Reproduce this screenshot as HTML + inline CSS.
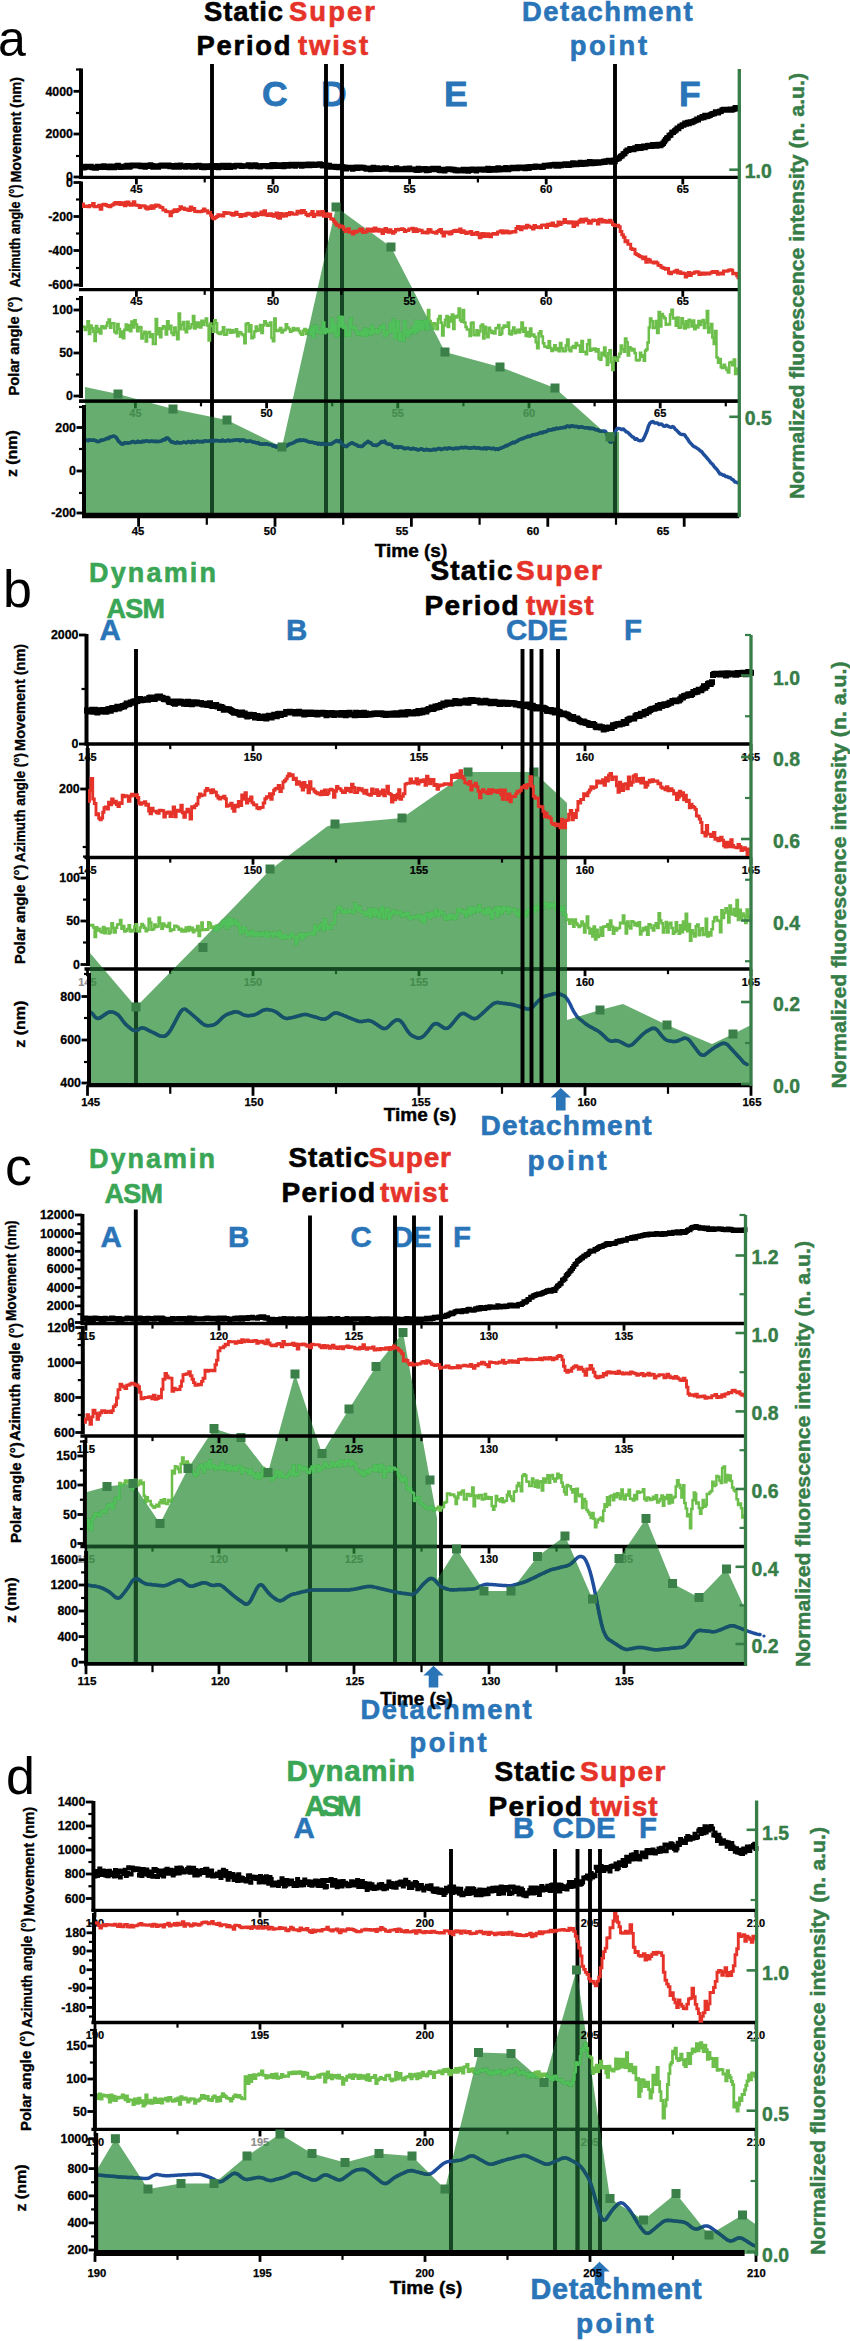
<!DOCTYPE html>
<html><head><meta charset="utf-8"><title>Figure</title>
<style>html,body{margin:0;padding:0;background:#fff}svg{display:block}text{font-family:"Liberation Sans", sans-serif}</style>
</head><body>
<svg width="850" height="2341" viewBox="0 0 850 2341" font-family='"Liberation Sans", sans-serif'>
<text x="262" y="106.3" font-size="35.5" fill="#2a74b8" font-weight="bold" stroke="#2a74b8" stroke-width="0.78">C</text>
<text x="321" y="106.3" font-size="35.5" fill="#2a74b8" font-weight="bold" stroke="#2a74b8" stroke-width="0.78">D</text>
<text x="444" y="106.3" font-size="35.5" fill="#2a74b8" font-weight="bold" stroke="#2a74b8" stroke-width="0.78">E</text>
<text x="679" y="106.3" font-size="35.5" fill="#2a74b8" font-weight="bold" stroke="#2a74b8" stroke-width="0.78">F</text>
<line x1="212" y1="64" x2="212" y2="515" stroke="#000" stroke-width="3.9" stroke-linecap="butt"/>
<line x1="326" y1="64" x2="326" y2="515" stroke="#000" stroke-width="3.9" stroke-linecap="butt"/>
<line x1="342" y1="64" x2="342" y2="515" stroke="#000" stroke-width="3.9" stroke-linecap="butt"/>
<line x1="615" y1="64" x2="615" y2="515" stroke="#000" stroke-width="3.9" stroke-linecap="butt"/>
<line x1="79" y1="401.2" x2="739.3" y2="401.2" stroke="#000" stroke-width="3.3" stroke-linecap="butt"/>
<line x1="135.4" y1="401.2" x2="135.4" y2="408.34999999999997" stroke="#000" stroke-width="2.8" stroke-linecap="butt"/>
<line x1="266.6" y1="401.2" x2="266.6" y2="408.34999999999997" stroke="#000" stroke-width="2.8" stroke-linecap="butt"/>
<line x1="397.8" y1="401.2" x2="397.8" y2="408.34999999999997" stroke="#000" stroke-width="2.8" stroke-linecap="butt"/>
<line x1="529" y1="401.2" x2="529" y2="408.34999999999997" stroke="#000" stroke-width="2.8" stroke-linecap="butt"/>
<line x1="660.2" y1="401.2" x2="660.2" y2="408.34999999999997" stroke="#000" stroke-width="2.8" stroke-linecap="butt"/>
<line x1="201.0" y1="401.2" x2="201.0" y2="406.34999999999997" stroke="#000" stroke-width="2.2" stroke-linecap="butt"/>
<line x1="332.20000000000005" y1="401.2" x2="332.20000000000005" y2="406.34999999999997" stroke="#000" stroke-width="2.2" stroke-linecap="butt"/>
<line x1="463.4" y1="401.2" x2="463.4" y2="406.34999999999997" stroke="#000" stroke-width="2.2" stroke-linecap="butt"/>
<line x1="594.6" y1="401.2" x2="594.6" y2="406.34999999999997" stroke="#000" stroke-width="2.2" stroke-linecap="butt"/>
<line x1="725.8" y1="401.2" x2="725.8" y2="406.34999999999997" stroke="#000" stroke-width="2.2" stroke-linecap="butt"/>
<text x="135.4" y="416.8" font-size="11" fill="#000" font-weight="bold" text-anchor="middle" textLength="12.2" lengthAdjust="spacingAndGlyphs" stroke="#000" stroke-width="0.24" opacity="0.45">45</text>
<text x="266.6" y="416.8" font-size="11" fill="#000" font-weight="bold" text-anchor="middle" textLength="12.2" lengthAdjust="spacingAndGlyphs" stroke="#000" stroke-width="0.24">50</text>
<text x="397.8" y="416.8" font-size="11" fill="#000" font-weight="bold" text-anchor="middle" textLength="12.2" lengthAdjust="spacingAndGlyphs" stroke="#000" stroke-width="0.24" opacity="0.45">55</text>
<text x="529" y="416.8" font-size="11" fill="#000" font-weight="bold" text-anchor="middle" textLength="12.2" lengthAdjust="spacingAndGlyphs" stroke="#000" stroke-width="0.24" opacity="0.45">60</text>
<text x="660.2" y="416.8" font-size="11" fill="#000" font-weight="bold" text-anchor="middle" textLength="12.2" lengthAdjust="spacingAndGlyphs" stroke="#000" stroke-width="0.24">65</text>
<polyline points="82.0,326.6 83.4,326.6 83.4,326.9 84.8,326.9 84.8,330.0 86.2,330.0 86.2,327.1 87.5,327.1 87.5,321.2 88.9,321.2 88.9,333.9 90.3,333.9 90.3,325.4 91.7,325.4 91.7,328.3 93.1,328.3 93.1,331.7 94.5,331.7 94.5,341.0 95.8,341.0 95.8,325.9 97.2,325.9 97.2,332.1 98.6,332.1 98.6,328.8 100.0,328.8 100.0,333.5 101.4,333.5 101.4,326.3 102.9,326.3 102.9,327.6 104.3,327.6 104.3,328.3 105.7,328.3 105.7,325.9 107.1,325.9 107.1,322.4 108.6,322.4 108.6,319.4 110.0,319.4 110.0,327.7 111.4,327.7 111.4,323.2 112.9,323.2 112.9,323.2 114.3,323.2 114.3,331.8 115.7,331.8 115.7,333.2 117.1,333.2 117.1,324.1 118.6,324.1 118.6,329.1 120.0,329.1 120.0,336.8 121.4,336.8 121.4,331.6 122.9,331.6 122.9,338.2 124.3,338.2 124.3,329.7 125.7,329.7 125.7,324.6 127.1,324.6 127.1,330.1 128.6,330.1 128.6,325.3 130.0,325.3 130.0,331.2 131.4,331.2 131.4,321.4 132.9,321.4 132.9,327.6 134.3,327.6 134.3,320.3 135.7,320.3 135.7,324.5 137.1,324.5 137.1,331.2 138.6,331.2 138.6,327.0 140.0,327.0 140.0,327.3 141.4,327.3 141.4,338.5 142.9,338.5 142.9,333.9 144.3,333.9 144.3,331.8 145.7,331.8 145.7,341.6 147.1,341.6 147.1,333.1 148.6,333.1 148.6,331.9 150.0,331.9 150.0,337.1 151.4,337.1 151.4,334.2 152.9,334.2 152.9,344.1 154.3,344.1 154.3,343.9 155.7,343.9 155.7,318.9 157.1,318.9 157.1,334.2 158.6,334.2 158.6,328.3 160.0,328.3 160.0,337.2 161.4,337.2 161.4,328.7 162.9,328.7 162.9,326.2 164.3,326.2 164.3,327.0 165.7,327.0 165.7,334.5 167.1,334.5 167.1,321.3 168.6,321.3 168.6,329.0 170.0,329.0 170.0,325.8 171.4,325.8 171.4,332.9 172.9,332.9 172.9,334.9 174.3,334.9 174.3,327.4 175.7,327.4 175.7,332.3 177.1,332.3 177.1,339.2 178.6,339.2 178.6,313.4 180.0,313.4 180.0,329.3 181.4,329.3 181.4,324.8 182.9,324.8 182.9,322.0 184.3,322.0 184.3,329.4 185.7,329.4 185.7,332.2 187.1,332.2 187.1,321.7 188.6,321.7 188.6,328.6 190.0,328.6 190.0,327.4 191.4,327.4 191.4,324.3 192.9,324.3 192.9,316.1 194.3,316.1 194.3,328.6 195.7,328.6 195.7,322.5 197.1,322.5 197.1,326.9 198.6,326.9 198.6,322.5 200.0,322.5 200.0,327.5 201.4,327.5 201.4,320.7 202.9,320.7 202.9,324.9 204.3,324.9 204.3,321.8 205.7,321.8 205.7,318.5 207.1,318.5 207.1,325.6 208.6,325.6 208.6,340.5 210.0,340.5 210.0,323.5 211.4,323.5 211.4,326.2 212.9,326.2 212.9,331.7 214.3,331.7 214.3,320.3 215.7,320.3 215.7,323.2 217.1,323.2 217.1,332.4 218.6,332.4 218.6,333.8 220.0,333.8 220.0,333.9 221.4,333.9 221.4,331.7 222.9,331.7 222.9,327.3 224.3,327.3 224.3,334.8 225.7,334.8 225.7,334.5 227.1,334.5 227.1,329.7 228.6,329.7 228.6,329.7 230.0,329.7 230.0,332.7 231.4,332.7 231.4,330.3 232.9,330.3 232.9,332.6 234.3,332.6 234.3,331.5 235.7,331.5 235.7,329.3 237.1,329.3 237.1,336.3 238.6,336.3 238.6,331.9 240.0,331.9 240.0,332.5 241.4,332.5 241.4,334.2 242.9,334.2 242.9,335.2 244.3,335.2 244.3,343.3 245.7,343.3 245.7,324.0 247.1,324.0 247.1,323.3 248.6,323.3 248.6,331.4 250.0,331.4 250.0,325.2 251.4,325.2 251.4,338.2 252.9,338.2 252.9,337.0 254.3,337.0 254.3,331.5 255.7,331.5 255.7,326.5 257.1,326.5 257.1,330.8 258.6,330.8 258.6,329.4 260.0,329.4 260.0,325.1 261.4,325.1 261.4,333.1 262.9,333.1 262.9,325.3 264.3,325.3 264.3,321.3 265.7,321.3 265.7,323.6 267.1,323.6 267.1,325.7 268.6,325.7 268.6,325.3 270.0,325.3 270.0,322.5 271.4,322.5 271.4,337.9 272.9,337.9 272.9,341.2 274.3,341.2 274.3,318.5 275.7,318.5 275.7,330.7 277.1,330.7 277.1,331.0 278.6,331.0 278.6,329.8 280.0,329.8 280.0,327.9 281.4,327.9 281.4,332.5 282.9,332.5 282.9,330.5 284.3,330.5 284.3,329.7 285.7,329.7 285.7,324.3 287.1,324.3 287.1,327.6 288.6,327.6 288.6,328.9 290.0,328.9 290.0,331.8 291.4,331.8 291.4,330.7 292.9,330.7 292.9,328.1 294.3,328.1 294.3,330.3 295.7,330.3 295.7,329.6 297.1,329.6 297.1,328.4 298.6,328.4 298.6,331.0 300.0,331.0 300.0,333.3 301.4,333.3 301.4,334.7 302.9,334.7 302.9,330.8 304.3,330.8 304.3,329.0 305.7,329.0 305.7,334.0 307.1,334.0 307.1,329.9 308.6,329.9 308.6,330.5 310.0,330.5 310.0,334.3 311.4,334.3 311.4,327.8 312.9,327.8 312.9,336.7 314.3,336.7 314.3,325.8 315.7,325.8 315.7,326.1 317.1,326.1 317.1,331.9 318.6,331.9 318.6,332.2 320.0,332.2 320.0,333.3 321.4,333.3 321.4,327.9 322.9,327.9 322.9,322.2 324.3,322.2 324.3,333.2 325.7,333.2 325.7,328.9 327.1,328.9 327.1,332.0 328.6,332.0 328.6,329.8 330.0,329.8 330.0,332.3 331.4,332.3 331.4,318.9 332.9,318.9 332.9,331.6 334.3,331.6 334.3,324.8 335.7,324.8 335.7,336.3 337.1,336.3 337.1,335.1 338.6,335.1 338.6,316.6 340.0,316.6 340.0,326.6 341.4,326.6 341.4,316.7 342.9,316.7 342.9,327.9 344.3,327.9 344.3,325.0 345.7,325.0 345.7,335.5 347.1,335.5 347.1,331.9 348.6,331.9 348.6,335.7 350.0,335.7 350.0,318.4 351.4,318.4 351.4,326.9 352.9,326.9 352.9,328.6 354.3,328.6 354.3,326.9 355.7,326.9 355.7,331.4 357.1,331.4 357.1,334.4 358.6,334.4 358.6,332.6 360.0,332.6 360.0,334.0 361.4,334.0 361.4,331.9 362.9,331.9 362.9,335.4 364.3,335.4 364.3,328.4 365.7,328.4 365.7,335.4 367.1,335.4 367.1,329.7 368.6,329.7 368.6,332.1 370.0,332.1 370.0,334.4 371.4,334.4 371.4,326.1 372.9,326.1 372.9,332.8 374.3,332.8 374.3,331.6 375.7,331.6 375.7,329.4 377.1,329.4 377.1,333.0 378.6,333.0 378.6,331.6 380.0,331.6 380.0,326.8 381.4,326.8 381.4,328.3 382.9,328.3 382.9,325.0 384.3,325.0 384.3,335.9 385.7,335.9 385.7,334.8 387.1,334.8 387.1,331.5 388.6,331.5 388.6,332.1 390.0,332.1 390.0,323.2 391.4,323.2 391.4,331.1 392.9,331.1 392.9,319.8 394.3,319.8 394.3,337.8 395.7,337.8 395.7,330.6 397.1,330.6 397.1,321.2 398.6,321.2 398.6,340.0 400.0,340.0 400.0,332.9 401.4,332.9 401.4,340.1 402.8,340.1 402.8,340.4 404.2,340.4 404.2,321.2 405.6,321.2 405.6,331.8 406.9,331.8 406.9,336.1 408.3,336.1 408.3,330.4 409.7,330.4 409.7,333.6 411.1,333.6 411.1,329.9 412.5,329.9 412.5,327.2 413.9,327.2 413.9,333.0 415.3,333.0 415.3,321.0 416.7,321.0 416.7,330.9 418.1,330.9 418.1,321.5 419.4,321.5 419.4,329.0 420.8,329.0 420.8,321.5 422.2,321.5 422.2,328.8 423.6,328.8 423.6,321.6 425.0,321.6 425.0,321.0 426.4,321.0 426.4,329.4 427.9,329.4 427.9,310.1 429.3,310.1 429.3,320.9 430.7,320.9 430.7,323.6 432.1,323.6 432.1,328.8 433.6,328.8 433.6,323.3 435.0,323.3 435.0,324.2 436.4,324.2 436.4,329.2 437.9,329.2 437.9,318.9 439.3,318.9 439.3,315.9 440.7,315.9 440.7,322.8 442.1,322.8 442.1,335.6 443.6,335.6 443.6,325.6 445.0,325.6 445.0,319.8 446.4,319.8 446.4,315.9 447.7,315.9 447.7,326.9 449.1,326.9 449.1,317.3 450.5,317.3 450.5,321.5 451.8,321.5 451.8,314.4 453.2,314.4 453.2,329.0 454.5,329.0 454.5,316.0 455.9,316.0 455.9,317.4 457.3,317.4 457.3,315.8 458.6,315.8 458.6,308.6 460.0,308.6 460.0,320.2 461.4,320.2 461.4,321.7 462.7,321.7 462.7,310.0 464.1,310.0 464.1,322.5 465.5,322.5 465.5,327.0 466.8,327.0 466.8,329.5 468.2,329.5 468.2,329.6 469.5,329.6 469.5,335.9 470.9,335.9 470.9,323.1 472.3,323.1 472.3,322.4 473.6,322.4 473.6,335.1 475.0,335.1 475.0,335.2 476.4,335.2 476.4,330.3 477.7,330.3 477.7,335.3 479.1,335.3 479.1,331.4 480.5,331.4 480.5,326.1 481.8,326.1 481.8,324.6 483.2,324.6 483.2,338.5 484.5,338.5 484.5,326.8 485.9,326.8 485.9,333.6 487.3,333.6 487.3,337.2 488.6,337.2 488.6,327.7 490.0,327.7 490.0,330.4 491.4,330.4 491.4,332.9 492.7,332.9 492.7,331.5 494.1,331.5 494.1,333.5 495.5,333.5 495.5,328.2 496.8,328.2 496.8,327.8 498.2,327.8 498.2,325.0 499.5,325.0 499.5,334.8 500.9,334.8 500.9,333.5 502.3,333.5 502.3,328.1 503.6,328.1 503.6,325.6 505.0,325.6 505.0,326.7 506.4,326.7 506.4,326.8 507.7,326.8 507.7,322.6 509.1,322.6 509.1,333.7 510.5,333.7 510.5,334.4 511.8,334.4 511.8,330.8 513.2,330.8 513.2,327.4 514.5,327.4 514.5,333.3 515.9,333.3 515.9,331.4 517.3,331.4 517.3,329.7 518.6,329.7 518.6,332.6 520.0,332.6 520.0,329.4 521.4,329.4 521.4,322.5 522.9,322.5 522.9,331.8 524.3,331.8 524.3,328.0 525.7,328.0 525.7,335.9 527.1,335.9 527.1,331.9 528.6,331.9 528.6,336.5 530.0,336.5 530.0,328.5 531.4,328.5 531.4,335.5 532.9,335.5 532.9,334.4 534.3,334.4 534.3,336.8 535.7,336.8 535.7,342.2 537.1,342.2 537.1,348.3 538.6,348.3 538.6,333.2 540.0,333.2 540.0,331.2 541.4,331.2 541.4,336.4 542.9,336.4 542.9,343.2 544.3,343.2 544.3,346.6 545.7,346.6 545.7,346.8 547.1,346.8 547.1,347.7 548.6,347.7 548.6,341.3 550.0,341.3 550.0,348.1 551.4,348.1 551.4,351.0 552.9,351.0 552.9,349.2 554.3,349.2 554.3,345.3 555.7,345.3 555.7,349.9 557.1,349.9 557.1,348.2 558.6,348.2 558.6,351.2 560.0,351.2 560.0,343.0 561.4,343.0 561.4,348.3 562.9,348.3 562.9,351.3 564.3,351.3 564.3,351.2 565.7,351.2 565.7,345.4 567.1,345.4 567.1,339.5 568.6,339.5 568.6,350.1 570.0,350.1 570.0,351.2 571.4,351.2 571.4,347.4 572.9,347.4 572.9,345.9 574.3,345.9 574.3,348.0 575.7,348.0 575.7,343.1 577.1,343.1 577.1,345.6 578.6,345.6 578.6,345.6 580.0,345.6 580.0,351.7 581.4,351.7 581.4,341.1 582.9,341.1 582.9,351.7 584.3,351.7 584.3,351.8 585.7,351.8 585.7,354.2 587.1,354.2 587.1,344.3 588.6,344.3 588.6,339.9 590.0,339.9 590.0,350.7 591.4,350.7 591.4,348.7 592.9,348.7 592.9,349.7 594.3,349.7 594.3,348.5 595.7,348.5 595.7,351.4 597.1,351.4 597.1,349.2 598.6,349.2 598.6,358.4 600.0,358.4 600.0,359.8 601.4,359.8 601.4,352.8 602.7,352.8 602.7,355.2 604.1,355.2 604.1,347.5 605.5,347.5 605.5,356.3 606.8,356.3 606.8,365.1 608.2,365.1 608.2,353.2 609.5,353.2 609.5,350.3 610.9,350.3 610.9,362.3 612.3,362.3 612.3,370.1 613.6,370.1 613.6,357.5 615.0,357.5 615.0,358.8 616.4,358.8 616.4,360.7 617.9,360.7 617.9,357.0 619.3,357.0 619.3,353.7 620.7,353.7 620.7,345.4 622.1,345.4 622.1,348.9 623.6,348.9 623.6,351.7 625.0,351.7 625.0,338.6 626.4,338.6 626.4,342.2 627.7,342.2 627.7,355.6 629.1,355.6 629.1,347.2 630.5,347.2 630.5,348.4 631.8,348.4 631.8,350.5 633.2,350.5 633.2,349.0 634.5,349.0 634.5,353.1 635.9,353.1 635.9,360.0 637.3,360.0 637.3,360.6 638.6,360.6 638.6,360.0 640.0,360.0 640.0,352.8 641.2,352.8 641.2,356.8 642.5,356.8 642.5,355.2 643.8,355.2 643.8,360.8 645.0,360.8 645.0,350.7 646.2,350.7 646.2,349.6 647.5,349.6 647.5,342.4 648.8,342.4 648.8,327.4 650.0,327.4 650.0,318.5 651.4,318.5 651.4,321.3 652.9,321.3 652.9,327.9 654.3,327.9 654.3,327.4 655.7,327.4 655.7,321.1 657.1,321.1 657.1,333.0 658.6,333.0 658.6,312.0 660.0,312.0 660.0,326.6 661.4,326.6 661.4,313.9 662.9,313.9 662.9,316.4 664.3,316.4 664.3,318.2 665.7,318.2 665.7,324.8 667.1,324.8 667.1,324.1 668.6,324.1 668.6,324.4 670.0,324.4 670.0,314.4 671.4,314.4 671.4,309.8 672.9,309.8 672.9,318.4 674.3,318.4 674.3,317.9 675.7,317.9 675.7,325.7 677.1,325.7 677.1,317.5 678.6,317.5 678.6,327.7 680.0,327.7 680.0,327.4 681.4,327.4 681.4,318.2 682.9,318.2 682.9,323.8 684.3,323.8 684.3,328.6 685.7,328.6 685.7,321.2 687.1,321.2 687.1,327.2 688.6,327.2 688.6,319.7 690.0,319.7 690.0,321.4 691.4,321.4 691.4,326.6 692.8,326.6 692.8,320.6 694.2,320.6 694.2,329.2 695.6,329.2 695.6,325.6 697.0,325.6 697.0,327.5 698.4,327.5 698.4,320.9 699.8,320.9 699.8,324.9 701.2,324.9 701.2,321.8 702.6,321.8 702.6,320.0 704.0,320.0 704.0,327.9 705.4,327.9 705.4,322.7 706.8,322.7 706.8,311.1 708.2,311.1 708.2,332.6 709.6,332.6 709.6,327.6 711.0,327.6 711.0,324.0 712.3,324.0 712.3,337.4 713.7,337.4 713.7,344.0 715.0,344.0 715.0,330.9 716.5,330.9 716.5,357.6 718.0,357.6 718.0,362.8 719.4,362.8 719.4,359.0 720.8,359.0 720.8,367.3 722.2,367.3 722.2,367.9 723.6,367.9 723.6,364.8 725.0,364.8 725.0,367.6 726.4,367.6 726.4,369.9 727.9,369.9 727.9,372.4 729.3,372.4 729.3,362.8 730.8,362.8 730.8,362.0 732.2,362.0 732.2,365.3 733.7,365.3 733.7,359.5 735.1,359.5 735.1,373.9 736.6,373.9 736.6,369.1 738.0,369.1 738.0,367.2" fill="none" stroke="#6dbf4b" stroke-width="2.5" stroke-linejoin="miter" stroke-linecap="miter"/>
<polyline points="85.0,439.9 86.5,440.0 88.0,440.7 89.5,439.8 91.0,440.3 92.5,440.3 94.0,440.0 95.5,440.6 97.0,441.4 98.5,441.6 100.0,441.0 101.4,439.9 102.9,440.2 104.3,439.6 105.7,439.0 107.1,438.2 108.6,438.5 110.0,437.0 111.7,436.6 113.3,436.1 115.0,436.4 116.7,438.0 118.3,440.9 120.0,442.5 121.5,443.9 123.0,444.1 124.5,442.8 126.0,442.9 127.5,443.1 129.0,442.9 130.5,442.6 132.0,441.8 133.5,441.6 135.0,442.6 136.5,442.2 137.9,441.3 139.4,442.1 140.9,442.2 142.4,441.2 143.8,441.7 145.3,441.1 146.8,440.9 148.2,441.3 149.7,441.5 151.2,441.1 152.6,441.2 154.1,441.4 155.6,441.3 157.1,441.6 158.5,441.4 160.0,441.2 161.6,440.9 163.2,439.6 164.8,439.8 166.4,438.0 168.0,438.2 169.7,440.1 171.3,441.9 173.0,442.1 174.5,442.8 176.0,443.0 177.5,442.1 179.0,443.1 180.5,442.7 182.0,442.8 183.5,442.0 185.0,442.4 186.5,442.7 188.0,441.6 189.5,441.7 191.0,442.6 192.5,441.3 194.0,442.4 195.5,441.7 197.0,441.3 198.5,441.5 200.0,441.8 201.5,441.3 203.0,442.0 204.5,440.7 206.0,441.1 207.5,441.3 209.0,440.9 210.5,441.2 212.0,440.3 213.5,441.6 214.9,440.4 216.4,440.5 217.9,440.8 219.4,440.8 220.8,441.3 222.3,440.0 223.8,441.0 225.3,440.9 226.7,440.7 228.2,440.1 229.7,440.9 231.2,440.6 232.6,440.6 234.1,440.2 235.6,439.9 237.1,440.0 238.5,439.8 240.0,440.8 241.5,440.1 243.0,440.1 244.5,440.2 246.0,441.5 247.5,441.2 249.0,441.2 250.5,441.1 252.0,441.7 253.5,442.3 255.0,442.3 256.5,442.9 258.0,442.6 259.5,443.9 261.0,443.9 262.5,444.3 264.0,444.0 265.5,443.9 267.0,443.8 268.5,444.4 270.0,444.6 271.5,444.9 273.0,446.1 274.5,445.5 276.0,446.9 277.5,446.0 279.0,447.4 280.5,446.7 282.0,447.2 283.5,447.1 285.0,445.8 286.5,446.0 288.0,444.9 289.5,444.1 291.0,443.6 292.5,443.3 294.0,442.5 295.5,441.5 297.0,440.6 298.5,440.7 300.0,439.7 301.5,440.6 303.0,440.0 304.5,440.4 306.0,440.6 307.5,441.4 309.0,441.9 310.5,442.3 312.0,442.2 313.5,442.4 315.0,443.3 316.5,442.9 318.0,444.1 319.5,443.3 321.0,444.4 322.5,443.3 324.0,444.4 325.5,444.2 327.0,444.2 328.5,444.2 330.0,444.1 331.6,444.0 333.2,442.6 334.8,441.8 336.4,440.5 338.0,441.4 339.4,440.7 340.8,442.4 342.2,444.2 343.6,445.4 345.0,446.1 346.4,446.6 347.8,445.3 349.2,444.2 350.6,443.5 352.0,442.8 353.6,443.7 355.2,444.4 356.8,445.0 358.4,446.3 360.0,446.3 361.6,446.4 363.2,445.6 364.8,443.7 366.4,442.8 368.0,441.4 369.4,442.5 370.8,442.8 372.2,444.5 373.6,445.3 375.0,445.3 376.6,445.5 378.2,444.5 379.8,443.4 381.4,441.6 383.0,442.3 384.5,441.1 386.0,443.2 387.5,443.8 389.0,444.3 390.5,444.3 392.0,444.9 393.5,446.8 395.0,447.3 396.5,446.5 398.0,447.7 399.5,446.8 401.0,447.2 402.5,447.2 404.0,448.6 405.5,448.6 407.0,448.2 408.5,448.2 410.0,448.8 411.5,449.0 413.0,448.3 414.5,448.9 416.0,448.9 417.5,449.9 419.0,449.7 420.5,449.1 422.0,449.1 423.5,449.9 425.0,450.0 426.5,449.2 428.0,450.0 429.4,449.8 430.9,450.3 432.4,449.8 433.9,449.2 435.4,450.0 436.9,449.1 438.3,448.7 439.8,448.4 441.3,449.6 442.8,449.0 444.3,448.4 445.7,448.2 447.2,449.0 448.7,447.9 450.2,448.2 451.7,448.4 453.1,448.9 454.6,448.5 456.1,448.1 457.6,448.7 459.1,448.1 460.6,447.6 462.0,447.5 463.5,447.8 465.0,447.3 466.5,447.6 468.0,447.8 469.6,448.3 471.1,448.1 472.6,447.8 474.1,447.4 475.7,448.0 477.2,448.1 478.7,447.7 480.2,448.6 481.7,448.4 483.3,448.8 484.8,447.7 486.3,448.9 487.8,448.0 489.3,448.2 490.9,448.4 492.4,448.7 493.9,448.2 495.4,449.5 497.0,448.8 498.5,449.4 500.0,448.3 501.5,448.1 502.9,447.3 504.4,446.7 505.9,445.6 507.4,445.7 508.8,444.5 510.3,443.9 511.8,443.2 513.2,442.3 514.7,442.7 516.2,441.5 517.6,441.0 519.1,439.6 520.6,439.3 522.1,438.6 523.5,438.4 525.0,437.4 526.5,437.2 527.9,436.2 529.4,436.5 530.9,436.0 532.4,434.7 533.8,434.7 535.3,434.4 536.8,434.3 538.2,433.7 539.7,433.0 541.2,432.5 542.6,432.8 544.1,431.8 545.6,431.8 547.1,431.2 548.5,429.8 550.0,430.1 551.5,430.1 553.1,429.0 554.6,429.5 556.2,428.2 557.7,428.6 559.2,428.4 560.8,427.8 562.3,427.8 563.8,427.3 565.4,427.4 566.9,426.1 568.5,426.3 570.0,426.8 571.5,425.8 572.9,426.0 574.4,426.6 575.9,426.6 577.4,426.6 578.8,427.5 580.3,426.9 581.8,426.8 583.2,427.4 584.7,427.7 586.2,427.8 587.6,427.7 589.1,428.4 590.6,428.2 592.1,428.5 593.5,428.6 595.0,429.5 596.5,429.7 598.0,430.0 599.5,430.9 601.0,431.3 602.5,431.1 604.0,431.0 605.5,431.5 607.0,434.0 608.5,438.8 610.0,441.9 611.3,442.2 612.7,438.6 614.0,435.1 615.5,431.3 617.0,428.5 618.6,428.6 620.2,428.7 621.8,429.6 623.4,429.0 625.0,430.6 626.4,431.9 627.8,432.4 629.2,433.9 630.6,435.1 632.0,436.6 633.6,437.3 635.2,439.3 636.8,438.7 638.4,440.4 640.0,440.7 641.3,440.6 642.7,440.2 644.0,437.9 645.5,434.5 647.0,431.0 648.5,426.0 650.0,423.1 651.5,422.0 653.0,421.6 654.5,423.0 656.0,423.1 657.5,423.0 659.0,424.6 660.5,424.1 662.0,424.3 663.5,426.0 665.0,426.2 666.5,425.3 668.0,426.2 669.5,426.9 671.0,427.3 672.5,426.6 674.0,427.4 675.5,429.5 677.0,430.7 678.5,432.4 680.0,433.8 681.5,434.5 683.0,434.6 684.5,434.7 686.0,437.0 687.7,439.1 689.3,441.8 691.0,443.6 692.5,445.2 694.0,446.6 695.5,447.2 697.0,448.3 698.6,449.2 700.2,450.7 701.8,451.7 703.4,454.1 705.0,455.7 706.5,457.5 708.0,459.2 709.5,461.0 711.0,463.0 712.5,464.2 714.0,466.3 715.5,468.0 717.0,469.6 718.5,471.7 720.0,474.0 721.4,474.0 722.9,475.3 724.3,475.1 725.7,476.6 727.1,476.6 728.6,477.4 730.0,477.5 731.6,479.1 733.2,479.8 734.8,481.9 736.4,482.3 738.0,482.9" fill="none" stroke="#1f4e9c" stroke-width="3.5" stroke-linejoin="round" stroke-linecap="round"/>
<polygon points="85.0,387.0 118.0,394.0 173.0,409.0 227.0,420.0 282.0,447.0 336.0,207.0 391.0,247.0 445.0,352.0 500.0,367.0 555.0,388.0 604.0,432.0 619.0,432.0 619.0,516.0 85.0,516.0" fill="#278a33" fill-opacity="0.7"/>
<clipPath id="cp1"><polygon points="85.0,387.0 118.0,394.0 173.0,409.0 227.0,420.0 282.0,447.0 336.0,207.0 391.0,247.0 445.0,352.0 500.0,367.0 555.0,388.0 604.0,432.0 619.0,432.0 619.0,516.0 85.0,516.0"/></clipPath>
<line clip-path="url(#cp1)" x1="212" y1="64" x2="212" y2="515" stroke="#164524" stroke-width="3.9"/>
<line clip-path="url(#cp1)" x1="326" y1="64" x2="326" y2="515" stroke="#164524" stroke-width="3.9"/>
<line clip-path="url(#cp1)" x1="342" y1="64" x2="342" y2="515" stroke="#164524" stroke-width="3.9"/>
<line clip-path="url(#cp1)" x1="615" y1="64" x2="615" y2="515" stroke="#164524" stroke-width="3.9"/>
<polyline clip-path="url(#cp1)" points="85.0,439.9 86.5,440.0 88.0,440.7 89.5,439.8 91.0,440.3 92.5,440.3 94.0,440.0 95.5,440.6 97.0,441.4 98.5,441.6 100.0,441.0 101.4,439.9 102.9,440.2 104.3,439.6 105.7,439.0 107.1,438.2 108.6,438.5 110.0,437.0 111.7,436.6 113.3,436.1 115.0,436.4 116.7,438.0 118.3,440.9 120.0,442.5 121.5,443.9 123.0,444.1 124.5,442.8 126.0,442.9 127.5,443.1 129.0,442.9 130.5,442.6 132.0,441.8 133.5,441.6 135.0,442.6 136.5,442.2 137.9,441.3 139.4,442.1 140.9,442.2 142.4,441.2 143.8,441.7 145.3,441.1 146.8,440.9 148.2,441.3 149.7,441.5 151.2,441.1 152.6,441.2 154.1,441.4 155.6,441.3 157.1,441.6 158.5,441.4 160.0,441.2 161.6,440.9 163.2,439.6 164.8,439.8 166.4,438.0 168.0,438.2 169.7,440.1 171.3,441.9 173.0,442.1 174.5,442.8 176.0,443.0 177.5,442.1 179.0,443.1 180.5,442.7 182.0,442.8 183.5,442.0 185.0,442.4 186.5,442.7 188.0,441.6 189.5,441.7 191.0,442.6 192.5,441.3 194.0,442.4 195.5,441.7 197.0,441.3 198.5,441.5 200.0,441.8 201.5,441.3 203.0,442.0 204.5,440.7 206.0,441.1 207.5,441.3 209.0,440.9 210.5,441.2 212.0,440.3 213.5,441.6 214.9,440.4 216.4,440.5 217.9,440.8 219.4,440.8 220.8,441.3 222.3,440.0 223.8,441.0 225.3,440.9 226.7,440.7 228.2,440.1 229.7,440.9 231.2,440.6 232.6,440.6 234.1,440.2 235.6,439.9 237.1,440.0 238.5,439.8 240.0,440.8 241.5,440.1 243.0,440.1 244.5,440.2 246.0,441.5 247.5,441.2 249.0,441.2 250.5,441.1 252.0,441.7 253.5,442.3 255.0,442.3 256.5,442.9 258.0,442.6 259.5,443.9 261.0,443.9 262.5,444.3 264.0,444.0 265.5,443.9 267.0,443.8 268.5,444.4 270.0,444.6 271.5,444.9 273.0,446.1 274.5,445.5 276.0,446.9 277.5,446.0 279.0,447.4 280.5,446.7 282.0,447.2 283.5,447.1 285.0,445.8 286.5,446.0 288.0,444.9 289.5,444.1 291.0,443.6 292.5,443.3 294.0,442.5 295.5,441.5 297.0,440.6 298.5,440.7 300.0,439.7 301.5,440.6 303.0,440.0 304.5,440.4 306.0,440.6 307.5,441.4 309.0,441.9 310.5,442.3 312.0,442.2 313.5,442.4 315.0,443.3 316.5,442.9 318.0,444.1 319.5,443.3 321.0,444.4 322.5,443.3 324.0,444.4 325.5,444.2 327.0,444.2 328.5,444.2 330.0,444.1 331.6,444.0 333.2,442.6 334.8,441.8 336.4,440.5 338.0,441.4 339.4,440.7 340.8,442.4 342.2,444.2 343.6,445.4 345.0,446.1 346.4,446.6 347.8,445.3 349.2,444.2 350.6,443.5 352.0,442.8 353.6,443.7 355.2,444.4 356.8,445.0 358.4,446.3 360.0,446.3 361.6,446.4 363.2,445.6 364.8,443.7 366.4,442.8 368.0,441.4 369.4,442.5 370.8,442.8 372.2,444.5 373.6,445.3 375.0,445.3 376.6,445.5 378.2,444.5 379.8,443.4 381.4,441.6 383.0,442.3 384.5,441.1 386.0,443.2 387.5,443.8 389.0,444.3 390.5,444.3 392.0,444.9 393.5,446.8 395.0,447.3 396.5,446.5 398.0,447.7 399.5,446.8 401.0,447.2 402.5,447.2 404.0,448.6 405.5,448.6 407.0,448.2 408.5,448.2 410.0,448.8 411.5,449.0 413.0,448.3 414.5,448.9 416.0,448.9 417.5,449.9 419.0,449.7 420.5,449.1 422.0,449.1 423.5,449.9 425.0,450.0 426.5,449.2 428.0,450.0 429.4,449.8 430.9,450.3 432.4,449.8 433.9,449.2 435.4,450.0 436.9,449.1 438.3,448.7 439.8,448.4 441.3,449.6 442.8,449.0 444.3,448.4 445.7,448.2 447.2,449.0 448.7,447.9 450.2,448.2 451.7,448.4 453.1,448.9 454.6,448.5 456.1,448.1 457.6,448.7 459.1,448.1 460.6,447.6 462.0,447.5 463.5,447.8 465.0,447.3 466.5,447.6 468.0,447.8 469.6,448.3 471.1,448.1 472.6,447.8 474.1,447.4 475.7,448.0 477.2,448.1 478.7,447.7 480.2,448.6 481.7,448.4 483.3,448.8 484.8,447.7 486.3,448.9 487.8,448.0 489.3,448.2 490.9,448.4 492.4,448.7 493.9,448.2 495.4,449.5 497.0,448.8 498.5,449.4 500.0,448.3 501.5,448.1 502.9,447.3 504.4,446.7 505.9,445.6 507.4,445.7 508.8,444.5 510.3,443.9 511.8,443.2 513.2,442.3 514.7,442.7 516.2,441.5 517.6,441.0 519.1,439.6 520.6,439.3 522.1,438.6 523.5,438.4 525.0,437.4 526.5,437.2 527.9,436.2 529.4,436.5 530.9,436.0 532.4,434.7 533.8,434.7 535.3,434.4 536.8,434.3 538.2,433.7 539.7,433.0 541.2,432.5 542.6,432.8 544.1,431.8 545.6,431.8 547.1,431.2 548.5,429.8 550.0,430.1 551.5,430.1 553.1,429.0 554.6,429.5 556.2,428.2 557.7,428.6 559.2,428.4 560.8,427.8 562.3,427.8 563.8,427.3 565.4,427.4 566.9,426.1 568.5,426.3 570.0,426.8 571.5,425.8 572.9,426.0 574.4,426.6 575.9,426.6 577.4,426.6 578.8,427.5 580.3,426.9 581.8,426.8 583.2,427.4 584.7,427.7 586.2,427.8 587.6,427.7 589.1,428.4 590.6,428.2 592.1,428.5 593.5,428.6 595.0,429.5 596.5,429.7 598.0,430.0 599.5,430.9 601.0,431.3 602.5,431.1 604.0,431.0 605.5,431.5 607.0,434.0 608.5,438.8 610.0,441.9 611.3,442.2 612.7,438.6 614.0,435.1 615.5,431.3 617.0,428.5 618.6,428.6 620.2,428.7 621.8,429.6 623.4,429.0 625.0,430.6 626.4,431.9 627.8,432.4 629.2,433.9 630.6,435.1 632.0,436.6 633.6,437.3 635.2,439.3 636.8,438.7 638.4,440.4 640.0,440.7 641.3,440.6 642.7,440.2 644.0,437.9 645.5,434.5 647.0,431.0 648.5,426.0 650.0,423.1 651.5,422.0 653.0,421.6 654.5,423.0 656.0,423.1 657.5,423.0 659.0,424.6 660.5,424.1 662.0,424.3 663.5,426.0 665.0,426.2 666.5,425.3 668.0,426.2 669.5,426.9 671.0,427.3 672.5,426.6 674.0,427.4 675.5,429.5 677.0,430.7 678.5,432.4 680.0,433.8 681.5,434.5 683.0,434.6 684.5,434.7 686.0,437.0 687.7,439.1 689.3,441.8 691.0,443.6 692.5,445.2 694.0,446.6 695.5,447.2 697.0,448.3 698.6,449.2 700.2,450.7 701.8,451.7 703.4,454.1 705.0,455.7 706.5,457.5 708.0,459.2 709.5,461.0 711.0,463.0 712.5,464.2 714.0,466.3 715.5,468.0 717.0,469.6 718.5,471.7 720.0,474.0 721.4,474.0 722.9,475.3 724.3,475.1 725.7,476.6 727.1,476.6 728.6,477.4 730.0,477.5 731.6,479.1 733.2,479.8 734.8,481.9 736.4,482.3 738.0,482.9" fill="none" stroke="#16506a" stroke-width="3.5" stroke-linejoin="round" stroke-linecap="round"/>
<polyline clip-path="url(#cp1)" points="82.0,326.6 83.4,326.6 83.4,326.9 84.8,326.9 84.8,330.0 86.2,330.0 86.2,327.1 87.5,327.1 87.5,321.2 88.9,321.2 88.9,333.9 90.3,333.9 90.3,325.4 91.7,325.4 91.7,328.3 93.1,328.3 93.1,331.7 94.5,331.7 94.5,341.0 95.8,341.0 95.8,325.9 97.2,325.9 97.2,332.1 98.6,332.1 98.6,328.8 100.0,328.8 100.0,333.5 101.4,333.5 101.4,326.3 102.9,326.3 102.9,327.6 104.3,327.6 104.3,328.3 105.7,328.3 105.7,325.9 107.1,325.9 107.1,322.4 108.6,322.4 108.6,319.4 110.0,319.4 110.0,327.7 111.4,327.7 111.4,323.2 112.9,323.2 112.9,323.2 114.3,323.2 114.3,331.8 115.7,331.8 115.7,333.2 117.1,333.2 117.1,324.1 118.6,324.1 118.6,329.1 120.0,329.1 120.0,336.8 121.4,336.8 121.4,331.6 122.9,331.6 122.9,338.2 124.3,338.2 124.3,329.7 125.7,329.7 125.7,324.6 127.1,324.6 127.1,330.1 128.6,330.1 128.6,325.3 130.0,325.3 130.0,331.2 131.4,331.2 131.4,321.4 132.9,321.4 132.9,327.6 134.3,327.6 134.3,320.3 135.7,320.3 135.7,324.5 137.1,324.5 137.1,331.2 138.6,331.2 138.6,327.0 140.0,327.0 140.0,327.3 141.4,327.3 141.4,338.5 142.9,338.5 142.9,333.9 144.3,333.9 144.3,331.8 145.7,331.8 145.7,341.6 147.1,341.6 147.1,333.1 148.6,333.1 148.6,331.9 150.0,331.9 150.0,337.1 151.4,337.1 151.4,334.2 152.9,334.2 152.9,344.1 154.3,344.1 154.3,343.9 155.7,343.9 155.7,318.9 157.1,318.9 157.1,334.2 158.6,334.2 158.6,328.3 160.0,328.3 160.0,337.2 161.4,337.2 161.4,328.7 162.9,328.7 162.9,326.2 164.3,326.2 164.3,327.0 165.7,327.0 165.7,334.5 167.1,334.5 167.1,321.3 168.6,321.3 168.6,329.0 170.0,329.0 170.0,325.8 171.4,325.8 171.4,332.9 172.9,332.9 172.9,334.9 174.3,334.9 174.3,327.4 175.7,327.4 175.7,332.3 177.1,332.3 177.1,339.2 178.6,339.2 178.6,313.4 180.0,313.4 180.0,329.3 181.4,329.3 181.4,324.8 182.9,324.8 182.9,322.0 184.3,322.0 184.3,329.4 185.7,329.4 185.7,332.2 187.1,332.2 187.1,321.7 188.6,321.7 188.6,328.6 190.0,328.6 190.0,327.4 191.4,327.4 191.4,324.3 192.9,324.3 192.9,316.1 194.3,316.1 194.3,328.6 195.7,328.6 195.7,322.5 197.1,322.5 197.1,326.9 198.6,326.9 198.6,322.5 200.0,322.5 200.0,327.5 201.4,327.5 201.4,320.7 202.9,320.7 202.9,324.9 204.3,324.9 204.3,321.8 205.7,321.8 205.7,318.5 207.1,318.5 207.1,325.6 208.6,325.6 208.6,340.5 210.0,340.5 210.0,323.5 211.4,323.5 211.4,326.2 212.9,326.2 212.9,331.7 214.3,331.7 214.3,320.3 215.7,320.3 215.7,323.2 217.1,323.2 217.1,332.4 218.6,332.4 218.6,333.8 220.0,333.8 220.0,333.9 221.4,333.9 221.4,331.7 222.9,331.7 222.9,327.3 224.3,327.3 224.3,334.8 225.7,334.8 225.7,334.5 227.1,334.5 227.1,329.7 228.6,329.7 228.6,329.7 230.0,329.7 230.0,332.7 231.4,332.7 231.4,330.3 232.9,330.3 232.9,332.6 234.3,332.6 234.3,331.5 235.7,331.5 235.7,329.3 237.1,329.3 237.1,336.3 238.6,336.3 238.6,331.9 240.0,331.9 240.0,332.5 241.4,332.5 241.4,334.2 242.9,334.2 242.9,335.2 244.3,335.2 244.3,343.3 245.7,343.3 245.7,324.0 247.1,324.0 247.1,323.3 248.6,323.3 248.6,331.4 250.0,331.4 250.0,325.2 251.4,325.2 251.4,338.2 252.9,338.2 252.9,337.0 254.3,337.0 254.3,331.5 255.7,331.5 255.7,326.5 257.1,326.5 257.1,330.8 258.6,330.8 258.6,329.4 260.0,329.4 260.0,325.1 261.4,325.1 261.4,333.1 262.9,333.1 262.9,325.3 264.3,325.3 264.3,321.3 265.7,321.3 265.7,323.6 267.1,323.6 267.1,325.7 268.6,325.7 268.6,325.3 270.0,325.3 270.0,322.5 271.4,322.5 271.4,337.9 272.9,337.9 272.9,341.2 274.3,341.2 274.3,318.5 275.7,318.5 275.7,330.7 277.1,330.7 277.1,331.0 278.6,331.0 278.6,329.8 280.0,329.8 280.0,327.9 281.4,327.9 281.4,332.5 282.9,332.5 282.9,330.5 284.3,330.5 284.3,329.7 285.7,329.7 285.7,324.3 287.1,324.3 287.1,327.6 288.6,327.6 288.6,328.9 290.0,328.9 290.0,331.8 291.4,331.8 291.4,330.7 292.9,330.7 292.9,328.1 294.3,328.1 294.3,330.3 295.7,330.3 295.7,329.6 297.1,329.6 297.1,328.4 298.6,328.4 298.6,331.0 300.0,331.0 300.0,333.3 301.4,333.3 301.4,334.7 302.9,334.7 302.9,330.8 304.3,330.8 304.3,329.0 305.7,329.0 305.7,334.0 307.1,334.0 307.1,329.9 308.6,329.9 308.6,330.5 310.0,330.5 310.0,334.3 311.4,334.3 311.4,327.8 312.9,327.8 312.9,336.7 314.3,336.7 314.3,325.8 315.7,325.8 315.7,326.1 317.1,326.1 317.1,331.9 318.6,331.9 318.6,332.2 320.0,332.2 320.0,333.3 321.4,333.3 321.4,327.9 322.9,327.9 322.9,322.2 324.3,322.2 324.3,333.2 325.7,333.2 325.7,328.9 327.1,328.9 327.1,332.0 328.6,332.0 328.6,329.8 330.0,329.8 330.0,332.3 331.4,332.3 331.4,318.9 332.9,318.9 332.9,331.6 334.3,331.6 334.3,324.8 335.7,324.8 335.7,336.3 337.1,336.3 337.1,335.1 338.6,335.1 338.6,316.6 340.0,316.6 340.0,326.6 341.4,326.6 341.4,316.7 342.9,316.7 342.9,327.9 344.3,327.9 344.3,325.0 345.7,325.0 345.7,335.5 347.1,335.5 347.1,331.9 348.6,331.9 348.6,335.7 350.0,335.7 350.0,318.4 351.4,318.4 351.4,326.9 352.9,326.9 352.9,328.6 354.3,328.6 354.3,326.9 355.7,326.9 355.7,331.4 357.1,331.4 357.1,334.4 358.6,334.4 358.6,332.6 360.0,332.6 360.0,334.0 361.4,334.0 361.4,331.9 362.9,331.9 362.9,335.4 364.3,335.4 364.3,328.4 365.7,328.4 365.7,335.4 367.1,335.4 367.1,329.7 368.6,329.7 368.6,332.1 370.0,332.1 370.0,334.4 371.4,334.4 371.4,326.1 372.9,326.1 372.9,332.8 374.3,332.8 374.3,331.6 375.7,331.6 375.7,329.4 377.1,329.4 377.1,333.0 378.6,333.0 378.6,331.6 380.0,331.6 380.0,326.8 381.4,326.8 381.4,328.3 382.9,328.3 382.9,325.0 384.3,325.0 384.3,335.9 385.7,335.9 385.7,334.8 387.1,334.8 387.1,331.5 388.6,331.5 388.6,332.1 390.0,332.1 390.0,323.2 391.4,323.2 391.4,331.1 392.9,331.1 392.9,319.8 394.3,319.8 394.3,337.8 395.7,337.8 395.7,330.6 397.1,330.6 397.1,321.2 398.6,321.2 398.6,340.0 400.0,340.0 400.0,332.9 401.4,332.9 401.4,340.1 402.8,340.1 402.8,340.4 404.2,340.4 404.2,321.2 405.6,321.2 405.6,331.8 406.9,331.8 406.9,336.1 408.3,336.1 408.3,330.4 409.7,330.4 409.7,333.6 411.1,333.6 411.1,329.9 412.5,329.9 412.5,327.2 413.9,327.2 413.9,333.0 415.3,333.0 415.3,321.0 416.7,321.0 416.7,330.9 418.1,330.9 418.1,321.5 419.4,321.5 419.4,329.0 420.8,329.0 420.8,321.5 422.2,321.5 422.2,328.8 423.6,328.8 423.6,321.6 425.0,321.6 425.0,321.0 426.4,321.0 426.4,329.4 427.9,329.4 427.9,310.1 429.3,310.1 429.3,320.9 430.7,320.9 430.7,323.6 432.1,323.6 432.1,328.8 433.6,328.8 433.6,323.3 435.0,323.3 435.0,324.2 436.4,324.2 436.4,329.2 437.9,329.2 437.9,318.9 439.3,318.9 439.3,315.9 440.7,315.9 440.7,322.8 442.1,322.8 442.1,335.6 443.6,335.6 443.6,325.6 445.0,325.6 445.0,319.8 446.4,319.8 446.4,315.9 447.7,315.9 447.7,326.9 449.1,326.9 449.1,317.3 450.5,317.3 450.5,321.5 451.8,321.5 451.8,314.4 453.2,314.4 453.2,329.0 454.5,329.0 454.5,316.0 455.9,316.0 455.9,317.4 457.3,317.4 457.3,315.8 458.6,315.8 458.6,308.6 460.0,308.6 460.0,320.2 461.4,320.2 461.4,321.7 462.7,321.7 462.7,310.0 464.1,310.0 464.1,322.5 465.5,322.5 465.5,327.0 466.8,327.0 466.8,329.5 468.2,329.5 468.2,329.6 469.5,329.6 469.5,335.9 470.9,335.9 470.9,323.1 472.3,323.1 472.3,322.4 473.6,322.4 473.6,335.1 475.0,335.1 475.0,335.2 476.4,335.2 476.4,330.3 477.7,330.3 477.7,335.3 479.1,335.3 479.1,331.4 480.5,331.4 480.5,326.1 481.8,326.1 481.8,324.6 483.2,324.6 483.2,338.5 484.5,338.5 484.5,326.8 485.9,326.8 485.9,333.6 487.3,333.6 487.3,337.2 488.6,337.2 488.6,327.7 490.0,327.7 490.0,330.4 491.4,330.4 491.4,332.9 492.7,332.9 492.7,331.5 494.1,331.5 494.1,333.5 495.5,333.5 495.5,328.2 496.8,328.2 496.8,327.8 498.2,327.8 498.2,325.0 499.5,325.0 499.5,334.8 500.9,334.8 500.9,333.5 502.3,333.5 502.3,328.1 503.6,328.1 503.6,325.6 505.0,325.6 505.0,326.7 506.4,326.7 506.4,326.8 507.7,326.8 507.7,322.6 509.1,322.6 509.1,333.7 510.5,333.7 510.5,334.4 511.8,334.4 511.8,330.8 513.2,330.8 513.2,327.4 514.5,327.4 514.5,333.3 515.9,333.3 515.9,331.4 517.3,331.4 517.3,329.7 518.6,329.7 518.6,332.6 520.0,332.6 520.0,329.4 521.4,329.4 521.4,322.5 522.9,322.5 522.9,331.8 524.3,331.8 524.3,328.0 525.7,328.0 525.7,335.9 527.1,335.9 527.1,331.9 528.6,331.9 528.6,336.5 530.0,336.5 530.0,328.5 531.4,328.5 531.4,335.5 532.9,335.5 532.9,334.4 534.3,334.4 534.3,336.8 535.7,336.8 535.7,342.2 537.1,342.2 537.1,348.3 538.6,348.3 538.6,333.2 540.0,333.2 540.0,331.2 541.4,331.2 541.4,336.4 542.9,336.4 542.9,343.2 544.3,343.2 544.3,346.6 545.7,346.6 545.7,346.8 547.1,346.8 547.1,347.7 548.6,347.7 548.6,341.3 550.0,341.3 550.0,348.1 551.4,348.1 551.4,351.0 552.9,351.0 552.9,349.2 554.3,349.2 554.3,345.3 555.7,345.3 555.7,349.9 557.1,349.9 557.1,348.2 558.6,348.2 558.6,351.2 560.0,351.2 560.0,343.0 561.4,343.0 561.4,348.3 562.9,348.3 562.9,351.3 564.3,351.3 564.3,351.2 565.7,351.2 565.7,345.4 567.1,345.4 567.1,339.5 568.6,339.5 568.6,350.1 570.0,350.1 570.0,351.2 571.4,351.2 571.4,347.4 572.9,347.4 572.9,345.9 574.3,345.9 574.3,348.0 575.7,348.0 575.7,343.1 577.1,343.1 577.1,345.6 578.6,345.6 578.6,345.6 580.0,345.6 580.0,351.7 581.4,351.7 581.4,341.1 582.9,341.1 582.9,351.7 584.3,351.7 584.3,351.8 585.7,351.8 585.7,354.2 587.1,354.2 587.1,344.3 588.6,344.3 588.6,339.9 590.0,339.9 590.0,350.7 591.4,350.7 591.4,348.7 592.9,348.7 592.9,349.7 594.3,349.7 594.3,348.5 595.7,348.5 595.7,351.4 597.1,351.4 597.1,349.2 598.6,349.2 598.6,358.4 600.0,358.4 600.0,359.8 601.4,359.8 601.4,352.8 602.7,352.8 602.7,355.2 604.1,355.2 604.1,347.5 605.5,347.5 605.5,356.3 606.8,356.3 606.8,365.1 608.2,365.1 608.2,353.2 609.5,353.2 609.5,350.3 610.9,350.3 610.9,362.3 612.3,362.3 612.3,370.1 613.6,370.1 613.6,357.5 615.0,357.5 615.0,358.8 616.4,358.8 616.4,360.7 617.9,360.7 617.9,357.0 619.3,357.0 619.3,353.7 620.7,353.7 620.7,345.4 622.1,345.4 622.1,348.9 623.6,348.9 623.6,351.7 625.0,351.7 625.0,338.6 626.4,338.6 626.4,342.2 627.7,342.2 627.7,355.6 629.1,355.6 629.1,347.2 630.5,347.2 630.5,348.4 631.8,348.4 631.8,350.5 633.2,350.5 633.2,349.0 634.5,349.0 634.5,353.1 635.9,353.1 635.9,360.0 637.3,360.0 637.3,360.6 638.6,360.6 638.6,360.0 640.0,360.0 640.0,352.8 641.2,352.8 641.2,356.8 642.5,356.8 642.5,355.2 643.8,355.2 643.8,360.8 645.0,360.8 645.0,350.7 646.2,350.7 646.2,349.6 647.5,349.6 647.5,342.4 648.8,342.4 648.8,327.4 650.0,327.4 650.0,318.5 651.4,318.5 651.4,321.3 652.9,321.3 652.9,327.9 654.3,327.9 654.3,327.4 655.7,327.4 655.7,321.1 657.1,321.1 657.1,333.0 658.6,333.0 658.6,312.0 660.0,312.0 660.0,326.6 661.4,326.6 661.4,313.9 662.9,313.9 662.9,316.4 664.3,316.4 664.3,318.2 665.7,318.2 665.7,324.8 667.1,324.8 667.1,324.1 668.6,324.1 668.6,324.4 670.0,324.4 670.0,314.4 671.4,314.4 671.4,309.8 672.9,309.8 672.9,318.4 674.3,318.4 674.3,317.9 675.7,317.9 675.7,325.7 677.1,325.7 677.1,317.5 678.6,317.5 678.6,327.7 680.0,327.7 680.0,327.4 681.4,327.4 681.4,318.2 682.9,318.2 682.9,323.8 684.3,323.8 684.3,328.6 685.7,328.6 685.7,321.2 687.1,321.2 687.1,327.2 688.6,327.2 688.6,319.7 690.0,319.7 690.0,321.4 691.4,321.4 691.4,326.6 692.8,326.6 692.8,320.6 694.2,320.6 694.2,329.2 695.6,329.2 695.6,325.6 697.0,325.6 697.0,327.5 698.4,327.5 698.4,320.9 699.8,320.9 699.8,324.9 701.2,324.9 701.2,321.8 702.6,321.8 702.6,320.0 704.0,320.0 704.0,327.9 705.4,327.9 705.4,322.7 706.8,322.7 706.8,311.1 708.2,311.1 708.2,332.6 709.6,332.6 709.6,327.6 711.0,327.6 711.0,324.0 712.3,324.0 712.3,337.4 713.7,337.4 713.7,344.0 715.0,344.0 715.0,330.9 716.5,330.9 716.5,357.6 718.0,357.6 718.0,362.8 719.4,362.8 719.4,359.0 720.8,359.0 720.8,367.3 722.2,367.3 722.2,367.9 723.6,367.9 723.6,364.8 725.0,364.8 725.0,367.6 726.4,367.6 726.4,369.9 727.9,369.9 727.9,372.4 729.3,372.4 729.3,362.8 730.8,362.8 730.8,362.0 732.2,362.0 732.2,365.3 733.7,365.3 733.7,359.5 735.1,359.5 735.1,373.9 736.6,373.9 736.6,369.1 738.0,369.1 738.0,367.2" fill="none" stroke="#4fc05a" stroke-width="2.5" stroke-linejoin="round" stroke-linecap="round"/>
<rect x="113.5" y="389.5" width="9" height="9" fill="#3b7f49"/>
<rect x="168.5" y="404.5" width="9" height="9" fill="#3b7f49"/>
<rect x="222.5" y="415.5" width="9" height="9" fill="#3b7f49"/>
<rect x="277.5" y="442.5" width="9" height="9" fill="#3b7f49"/>
<rect x="331.5" y="202.5" width="9" height="9" fill="#3b7f49"/>
<rect x="386.5" y="242.5" width="9" height="9" fill="#3b7f49"/>
<rect x="440.5" y="347.5" width="9" height="9" fill="#3b7f49"/>
<rect x="495.5" y="362.5" width="9" height="9" fill="#3b7f49"/>
<rect x="550.5" y="383.5" width="9" height="9" fill="#3b7f49"/>
<rect x="605.5" y="432.5" width="9" height="9" fill="#3b7f49"/>
<line x1="81" y1="68.5" x2="81" y2="178" stroke="#000" stroke-width="4" stroke-linecap="butt"/>
<line x1="73.5" y1="91.3" x2="81" y2="91.3" stroke="#000" stroke-width="2.8" stroke-linecap="butt"/>
<line x1="73.5" y1="134" x2="81" y2="134" stroke="#000" stroke-width="2.8" stroke-linecap="butt"/>
<line x1="73.5" y1="177" x2="81" y2="177" stroke="#000" stroke-width="2.8" stroke-linecap="butt"/>
<line x1="76" y1="69.5" x2="81" y2="69.5" stroke="#000" stroke-width="2.2" stroke-linecap="butt"/>
<line x1="76" y1="113" x2="81" y2="113" stroke="#000" stroke-width="2.2" stroke-linecap="butt"/>
<line x1="76" y1="156" x2="81" y2="156" stroke="#000" stroke-width="2.2" stroke-linecap="butt"/>
<text x="73" y="95.7" font-size="12.4" fill="#000" font-weight="bold" text-anchor="end" textLength="27.6" lengthAdjust="spacingAndGlyphs" stroke="#000" stroke-width="0.27">4000</text>
<text x="73" y="138.4" font-size="12.4" fill="#000" font-weight="bold" text-anchor="end" textLength="27.6" lengthAdjust="spacingAndGlyphs" stroke="#000" stroke-width="0.27">2000</text>
<text x="73" y="181.4" font-size="12.4" fill="#000" font-weight="bold" text-anchor="end" textLength="6.9" lengthAdjust="spacingAndGlyphs" stroke="#000" stroke-width="0.27">0</text>
<line x1="81" y1="181.5" x2="81" y2="287" stroke="#000" stroke-width="4" stroke-linecap="butt"/>
<line x1="73.5" y1="182.5" x2="81" y2="182.5" stroke="#000" stroke-width="2.8" stroke-linecap="butt"/>
<line x1="73.5" y1="216.5" x2="81" y2="216.5" stroke="#000" stroke-width="2.8" stroke-linecap="butt"/>
<line x1="73.5" y1="250.5" x2="81" y2="250.5" stroke="#000" stroke-width="2.8" stroke-linecap="butt"/>
<line x1="73.5" y1="285" x2="81" y2="285" stroke="#000" stroke-width="2.8" stroke-linecap="butt"/>
<line x1="76" y1="199.5" x2="81" y2="199.5" stroke="#000" stroke-width="2.2" stroke-linecap="butt"/>
<line x1="76" y1="233.5" x2="81" y2="233.5" stroke="#000" stroke-width="2.2" stroke-linecap="butt"/>
<line x1="76" y1="268" x2="81" y2="268" stroke="#000" stroke-width="2.2" stroke-linecap="butt"/>
<text x="73" y="186.9" font-size="12.4" fill="#000" font-weight="bold" text-anchor="end" textLength="6.9" lengthAdjust="spacingAndGlyphs" stroke="#000" stroke-width="0.27">0</text>
<text x="73" y="220.9" font-size="12.4" fill="#000" font-weight="bold" text-anchor="end" textLength="24.8" lengthAdjust="spacingAndGlyphs" stroke="#000" stroke-width="0.27">-200</text>
<text x="73" y="254.9" font-size="12.4" fill="#000" font-weight="bold" text-anchor="end" textLength="24.8" lengthAdjust="spacingAndGlyphs" stroke="#000" stroke-width="0.27">-400</text>
<text x="73" y="289.4" font-size="12.4" fill="#000" font-weight="bold" text-anchor="end" textLength="24.8" lengthAdjust="spacingAndGlyphs" stroke="#000" stroke-width="0.27">-600</text>
<line x1="81" y1="296" x2="81" y2="398" stroke="#000" stroke-width="4" stroke-linecap="butt"/>
<line x1="73.5" y1="310" x2="81" y2="310" stroke="#000" stroke-width="2.8" stroke-linecap="butt"/>
<line x1="73.5" y1="353" x2="81" y2="353" stroke="#000" stroke-width="2.8" stroke-linecap="butt"/>
<line x1="73.5" y1="396" x2="81" y2="396" stroke="#000" stroke-width="2.8" stroke-linecap="butt"/>
<line x1="76" y1="299" x2="81" y2="299" stroke="#000" stroke-width="2.2" stroke-linecap="butt"/>
<line x1="76" y1="331.5" x2="81" y2="331.5" stroke="#000" stroke-width="2.2" stroke-linecap="butt"/>
<line x1="76" y1="374.5" x2="81" y2="374.5" stroke="#000" stroke-width="2.2" stroke-linecap="butt"/>
<text x="73" y="314.4" font-size="12.4" fill="#000" font-weight="bold" text-anchor="end" textLength="20.7" lengthAdjust="spacingAndGlyphs" stroke="#000" stroke-width="0.27">100</text>
<text x="73" y="357.4" font-size="12.4" fill="#000" font-weight="bold" text-anchor="end" textLength="13.8" lengthAdjust="spacingAndGlyphs" stroke="#000" stroke-width="0.27">50</text>
<text x="73" y="400.4" font-size="12.4" fill="#000" font-weight="bold" text-anchor="end" textLength="6.9" lengthAdjust="spacingAndGlyphs" stroke="#000" stroke-width="0.27">0</text>
<line x1="84" y1="406" x2="84" y2="515" stroke="#000" stroke-width="4" stroke-linecap="butt"/>
<line x1="76.5" y1="427.5" x2="84" y2="427.5" stroke="#000" stroke-width="2.8" stroke-linecap="butt"/>
<line x1="76.5" y1="471" x2="84" y2="471" stroke="#000" stroke-width="2.8" stroke-linecap="butt"/>
<line x1="76.5" y1="513" x2="84" y2="513" stroke="#000" stroke-width="2.8" stroke-linecap="butt"/>
<line x1="79" y1="407" x2="84" y2="407" stroke="#000" stroke-width="2.2" stroke-linecap="butt"/>
<line x1="79" y1="449" x2="84" y2="449" stroke="#000" stroke-width="2.2" stroke-linecap="butt"/>
<line x1="79" y1="493" x2="84" y2="493" stroke="#000" stroke-width="2.2" stroke-linecap="butt"/>
<text x="76" y="431.9" font-size="12.4" fill="#000" font-weight="bold" text-anchor="end" textLength="20.7" lengthAdjust="spacingAndGlyphs" stroke="#000" stroke-width="0.27">200</text>
<text x="76" y="475.4" font-size="12.4" fill="#000" font-weight="bold" text-anchor="end" textLength="6.9" lengthAdjust="spacingAndGlyphs" stroke="#000" stroke-width="0.27">0</text>
<text x="76" y="517.4" font-size="12.4" fill="#000" font-weight="bold" text-anchor="end" textLength="24.8" lengthAdjust="spacingAndGlyphs" stroke="#000" stroke-width="0.27">-200</text>
<line x1="79" y1="177.3" x2="739.3" y2="177.3" stroke="#000" stroke-width="3.3" stroke-linecap="butt"/>
<line x1="136.4" y1="177.3" x2="136.4" y2="184.45000000000002" stroke="#000" stroke-width="2.8" stroke-linecap="butt"/>
<line x1="273" y1="177.3" x2="273" y2="184.45000000000002" stroke="#000" stroke-width="2.8" stroke-linecap="butt"/>
<line x1="409.6" y1="177.3" x2="409.6" y2="184.45000000000002" stroke="#000" stroke-width="2.8" stroke-linecap="butt"/>
<line x1="546.2" y1="177.3" x2="546.2" y2="184.45000000000002" stroke="#000" stroke-width="2.8" stroke-linecap="butt"/>
<line x1="682.8" y1="177.3" x2="682.8" y2="184.45000000000002" stroke="#000" stroke-width="2.8" stroke-linecap="butt"/>
<line x1="204.7" y1="177.3" x2="204.7" y2="182.45000000000002" stroke="#000" stroke-width="2.2" stroke-linecap="butt"/>
<line x1="341.3" y1="177.3" x2="341.3" y2="182.45000000000002" stroke="#000" stroke-width="2.2" stroke-linecap="butt"/>
<line x1="477.90000000000003" y1="177.3" x2="477.90000000000003" y2="182.45000000000002" stroke="#000" stroke-width="2.2" stroke-linecap="butt"/>
<line x1="614.5" y1="177.3" x2="614.5" y2="182.45000000000002" stroke="#000" stroke-width="2.2" stroke-linecap="butt"/>
<text x="136.4" y="193.3" font-size="11" fill="#000" font-weight="bold" text-anchor="middle" textLength="12.2" lengthAdjust="spacingAndGlyphs" stroke="#000" stroke-width="0.24">45</text>
<text x="273" y="193.3" font-size="11" fill="#000" font-weight="bold" text-anchor="middle" textLength="12.2" lengthAdjust="spacingAndGlyphs" stroke="#000" stroke-width="0.24">50</text>
<text x="409.6" y="193.3" font-size="11" fill="#000" font-weight="bold" text-anchor="middle" textLength="12.2" lengthAdjust="spacingAndGlyphs" stroke="#000" stroke-width="0.24">55</text>
<text x="546.2" y="193.3" font-size="11" fill="#000" font-weight="bold" text-anchor="middle" textLength="12.2" lengthAdjust="spacingAndGlyphs" stroke="#000" stroke-width="0.24">60</text>
<text x="682.8" y="193.3" font-size="11" fill="#000" font-weight="bold" text-anchor="middle" textLength="12.2" lengthAdjust="spacingAndGlyphs" stroke="#000" stroke-width="0.24">65</text>
<line x1="79" y1="289.7" x2="739.3" y2="289.7" stroke="#000" stroke-width="3.3" stroke-linecap="butt"/>
<line x1="136.4" y1="289.7" x2="136.4" y2="296.84999999999997" stroke="#000" stroke-width="2.8" stroke-linecap="butt"/>
<line x1="273" y1="289.7" x2="273" y2="296.84999999999997" stroke="#000" stroke-width="2.8" stroke-linecap="butt"/>
<line x1="409.6" y1="289.7" x2="409.6" y2="296.84999999999997" stroke="#000" stroke-width="2.8" stroke-linecap="butt"/>
<line x1="546.2" y1="289.7" x2="546.2" y2="296.84999999999997" stroke="#000" stroke-width="2.8" stroke-linecap="butt"/>
<line x1="682.8" y1="289.7" x2="682.8" y2="296.84999999999997" stroke="#000" stroke-width="2.8" stroke-linecap="butt"/>
<line x1="204.7" y1="289.7" x2="204.7" y2="294.84999999999997" stroke="#000" stroke-width="2.2" stroke-linecap="butt"/>
<line x1="341.3" y1="289.7" x2="341.3" y2="294.84999999999997" stroke="#000" stroke-width="2.2" stroke-linecap="butt"/>
<line x1="477.90000000000003" y1="289.7" x2="477.90000000000003" y2="294.84999999999997" stroke="#000" stroke-width="2.2" stroke-linecap="butt"/>
<line x1="614.5" y1="289.7" x2="614.5" y2="294.84999999999997" stroke="#000" stroke-width="2.2" stroke-linecap="butt"/>
<text x="136.4" y="305.2" font-size="11" fill="#000" font-weight="bold" text-anchor="middle" textLength="12.2" lengthAdjust="spacingAndGlyphs" stroke="#000" stroke-width="0.24">45</text>
<text x="273" y="305.2" font-size="11" fill="#000" font-weight="bold" text-anchor="middle" textLength="12.2" lengthAdjust="spacingAndGlyphs" stroke="#000" stroke-width="0.24">50</text>
<text x="409.6" y="305.2" font-size="11" fill="#000" font-weight="bold" text-anchor="middle" textLength="12.2" lengthAdjust="spacingAndGlyphs" stroke="#000" stroke-width="0.24">55</text>
<text x="546.2" y="305.2" font-size="11" fill="#000" font-weight="bold" text-anchor="middle" textLength="12.2" lengthAdjust="spacingAndGlyphs" stroke="#000" stroke-width="0.24">60</text>
<text x="682.8" y="305.2" font-size="11" fill="#000" font-weight="bold" text-anchor="middle" textLength="12.2" lengthAdjust="spacingAndGlyphs" stroke="#000" stroke-width="0.24">65</text>
<line x1="79.3" y1="401.2" x2="739.3" y2="401.2" stroke="#000" stroke-width="3.3" stroke-linecap="butt"/>
<line x1="84" y1="405" x2="84" y2="514" stroke="#000" stroke-width="4" stroke-linecap="butt"/>
<path d="M82.0,167.1h0M83.3,167.8h0M84.6,167.5h0M85.9,166.5h0M87.2,166.4h0M88.4,166.5h0M89.7,167.1h0M91.0,166.5h0M92.3,167.5h0M93.6,167.4h0M94.9,168.1h0M96.2,167.9h0M97.5,166.4h0M98.8,166.7h0M100.0,166.4h0M101.3,167.3h0M102.6,167.1h0M103.9,166.1h0M105.2,167.3h0M106.5,166.5h0M107.8,166.7h0M109.1,167.4h0M110.4,166.3h0M111.6,166.8h0M112.9,167.2h0M114.2,167.6h0M115.5,166.5h0M116.8,165.9h0M118.1,165.6h0M119.4,167.1h0M120.7,167.3h0M122.0,166.9h0M123.2,166.6h0M124.5,167.1h0M125.8,166.3h0M127.1,165.5h0M128.4,166.6h0M129.7,166.9h0M131.0,166.0h0M132.3,165.2h0M133.6,165.5h0M134.8,165.3h0M136.1,165.4h0M137.4,165.8h0M138.7,165.2h0M140.0,166.1h0M141.3,166.6h0M142.6,165.6h0M143.9,165.7h0M145.2,167.0h0M146.5,165.4h0M147.9,165.5h0M149.2,166.2h0M150.5,165.1h0M151.8,165.8h0M153.1,167.0h0M154.4,166.1h0M155.7,166.5h0M157.0,166.9h0M158.3,166.9h0M159.6,165.9h0M160.9,165.4h0M162.3,165.3h0M163.6,165.6h0M164.9,165.9h0M166.2,165.2h0M167.5,165.4h0M168.8,165.3h0M170.1,166.4h0M171.4,165.7h0M172.7,166.0h0M174.0,166.9h0M175.3,166.2h0M176.7,165.4h0M178.0,165.9h0M179.3,166.9h0M180.6,165.3h0M181.9,166.3h0M183.2,166.4h0M184.5,166.4h0M185.8,167.0h0M187.1,165.8h0M188.4,165.7h0M189.7,166.4h0M191.1,166.0h0M192.4,167.0h0M193.7,167.1h0M195.0,167.0h0M196.3,165.8h0M197.6,166.1h0M198.9,165.5h0M200.2,165.9h0M201.5,167.3h0M202.8,167.3h0M204.1,167.4h0M205.5,165.9h0M206.8,165.9h0M208.1,166.7h0M209.4,167.2h0M210.7,166.8h0M212.0,165.7h0M213.3,167.3h0M214.6,167.0h0M215.9,165.8h0M217.2,166.1h0M218.5,167.4h0M219.8,166.2h0M221.1,166.8h0M222.4,165.6h0M223.7,167.1h0M225.0,165.6h0M226.3,167.3h0M227.6,166.0h0M228.9,165.5h0M230.2,167.2h0M231.5,166.3h0M232.8,166.1h0M234.1,166.8h0M235.4,165.7h0M236.7,165.6h0M238.0,165.7h0M239.3,165.4h0M240.6,165.8h0M241.9,166.3h0M243.2,165.9h0M244.5,166.1h0M245.8,166.1h0M247.1,165.9h0M248.4,165.0h0M249.7,165.3h0M251.0,166.4h0M252.3,165.6h0M253.6,166.0h0M254.9,165.1h0M256.2,165.4h0M257.5,166.4h0M258.8,166.0h0M260.1,166.7h0M261.4,166.0h0M262.7,165.8h0M264.0,165.7h0M265.3,165.7h0M266.7,166.1h0M268.0,166.6h0M269.3,165.8h0M270.6,166.4h0M271.9,164.9h0M273.2,164.8h0M274.5,164.8h0M275.8,166.2h0M277.1,164.9h0M278.4,165.9h0M279.7,166.3h0M281.0,165.0h0M282.3,165.3h0M283.6,166.5h0M284.9,164.8h0M286.2,165.5h0M287.5,164.8h0M288.8,165.9h0M290.1,165.5h0M291.4,164.4h0M292.7,165.6h0M294.0,164.5h0M295.3,165.9h0M296.6,164.5h0M297.9,164.4h0M299.2,164.8h0M300.5,165.1h0M301.8,165.9h0M303.1,164.5h0M304.4,165.4h0M305.7,164.4h0M307.0,165.6h0M308.3,164.3h0M309.6,165.4h0M310.9,164.3h0M312.2,164.2h0M313.5,165.0h0M314.8,165.2h0M316.1,164.6h0M317.4,165.1h0M318.7,164.2h0M320.0,164.1h0M321.3,164.8h0M322.6,165.8h0M323.9,165.5h0M325.3,165.3h0M326.6,165.3h0M327.9,166.4h0M329.2,165.5h0M330.5,167.1h0M331.8,167.1h0M333.2,166.6h0M334.5,166.5h0M335.8,167.3h0M337.1,166.7h0M338.4,167.6h0M339.7,167.2h0M341.1,166.6h0M342.4,166.8h0M343.7,167.4h0M345.0,167.2h0M346.3,168.8h0M347.6,167.6h0M348.9,167.7h0M350.2,167.4h0M351.5,167.6h0M352.7,169.1h0M354.0,167.7h0M355.3,167.8h0M356.6,167.2h0M357.9,168.2h0M359.2,167.7h0M360.5,167.3h0M361.8,167.5h0M363.1,167.4h0M364.4,168.0h0M365.6,168.6h0M366.9,168.9h0M368.2,168.9h0M369.5,168.2h0M370.8,169.5h0M372.1,169.0h0M373.4,167.6h0M374.7,169.3h0M376.0,169.0h0M377.3,167.9h0M378.5,168.6h0M379.8,169.3h0M381.1,168.8h0M382.4,169.1h0M383.7,168.2h0M385.0,168.0h0M386.3,168.0h0M387.6,168.9h0M388.9,169.1h0M390.2,168.8h0M391.5,169.5h0M392.7,168.9h0M394.0,169.2h0M395.3,169.4h0M396.6,168.1h0M397.9,169.5h0M399.2,169.5h0M400.5,169.0h0M401.8,169.0h0M403.1,169.6h0M404.4,169.4h0M405.6,168.4h0M406.9,169.6h0M408.2,169.3h0M409.5,168.3h0M410.8,169.6h0M412.1,169.6h0M413.4,169.3h0M414.7,169.2h0M416.0,170.1h0M417.3,170.3h0M418.5,168.4h0M419.8,170.0h0M421.1,169.3h0M422.4,168.9h0M423.7,168.9h0M425.0,168.8h0M426.3,170.4h0M427.6,170.2h0M428.9,170.3h0M430.3,169.0h0M431.6,169.5h0M432.9,168.6h0M434.2,169.5h0M435.5,168.9h0M436.8,169.3h0M438.2,168.6h0M439.5,170.3h0M440.8,170.5h0M442.1,170.5h0M443.4,169.4h0M444.7,170.7h0M446.1,169.4h0M447.4,169.3h0M448.7,168.9h0M450.0,169.3h0M451.3,169.3h0M452.6,169.8h0M453.9,169.5h0M455.3,170.6h0M456.6,170.1h0M457.9,170.7h0M459.2,170.3h0M460.5,170.3h0M461.8,170.4h0M463.2,169.5h0M464.5,170.7h0M465.8,169.9h0M467.1,169.5h0M468.4,170.9h0M469.7,170.3h0M471.1,170.1h0M472.4,169.3h0M473.7,169.4h0M475.0,170.0h0M476.3,170.8h0M477.6,169.8h0M478.9,169.2h0M480.1,169.5h0M481.4,169.2h0M482.7,169.8h0M484.0,170.1h0M485.3,169.4h0M486.6,169.2h0M487.9,168.6h0M489.1,170.3h0M490.4,169.3h0M491.7,170.0h0M493.0,168.7h0M494.3,168.9h0M495.6,170.0h0M496.9,169.8h0M498.1,168.0h0M499.4,169.7h0M500.7,169.0h0M502.0,168.6h0M503.3,169.4h0M504.6,169.6h0M505.9,167.8h0M507.1,168.6h0M508.4,169.4h0M509.7,168.8h0M511.0,168.3h0M512.3,167.4h0M513.6,167.8h0M514.9,168.5h0M516.1,167.4h0M517.4,168.4h0M518.7,167.3h0M520.0,168.0h0M521.3,167.7h0M522.6,168.0h0M523.9,167.3h0M525.2,168.5h0M526.5,168.3h0M527.7,166.9h0M529.0,168.2h0M530.3,166.8h0M531.6,167.1h0M532.9,166.9h0M534.2,167.3h0M535.5,166.3h0M536.8,166.4h0M538.1,167.0h0M539.4,167.1h0M540.6,166.5h0M541.9,167.3h0M543.2,166.9h0M544.5,165.6h0M545.8,165.7h0M547.1,166.0h0M548.4,165.3h0M549.7,166.1h0M551.0,165.0h0M552.3,165.0h0M553.5,164.8h0M554.8,164.5h0M556.1,166.1h0M557.4,165.7h0M558.7,166.0h0M560.0,164.4h0M561.3,165.4h0M562.6,165.1h0M563.9,164.5h0M565.2,164.0h0M566.5,164.1h0M567.7,165.3h0M569.0,165.3h0M570.3,163.9h0M571.6,164.8h0M572.9,163.1h0M574.2,163.7h0M575.5,163.2h0M576.8,164.5h0M578.1,163.5h0M579.4,164.1h0M580.6,162.5h0M581.9,164.2h0M583.2,163.8h0M584.5,162.8h0M585.8,164.0h0M587.1,162.5h0M588.4,162.5h0M589.7,161.8h0M591.0,163.5h0M592.3,163.5h0M593.5,162.0h0M594.8,163.3h0M596.1,162.1h0M597.4,162.1h0M598.7,163.0h0M600.0,162.6h0M601.2,162.6h0M602.5,162.0h0M603.8,161.4h0M605.0,162.2h0M606.2,161.0h0M607.5,161.0h0M608.8,160.5h0M610.0,161.0h0M611.2,162.0h0M612.5,160.7h0M613.8,160.3h0M615.0,161.4h0M616.4,159.3h0M617.8,158.8h0M619.2,157.9h0M620.6,156.5h0M622.0,155.7h0M623.3,154.1h0M624.7,153.5h0M626.0,151.5h0M627.3,150.3h0M628.7,150.2h0M630.0,148.8h0M631.2,148.8h0M632.5,149.2h0M633.8,149.4h0M635.0,148.1h0M636.2,148.6h0M637.5,146.8h0M638.8,146.8h0M640.0,148.3h0M641.2,148.0h0M642.5,147.6h0M643.8,146.2h0M645.0,147.4h0M646.3,146.6h0M647.6,145.7h0M648.9,145.4h0M650.2,145.5h0M651.5,146.2h0M652.8,144.8h0M654.2,146.0h0M655.5,145.2h0M656.8,146.1h0M658.1,144.5h0M659.4,145.0h0M660.7,145.4h0M662.0,144.3h0M663.2,143.2h0M664.4,141.4h0M665.6,139.8h0M666.8,138.3h0M668.0,137.7h0M669.3,135.6h0M670.7,135.1h0M672.0,132.5h0M673.3,132.2h0M674.7,131.0h0M676.0,129.9h0M677.3,128.2h0M678.6,128.6h0M679.9,126.6h0M681.1,126.3h0M682.4,125.0h0M683.7,124.9h0M685.0,123.2h0M686.3,124.1h0M687.7,122.4h0M689.0,123.4h0M690.3,122.0h0M691.7,122.4h0M693.0,121.8h0M694.3,121.1h0M695.7,120.6h0M697.0,119.3h0M698.3,119.7h0M699.7,117.9h0M701.0,118.0h0M702.3,116.7h0M703.7,117.4h0M705.0,115.6h0M706.3,116.6h0M707.7,116.3h0M709.0,115.4h0M710.3,115.0h0M711.7,114.2h0M713.0,113.8h0M714.3,113.4h0M715.7,112.1h0M717.0,112.6h0M718.3,112.7h0M719.7,111.6h0M721.0,111.2h0M722.3,110.1h0M723.7,109.6h0M725.0,110.0h0M726.3,110.1h0M727.6,110.1h0M728.9,109.4h0M730.2,109.2h0M731.5,109.9h0M732.8,109.5h0M734.1,109.1h0M735.4,107.8h0M736.7,108.2h0M738.0,108.8h0" fill="none" stroke="#000" stroke-width="5.5" stroke-linecap="square"/>
<polyline points="82.0,204.0 83.5,204.0 83.5,206.4 85.0,206.4 85.0,206.2 86.6,206.2 86.6,206.0 88.1,206.0 88.1,206.8 89.6,206.8 89.6,205.6 91.1,205.6 91.1,205.8 92.6,205.8 92.6,203.4 94.2,203.4 94.2,206.7 95.7,206.7 95.7,206.7 97.2,206.7 97.2,206.5 98.7,206.5 98.7,205.2 100.2,205.2 100.2,209.3 101.8,209.3 101.8,205.1 103.3,205.1 103.3,204.2 104.8,204.2 104.8,204.6 106.3,204.6 106.3,205.6 107.8,205.6 107.8,206.2 109.4,206.2 109.4,206.8 110.9,206.8 110.9,205.3 112.4,205.3 112.4,204.8 113.9,204.8 113.9,203.2 115.4,203.2 115.4,202.6 117.0,202.6 117.0,204.1 118.5,204.1 118.5,202.6 120.0,202.6 120.0,204.5 121.5,204.5 121.5,202.8 123.0,202.8 123.0,204.2 124.4,204.2 124.4,205.7 125.9,205.7 125.9,202.2 127.4,202.2 127.4,202.1 128.9,202.1 128.9,204.8 130.4,204.8 130.4,205.3 131.9,205.3 131.9,203.7 133.3,203.7 133.3,201.8 134.8,201.8 134.8,205.0 136.3,205.0 136.3,205.3 137.8,205.3 137.8,205.6 139.3,205.6 139.3,207.6 140.7,207.6 140.7,205.9 142.2,205.9 142.2,205.8 143.7,205.8 143.7,206.1 145.2,206.1 145.2,208.1 146.7,208.1 146.7,209.0 148.1,209.0 148.1,206.9 149.6,206.9 149.6,208.4 151.1,208.4 151.1,205.8 152.6,205.8 152.6,208.2 154.1,208.2 154.1,206.4 155.6,206.4 155.6,205.1 157.0,205.1 157.0,205.2 158.5,205.2 158.5,205.9 160.0,205.9 160.0,207.2 161.4,207.2 161.4,207.6 162.9,207.6 162.9,210.0 164.3,210.0 164.3,210.0 165.7,210.0 165.7,211.4 167.1,211.4 167.1,211.8 168.6,211.8 168.6,211.7 170.0,211.7 170.0,215.7 171.4,215.7 171.4,212.2 172.9,212.2 172.9,211.1 174.3,211.1 174.3,209.7 175.7,209.7 175.7,211.4 177.1,211.4 177.1,210.2 178.6,210.2 178.6,209.4 180.0,209.4 180.0,206.8 181.5,206.8 181.5,208.4 182.9,208.4 182.9,208.0 184.4,208.0 184.4,209.6 185.9,209.6 185.9,209.0 187.4,209.0 187.4,210.1 188.8,210.1 188.8,210.4 190.3,210.4 190.3,207.1 191.8,207.1 191.8,209.8 193.2,209.8 193.2,208.5 194.7,208.5 194.7,211.6 196.2,211.6 196.2,211.3 197.6,211.3 197.6,211.8 199.1,211.8 199.1,211.7 200.6,211.7 200.6,211.4 202.1,211.4 202.1,210.7 203.5,210.7 203.5,208.9 205.0,208.9 205.0,210.9 206.4,210.9 206.4,210.7 207.8,210.7 207.8,213.1 209.2,213.1 209.2,212.6 210.6,212.6 210.6,215.3 212.0,215.3 212.0,217.9 213.5,217.9 213.5,218.7 214.9,218.7 214.9,217.6 216.4,217.6 216.4,216.6 217.9,216.6 217.9,214.8 219.4,214.8 219.4,215.7 220.8,215.7 220.8,215.1 222.3,215.1 222.3,216.0 223.8,216.0 223.8,212.4 225.3,212.4 225.3,213.4 226.7,213.4 226.7,212.8 228.2,212.8 228.2,212.9 229.7,212.9 229.7,213.2 231.2,213.2 231.2,214.5 232.6,214.5 232.6,215.3 234.1,215.3 234.1,213.6 235.6,213.6 235.6,212.2 237.1,212.2 237.1,214.5 238.5,214.5 238.5,214.6 240.0,214.6 240.0,216.6 241.5,216.6 241.5,215.1 243.0,215.1 243.0,214.4 244.5,214.4 244.5,215.8 246.0,215.8 246.0,213.7 247.5,213.7 247.5,213.3 249.0,213.3 249.0,214.2 250.5,214.2 250.5,213.7 252.0,213.7 252.0,215.4 253.5,215.4 253.5,216.6 255.0,216.6 255.0,213.0 256.5,213.0 256.5,215.6 258.0,215.6 258.0,213.7 259.5,213.7 259.5,214.4 261.0,214.4 261.0,212.1 262.5,212.1 262.5,214.8 264.0,214.8 264.0,210.7 265.5,210.7 265.5,213.9 267.0,213.9 267.0,215.6 268.5,215.6 268.5,215.5 270.0,215.5 270.0,213.8 271.5,213.8 271.5,215.2 273.0,215.2 273.0,216.2 274.5,216.2 274.5,214.4 276.0,214.4 276.0,212.9 277.5,212.9 277.5,217.6 279.0,217.6 279.0,218.3 280.5,218.3 280.5,213.6 282.0,213.6 282.0,216.2 283.5,216.2 283.5,213.9 285.0,213.9 285.0,216.0 286.5,216.0 286.5,213.4 288.0,213.4 288.0,214.8 289.5,214.8 289.5,212.6 291.0,212.6 291.0,213.1 292.5,213.1 292.5,214.1 294.0,214.1 294.0,214.2 295.5,214.2 295.5,214.3 297.0,214.3 297.0,211.3 298.5,211.3 298.5,211.5 300.0,211.5 300.0,212.9 301.5,212.9 301.5,210.5 302.9,210.5 302.9,210.6 304.4,210.6 304.4,212.5 305.9,212.5 305.9,214.6 307.4,214.6 307.4,215.7 308.8,215.7 308.8,214.6 310.3,214.6 310.3,213.7 311.8,213.7 311.8,211.5 313.2,211.5 313.2,216.4 314.7,216.4 314.7,214.8 316.2,214.8 316.2,214.3 317.6,214.3 317.6,211.8 319.1,211.8 319.1,215.0 320.6,215.0 320.6,213.6 322.1,213.6 322.1,211.4 323.5,211.4 323.5,216.2 325.0,216.2 325.0,214.6 326.4,214.6 326.4,213.7 327.9,213.7 327.9,216.4 329.3,216.4 329.3,214.3 330.7,214.3 330.7,218.7 332.1,218.7 332.1,219.2 333.6,219.2 333.6,221.2 335.0,221.2 335.0,223.3 336.4,223.3 336.4,225.2 337.9,225.2 337.9,225.0 339.3,225.0 339.3,227.0 340.7,227.0 340.7,225.9 342.1,225.9 342.1,227.0 343.6,227.0 343.6,229.6 345.0,229.6 345.0,231.5 346.5,231.5 346.5,229.9 347.9,229.9 347.9,228.7 349.4,228.7 349.4,232.2 350.9,232.2 350.9,232.0 352.4,232.0 352.4,233.9 353.8,233.9 353.8,231.2 355.3,231.2 355.3,232.2 356.8,232.2 356.8,231.1 358.2,231.1 358.2,230.9 359.7,230.9 359.7,229.0 361.2,229.0 361.2,228.9 362.6,228.9 362.6,232.6 364.1,232.6 364.1,231.4 365.6,231.4 365.6,231.9 367.1,231.9 367.1,229.0 368.5,229.0 368.5,229.2 370.0,229.2 370.0,230.6 371.5,230.6 371.5,231.2 373.0,231.2 373.0,228.7 374.5,228.7 374.5,228.1 376.0,228.1 376.0,231.0 377.5,231.0 377.5,229.3 379.0,229.3 379.0,231.3 380.5,231.3 380.5,229.7 382.0,229.7 382.0,233.4 383.5,233.4 383.5,231.6 385.0,231.6 385.0,228.4 386.5,228.4 386.5,230.4 388.0,230.4 388.0,232.2 389.5,232.2 389.5,229.7 391.0,229.7 391.0,231.4 392.5,231.4 392.5,233.3 394.0,233.3 394.0,231.7 395.5,231.7 395.5,229.5 397.0,229.5 397.0,230.0 398.5,230.0 398.5,229.2 400.0,229.2 400.0,229.6 401.5,229.6 401.5,228.8 402.9,228.8 402.9,229.5 404.4,229.5 404.4,231.5 405.9,231.5 405.9,230.6 407.4,230.6 407.4,230.5 408.8,230.5 408.8,228.9 410.3,228.9 410.3,229.1 411.8,229.1 411.8,228.3 413.2,228.3 413.2,231.5 414.7,231.5 414.7,228.8 416.2,228.8 416.2,231.5 417.6,231.5 417.6,229.8 419.1,229.8 419.1,230.5 420.6,230.5 420.6,230.3 422.1,230.3 422.1,232.8 423.5,232.8 423.5,232.1 425.0,232.1 425.0,232.4 426.5,232.4 426.5,233.0 428.0,233.0 428.0,229.4 429.5,229.4 429.5,229.7 431.0,229.7 431.0,231.9 432.5,231.9 432.5,232.3 434.0,232.3 434.0,232.5 435.5,232.5 435.5,233.2 437.0,233.2 437.0,231.6 438.5,231.6 438.5,230.6 440.0,230.6 440.0,229.6 441.5,229.6 441.5,232.8 443.0,232.8 443.0,235.9 444.5,235.9 444.5,231.9 446.0,231.9 446.0,232.7 447.5,232.7 447.5,231.9 449.0,231.9 449.0,234.0 450.5,234.0 450.5,233.5 452.0,233.5 452.0,231.4 453.5,231.4 453.5,230.8 455.0,230.8 455.0,230.2 456.5,230.2 456.5,231.6 458.0,231.6 458.0,231.1 459.6,231.1 459.6,229.0 461.1,229.0 461.1,232.4 462.6,232.4 462.6,230.8 464.1,230.8 464.1,232.0 465.7,232.0 465.7,233.6 467.2,233.6 467.2,233.1 468.7,233.1 468.7,232.3 470.2,232.3 470.2,231.6 471.7,231.6 471.7,234.6 473.3,234.6 473.3,233.2 474.8,233.2 474.8,234.3 476.3,234.3 476.3,232.5 477.8,232.5 477.8,234.7 479.3,234.7 479.3,237.7 480.9,237.7 480.9,233.7 482.4,233.7 482.4,233.5 483.9,233.5 483.9,236.5 485.4,236.5 485.4,234.8 487.0,234.8 487.0,233.8 488.5,233.8 488.5,236.4 490.0,236.4 490.0,236.7 491.5,236.7 491.5,234.2 493.0,234.2 493.0,233.5 494.6,233.5 494.6,233.4 496.1,233.4 496.1,234.3 497.6,234.3 497.6,232.0 499.1,232.0 499.1,231.7 500.7,231.7 500.7,230.8 502.2,230.8 502.2,233.0 503.7,233.0 503.7,232.7 505.2,232.7 505.2,230.9 506.7,230.9 506.7,231.3 508.3,231.3 508.3,233.1 509.8,233.1 509.8,232.6 511.3,232.6 511.3,232.0 512.8,232.0 512.8,231.6 514.3,231.6 514.3,232.1 515.9,232.1 515.9,228.5 517.4,228.5 517.4,226.4 518.9,226.4 518.9,227.4 520.4,227.4 520.4,229.7 522.0,229.7 522.0,226.8 523.5,226.8 523.5,227.6 525.0,227.6 525.0,228.0 526.5,228.0 526.5,225.2 528.0,225.2 528.0,226.3 529.5,226.3 529.5,227.1 531.0,227.1 531.0,227.6 532.5,227.6 532.5,228.9 534.0,228.9 534.0,225.4 535.5,225.4 535.5,227.1 537.0,227.1 537.0,227.4 538.5,227.4 538.5,226.8 540.0,226.8 540.0,227.8 541.5,227.8 541.5,225.2 543.0,225.2 543.0,225.1 544.5,225.1 544.5,225.0 546.0,225.0 546.0,227.4 547.5,227.4 547.5,224.3 549.0,224.3 549.0,225.6 550.5,225.6 550.5,224.0 552.0,224.0 552.0,223.0 553.5,223.0 553.5,225.6 555.0,225.6 555.0,226.0 556.5,226.0 556.5,225.3 558.0,225.3 558.0,222.1 559.5,222.1 559.5,224.4 561.0,224.4 561.0,222.9 562.5,222.9 562.5,222.3 564.0,222.3 564.0,219.4 565.5,219.4 565.5,222.4 567.0,222.4 567.0,221.7 568.5,221.7 568.5,223.1 570.0,223.1 570.0,221.8 571.5,221.8 571.5,222.3 573.0,222.3 573.0,226.5 574.6,226.5 574.6,222.0 576.1,222.0 576.1,225.1 577.6,225.1 577.6,222.5 579.1,222.5 579.1,220.7 580.7,220.7 580.7,219.2 582.2,219.2 582.2,221.9 583.7,221.9 583.7,220.1 585.2,220.1 585.2,219.0 586.7,219.0 586.7,220.4 588.3,220.4 588.3,223.2 589.8,223.2 589.8,223.2 591.3,223.2 591.3,221.0 592.8,221.0 592.8,220.1 594.3,220.1 594.3,220.6 595.9,220.6 595.9,220.5 597.4,220.5 597.4,223.9 598.9,223.9 598.9,219.5 600.4,219.5 600.4,219.2 602.0,219.2 602.0,221.9 603.5,221.9 603.5,220.6 605.0,220.6 605.0,221.8 606.5,221.8 606.5,222.3 608.0,222.3 608.0,220.9 609.5,220.9 609.5,220.2 611.0,220.2 611.0,222.3 612.5,222.3 612.5,224.4 614.0,224.4 614.0,225.4 615.5,225.4 615.5,225.8 617.0,225.8 617.0,225.2 618.6,225.2 618.6,226.7 620.2,226.7 620.2,231.5 621.8,231.5 621.8,234.8 623.4,234.8 623.4,237.2 625.0,237.2 625.0,241.8 626.4,241.8 626.4,240.7 627.9,240.7 627.9,244.2 629.3,244.2 629.3,244.2 630.7,244.2 630.7,248.4 632.1,248.4 632.1,249.6 633.6,249.6 633.6,249.3 635.0,249.3 635.0,253.7 636.5,253.7 636.5,254.5 638.1,254.5 638.1,255.4 639.6,255.4 639.6,256.6 641.2,256.6 641.2,257.1 642.7,257.1 642.7,258.7 644.2,258.7 644.2,257.1 645.8,257.1 645.8,262.3 647.3,262.3 647.3,259.2 648.8,259.2 648.8,260.1 650.4,260.1 650.4,262.1 651.9,262.1 651.9,262.2 653.5,262.2 653.5,262.9 655.0,262.9 655.0,261.9 656.5,261.9 656.5,262.9 658.0,262.9 658.0,265.2 659.5,265.2 659.5,265.4 661.0,265.4 661.0,267.2 662.5,267.2 662.5,267.8 664.0,267.8 664.0,268.5 665.5,268.5 665.5,269.3 667.0,269.3 667.0,268.5 668.5,268.5 668.5,272.9 670.0,272.9 670.0,273.8 671.5,273.8 671.5,272.2 673.0,272.2 673.0,272.0 674.6,272.0 674.6,271.2 676.1,271.2 676.1,270.3 677.6,270.3 677.6,272.9 679.1,272.9 679.1,271.8 680.7,271.8 680.7,273.5 682.2,273.5 682.2,273.1 683.7,273.1 683.7,273.5 685.2,273.5 685.2,276.9 686.7,276.9 686.7,275.6 688.3,275.6 688.3,272.4 689.8,272.4 689.8,275.5 691.3,275.5 691.3,273.4 692.8,273.4 692.8,273.3 694.3,273.3 694.3,272.2 695.9,272.2 695.9,271.7 697.4,271.7 697.4,271.9 698.9,271.9 698.9,274.6 700.4,274.6 700.4,273.9 702.0,273.9 702.0,273.0 703.5,273.0 703.5,274.2 705.0,274.2 705.0,273.1 706.5,273.1 706.5,273.9 708.1,273.9 708.1,273.9 709.6,273.9 709.6,273.1 711.2,273.1 711.2,272.3 712.7,272.3 712.7,271.6 714.2,271.6 714.2,272.6 715.8,272.6 715.8,271.6 717.3,271.6 717.3,274.3 718.8,274.3 718.8,272.9 720.4,272.9 720.4,273.0 721.9,273.0 721.9,273.9 723.5,273.9 723.5,271.1 725.0,271.1 725.0,271.3 726.7,271.3 726.7,270.9 728.3,270.9 728.3,270.2 730.0,270.2 730.0,269.7 731.3,269.7 731.3,270.3 732.7,270.3 732.7,273.7 734.0,273.7 734.0,273.2 735.3,273.2 735.3,273.5 736.7,273.5 736.7,275.8 738.0,275.8 738.0,279.3" fill="none" stroke="#e6332a" stroke-width="3.0" stroke-linejoin="miter" stroke-linecap="miter"/>
<line x1="82" y1="515.5" x2="739.3" y2="515.5" stroke="#000" stroke-width="5.5" stroke-linecap="butt"/>
<line x1="138.6" y1="515.5" x2="138.6" y2="526.75" stroke="#000" stroke-width="2.8" stroke-linecap="butt"/>
<line x1="275" y1="515.5" x2="275" y2="526.75" stroke="#000" stroke-width="2.8" stroke-linecap="butt"/>
<line x1="411.4" y1="515.5" x2="411.4" y2="526.75" stroke="#000" stroke-width="2.8" stroke-linecap="butt"/>
<line x1="547.8" y1="515.5" x2="547.8" y2="526.75" stroke="#000" stroke-width="2.8" stroke-linecap="butt"/>
<line x1="684.2" y1="515.5" x2="684.2" y2="526.75" stroke="#000" stroke-width="2.8" stroke-linecap="butt"/>
<line x1="206.8" y1="515.5" x2="206.8" y2="524.75" stroke="#000" stroke-width="2.2" stroke-linecap="butt"/>
<line x1="343.2" y1="515.5" x2="343.2" y2="524.75" stroke="#000" stroke-width="2.2" stroke-linecap="butt"/>
<line x1="479.59999999999997" y1="515.5" x2="479.59999999999997" y2="524.75" stroke="#000" stroke-width="2.2" stroke-linecap="butt"/>
<line x1="616.0" y1="515.5" x2="616.0" y2="524.75" stroke="#000" stroke-width="2.2" stroke-linecap="butt"/>
<text x="138" y="535.4" font-size="11.2" fill="#000" font-weight="bold" text-anchor="middle" textLength="12.5" lengthAdjust="spacingAndGlyphs" stroke="#000" stroke-width="0.25">45</text>
<text x="270" y="535.4" font-size="11.2" fill="#000" font-weight="bold" text-anchor="middle" textLength="12.5" lengthAdjust="spacingAndGlyphs" stroke="#000" stroke-width="0.25">50</text>
<text x="402" y="535.4" font-size="11.2" fill="#000" font-weight="bold" text-anchor="middle" textLength="12.5" lengthAdjust="spacingAndGlyphs" stroke="#000" stroke-width="0.25">55</text>
<text x="533" y="535.4" font-size="11.2" fill="#000" font-weight="bold" text-anchor="middle" textLength="12.5" lengthAdjust="spacingAndGlyphs" stroke="#000" stroke-width="0.25">60</text>
<text x="663" y="535.4" font-size="11.2" fill="#000" font-weight="bold" text-anchor="middle" textLength="12.5" lengthAdjust="spacingAndGlyphs" stroke="#000" stroke-width="0.25">65</text>
<line x1="739.3" y1="69" x2="739.3" y2="517" stroke="#367d48" stroke-width="3.3" stroke-linecap="butt"/>
<line x1="729.3" y1="169.7" x2="739.3" y2="169.7" stroke="#367d48" stroke-width="2.6" stroke-linecap="butt"/>
<line x1="729.3" y1="416.8" x2="739.3" y2="416.8" stroke="#367d48" stroke-width="2.6" stroke-linecap="butt"/>
<text x="744.8" y="178.18099999999998" font-size="19.5" fill="#367d48" font-weight="bold" textLength="27" lengthAdjust="spacingAndGlyphs" stroke="#367d48" stroke-width="0.43">1.0</text>
<text x="744.8" y="425.281" font-size="19.5" fill="#367d48" font-weight="bold" textLength="27" lengthAdjust="spacingAndGlyphs" stroke="#367d48" stroke-width="0.43">0.5</text>
<text x="21" y="182.6" font-size="15.3" fill="#000" font-weight="bold" textLength="105.7" lengthAdjust="spacingAndGlyphs" transform="rotate(-90 21 182.6)" stroke="#000" stroke-width="0.34">Movement (nm)</text>
<text x="20" y="287.2" font-size="15.3" fill="#000" font-weight="bold" textLength="102.6" lengthAdjust="spacingAndGlyphs" transform="rotate(-90 20 287.2)" stroke="#000" stroke-width="0.34">Azimuth angle (°)</text>
<text x="19.2" y="395.4" font-size="15.3" fill="#000" font-weight="bold" textLength="98.7" lengthAdjust="spacingAndGlyphs" transform="rotate(-90 19.2 395.4)" stroke="#000" stroke-width="0.34">Polar angle (°)</text>
<text x="16.7" y="477" font-size="15.3" fill="#000" font-weight="bold" textLength="46.7" lengthAdjust="spacingAndGlyphs" transform="rotate(-90 16.7 477)" stroke="#000" stroke-width="0.34">z (nm)</text>
<text x="411" y="556.5" font-size="19" fill="#000" font-weight="bold" text-anchor="middle" textLength="72.5" lengthAdjust="spacingAndGlyphs" stroke="#000" stroke-width="0.42">Time (s)</text>
<text x="803.5" y="499" font-size="21" fill="#367d48" font-weight="bold" textLength="426" lengthAdjust="spacingAndGlyphs" transform="rotate(-90 803.5 499)" stroke="#367d48" stroke-width="0.46">Normalized fluorescence intensity  (n. a.u.)</text>
<text x="-2" y="56" font-size="50" fill="#000" font-weight="normal">a</text>
<text x="204" y="21" font-size="27.4" fill="#000" font-weight="bold" textLength="79" lengthAdjust="spacing" stroke="#000" stroke-width="0.6">Static</text>
<text x="289" y="21" font-size="27.4" fill="#e6332a" font-weight="bold" textLength="86" lengthAdjust="spacing" stroke="#e6332a" stroke-width="0.6">Super</text>
<text x="196.5" y="55" font-size="27.4" fill="#000" font-weight="bold" textLength="94" lengthAdjust="spacing" stroke="#000" stroke-width="0.6">Period</text>
<text x="298" y="55" font-size="27.4" fill="#e6332a" font-weight="bold" textLength="70" lengthAdjust="spacing" stroke="#e6332a" stroke-width="0.6">twist</text>
<text x="522" y="20.7" font-size="27.4" fill="#2a74b8" font-weight="bold" textLength="170.5" lengthAdjust="spacing" stroke="#2a74b8" stroke-width="0.6">Detachment</text>
<text x="569.7" y="54.6" font-size="27.4" fill="#2a74b8" font-weight="bold" textLength="77.3" lengthAdjust="spacing" stroke="#2a74b8" stroke-width="0.6">point</text>
<text x="99.5" y="640" font-size="29.5" fill="#2a74b8" font-weight="bold" stroke="#2a74b8" stroke-width="0.5">A</text>
<text x="286" y="640" font-size="29.5" fill="#2a74b8" font-weight="bold" stroke="#2a74b8" stroke-width="0.5">B</text>
<text x="506" y="640" font-size="29.5" fill="#2a74b8" font-weight="bold" stroke="#2a74b8" stroke-width="0.5">C</text>
<text x="527" y="640" font-size="29.5" fill="#2a74b8" font-weight="bold" stroke="#2a74b8" stroke-width="0.5">D</text>
<text x="548" y="640" font-size="29.5" fill="#2a74b8" font-weight="bold" stroke="#2a74b8" stroke-width="0.5">E</text>
<text x="624" y="640" font-size="29.5" fill="#2a74b8" font-weight="bold" stroke="#2a74b8" stroke-width="0.5">F</text>
<line x1="136" y1="649" x2="136" y2="1085" stroke="#000" stroke-width="3.9" stroke-linecap="butt"/>
<line x1="84.5" y1="969" x2="751" y2="969" stroke="#000" stroke-width="3.3" stroke-linecap="butt"/>
<line x1="87.5" y1="969" x2="87.5" y2="976.15" stroke="#000" stroke-width="2.8" stroke-linecap="butt"/>
<line x1="253" y1="969" x2="253" y2="976.15" stroke="#000" stroke-width="2.8" stroke-linecap="butt"/>
<line x1="419" y1="969" x2="419" y2="976.15" stroke="#000" stroke-width="2.8" stroke-linecap="butt"/>
<line x1="585" y1="969" x2="585" y2="976.15" stroke="#000" stroke-width="2.8" stroke-linecap="butt"/>
<line x1="751" y1="969" x2="751" y2="976.15" stroke="#000" stroke-width="2.8" stroke-linecap="butt"/>
<line x1="170.25" y1="969" x2="170.25" y2="974.15" stroke="#000" stroke-width="2.2" stroke-linecap="butt"/>
<line x1="336.0" y1="969" x2="336.0" y2="974.15" stroke="#000" stroke-width="2.2" stroke-linecap="butt"/>
<line x1="502.0" y1="969" x2="502.0" y2="974.15" stroke="#000" stroke-width="2.2" stroke-linecap="butt"/>
<line x1="668.0" y1="969" x2="668.0" y2="974.15" stroke="#000" stroke-width="2.2" stroke-linecap="butt"/>
<text x="87.5" y="985.5" font-size="11" fill="#000" font-weight="bold" text-anchor="middle" textLength="18.3" lengthAdjust="spacingAndGlyphs" stroke="#000" stroke-width="0.24" opacity="0.45">145</text>
<text x="253" y="985.5" font-size="11" fill="#000" font-weight="bold" text-anchor="middle" textLength="18.3" lengthAdjust="spacingAndGlyphs" stroke="#000" stroke-width="0.24" opacity="0.45">150</text>
<text x="419" y="985.5" font-size="11" fill="#000" font-weight="bold" text-anchor="middle" textLength="18.3" lengthAdjust="spacingAndGlyphs" stroke="#000" stroke-width="0.24" opacity="0.45">155</text>
<text x="585" y="985.5" font-size="11" fill="#000" font-weight="bold" text-anchor="middle" textLength="18.3" lengthAdjust="spacingAndGlyphs" stroke="#000" stroke-width="0.24">160</text>
<text x="751" y="985.5" font-size="11" fill="#000" font-weight="bold" text-anchor="middle" textLength="18.3" lengthAdjust="spacingAndGlyphs" stroke="#000" stroke-width="0.24">165</text>
<polyline points="89.0,925.0 90.4,925.0 90.4,925.4 91.8,925.4 91.8,925.0 93.2,925.0 93.2,927.4 94.6,927.4 94.6,937.0 96.0,937.0 96.0,927.3 97.4,927.3 97.4,930.4 98.8,930.4 98.8,928.8 100.2,928.8 100.2,931.4 101.6,931.4 101.6,932.5 103.0,932.5 103.0,927.1 104.4,927.1 104.4,933.3 105.8,933.3 105.8,928.4 107.2,928.4 107.2,928.6 108.6,928.6 108.6,933.5 110.0,933.5 110.0,932.2 111.4,932.2 111.4,923.3 112.9,923.3 112.9,927.9 114.3,927.9 114.3,932.4 115.7,932.4 115.7,927.7 117.1,927.7 117.1,924.6 118.6,924.6 118.6,924.2 120.0,924.2 120.0,920.1 121.4,920.1 121.4,928.8 122.9,928.8 122.9,925.9 124.3,925.9 124.3,931.4 125.7,931.4 125.7,930.8 127.1,930.8 127.1,929.1 128.6,929.1 128.6,925.3 130.0,925.3 130.0,931.5 131.4,931.5 131.4,930.0 132.9,930.0 132.9,931.2 134.3,931.2 134.3,926.5 135.7,926.5 135.7,924.3 137.1,924.3 137.1,931.3 138.6,931.3 138.6,931.5 140.0,931.5 140.0,927.4 141.4,927.4 141.4,924.1 142.9,924.1 142.9,925.7 144.3,925.7 144.3,928.1 145.7,928.1 145.7,931.3 147.1,931.3 147.1,929.7 148.6,929.7 148.6,918.7 150.0,918.7 150.0,922.6 151.4,922.6 151.4,929.8 152.9,929.8 152.9,929.0 154.3,929.0 154.3,924.6 155.7,924.6 155.7,927.1 157.1,927.1 157.1,926.4 158.6,926.4 158.6,917.5 160.0,917.5 160.0,923.6 161.4,923.6 161.4,928.7 162.9,928.7 162.9,923.5 164.3,923.5 164.3,926.3 165.7,926.3 165.7,925.6 167.1,925.6 167.1,927.1 168.6,927.1 168.6,923.0 170.0,923.0 170.0,930.9 171.4,930.9 171.4,929.5 172.9,929.5 172.9,929.8 174.3,929.8 174.3,925.7 175.7,925.7 175.7,926.1 177.1,926.1 177.1,926.9 178.6,926.9 178.6,929.8 180.0,929.8 180.0,928.8 181.4,928.8 181.4,931.4 182.9,931.4 182.9,929.7 184.3,929.7 184.3,931.5 185.7,931.5 185.7,927.6 187.1,927.6 187.1,930.9 188.6,930.9 188.6,927.0 190.0,927.0 190.0,930.3 191.4,930.3 191.4,927.7 192.9,927.7 192.9,932.2 194.3,932.2 194.3,929.7 195.7,929.7 195.7,930.4 197.1,930.4 197.1,925.9 198.6,925.9 198.6,936.1 200.0,936.1 200.0,930.3 201.4,930.3 201.4,922.4 202.7,922.4 202.7,929.9 204.1,929.9 204.1,929.9 205.5,929.9 205.5,929.3 206.8,929.3 206.8,929.8 208.2,929.8 208.2,922.2 209.5,922.2 209.5,923.6 210.9,923.6 210.9,928.1 212.3,928.1 212.3,926.5 213.6,926.5 213.6,926.8 215.0,926.8 215.0,930.8 216.4,930.8 216.4,925.4 217.9,925.4 217.9,928.8 219.3,928.8 219.3,926.8 220.7,926.8 220.7,926.5 222.1,926.5 222.1,920.9 223.6,920.9 223.6,923.9 225.0,923.9 225.0,920.4 226.4,920.4 226.4,928.2 227.9,928.2 227.9,918.4 229.3,918.4 229.3,925.6 230.7,925.6 230.7,919.0 232.1,919.0 232.1,923.9 233.6,923.9 233.6,922.3 235.0,922.3 235.0,920.3 236.2,920.3 236.2,924.6 237.5,924.6 237.5,923.1 238.8,923.1 238.8,927.0 240.0,927.0 240.0,933.2 241.4,933.2 241.4,933.0 242.9,933.0 242.9,927.2 244.3,927.2 244.3,928.3 245.7,928.3 245.7,931.7 247.1,931.7 247.1,935.3 248.6,935.3 248.6,932.7 250.0,932.7 250.0,933.7 251.4,933.7 251.4,931.1 252.9,931.1 252.9,935.6 254.3,935.6 254.3,933.2 255.7,933.2 255.7,935.8 257.1,935.8 257.1,932.8 258.6,932.8 258.6,935.2 260.0,935.2 260.0,935.0 261.4,935.0 261.4,933.0 262.9,933.0 262.9,935.0 264.3,935.0 264.3,935.8 265.7,935.8 265.7,931.9 267.1,931.9 267.1,936.7 268.6,936.7 268.6,933.8 270.0,933.8 270.0,933.5 271.4,933.5 271.4,932.8 272.9,932.8 272.9,936.6 274.3,936.6 274.3,933.3 275.7,933.3 275.7,933.7 277.1,933.7 277.1,935.3 278.6,935.3 278.6,931.8 280.0,931.8 280.0,937.7 281.4,937.7 281.4,935.1 282.9,935.1 282.9,938.4 284.3,938.4 284.3,935.2 285.7,935.2 285.7,937.5 287.1,937.5 287.1,936.7 288.6,936.7 288.6,937.7 290.0,937.7 290.0,935.4 291.4,935.4 291.4,933.2 292.9,933.2 292.9,937.1 294.3,937.1 294.3,937.1 295.7,937.1 295.7,944.0 297.1,944.0 297.1,937.0 298.6,937.0 298.6,935.1 300.0,935.1 300.0,933.7 301.4,933.7 301.4,938.9 302.9,938.9 302.9,934.0 304.3,934.0 304.3,936.3 305.7,936.3 305.7,935.0 307.1,935.0 307.1,933.7 308.6,933.7 308.6,933.5 310.0,933.5 310.0,933.8 311.4,933.8 311.4,932.7 312.9,932.7 312.9,934.8 314.3,934.8 314.3,925.5 315.7,925.5 315.7,930.8 317.1,930.8 317.1,929.8 318.6,929.8 318.6,927.3 320.0,927.3 320.0,924.7 321.4,924.7 321.4,923.6 322.9,923.6 322.9,930.2 324.3,930.2 324.3,919.4 325.8,919.4 325.8,925.3 327.2,925.3 327.2,928.7 328.7,928.7 328.7,927.2 330.1,927.2 330.1,928.3 331.6,928.3 331.6,923.2 333.0,923.2 333.0,923.3 335.0,923.3 335.0,912.4 336.4,912.4 336.4,912.3 337.8,912.3 337.8,906.9 339.2,906.9 339.2,907.0 340.6,907.0 340.6,909.3 341.9,909.3 341.9,911.8 343.3,911.8 343.3,912.7 344.7,912.7 344.7,910.0 346.1,910.0 346.1,912.4 347.5,912.4 347.5,912.2 348.9,912.2 348.9,910.2 350.3,910.2 350.3,911.5 351.7,911.5 351.7,911.5 353.1,911.5 353.1,912.9 354.4,912.9 354.4,903.6 355.8,903.6 355.8,907.2 357.2,907.2 357.2,909.8 358.6,909.8 358.6,906.7 360.0,906.7 360.0,911.8 361.4,911.8 361.4,912.0 362.9,912.0 362.9,912.6 364.3,912.6 364.3,915.5 365.7,915.5 365.7,912.2 367.1,912.2 367.1,914.3 368.6,914.3 368.6,909.0 370.0,909.0 370.0,916.9 371.4,916.9 371.4,911.9 372.9,911.9 372.9,909.1 374.3,909.1 374.3,915.2 375.7,915.2 375.7,909.4 377.1,909.4 377.1,913.8 378.6,913.8 378.6,917.5 380.0,917.5 380.0,911.2 381.4,911.2 381.4,907.2 382.9,907.2 382.9,917.9 384.3,917.9 384.3,917.1 385.7,917.1 385.7,910.0 387.1,910.0 387.1,908.9 388.6,908.9 388.6,918.7 390.0,918.7 390.0,915.4 391.4,915.4 391.4,912.7 392.9,912.7 392.9,910.6 394.3,910.6 394.3,911.5 395.7,911.5 395.7,914.1 397.1,914.1 397.1,914.0 398.6,914.0 398.6,912.1 400.0,912.1 400.0,911.9 401.4,911.9 401.4,916.6 402.9,916.6 402.9,915.9 404.3,915.9 404.3,913.8 405.7,913.8 405.7,915.1 407.1,915.1 407.1,913.1 408.6,913.1 408.6,918.0 410.0,918.0 410.0,918.9 411.4,918.9 411.4,916.9 412.7,916.9 412.7,916.5 414.1,916.5 414.1,917.4 415.5,917.4 415.5,918.1 416.8,918.1 416.8,915.4 418.2,915.4 418.2,916.4 419.5,916.4 419.5,915.5 420.9,915.5 420.9,920.4 422.3,920.4 422.3,916.6 423.6,916.6 423.6,922.7 425.0,922.7 425.0,916.3 426.4,916.3 426.4,913.6 427.9,913.6 427.9,914.6 429.3,914.6 429.3,917.9 430.7,917.9 430.7,913.0 432.1,913.0 432.1,916.1 433.6,916.1 433.6,915.9 435.0,915.9 435.0,910.0 436.4,910.0 436.4,914.7 437.9,914.7 437.9,915.8 439.3,915.8 439.3,911.2 440.7,911.2 440.7,912.7 442.1,912.7 442.1,912.7 443.6,912.7 443.6,916.0 445.0,916.0 445.0,919.4 446.4,919.4 446.4,919.3 447.9,919.3 447.9,915.2 449.3,915.2 449.3,918.4 450.7,918.4 450.7,914.8 452.1,914.8 452.1,916.2 453.6,916.2 453.6,919.0 455.0,919.0 455.0,918.2 456.2,918.2 456.2,915.1 457.5,915.1 457.5,909.2 458.8,909.2 458.8,910.9 460.0,910.9 460.0,909.4 461.4,909.4 461.4,911.7 462.9,911.7 462.9,912.7 464.3,912.7 464.3,910.9 465.7,910.9 465.7,916.5 467.1,916.5 467.1,911.6 468.6,911.6 468.6,907.8 470.0,907.8 470.0,914.0 471.4,914.0 471.4,907.7 472.9,907.7 472.9,912.3 474.3,912.3 474.3,908.2 475.7,908.2 475.7,908.7 477.1,908.7 477.1,911.7 478.6,911.7 478.6,905.4 480.0,905.4 480.0,910.5 481.4,910.5 481.4,910.1 482.9,910.1 482.9,913.1 484.3,913.1 484.3,913.9 485.7,913.9 485.7,908.7 487.1,908.7 487.1,913.6 488.6,913.6 488.6,908.4 490.0,908.4 490.0,912.3 491.4,912.3 491.4,918.6 492.8,918.6 492.8,911.0 494.2,911.0 494.2,909.5 495.6,909.5 495.6,907.5 497.0,907.5 497.0,916.1 498.4,916.1 498.4,907.6 499.8,907.6 499.8,909.9 501.2,909.9 501.2,913.3 502.6,913.3 502.6,907.2 504.0,907.2 504.0,910.4 505.4,910.4 505.4,908.0 506.8,908.0 506.8,907.4 508.2,907.4 508.2,913.3 509.6,913.3 509.6,909.1 511.0,909.1 511.0,909.5 512.4,909.5 512.4,909.9 513.8,909.9 513.8,909.0 515.2,909.0 515.2,913.8 516.6,913.8 516.6,913.1 518.0,913.1 518.0,916.6 519.4,916.6 519.4,910.0 520.8,910.0 520.8,911.6 522.2,911.6 522.2,913.5 523.6,913.5 523.6,912.3 525.0,912.3 525.0,915.8 526.4,915.8 526.4,912.4 527.9,912.4 527.9,909.9 529.3,909.9 529.3,909.2 530.7,909.2 530.7,912.1 532.1,912.1 532.1,908.5 533.6,908.5 533.6,911.7 535.0,911.7 535.0,906.5 536.4,906.5 536.4,909.5 537.9,909.5 537.9,907.5 539.3,907.5 539.3,904.3 540.7,904.3 540.7,903.7 542.1,903.7 542.1,908.1 543.6,908.1 543.6,902.3 545.0,902.3 545.0,904.1 546.4,904.1 546.4,904.0 547.9,904.0 547.9,907.9 549.3,907.9 549.3,903.9 550.7,903.9 550.7,906.3 552.1,906.3 552.1,904.6 553.6,904.6 553.6,906.2 555.0,906.2 555.0,903.3 556.4,903.3 556.4,911.2 557.9,911.2 557.9,907.2 559.3,907.2 559.3,907.6 560.7,907.6 560.7,910.5 562.1,910.5 562.1,907.0 563.6,907.0 563.6,914.5 565.0,914.5 565.0,914.8 566.4,914.8 566.4,919.3 567.7,919.3 567.7,920.0 569.1,920.0 569.1,923.8 570.5,923.8 570.5,919.4 571.8,919.4 571.8,921.3 573.2,921.3 573.2,926.7 574.5,926.7 574.5,919.4 575.9,919.4 575.9,923.3 577.3,923.3 577.3,924.9 578.6,924.9 578.6,926.9 580.0,926.9 580.0,925.8 581.4,925.8 581.4,921.5 582.7,921.5 582.7,923.7 584.1,923.7 584.1,932.4 585.5,932.4 585.5,925.3 586.8,925.3 586.8,916.6 588.2,916.6 588.2,928.1 589.5,928.1 589.5,933.5 590.9,933.5 590.9,929.0 592.3,929.0 592.3,936.4 593.6,936.4 593.6,926.6 595.0,926.6 595.0,939.4 596.4,939.4 596.4,929.8 597.7,929.8 597.7,936.9 599.1,936.9 599.1,934.9 600.5,934.9 600.5,927.4 601.8,927.4 601.8,935.8 603.2,935.8 603.2,926.5 604.5,926.5 604.5,926.8 605.9,926.8 605.9,926.2 607.3,926.2 607.3,924.2 608.6,924.2 608.6,929.8 610.0,929.8 610.0,920.5 611.4,920.5 611.4,926.5 612.9,926.5 612.9,933.8 614.3,933.8 614.3,927.8 615.7,927.8 615.7,930.4 617.1,930.4 617.1,928.6 618.6,928.6 618.6,928.0 620.0,928.0 620.0,922.8 621.4,922.8 621.4,923.2 622.9,923.2 622.9,915.5 624.3,915.5 624.3,923.5 625.7,923.5 625.7,933.6 627.1,933.6 627.1,921.6 628.6,921.6 628.6,926.2 630.0,926.2 630.0,928.5 631.4,928.5 631.4,921.2 632.9,921.2 632.9,922.1 634.3,922.1 634.3,925.2 635.7,925.2 635.7,923.2 637.1,923.2 637.1,926.0 638.6,926.0 638.6,922.2 640.0,922.2 640.0,934.5 641.4,934.5 641.4,931.0 642.9,931.0 642.9,928.0 644.3,928.0 644.3,930.1 645.7,930.1 645.7,927.0 647.1,927.0 647.1,934.7 648.6,934.7 648.6,924.2 650.0,924.2 650.0,925.0 651.4,925.0 651.4,928.0 652.9,928.0 652.9,930.5 654.3,930.5 654.3,925.4 655.7,925.4 655.7,923.3 657.1,923.3 657.1,928.1 658.6,928.1 658.6,913.2 660.0,913.2 660.0,920.4 661.4,920.4 661.4,923.2 662.9,923.2 662.9,932.5 664.3,932.5 664.3,927.8 665.7,927.8 665.7,922.0 667.1,922.0 667.1,932.5 668.6,932.5 668.6,923.9 670.0,923.9 670.0,922.8 671.4,922.8 671.4,927.9 672.9,927.9 672.9,933.8 674.3,933.8 674.3,932.1 675.7,932.1 675.7,922.3 677.1,922.3 677.1,930.5 678.6,930.5 678.6,933.7 680.0,933.7 680.0,925.2 681.4,925.2 681.4,932.2 682.9,932.2 682.9,921.4 684.3,921.4 684.3,929.6 685.7,929.6 685.7,913.7 687.1,913.7 687.1,931.3 688.6,931.3 688.6,924.1 690.0,924.1 690.0,940.8 691.4,940.8 691.4,930.2 692.9,930.2 692.9,933.6 694.3,933.6 694.3,936.5 695.7,936.5 695.7,926.2 697.1,926.2 697.1,924.5 698.6,924.5 698.6,935.2 700.0,935.2 700.0,929.9 701.4,929.9 701.4,928.2 702.9,928.2 702.9,934.9 704.3,934.9 704.3,934.0 705.7,934.0 705.7,918.8 707.1,918.8 707.1,936.4 708.6,936.4 708.6,932.2 710.0,932.2 710.0,935.4 711.4,935.4 711.4,929.3 712.9,929.3 712.9,921.4 714.3,921.4 714.3,917.5 715.7,917.5 715.7,917.1 717.1,917.1 717.1,920.6 718.6,920.6 718.6,921.0 720.0,921.0 720.0,932.3 721.4,932.3 721.4,910.3 722.7,910.3 722.7,918.0 724.1,918.0 724.1,912.9 725.5,912.9 725.5,908.3 726.8,908.3 726.8,911.2 728.2,911.2 728.2,922.6 729.5,922.6 729.5,905.4 730.9,905.4 730.9,913.5 732.3,913.5 732.3,914.5 733.6,914.5 733.6,909.1 735.0,909.1 735.0,915.8 736.5,915.8 736.5,900.0 737.9,900.0 737.9,920.0 739.4,920.0 739.4,909.7 740.8,909.7 740.8,918.2 742.3,918.2 742.3,913.6 743.7,913.6 743.7,915.7 745.2,915.7 745.2,923.1 746.6,923.1 746.6,909.4 748.1,909.4 748.1,916.9 749.5,916.9 749.5,920.0 751.0,920.0 751.0,913.1" fill="none" stroke="#6dbf4b" stroke-width="2.5" stroke-linejoin="miter" stroke-linecap="miter"/>
<polyline points="90.0,1012.0 91.4,1013.0 92.8,1014.0 94.2,1016.0 95.6,1017.4 97.0,1018.2 98.4,1018.4 99.9,1018.0 101.3,1017.0 102.8,1016.0 104.2,1015.0 105.7,1014.0 107.1,1013.0 108.6,1012.3 110.0,1012.0 111.6,1011.9 113.2,1012.2 114.8,1012.8 116.4,1013.7 118.0,1014.8 119.4,1016.3 120.8,1018.0 122.2,1020.0 123.6,1021.8 125.0,1023.5 126.4,1025.0 127.9,1026.3 129.3,1027.4 130.7,1028.6 132.1,1029.7 133.6,1030.4 135.0,1030.7 136.4,1030.6 137.8,1030.0 139.2,1029.0 140.6,1028.3 142.0,1028.0 143.4,1028.1 144.9,1028.4 146.3,1029.1 147.7,1029.9 149.1,1030.6 150.6,1031.3 152.0,1032.0 153.4,1032.7 154.9,1033.4 156.3,1034.1 157.7,1034.9 159.1,1035.6 160.6,1036.0 162.0,1036.3 163.5,1036.3 165.0,1036.0 166.5,1035.0 168.0,1033.6 169.5,1031.7 171.0,1029.4 172.5,1026.6 174.0,1023.8 175.5,1021.0 177.0,1018.2 178.5,1015.4 180.0,1012.6 181.5,1010.6 183.0,1009.4 184.5,1009.1 186.0,1009.5 187.5,1010.8 189.0,1012.0 190.5,1013.2 192.0,1014.5 193.5,1015.8 195.0,1017.0 196.4,1018.3 197.9,1019.6 199.3,1020.9 200.7,1022.1 202.1,1023.4 203.6,1024.4 205.0,1025.1 206.4,1025.6 207.9,1025.7 209.3,1025.6 210.7,1025.4 212.1,1025.3 213.6,1024.9 215.0,1024.2 216.4,1023.3 217.9,1022.1 219.3,1020.7 220.7,1019.3 222.1,1017.9 223.6,1016.6 225.0,1015.6 226.5,1014.7 228.0,1014.0 229.5,1013.5 231.0,1013.0 232.5,1012.5 234.0,1012.0 235.5,1011.8 237.0,1011.9 238.6,1012.3 240.2,1013.0 241.8,1014.0 243.4,1014.8 245.0,1015.3 246.4,1015.6 247.9,1015.7 249.3,1015.6 250.7,1015.4 252.1,1015.3 253.6,1015.0 255.0,1014.6 256.4,1014.0 257.9,1013.3 259.3,1012.4 260.7,1011.6 262.1,1010.7 263.6,1010.1 265.0,1009.7 266.4,1009.5 267.9,1009.6 269.3,1009.9 270.7,1010.1 272.1,1010.4 273.6,1010.9 275.0,1011.5 276.4,1012.3 277.9,1013.3 279.3,1014.4 280.7,1015.6 282.1,1016.7 283.6,1017.6 285.0,1018.1 286.4,1018.4 287.9,1018.4 289.3,1018.1 290.7,1017.9 292.1,1017.6 293.6,1017.3 295.0,1016.9 296.4,1016.5 297.9,1016.1 299.3,1015.7 300.7,1015.3 302.1,1014.9 303.6,1014.6 305.0,1014.5 306.5,1014.6 308.1,1014.9 309.6,1015.4 311.2,1015.8 312.7,1016.3 314.2,1016.8 315.8,1017.2 317.3,1017.7 318.8,1018.2 320.4,1018.6 321.9,1019.1 323.5,1019.2 325.0,1019.0 326.4,1018.5 327.9,1017.7 329.3,1016.6 330.7,1015.4 332.1,1014.3 333.6,1013.5 335.0,1013.0 336.5,1012.9 337.9,1013.2 339.4,1013.8 340.9,1014.4 342.4,1014.9 343.8,1015.5 345.3,1016.1 346.8,1016.7 348.2,1017.3 349.7,1017.9 351.2,1018.5 352.6,1019.1 354.1,1019.6 355.6,1020.2 357.1,1020.8 358.5,1021.2 360.0,1021.5 361.4,1021.5 362.9,1021.4 364.3,1021.1 365.7,1020.9 367.1,1020.6 368.6,1020.5 370.0,1020.8 371.5,1021.3 373.0,1022.0 374.5,1023.0 376.0,1024.0 377.5,1025.0 379.0,1026.0 380.5,1027.0 382.0,1028.0 383.5,1028.5 385.0,1028.5 386.4,1028.1 387.9,1027.1 389.3,1025.7 390.7,1024.3 392.1,1022.9 393.6,1021.6 395.0,1020.7 396.7,1019.9 398.3,1019.9 400.0,1020.6 401.4,1021.8 402.9,1023.6 404.3,1025.9 405.7,1028.1 407.1,1030.4 408.6,1032.4 410.0,1034.0 411.4,1035.2 412.9,1036.1 414.3,1036.7 415.7,1037.3 417.1,1037.9 418.6,1038.0 420.0,1037.9 421.7,1037.3 423.3,1036.2 425.0,1034.7 426.4,1033.0 427.9,1031.3 429.3,1029.4 430.7,1027.6 432.1,1025.7 433.6,1024.4 435.0,1023.7 436.5,1023.6 438.0,1024.0 439.5,1025.0 441.0,1026.0 442.5,1027.0 444.0,1028.0 445.5,1028.4 447.0,1028.3 448.5,1027.6 450.0,1026.4 451.5,1024.6 453.0,1022.8 454.5,1021.0 456.0,1019.2 457.5,1017.4 459.0,1015.6 460.5,1014.3 462.0,1013.6 463.4,1013.4 464.9,1013.8 466.3,1014.7 467.8,1015.6 469.2,1016.4 470.7,1017.3 472.1,1018.2 473.6,1018.7 475.0,1018.6 476.5,1018.2 478.1,1017.2 479.6,1015.8 481.2,1014.5 482.7,1013.1 484.2,1011.7 485.8,1010.3 487.3,1008.9 488.8,1007.5 490.4,1006.2 491.9,1004.8 493.5,1003.7 495.0,1003.0 496.5,1002.6 498.1,1002.5 499.6,1002.7 501.2,1002.9 502.7,1003.2 504.2,1003.4 505.8,1003.6 507.3,1003.8 508.8,1004.1 510.4,1004.3 511.9,1004.5 513.5,1004.8 515.0,1005.2 516.5,1005.6 518.0,1006.0 519.5,1006.5 521.0,1007.0 522.5,1007.5 524.0,1008.0 525.5,1008.5 527.0,1009.0 528.5,1009.1 530.0,1008.7 531.5,1008.0 533.0,1006.8 534.5,1005.1 536.0,1003.5 537.5,1001.9 539.0,1000.2 540.5,998.9 542.0,997.7 543.5,996.8 545.0,996.2 546.5,995.8 548.0,995.4 549.5,995.0 551.0,994.6 552.5,994.2 554.0,993.8 555.5,993.6 557.0,993.6 558.4,993.8 559.9,994.1 561.3,994.7 562.7,995.3 564.1,995.9 565.6,997.0 567.0,998.8 568.6,1001.2 570.2,1004.2 571.8,1007.8 573.4,1010.9 575.0,1013.6 576.5,1015.8 578.0,1017.5 579.5,1018.8 581.0,1020.0 582.5,1021.2 584.0,1022.5 585.5,1023.7 587.0,1024.7 588.4,1025.7 589.9,1026.6 591.3,1027.3 592.8,1028.1 594.2,1028.9 595.7,1029.7 597.1,1030.4 598.6,1031.4 600.0,1032.4 601.4,1033.6 602.9,1034.9 604.3,1036.3 605.7,1037.7 607.1,1039.1 608.6,1040.2 610.0,1040.9 611.4,1041.2 612.8,1041.2 614.2,1040.8 615.6,1040.6 617.0,1040.7 618.4,1041.0 619.9,1041.6 621.3,1042.3 622.8,1043.1 624.2,1043.9 625.7,1044.7 627.1,1045.4 628.6,1045.8 630.0,1045.6 631.5,1045.0 633.0,1044.0 634.5,1042.5 636.0,1041.0 637.5,1039.5 639.0,1038.0 640.5,1036.5 642.0,1035.0 643.5,1033.7 645.0,1032.5 646.4,1031.4 647.9,1030.6 649.3,1029.9 650.7,1029.1 652.1,1028.4 653.6,1028.2 655.0,1028.5 656.4,1029.4 657.9,1030.7 659.3,1032.6 660.7,1034.4 662.1,1036.3 663.6,1037.8 665.0,1039.1 666.4,1040.0 667.9,1040.6 669.3,1040.9 670.7,1041.1 672.1,1041.4 673.6,1041.5 675.0,1041.5 676.5,1041.2 678.0,1040.8 679.5,1040.1 681.0,1039.5 682.5,1038.9 684.0,1038.2 685.5,1038.2 687.0,1038.6 688.5,1039.5 690.0,1041.0 691.5,1043.0 693.0,1045.0 694.5,1047.0 696.0,1049.0 697.5,1051.0 699.0,1053.0 700.5,1054.4 702.0,1055.1 703.4,1055.3 704.9,1054.8 706.3,1053.7 707.8,1052.6 709.2,1051.4 710.7,1050.3 712.1,1049.2 713.6,1048.2 715.0,1047.2 716.4,1046.4 717.9,1045.6 719.3,1044.9 720.7,1044.1 722.1,1043.4 723.6,1043.2 725.0,1043.4 726.5,1044.1 728.0,1045.2 729.5,1046.9 731.0,1048.5 732.5,1050.1 734.0,1051.8 735.5,1053.4 737.0,1055.0 738.4,1056.6 739.9,1058.1 741.3,1059.7 742.7,1061.3 744.1,1062.9 745.6,1063.6 747.0,1064.4" fill="none" stroke="#1f4e9c" stroke-width="3.5" stroke-linejoin="round" stroke-linecap="round"/>
<polygon points="90.0,953.0 136.0,1007.0 203.0,939.0 270.0,870.0 327.0,826.5 335.0,824.0 402.0,818.0 468.0,772.0 534.0,772.0 567.0,803.0 567.0,1020.0 600.0,1010.0 623.0,1004.0 667.0,1025.0 712.0,1044.0 733.0,1034.0 751.0,1025.0 751.0,1085.0 90.0,1085.0" fill="#278a33" fill-opacity="0.7"/>
<clipPath id="cp2"><polygon points="90.0,953.0 136.0,1007.0 203.0,939.0 270.0,870.0 327.0,826.5 335.0,824.0 402.0,818.0 468.0,772.0 534.0,772.0 567.0,803.0 567.0,1020.0 600.0,1010.0 623.0,1004.0 667.0,1025.0 712.0,1044.0 733.0,1034.0 751.0,1025.0 751.0,1085.0 90.0,1085.0"/></clipPath>
<line clip-path="url(#cp2)" x1="136" y1="649" x2="136" y2="1085" stroke="#164524" stroke-width="3.9"/>
<line clip-path="url(#cp2)" x1="86" y1="969" x2="751" y2="969" stroke="#164524" stroke-width="3.3"/>
<polyline clip-path="url(#cp2)" points="90.0,1012.0 91.4,1013.0 92.8,1014.0 94.2,1016.0 95.6,1017.4 97.0,1018.2 98.4,1018.4 99.9,1018.0 101.3,1017.0 102.8,1016.0 104.2,1015.0 105.7,1014.0 107.1,1013.0 108.6,1012.3 110.0,1012.0 111.6,1011.9 113.2,1012.2 114.8,1012.8 116.4,1013.7 118.0,1014.8 119.4,1016.3 120.8,1018.0 122.2,1020.0 123.6,1021.8 125.0,1023.5 126.4,1025.0 127.9,1026.3 129.3,1027.4 130.7,1028.6 132.1,1029.7 133.6,1030.4 135.0,1030.7 136.4,1030.6 137.8,1030.0 139.2,1029.0 140.6,1028.3 142.0,1028.0 143.4,1028.1 144.9,1028.4 146.3,1029.1 147.7,1029.9 149.1,1030.6 150.6,1031.3 152.0,1032.0 153.4,1032.7 154.9,1033.4 156.3,1034.1 157.7,1034.9 159.1,1035.6 160.6,1036.0 162.0,1036.3 163.5,1036.3 165.0,1036.0 166.5,1035.0 168.0,1033.6 169.5,1031.7 171.0,1029.4 172.5,1026.6 174.0,1023.8 175.5,1021.0 177.0,1018.2 178.5,1015.4 180.0,1012.6 181.5,1010.6 183.0,1009.4 184.5,1009.1 186.0,1009.5 187.5,1010.8 189.0,1012.0 190.5,1013.2 192.0,1014.5 193.5,1015.8 195.0,1017.0 196.4,1018.3 197.9,1019.6 199.3,1020.9 200.7,1022.1 202.1,1023.4 203.6,1024.4 205.0,1025.1 206.4,1025.6 207.9,1025.7 209.3,1025.6 210.7,1025.4 212.1,1025.3 213.6,1024.9 215.0,1024.2 216.4,1023.3 217.9,1022.1 219.3,1020.7 220.7,1019.3 222.1,1017.9 223.6,1016.6 225.0,1015.6 226.5,1014.7 228.0,1014.0 229.5,1013.5 231.0,1013.0 232.5,1012.5 234.0,1012.0 235.5,1011.8 237.0,1011.9 238.6,1012.3 240.2,1013.0 241.8,1014.0 243.4,1014.8 245.0,1015.3 246.4,1015.6 247.9,1015.7 249.3,1015.6 250.7,1015.4 252.1,1015.3 253.6,1015.0 255.0,1014.6 256.4,1014.0 257.9,1013.3 259.3,1012.4 260.7,1011.6 262.1,1010.7 263.6,1010.1 265.0,1009.7 266.4,1009.5 267.9,1009.6 269.3,1009.9 270.7,1010.1 272.1,1010.4 273.6,1010.9 275.0,1011.5 276.4,1012.3 277.9,1013.3 279.3,1014.4 280.7,1015.6 282.1,1016.7 283.6,1017.6 285.0,1018.1 286.4,1018.4 287.9,1018.4 289.3,1018.1 290.7,1017.9 292.1,1017.6 293.6,1017.3 295.0,1016.9 296.4,1016.5 297.9,1016.1 299.3,1015.7 300.7,1015.3 302.1,1014.9 303.6,1014.6 305.0,1014.5 306.5,1014.6 308.1,1014.9 309.6,1015.4 311.2,1015.8 312.7,1016.3 314.2,1016.8 315.8,1017.2 317.3,1017.7 318.8,1018.2 320.4,1018.6 321.9,1019.1 323.5,1019.2 325.0,1019.0 326.4,1018.5 327.9,1017.7 329.3,1016.6 330.7,1015.4 332.1,1014.3 333.6,1013.5 335.0,1013.0 336.5,1012.9 337.9,1013.2 339.4,1013.8 340.9,1014.4 342.4,1014.9 343.8,1015.5 345.3,1016.1 346.8,1016.7 348.2,1017.3 349.7,1017.9 351.2,1018.5 352.6,1019.1 354.1,1019.6 355.6,1020.2 357.1,1020.8 358.5,1021.2 360.0,1021.5 361.4,1021.5 362.9,1021.4 364.3,1021.1 365.7,1020.9 367.1,1020.6 368.6,1020.5 370.0,1020.8 371.5,1021.3 373.0,1022.0 374.5,1023.0 376.0,1024.0 377.5,1025.0 379.0,1026.0 380.5,1027.0 382.0,1028.0 383.5,1028.5 385.0,1028.5 386.4,1028.1 387.9,1027.1 389.3,1025.7 390.7,1024.3 392.1,1022.9 393.6,1021.6 395.0,1020.7 396.7,1019.9 398.3,1019.9 400.0,1020.6 401.4,1021.8 402.9,1023.6 404.3,1025.9 405.7,1028.1 407.1,1030.4 408.6,1032.4 410.0,1034.0 411.4,1035.2 412.9,1036.1 414.3,1036.7 415.7,1037.3 417.1,1037.9 418.6,1038.0 420.0,1037.9 421.7,1037.3 423.3,1036.2 425.0,1034.7 426.4,1033.0 427.9,1031.3 429.3,1029.4 430.7,1027.6 432.1,1025.7 433.6,1024.4 435.0,1023.7 436.5,1023.6 438.0,1024.0 439.5,1025.0 441.0,1026.0 442.5,1027.0 444.0,1028.0 445.5,1028.4 447.0,1028.3 448.5,1027.6 450.0,1026.4 451.5,1024.6 453.0,1022.8 454.5,1021.0 456.0,1019.2 457.5,1017.4 459.0,1015.6 460.5,1014.3 462.0,1013.6 463.4,1013.4 464.9,1013.8 466.3,1014.7 467.8,1015.6 469.2,1016.4 470.7,1017.3 472.1,1018.2 473.6,1018.7 475.0,1018.6 476.5,1018.2 478.1,1017.2 479.6,1015.8 481.2,1014.5 482.7,1013.1 484.2,1011.7 485.8,1010.3 487.3,1008.9 488.8,1007.5 490.4,1006.2 491.9,1004.8 493.5,1003.7 495.0,1003.0 496.5,1002.6 498.1,1002.5 499.6,1002.7 501.2,1002.9 502.7,1003.2 504.2,1003.4 505.8,1003.6 507.3,1003.8 508.8,1004.1 510.4,1004.3 511.9,1004.5 513.5,1004.8 515.0,1005.2 516.5,1005.6 518.0,1006.0 519.5,1006.5 521.0,1007.0 522.5,1007.5 524.0,1008.0 525.5,1008.5 527.0,1009.0 528.5,1009.1 530.0,1008.7 531.5,1008.0 533.0,1006.8 534.5,1005.1 536.0,1003.5 537.5,1001.9 539.0,1000.2 540.5,998.9 542.0,997.7 543.5,996.8 545.0,996.2 546.5,995.8 548.0,995.4 549.5,995.0 551.0,994.6 552.5,994.2 554.0,993.8 555.5,993.6 557.0,993.6 558.4,993.8 559.9,994.1 561.3,994.7 562.7,995.3 564.1,995.9 565.6,997.0 567.0,998.8 568.6,1001.2 570.2,1004.2 571.8,1007.8 573.4,1010.9 575.0,1013.6 576.5,1015.8 578.0,1017.5 579.5,1018.8 581.0,1020.0 582.5,1021.2 584.0,1022.5 585.5,1023.7 587.0,1024.7 588.4,1025.7 589.9,1026.6 591.3,1027.3 592.8,1028.1 594.2,1028.9 595.7,1029.7 597.1,1030.4 598.6,1031.4 600.0,1032.4 601.4,1033.6 602.9,1034.9 604.3,1036.3 605.7,1037.7 607.1,1039.1 608.6,1040.2 610.0,1040.9 611.4,1041.2 612.8,1041.2 614.2,1040.8 615.6,1040.6 617.0,1040.7 618.4,1041.0 619.9,1041.6 621.3,1042.3 622.8,1043.1 624.2,1043.9 625.7,1044.7 627.1,1045.4 628.6,1045.8 630.0,1045.6 631.5,1045.0 633.0,1044.0 634.5,1042.5 636.0,1041.0 637.5,1039.5 639.0,1038.0 640.5,1036.5 642.0,1035.0 643.5,1033.7 645.0,1032.5 646.4,1031.4 647.9,1030.6 649.3,1029.9 650.7,1029.1 652.1,1028.4 653.6,1028.2 655.0,1028.5 656.4,1029.4 657.9,1030.7 659.3,1032.6 660.7,1034.4 662.1,1036.3 663.6,1037.8 665.0,1039.1 666.4,1040.0 667.9,1040.6 669.3,1040.9 670.7,1041.1 672.1,1041.4 673.6,1041.5 675.0,1041.5 676.5,1041.2 678.0,1040.8 679.5,1040.1 681.0,1039.5 682.5,1038.9 684.0,1038.2 685.5,1038.2 687.0,1038.6 688.5,1039.5 690.0,1041.0 691.5,1043.0 693.0,1045.0 694.5,1047.0 696.0,1049.0 697.5,1051.0 699.0,1053.0 700.5,1054.4 702.0,1055.1 703.4,1055.3 704.9,1054.8 706.3,1053.7 707.8,1052.6 709.2,1051.4 710.7,1050.3 712.1,1049.2 713.6,1048.2 715.0,1047.2 716.4,1046.4 717.9,1045.6 719.3,1044.9 720.7,1044.1 722.1,1043.4 723.6,1043.2 725.0,1043.4 726.5,1044.1 728.0,1045.2 729.5,1046.9 731.0,1048.5 732.5,1050.1 734.0,1051.8 735.5,1053.4 737.0,1055.0 738.4,1056.6 739.9,1058.1 741.3,1059.7 742.7,1061.3 744.1,1062.9 745.6,1063.6 747.0,1064.4" fill="none" stroke="#16506a" stroke-width="3.5" stroke-linejoin="round" stroke-linecap="round"/>
<polyline clip-path="url(#cp2)" points="89.0,925.0 90.4,925.0 90.4,925.4 91.8,925.4 91.8,925.0 93.2,925.0 93.2,927.4 94.6,927.4 94.6,937.0 96.0,937.0 96.0,927.3 97.4,927.3 97.4,930.4 98.8,930.4 98.8,928.8 100.2,928.8 100.2,931.4 101.6,931.4 101.6,932.5 103.0,932.5 103.0,927.1 104.4,927.1 104.4,933.3 105.8,933.3 105.8,928.4 107.2,928.4 107.2,928.6 108.6,928.6 108.6,933.5 110.0,933.5 110.0,932.2 111.4,932.2 111.4,923.3 112.9,923.3 112.9,927.9 114.3,927.9 114.3,932.4 115.7,932.4 115.7,927.7 117.1,927.7 117.1,924.6 118.6,924.6 118.6,924.2 120.0,924.2 120.0,920.1 121.4,920.1 121.4,928.8 122.9,928.8 122.9,925.9 124.3,925.9 124.3,931.4 125.7,931.4 125.7,930.8 127.1,930.8 127.1,929.1 128.6,929.1 128.6,925.3 130.0,925.3 130.0,931.5 131.4,931.5 131.4,930.0 132.9,930.0 132.9,931.2 134.3,931.2 134.3,926.5 135.7,926.5 135.7,924.3 137.1,924.3 137.1,931.3 138.6,931.3 138.6,931.5 140.0,931.5 140.0,927.4 141.4,927.4 141.4,924.1 142.9,924.1 142.9,925.7 144.3,925.7 144.3,928.1 145.7,928.1 145.7,931.3 147.1,931.3 147.1,929.7 148.6,929.7 148.6,918.7 150.0,918.7 150.0,922.6 151.4,922.6 151.4,929.8 152.9,929.8 152.9,929.0 154.3,929.0 154.3,924.6 155.7,924.6 155.7,927.1 157.1,927.1 157.1,926.4 158.6,926.4 158.6,917.5 160.0,917.5 160.0,923.6 161.4,923.6 161.4,928.7 162.9,928.7 162.9,923.5 164.3,923.5 164.3,926.3 165.7,926.3 165.7,925.6 167.1,925.6 167.1,927.1 168.6,927.1 168.6,923.0 170.0,923.0 170.0,930.9 171.4,930.9 171.4,929.5 172.9,929.5 172.9,929.8 174.3,929.8 174.3,925.7 175.7,925.7 175.7,926.1 177.1,926.1 177.1,926.9 178.6,926.9 178.6,929.8 180.0,929.8 180.0,928.8 181.4,928.8 181.4,931.4 182.9,931.4 182.9,929.7 184.3,929.7 184.3,931.5 185.7,931.5 185.7,927.6 187.1,927.6 187.1,930.9 188.6,930.9 188.6,927.0 190.0,927.0 190.0,930.3 191.4,930.3 191.4,927.7 192.9,927.7 192.9,932.2 194.3,932.2 194.3,929.7 195.7,929.7 195.7,930.4 197.1,930.4 197.1,925.9 198.6,925.9 198.6,936.1 200.0,936.1 200.0,930.3 201.4,930.3 201.4,922.4 202.7,922.4 202.7,929.9 204.1,929.9 204.1,929.9 205.5,929.9 205.5,929.3 206.8,929.3 206.8,929.8 208.2,929.8 208.2,922.2 209.5,922.2 209.5,923.6 210.9,923.6 210.9,928.1 212.3,928.1 212.3,926.5 213.6,926.5 213.6,926.8 215.0,926.8 215.0,930.8 216.4,930.8 216.4,925.4 217.9,925.4 217.9,928.8 219.3,928.8 219.3,926.8 220.7,926.8 220.7,926.5 222.1,926.5 222.1,920.9 223.6,920.9 223.6,923.9 225.0,923.9 225.0,920.4 226.4,920.4 226.4,928.2 227.9,928.2 227.9,918.4 229.3,918.4 229.3,925.6 230.7,925.6 230.7,919.0 232.1,919.0 232.1,923.9 233.6,923.9 233.6,922.3 235.0,922.3 235.0,920.3 236.2,920.3 236.2,924.6 237.5,924.6 237.5,923.1 238.8,923.1 238.8,927.0 240.0,927.0 240.0,933.2 241.4,933.2 241.4,933.0 242.9,933.0 242.9,927.2 244.3,927.2 244.3,928.3 245.7,928.3 245.7,931.7 247.1,931.7 247.1,935.3 248.6,935.3 248.6,932.7 250.0,932.7 250.0,933.7 251.4,933.7 251.4,931.1 252.9,931.1 252.9,935.6 254.3,935.6 254.3,933.2 255.7,933.2 255.7,935.8 257.1,935.8 257.1,932.8 258.6,932.8 258.6,935.2 260.0,935.2 260.0,935.0 261.4,935.0 261.4,933.0 262.9,933.0 262.9,935.0 264.3,935.0 264.3,935.8 265.7,935.8 265.7,931.9 267.1,931.9 267.1,936.7 268.6,936.7 268.6,933.8 270.0,933.8 270.0,933.5 271.4,933.5 271.4,932.8 272.9,932.8 272.9,936.6 274.3,936.6 274.3,933.3 275.7,933.3 275.7,933.7 277.1,933.7 277.1,935.3 278.6,935.3 278.6,931.8 280.0,931.8 280.0,937.7 281.4,937.7 281.4,935.1 282.9,935.1 282.9,938.4 284.3,938.4 284.3,935.2 285.7,935.2 285.7,937.5 287.1,937.5 287.1,936.7 288.6,936.7 288.6,937.7 290.0,937.7 290.0,935.4 291.4,935.4 291.4,933.2 292.9,933.2 292.9,937.1 294.3,937.1 294.3,937.1 295.7,937.1 295.7,944.0 297.1,944.0 297.1,937.0 298.6,937.0 298.6,935.1 300.0,935.1 300.0,933.7 301.4,933.7 301.4,938.9 302.9,938.9 302.9,934.0 304.3,934.0 304.3,936.3 305.7,936.3 305.7,935.0 307.1,935.0 307.1,933.7 308.6,933.7 308.6,933.5 310.0,933.5 310.0,933.8 311.4,933.8 311.4,932.7 312.9,932.7 312.9,934.8 314.3,934.8 314.3,925.5 315.7,925.5 315.7,930.8 317.1,930.8 317.1,929.8 318.6,929.8 318.6,927.3 320.0,927.3 320.0,924.7 321.4,924.7 321.4,923.6 322.9,923.6 322.9,930.2 324.3,930.2 324.3,919.4 325.8,919.4 325.8,925.3 327.2,925.3 327.2,928.7 328.7,928.7 328.7,927.2 330.1,927.2 330.1,928.3 331.6,928.3 331.6,923.2 333.0,923.2 333.0,923.3 335.0,923.3 335.0,912.4 336.4,912.4 336.4,912.3 337.8,912.3 337.8,906.9 339.2,906.9 339.2,907.0 340.6,907.0 340.6,909.3 341.9,909.3 341.9,911.8 343.3,911.8 343.3,912.7 344.7,912.7 344.7,910.0 346.1,910.0 346.1,912.4 347.5,912.4 347.5,912.2 348.9,912.2 348.9,910.2 350.3,910.2 350.3,911.5 351.7,911.5 351.7,911.5 353.1,911.5 353.1,912.9 354.4,912.9 354.4,903.6 355.8,903.6 355.8,907.2 357.2,907.2 357.2,909.8 358.6,909.8 358.6,906.7 360.0,906.7 360.0,911.8 361.4,911.8 361.4,912.0 362.9,912.0 362.9,912.6 364.3,912.6 364.3,915.5 365.7,915.5 365.7,912.2 367.1,912.2 367.1,914.3 368.6,914.3 368.6,909.0 370.0,909.0 370.0,916.9 371.4,916.9 371.4,911.9 372.9,911.9 372.9,909.1 374.3,909.1 374.3,915.2 375.7,915.2 375.7,909.4 377.1,909.4 377.1,913.8 378.6,913.8 378.6,917.5 380.0,917.5 380.0,911.2 381.4,911.2 381.4,907.2 382.9,907.2 382.9,917.9 384.3,917.9 384.3,917.1 385.7,917.1 385.7,910.0 387.1,910.0 387.1,908.9 388.6,908.9 388.6,918.7 390.0,918.7 390.0,915.4 391.4,915.4 391.4,912.7 392.9,912.7 392.9,910.6 394.3,910.6 394.3,911.5 395.7,911.5 395.7,914.1 397.1,914.1 397.1,914.0 398.6,914.0 398.6,912.1 400.0,912.1 400.0,911.9 401.4,911.9 401.4,916.6 402.9,916.6 402.9,915.9 404.3,915.9 404.3,913.8 405.7,913.8 405.7,915.1 407.1,915.1 407.1,913.1 408.6,913.1 408.6,918.0 410.0,918.0 410.0,918.9 411.4,918.9 411.4,916.9 412.7,916.9 412.7,916.5 414.1,916.5 414.1,917.4 415.5,917.4 415.5,918.1 416.8,918.1 416.8,915.4 418.2,915.4 418.2,916.4 419.5,916.4 419.5,915.5 420.9,915.5 420.9,920.4 422.3,920.4 422.3,916.6 423.6,916.6 423.6,922.7 425.0,922.7 425.0,916.3 426.4,916.3 426.4,913.6 427.9,913.6 427.9,914.6 429.3,914.6 429.3,917.9 430.7,917.9 430.7,913.0 432.1,913.0 432.1,916.1 433.6,916.1 433.6,915.9 435.0,915.9 435.0,910.0 436.4,910.0 436.4,914.7 437.9,914.7 437.9,915.8 439.3,915.8 439.3,911.2 440.7,911.2 440.7,912.7 442.1,912.7 442.1,912.7 443.6,912.7 443.6,916.0 445.0,916.0 445.0,919.4 446.4,919.4 446.4,919.3 447.9,919.3 447.9,915.2 449.3,915.2 449.3,918.4 450.7,918.4 450.7,914.8 452.1,914.8 452.1,916.2 453.6,916.2 453.6,919.0 455.0,919.0 455.0,918.2 456.2,918.2 456.2,915.1 457.5,915.1 457.5,909.2 458.8,909.2 458.8,910.9 460.0,910.9 460.0,909.4 461.4,909.4 461.4,911.7 462.9,911.7 462.9,912.7 464.3,912.7 464.3,910.9 465.7,910.9 465.7,916.5 467.1,916.5 467.1,911.6 468.6,911.6 468.6,907.8 470.0,907.8 470.0,914.0 471.4,914.0 471.4,907.7 472.9,907.7 472.9,912.3 474.3,912.3 474.3,908.2 475.7,908.2 475.7,908.7 477.1,908.7 477.1,911.7 478.6,911.7 478.6,905.4 480.0,905.4 480.0,910.5 481.4,910.5 481.4,910.1 482.9,910.1 482.9,913.1 484.3,913.1 484.3,913.9 485.7,913.9 485.7,908.7 487.1,908.7 487.1,913.6 488.6,913.6 488.6,908.4 490.0,908.4 490.0,912.3 491.4,912.3 491.4,918.6 492.8,918.6 492.8,911.0 494.2,911.0 494.2,909.5 495.6,909.5 495.6,907.5 497.0,907.5 497.0,916.1 498.4,916.1 498.4,907.6 499.8,907.6 499.8,909.9 501.2,909.9 501.2,913.3 502.6,913.3 502.6,907.2 504.0,907.2 504.0,910.4 505.4,910.4 505.4,908.0 506.8,908.0 506.8,907.4 508.2,907.4 508.2,913.3 509.6,913.3 509.6,909.1 511.0,909.1 511.0,909.5 512.4,909.5 512.4,909.9 513.8,909.9 513.8,909.0 515.2,909.0 515.2,913.8 516.6,913.8 516.6,913.1 518.0,913.1 518.0,916.6 519.4,916.6 519.4,910.0 520.8,910.0 520.8,911.6 522.2,911.6 522.2,913.5 523.6,913.5 523.6,912.3 525.0,912.3 525.0,915.8 526.4,915.8 526.4,912.4 527.9,912.4 527.9,909.9 529.3,909.9 529.3,909.2 530.7,909.2 530.7,912.1 532.1,912.1 532.1,908.5 533.6,908.5 533.6,911.7 535.0,911.7 535.0,906.5 536.4,906.5 536.4,909.5 537.9,909.5 537.9,907.5 539.3,907.5 539.3,904.3 540.7,904.3 540.7,903.7 542.1,903.7 542.1,908.1 543.6,908.1 543.6,902.3 545.0,902.3 545.0,904.1 546.4,904.1 546.4,904.0 547.9,904.0 547.9,907.9 549.3,907.9 549.3,903.9 550.7,903.9 550.7,906.3 552.1,906.3 552.1,904.6 553.6,904.6 553.6,906.2 555.0,906.2 555.0,903.3 556.4,903.3 556.4,911.2 557.9,911.2 557.9,907.2 559.3,907.2 559.3,907.6 560.7,907.6 560.7,910.5 562.1,910.5 562.1,907.0 563.6,907.0 563.6,914.5 565.0,914.5 565.0,914.8 566.4,914.8 566.4,919.3 567.7,919.3 567.7,920.0 569.1,920.0 569.1,923.8 570.5,923.8 570.5,919.4 571.8,919.4 571.8,921.3 573.2,921.3 573.2,926.7 574.5,926.7 574.5,919.4 575.9,919.4 575.9,923.3 577.3,923.3 577.3,924.9 578.6,924.9 578.6,926.9 580.0,926.9 580.0,925.8 581.4,925.8 581.4,921.5 582.7,921.5 582.7,923.7 584.1,923.7 584.1,932.4 585.5,932.4 585.5,925.3 586.8,925.3 586.8,916.6 588.2,916.6 588.2,928.1 589.5,928.1 589.5,933.5 590.9,933.5 590.9,929.0 592.3,929.0 592.3,936.4 593.6,936.4 593.6,926.6 595.0,926.6 595.0,939.4 596.4,939.4 596.4,929.8 597.7,929.8 597.7,936.9 599.1,936.9 599.1,934.9 600.5,934.9 600.5,927.4 601.8,927.4 601.8,935.8 603.2,935.8 603.2,926.5 604.5,926.5 604.5,926.8 605.9,926.8 605.9,926.2 607.3,926.2 607.3,924.2 608.6,924.2 608.6,929.8 610.0,929.8 610.0,920.5 611.4,920.5 611.4,926.5 612.9,926.5 612.9,933.8 614.3,933.8 614.3,927.8 615.7,927.8 615.7,930.4 617.1,930.4 617.1,928.6 618.6,928.6 618.6,928.0 620.0,928.0 620.0,922.8 621.4,922.8 621.4,923.2 622.9,923.2 622.9,915.5 624.3,915.5 624.3,923.5 625.7,923.5 625.7,933.6 627.1,933.6 627.1,921.6 628.6,921.6 628.6,926.2 630.0,926.2 630.0,928.5 631.4,928.5 631.4,921.2 632.9,921.2 632.9,922.1 634.3,922.1 634.3,925.2 635.7,925.2 635.7,923.2 637.1,923.2 637.1,926.0 638.6,926.0 638.6,922.2 640.0,922.2 640.0,934.5 641.4,934.5 641.4,931.0 642.9,931.0 642.9,928.0 644.3,928.0 644.3,930.1 645.7,930.1 645.7,927.0 647.1,927.0 647.1,934.7 648.6,934.7 648.6,924.2 650.0,924.2 650.0,925.0 651.4,925.0 651.4,928.0 652.9,928.0 652.9,930.5 654.3,930.5 654.3,925.4 655.7,925.4 655.7,923.3 657.1,923.3 657.1,928.1 658.6,928.1 658.6,913.2 660.0,913.2 660.0,920.4 661.4,920.4 661.4,923.2 662.9,923.2 662.9,932.5 664.3,932.5 664.3,927.8 665.7,927.8 665.7,922.0 667.1,922.0 667.1,932.5 668.6,932.5 668.6,923.9 670.0,923.9 670.0,922.8 671.4,922.8 671.4,927.9 672.9,927.9 672.9,933.8 674.3,933.8 674.3,932.1 675.7,932.1 675.7,922.3 677.1,922.3 677.1,930.5 678.6,930.5 678.6,933.7 680.0,933.7 680.0,925.2 681.4,925.2 681.4,932.2 682.9,932.2 682.9,921.4 684.3,921.4 684.3,929.6 685.7,929.6 685.7,913.7 687.1,913.7 687.1,931.3 688.6,931.3 688.6,924.1 690.0,924.1 690.0,940.8 691.4,940.8 691.4,930.2 692.9,930.2 692.9,933.6 694.3,933.6 694.3,936.5 695.7,936.5 695.7,926.2 697.1,926.2 697.1,924.5 698.6,924.5 698.6,935.2 700.0,935.2 700.0,929.9 701.4,929.9 701.4,928.2 702.9,928.2 702.9,934.9 704.3,934.9 704.3,934.0 705.7,934.0 705.7,918.8 707.1,918.8 707.1,936.4 708.6,936.4 708.6,932.2 710.0,932.2 710.0,935.4 711.4,935.4 711.4,929.3 712.9,929.3 712.9,921.4 714.3,921.4 714.3,917.5 715.7,917.5 715.7,917.1 717.1,917.1 717.1,920.6 718.6,920.6 718.6,921.0 720.0,921.0 720.0,932.3 721.4,932.3 721.4,910.3 722.7,910.3 722.7,918.0 724.1,918.0 724.1,912.9 725.5,912.9 725.5,908.3 726.8,908.3 726.8,911.2 728.2,911.2 728.2,922.6 729.5,922.6 729.5,905.4 730.9,905.4 730.9,913.5 732.3,913.5 732.3,914.5 733.6,914.5 733.6,909.1 735.0,909.1 735.0,915.8 736.5,915.8 736.5,900.0 737.9,900.0 737.9,920.0 739.4,920.0 739.4,909.7 740.8,909.7 740.8,918.2 742.3,918.2 742.3,913.6 743.7,913.6 743.7,915.7 745.2,915.7 745.2,923.1 746.6,923.1 746.6,909.4 748.1,909.4 748.1,916.9 749.5,916.9 749.5,920.0 751.0,920.0 751.0,913.1" fill="none" stroke="#4fc05a" stroke-width="2.5" stroke-linejoin="round" stroke-linecap="round"/>
<rect x="131.5" y="1002.5" width="9" height="9" fill="#3b7f49"/>
<rect x="198.5" y="943.0" width="9" height="9" fill="#3b7f49"/>
<rect x="265.5" y="864.5" width="9" height="9" fill="#3b7f49"/>
<rect x="330.5" y="819.5" width="9" height="9" fill="#3b7f49"/>
<rect x="397.5" y="813.5" width="9" height="9" fill="#3b7f49"/>
<rect x="463.5" y="767.5" width="9" height="9" fill="#3b7f49"/>
<rect x="529.5" y="767.5" width="9" height="9" fill="#3b7f49"/>
<rect x="595.5" y="1005.5" width="9" height="9" fill="#3b7f49"/>
<rect x="662.5" y="1020.5" width="9" height="9" fill="#3b7f49"/>
<rect x="728.5" y="1029.5" width="9" height="9" fill="#3b7f49"/>
<line x1="522.5" y1="649" x2="522.5" y2="1085" stroke="#000" stroke-width="3.9" stroke-linecap="butt"/>
<line x1="531.5" y1="649" x2="531.5" y2="1085" stroke="#000" stroke-width="3.9" stroke-linecap="butt"/>
<line x1="541.5" y1="649" x2="541.5" y2="1085" stroke="#000" stroke-width="3.9" stroke-linecap="butt"/>
<line x1="558" y1="649" x2="558" y2="1085" stroke="#000" stroke-width="3.9" stroke-linecap="butt"/>
<line x1="86.5" y1="634" x2="86.5" y2="745" stroke="#000" stroke-width="4" stroke-linecap="butt"/>
<line x1="79.0" y1="635" x2="86.5" y2="635" stroke="#000" stroke-width="2.8" stroke-linecap="butt"/>
<line x1="79.0" y1="744" x2="86.5" y2="744" stroke="#000" stroke-width="2.8" stroke-linecap="butt"/>
<line x1="81.5" y1="689" x2="86.5" y2="689" stroke="#000" stroke-width="2.2" stroke-linecap="butt"/>
<text x="78.5" y="639.4" font-size="12.4" fill="#000" font-weight="bold" text-anchor="end" textLength="27.6" lengthAdjust="spacingAndGlyphs" stroke="#000" stroke-width="0.27">2000</text>
<text x="78.5" y="748.4" font-size="12.4" fill="#000" font-weight="bold" text-anchor="end" textLength="6.9" lengthAdjust="spacingAndGlyphs" stroke="#000" stroke-width="0.27">0</text>
<line x1="87.7" y1="748" x2="87.7" y2="858" stroke="#000" stroke-width="4" stroke-linecap="butt"/>
<line x1="80.2" y1="789" x2="87.7" y2="789" stroke="#000" stroke-width="2.8" stroke-linecap="butt"/>
<line x1="82.7" y1="847" x2="87.7" y2="847" stroke="#000" stroke-width="2.2" stroke-linecap="butt"/>
<text x="79.7" y="793.4" font-size="12.4" fill="#000" font-weight="bold" text-anchor="end" textLength="20.7" lengthAdjust="spacingAndGlyphs" stroke="#000" stroke-width="0.27">200</text>
<line x1="88" y1="856" x2="88" y2="966" stroke="#000" stroke-width="4" stroke-linecap="butt"/>
<line x1="80.5" y1="878" x2="88" y2="878" stroke="#000" stroke-width="2.8" stroke-linecap="butt"/>
<line x1="80.5" y1="921" x2="88" y2="921" stroke="#000" stroke-width="2.8" stroke-linecap="butt"/>
<line x1="80.5" y1="964.5" x2="88" y2="964.5" stroke="#000" stroke-width="2.8" stroke-linecap="butt"/>
<line x1="83" y1="856.6" x2="88" y2="856.6" stroke="#000" stroke-width="2.2" stroke-linecap="butt"/>
<line x1="83" y1="899.6" x2="88" y2="899.6" stroke="#000" stroke-width="2.2" stroke-linecap="butt"/>
<line x1="83" y1="942.5" x2="88" y2="942.5" stroke="#000" stroke-width="2.2" stroke-linecap="butt"/>
<text x="80" y="882.4" font-size="12.4" fill="#000" font-weight="bold" text-anchor="end" textLength="20.7" lengthAdjust="spacingAndGlyphs" stroke="#000" stroke-width="0.27">100</text>
<text x="80" y="925.4" font-size="12.4" fill="#000" font-weight="bold" text-anchor="end" textLength="13.8" lengthAdjust="spacingAndGlyphs" stroke="#000" stroke-width="0.27">50</text>
<text x="80" y="968.9" font-size="12.4" fill="#000" font-weight="bold" text-anchor="end" textLength="6.9" lengthAdjust="spacingAndGlyphs" stroke="#000" stroke-width="0.27">0</text>
<line x1="89" y1="973" x2="89" y2="1085" stroke="#000" stroke-width="4" stroke-linecap="butt"/>
<line x1="81.5" y1="996.5" x2="89" y2="996.5" stroke="#000" stroke-width="2.8" stroke-linecap="butt"/>
<line x1="81.5" y1="1040" x2="89" y2="1040" stroke="#000" stroke-width="2.8" stroke-linecap="butt"/>
<line x1="81.5" y1="1083" x2="89" y2="1083" stroke="#000" stroke-width="2.8" stroke-linecap="butt"/>
<line x1="84" y1="974" x2="89" y2="974" stroke="#000" stroke-width="2.2" stroke-linecap="butt"/>
<line x1="84" y1="1018" x2="89" y2="1018" stroke="#000" stroke-width="2.2" stroke-linecap="butt"/>
<line x1="84" y1="1062" x2="89" y2="1062" stroke="#000" stroke-width="2.2" stroke-linecap="butt"/>
<text x="81" y="1000.9" font-size="12.4" fill="#000" font-weight="bold" text-anchor="end" textLength="20.7" lengthAdjust="spacingAndGlyphs" stroke="#000" stroke-width="0.27">800</text>
<text x="81" y="1044.4" font-size="12.4" fill="#000" font-weight="bold" text-anchor="end" textLength="20.7" lengthAdjust="spacingAndGlyphs" stroke="#000" stroke-width="0.27">600</text>
<text x="81" y="1087.4" font-size="12.4" fill="#000" font-weight="bold" text-anchor="end" textLength="20.7" lengthAdjust="spacingAndGlyphs" stroke="#000" stroke-width="0.27">400</text>
<line x1="84.5" y1="744" x2="751" y2="744" stroke="#000" stroke-width="3.3" stroke-linecap="butt"/>
<line x1="87.5" y1="744" x2="87.5" y2="751.15" stroke="#000" stroke-width="2.8" stroke-linecap="butt"/>
<line x1="253" y1="744" x2="253" y2="751.15" stroke="#000" stroke-width="2.8" stroke-linecap="butt"/>
<line x1="419" y1="744" x2="419" y2="751.15" stroke="#000" stroke-width="2.8" stroke-linecap="butt"/>
<line x1="585" y1="744" x2="585" y2="751.15" stroke="#000" stroke-width="2.8" stroke-linecap="butt"/>
<line x1="751" y1="744" x2="751" y2="751.15" stroke="#000" stroke-width="2.8" stroke-linecap="butt"/>
<line x1="170.25" y1="744" x2="170.25" y2="749.15" stroke="#000" stroke-width="2.2" stroke-linecap="butt"/>
<line x1="336.0" y1="744" x2="336.0" y2="749.15" stroke="#000" stroke-width="2.2" stroke-linecap="butt"/>
<line x1="502.0" y1="744" x2="502.0" y2="749.15" stroke="#000" stroke-width="2.2" stroke-linecap="butt"/>
<line x1="668.0" y1="744" x2="668.0" y2="749.15" stroke="#000" stroke-width="2.2" stroke-linecap="butt"/>
<text x="87.5" y="760.5" font-size="11" fill="#000" font-weight="bold" text-anchor="middle" textLength="18.3" lengthAdjust="spacingAndGlyphs" stroke="#000" stroke-width="0.24">145</text>
<text x="253" y="760.5" font-size="11" fill="#000" font-weight="bold" text-anchor="middle" textLength="18.3" lengthAdjust="spacingAndGlyphs" stroke="#000" stroke-width="0.24">150</text>
<text x="419" y="760.5" font-size="11" fill="#000" font-weight="bold" text-anchor="middle" textLength="18.3" lengthAdjust="spacingAndGlyphs" stroke="#000" stroke-width="0.24">155</text>
<text x="585" y="760.5" font-size="11" fill="#000" font-weight="bold" text-anchor="middle" textLength="18.3" lengthAdjust="spacingAndGlyphs" stroke="#000" stroke-width="0.24">160</text>
<text x="751" y="760.5" font-size="11" fill="#000" font-weight="bold" text-anchor="middle" textLength="18.3" lengthAdjust="spacingAndGlyphs" stroke="#000" stroke-width="0.24">165</text>
<line x1="84.5" y1="857.5" x2="751" y2="857.5" stroke="#000" stroke-width="3.3" stroke-linecap="butt"/>
<line x1="87.5" y1="857.5" x2="87.5" y2="864.65" stroke="#000" stroke-width="2.8" stroke-linecap="butt"/>
<line x1="253" y1="857.5" x2="253" y2="864.65" stroke="#000" stroke-width="2.8" stroke-linecap="butt"/>
<line x1="419" y1="857.5" x2="419" y2="864.65" stroke="#000" stroke-width="2.8" stroke-linecap="butt"/>
<line x1="585" y1="857.5" x2="585" y2="864.65" stroke="#000" stroke-width="2.8" stroke-linecap="butt"/>
<line x1="751" y1="857.5" x2="751" y2="864.65" stroke="#000" stroke-width="2.8" stroke-linecap="butt"/>
<line x1="170.25" y1="857.5" x2="170.25" y2="862.65" stroke="#000" stroke-width="2.2" stroke-linecap="butt"/>
<line x1="336.0" y1="857.5" x2="336.0" y2="862.65" stroke="#000" stroke-width="2.2" stroke-linecap="butt"/>
<line x1="502.0" y1="857.5" x2="502.0" y2="862.65" stroke="#000" stroke-width="2.2" stroke-linecap="butt"/>
<line x1="668.0" y1="857.5" x2="668.0" y2="862.65" stroke="#000" stroke-width="2.2" stroke-linecap="butt"/>
<text x="87.5" y="874.0" font-size="11" fill="#000" font-weight="bold" text-anchor="middle" textLength="18.3" lengthAdjust="spacingAndGlyphs" stroke="#000" stroke-width="0.24">145</text>
<text x="253" y="874.0" font-size="11" fill="#000" font-weight="bold" text-anchor="middle" textLength="18.3" lengthAdjust="spacingAndGlyphs" stroke="#000" stroke-width="0.24">150</text>
<text x="419" y="874.0" font-size="11" fill="#000" font-weight="bold" text-anchor="middle" textLength="18.3" lengthAdjust="spacingAndGlyphs" stroke="#000" stroke-width="0.24">155</text>
<text x="585" y="874.0" font-size="11" fill="#000" font-weight="bold" text-anchor="middle" textLength="18.3" lengthAdjust="spacingAndGlyphs" stroke="#000" stroke-width="0.24">160</text>
<text x="751" y="874.0" font-size="11" fill="#000" font-weight="bold" text-anchor="middle" textLength="18.3" lengthAdjust="spacingAndGlyphs" stroke="#000" stroke-width="0.24">165</text>
<line x1="89" y1="973" x2="89" y2="1084" stroke="#000" stroke-width="4" stroke-linecap="butt"/>
<path d="M87.0,710.6h0M88.3,711.3h0M89.6,711.4h0M90.9,711.6h0M92.2,709.8h0M93.5,711.7h0M94.8,709.8h0M96.1,711.7h0M97.4,712.4h0M98.7,710.2h0M100.0,710.3h0M101.3,711.6h0M102.7,710.1h0M104.0,711.0h0M105.3,711.7h0M106.7,711.4h0M108.0,709.6h0M109.3,708.9h0M110.7,710.7h0M112.0,708.3h0M113.3,707.9h0M114.7,709.2h0M116.0,708.4h0M117.3,706.8h0M118.7,708.5h0M120.0,707.4h0M121.3,707.1h0M122.7,706.0h0M124.0,706.6h0M125.3,705.2h0M126.7,703.5h0M128.0,704.2h0M129.3,703.9h0M130.7,702.5h0M132.0,702.7h0M133.3,701.7h0M134.7,701.2h0M136.0,701.2h0M137.3,701.0h0M138.7,699.2h0M140.0,699.0h0M141.3,700.2h0M142.7,700.1h0M144.0,699.7h0M145.3,699.7h0M146.7,699.2h0M148.0,699.7h0M149.3,698.0h0M150.7,697.4h0M152.0,699.0h0M153.3,698.9h0M154.7,699.1h0M156.0,697.7h0M157.3,696.7h0M158.7,696.6h0M160.0,696.5h0M161.2,697.8h0M162.5,697.7h0M163.8,699.1h0M165.0,699.2h0M166.2,698.8h0M167.5,699.4h0M168.8,701.5h0M170.0,702.1h0M171.2,701.4h0M172.5,702.3h0M173.8,703.0h0M175.0,703.7h0M176.3,701.6h0M177.6,701.7h0M178.9,701.5h0M180.2,702.8h0M181.5,701.8h0M182.8,702.5h0M184.1,703.7h0M185.4,702.9h0M186.7,703.9h0M188.0,701.8h0M189.3,703.0h0M190.6,703.8h0M191.9,704.3h0M193.1,702.3h0M194.4,702.3h0M195.7,703.4h0M197.0,702.6h0M198.3,703.4h0M199.6,702.9h0M200.9,702.9h0M202.2,704.0h0M203.5,704.4h0M204.8,703.9h0M206.1,703.7h0M207.4,705.0h0M208.7,704.4h0M210.0,703.3h0M211.2,705.3h0M212.5,705.9h0M213.8,705.7h0M215.0,705.4h0M216.2,705.1h0M217.5,706.5h0M218.8,706.6h0M220.0,708.0h0M221.2,706.9h0M222.5,707.8h0M223.8,709.8h0M225.0,709.2h0M226.3,709.1h0M227.6,709.3h0M228.9,709.3h0M230.3,709.9h0M231.6,711.0h0M232.9,711.7h0M234.2,712.7h0M235.5,712.1h0M236.8,712.8h0M238.2,713.0h0M239.5,714.3h0M240.8,714.7h0M242.1,712.5h0M243.4,713.4h0M244.7,713.5h0M246.1,715.3h0M247.4,716.4h0M248.7,716.1h0M250.0,714.7h0M251.2,715.9h0M252.5,715.8h0M253.8,715.1h0M255.0,717.5h0M256.2,717.5h0M257.5,716.0h0M258.8,717.7h0M260.0,718.1h0M261.2,718.1h0M262.5,716.8h0M263.8,717.1h0M265.0,716.4h0M266.3,718.5h0M267.6,717.6h0M268.9,715.8h0M270.3,716.9h0M271.6,717.5h0M272.9,716.2h0M274.2,714.8h0M275.5,715.5h0M276.8,716.2h0M278.2,713.9h0M279.5,713.7h0M280.8,715.1h0M282.1,714.1h0M283.4,714.0h0M284.7,713.7h0M286.1,712.1h0M287.4,712.3h0M288.7,712.1h0M290.0,711.8h0M291.3,712.5h0M292.6,712.2h0M293.9,712.0h0M295.2,713.6h0M296.5,712.8h0M297.8,713.2h0M299.1,711.8h0M300.4,712.6h0M301.7,713.5h0M303.0,712.7h0M304.3,714.4h0M305.7,712.4h0M307.0,712.9h0M308.3,713.9h0M309.6,712.6h0M310.9,712.6h0M312.2,714.0h0M313.5,714.0h0M314.8,713.8h0M316.1,712.8h0M317.4,714.4h0M318.7,713.1h0M320.0,713.8h0M321.3,712.9h0M322.6,712.7h0M323.9,713.7h0M325.2,712.9h0M326.5,715.3h0M327.7,713.4h0M329.0,713.3h0M330.3,714.5h0M331.6,713.1h0M332.9,714.1h0M334.2,715.1h0M335.5,714.0h0M336.8,713.2h0M338.1,714.0h0M339.4,713.5h0M340.6,714.8h0M341.9,713.1h0M343.2,713.0h0M344.5,714.5h0M345.8,715.2h0M347.1,714.6h0M348.4,713.0h0M349.7,712.8h0M351.0,714.6h0M352.3,714.5h0M353.5,714.6h0M354.8,715.2h0M356.1,712.7h0M357.4,714.6h0M358.7,714.4h0M360.0,715.0h0M361.3,713.0h0M362.6,714.4h0M363.9,712.8h0M365.2,715.0h0M366.5,713.5h0M367.7,714.7h0M369.0,714.2h0M370.3,714.4h0M371.6,714.2h0M372.9,714.0h0M374.2,713.6h0M375.5,714.0h0M376.8,713.3h0M378.1,714.0h0M379.4,713.8h0M380.6,713.2h0M381.9,713.4h0M383.2,714.5h0M384.5,714.0h0M385.8,715.1h0M387.1,713.7h0M388.4,713.7h0M389.7,714.8h0M391.0,714.6h0M392.3,713.9h0M393.5,713.5h0M394.8,714.7h0M396.1,713.2h0M397.4,714.7h0M398.7,714.5h0M400.0,714.5h0M401.3,712.7h0M402.6,712.5h0M403.9,713.6h0M405.3,714.6h0M406.6,712.5h0M407.9,712.0h0M409.2,713.5h0M410.5,712.4h0M411.8,712.5h0M413.2,713.4h0M414.5,713.2h0M415.8,711.9h0M417.1,713.2h0M418.4,710.9h0M419.7,712.7h0M421.1,711.0h0M422.4,712.3h0M423.7,710.4h0M425.0,710.7h0M426.3,711.6h0M427.6,709.8h0M428.9,709.0h0M430.3,708.9h0M431.6,707.5h0M432.9,709.0h0M434.2,708.3h0M435.5,706.6h0M436.8,707.4h0M438.2,706.0h0M439.5,707.0h0M440.8,704.9h0M442.1,705.4h0M443.4,703.5h0M444.7,704.7h0M446.1,703.9h0M447.4,702.6h0M448.7,702.7h0M450.0,703.5h0M451.3,703.7h0M452.6,703.3h0M453.9,702.5h0M455.3,701.0h0M456.6,702.9h0M457.9,702.7h0M459.2,703.2h0M460.5,701.6h0M461.8,702.1h0M463.2,702.6h0M464.5,701.3h0M465.8,700.5h0M467.1,702.1h0M468.4,702.7h0M469.7,701.2h0M471.1,699.9h0M472.4,700.1h0M473.7,700.9h0M475.0,700.5h0M476.3,701.1h0M477.6,700.4h0M478.9,701.3h0M480.3,702.4h0M481.6,702.5h0M482.9,701.2h0M484.2,701.9h0M485.5,700.8h0M486.8,701.6h0M488.2,702.5h0M489.5,701.7h0M490.8,703.2h0M492.1,702.2h0M493.4,702.1h0M494.7,701.7h0M496.1,703.1h0M497.4,702.5h0M498.7,703.6h0M500.0,703.9h0M501.3,703.7h0M502.6,702.5h0M503.9,703.8h0M505.3,703.4h0M506.6,702.7h0M507.9,704.0h0M509.2,703.1h0M510.5,702.9h0M511.8,703.1h0M513.2,703.6h0M514.5,703.2h0M515.8,704.6h0M517.1,703.9h0M518.4,704.6h0M519.7,705.3h0M521.1,704.0h0M522.4,705.6h0M523.7,705.6h0M525.0,704.9h0M526.3,706.1h0M527.6,704.5h0M528.9,704.6h0M530.2,707.3h0M531.5,705.8h0M532.8,705.8h0M534.1,707.0h0M535.4,708.2h0M536.7,708.4h0M538.0,707.9h0M539.3,707.3h0M540.6,707.9h0M541.9,708.2h0M543.1,707.8h0M544.4,708.2h0M545.7,708.9h0M547.0,710.8h0M548.3,711.0h0M549.6,710.1h0M550.9,710.0h0M552.2,711.6h0M553.5,710.4h0M554.8,712.5h0M556.1,712.0h0M557.4,711.0h0M558.7,712.1h0M560.0,712.4h0M561.3,714.2h0M562.6,714.2h0M563.9,713.4h0M565.3,714.3h0M566.6,714.4h0M567.9,715.3h0M569.2,716.2h0M570.5,717.4h0M571.8,718.2h0M573.2,717.0h0M574.5,718.9h0M575.8,718.6h0M577.1,718.4h0M578.4,719.8h0M579.7,721.1h0M581.1,721.5h0M582.4,722.3h0M583.7,721.4h0M585.0,722.5h0M586.3,723.1h0M587.7,723.2h0M589.0,724.6h0M590.3,725.1h0M591.7,724.9h0M593.0,724.1h0M594.3,725.0h0M595.7,726.7h0M597.0,727.2h0M598.3,727.3h0M599.7,726.5h0M601.0,727.5h0M602.3,727.2h0M603.7,729.5h0M605.0,728.1h0M606.3,728.8h0M607.7,728.1h0M609.0,727.5h0M610.3,728.1h0M611.7,728.0h0M613.0,725.2h0M614.3,726.1h0M615.7,724.8h0M617.0,724.6h0M618.3,724.0h0M619.7,724.6h0M621.0,723.7h0M622.3,723.7h0M623.7,722.0h0M625.0,723.1h0M626.3,722.7h0M627.6,720.0h0M628.9,719.4h0M630.3,718.8h0M631.6,718.6h0M632.9,718.5h0M634.2,718.6h0M635.5,716.2h0M636.8,715.3h0M638.2,714.9h0M639.5,716.0h0M640.8,713.8h0M642.1,714.6h0M643.4,714.4h0M644.7,712.1h0M646.1,713.1h0M647.4,711.2h0M648.7,711.4h0M650.0,709.9h0M651.3,709.3h0M652.6,708.8h0M653.9,708.7h0M655.3,708.3h0M656.6,707.8h0M657.9,706.1h0M659.2,707.7h0M660.5,704.9h0M661.8,706.1h0M663.2,705.2h0M664.5,704.3h0M665.8,704.9h0M667.1,704.2h0M668.4,703.8h0M669.7,702.7h0M671.1,702.7h0M672.4,701.0h0M673.7,700.9h0M675.0,700.5h0M676.3,701.2h0M677.6,700.4h0M678.9,700.4h0M680.3,699.3h0M681.6,697.3h0M682.9,697.5h0M684.2,696.0h0M685.5,695.8h0M686.8,695.5h0M688.2,694.5h0M689.5,694.2h0M690.8,694.9h0M692.1,694.1h0M693.4,691.9h0M694.7,692.2h0M696.1,691.0h0M697.4,691.8h0M698.7,689.7h0M700.0,689.8h0M701.3,690.2h0M702.7,688.5h0M704.0,686.3h0M705.3,687.7h0M706.7,686.1h0M708.0,683.9h0M709.3,683.2h0M710.7,683.9h0M712.0,682.2h0M713.0,674.9h0M714.3,674.0h0M715.6,673.8h0M716.9,674.0h0M718.2,673.8h0M719.5,674.5h0M720.8,674.0h0M722.1,673.4h0M723.4,673.5h0M724.6,674.2h0M725.9,675.4h0M727.2,673.2h0M728.5,674.5h0M729.8,673.7h0M731.1,673.4h0M732.4,673.5h0M733.7,673.5h0M735.0,674.4h0M736.3,674.7h0M737.7,673.0h0M739.0,673.6h0M740.3,674.1h0M741.7,673.1h0M743.0,672.7h0M744.3,674.1h0M745.7,674.2h0M747.0,673.7h0M748.3,672.0h0M749.7,673.0h0M751.0,672.7h0" fill="none" stroke="#000" stroke-width="6" stroke-linecap="square"/>
<polyline points="88.0,801.3 89.5,801.3 89.5,790.4 91.0,790.4 91.0,778.5 92.7,778.5 92.7,799.0 94.3,799.0 94.3,803.5 96.0,803.5 96.0,814.8 97.3,814.8 97.3,813.8 98.7,813.8 98.7,818.4 100.0,818.4 100.0,819.8 101.3,819.8 101.3,818.0 102.7,818.0 102.7,812.3 104.0,812.3 104.0,807.7 105.5,807.7 105.5,806.9 107.0,806.9 107.0,809.1 108.5,809.1 108.5,802.2 110.0,802.2 110.0,804.8 111.6,804.8 111.6,798.9 113.2,798.9 113.2,803.1 114.8,803.1 114.8,801.3 116.4,801.3 116.4,804.6 118.0,804.6 118.0,806.6 119.4,806.6 119.4,802.8 120.8,802.8 120.8,803.5 122.2,803.5 122.2,795.1 123.6,795.1 123.6,796.8 125.0,796.8 125.0,795.7 126.7,795.7 126.7,796.1 128.3,796.1 128.3,801.4 130.0,801.4 130.0,796.0 131.5,796.0 131.5,794.2 133.0,794.2 133.0,794.7 134.5,794.7 134.5,795.9 136.0,795.9 136.0,794.6 137.4,794.6 137.4,797.5 138.8,797.5 138.8,803.2 140.2,803.2 140.2,804.3 141.6,804.3 141.6,802.6 143.0,802.6 143.0,803.3 144.4,803.3 144.4,801.6 145.8,801.6 145.8,805.3 147.2,805.3 147.2,804.3 148.6,804.3 148.6,811.0 150.0,811.0 150.0,813.7 151.5,813.7 151.5,808.2 153.1,808.2 153.1,811.1 154.6,811.1 154.6,811.1 156.2,811.1 156.2,812.5 157.7,812.5 157.7,813.4 159.2,813.4 159.2,810.2 160.8,810.2 160.8,810.5 162.3,810.5 162.3,810.7 163.8,810.7 163.8,817.1 165.4,817.1 165.4,813.4 166.9,813.4 166.9,812.2 168.5,812.2 168.5,811.9 170.0,811.9 170.0,816.6 171.5,816.6 171.5,813.1 173.1,813.1 173.1,807.0 174.6,807.0 174.6,816.9 176.2,816.9 176.2,810.1 177.7,810.1 177.7,810.3 179.2,810.3 179.2,811.4 180.8,811.4 180.8,805.1 182.3,805.1 182.3,812.7 183.8,812.7 183.8,817.2 185.4,817.2 185.4,812.1 186.9,812.1 186.9,809.2 188.5,809.2 188.5,811.6 190.0,811.6 190.0,819.0 191.6,819.0 191.6,806.8 193.2,806.8 193.2,807.8 194.8,807.8 194.8,805.6 196.4,805.6 196.4,804.0 198.0,804.0 198.0,797.4 199.4,797.4 199.4,793.9 200.8,793.9 200.8,795.8 202.2,795.8 202.2,794.9 203.6,794.9 203.6,795.0 205.0,795.0 205.0,790.8 206.4,790.8 206.4,788.4 207.9,788.4 207.9,790.4 209.3,790.4 209.3,790.1 210.7,790.1 210.7,792.9 212.1,792.9 212.1,789.7 213.6,789.7 213.6,791.8 215.0,791.8 215.0,792.3 216.4,792.3 216.4,795.8 217.9,795.8 217.9,798.0 219.3,798.0 219.3,799.0 220.7,799.0 220.7,797.3 222.1,797.3 222.1,797.8 223.6,797.8 223.6,796.1 225.0,796.1 225.0,798.7 226.4,798.7 226.4,806.4 227.9,806.4 227.9,805.0 229.3,805.0 229.3,805.5 230.7,805.5 230.7,803.2 232.1,803.2 232.1,808.2 233.6,808.2 233.6,811.4 235.0,811.4 235.0,805.3 236.7,805.3 236.7,806.8 238.3,806.8 238.3,801.4 240.0,801.4 240.0,805.6 241.7,805.6 241.7,795.0 243.3,795.0 243.3,799.3 245.0,799.3 245.0,792.6 246.4,792.6 246.4,803.1 247.8,803.1 247.8,799.2 249.2,799.2 249.2,800.7 250.6,800.7 250.6,797.0 252.0,797.0 252.0,802.7 253.6,802.7 253.6,804.7 255.2,804.7 255.2,805.0 256.8,805.0 256.8,808.0 258.4,808.0 258.4,808.8 260.0,808.8 260.0,807.5 261.6,807.5 261.6,807.4 263.2,807.4 263.2,803.0 264.8,803.0 264.8,798.8 266.4,798.8 266.4,796.7 268.0,796.7 268.0,797.2 269.4,797.2 269.4,793.8 270.8,793.8 270.8,799.2 272.2,799.2 272.2,794.1 273.6,794.1 273.6,790.3 275.0,790.3 275.0,788.8 276.6,788.8 276.6,788.3 278.2,788.3 278.2,785.4 279.8,785.4 279.8,791.6 281.4,791.6 281.4,788.1 283.0,788.1 283.0,781.9 284.4,781.9 284.4,780.7 285.8,780.7 285.8,778.9 287.2,778.9 287.2,776.3 288.6,776.3 288.6,773.6 290.0,773.6 290.0,775.8 291.6,775.8 291.6,774.8 293.2,774.8 293.2,779.6 294.8,779.6 294.8,778.1 296.4,778.1 296.4,784.2 298.0,784.2 298.0,781.6 299.4,781.6 299.4,783.0 300.8,783.0 300.8,786.2 302.2,786.2 302.2,790.1 303.6,790.1 303.6,782.4 305.0,782.4 305.0,785.4 306.5,785.4 306.5,787.1 308.0,787.1 308.0,792.8 309.5,792.8 309.5,781.7 311.0,781.7 311.0,789.0 312.5,789.0 312.5,789.0 314.0,789.0 314.0,791.2 315.5,791.2 315.5,792.5 317.0,792.5 317.0,793.9 318.5,793.9 318.5,793.0 320.0,793.0 320.0,794.7 321.5,794.7 321.5,791.3 323.0,791.3 323.0,794.6 324.5,794.6 324.5,790.0 326.0,790.0 326.0,794.6 327.5,794.6 327.5,793.2 329.0,793.2 329.0,790.0 330.5,790.0 330.5,789.1 332.0,789.1 332.0,790.1 333.5,790.1 333.5,797.3 335.0,797.3 335.0,791.2 336.5,791.2 336.5,786.4 338.0,786.4 338.0,788.4 339.5,788.4 339.5,788.9 341.0,788.9 341.0,790.6 342.5,790.6 342.5,792.5 344.0,792.5 344.0,792.5 345.5,792.5 345.5,788.2 347.0,788.2 347.0,790.5 348.5,790.5 348.5,788.4 350.0,788.4 350.0,791.8 351.5,791.8 351.5,784.2 353.1,784.2 353.1,787.5 354.6,787.5 354.6,792.6 356.2,792.6 356.2,792.6 357.7,792.6 357.7,788.2 359.2,788.2 359.2,790.1 360.8,790.1 360.8,788.8 362.3,788.8 362.3,791.1 363.8,791.1 363.8,793.3 365.4,793.3 365.4,790.3 366.9,790.3 366.9,794.1 368.5,794.1 368.5,794.6 370.0,794.6 370.0,795.4 371.5,795.4 371.5,788.9 373.1,788.9 373.1,793.4 374.6,793.4 374.6,793.5 376.2,793.5 376.2,789.8 377.7,789.8 377.7,795.6 379.2,795.6 379.2,791.7 380.8,791.7 380.8,794.1 382.3,794.1 382.3,790.0 383.8,790.0 383.8,795.7 385.4,795.7 385.4,791.8 386.9,791.8 386.9,786.1 388.5,786.1 388.5,793.5 390.0,793.5 390.0,794.3 391.4,794.3 391.4,802.1 392.9,802.1 392.9,795.4 394.3,795.4 394.3,799.8 395.7,799.8 395.7,798.0 397.1,798.0 397.1,794.1 398.6,794.1 398.6,789.7 400.0,789.7 400.0,799.2 401.7,799.2 401.7,796.4 403.3,796.4 403.3,793.8 405.0,793.8 405.0,784.1 406.7,784.1 406.7,783.4 408.3,783.4 408.3,783.3 410.0,783.3 410.0,778.9 411.5,778.9 411.5,782.7 413.0,782.7 413.0,781.7 414.5,781.7 414.5,783.1 416.0,783.1 416.0,778.8 417.5,778.8 417.5,784.1 419.0,784.1 419.0,782.1 420.5,782.1 420.5,780.3 422.0,780.3 422.0,781.6 423.5,781.6 423.5,779.8 425.0,779.8 425.0,785.3 426.5,785.3 426.5,776.3 428.0,776.3 428.0,779.2 429.5,779.2 429.5,783.8 431.0,783.8 431.0,781.0 432.5,781.0 432.5,779.5 434.0,779.5 434.0,785.5 435.5,785.5 435.5,784.5 437.0,784.5 437.0,789.3 438.5,789.3 438.5,786.0 440.0,786.0 440.0,784.9 441.4,784.9 441.4,785.3 442.9,785.3 442.9,784.6 444.3,784.6 444.3,783.8 445.7,783.8 445.7,783.9 447.1,783.9 447.1,784.4 448.6,784.4 448.6,783.8 450.0,783.8 450.0,784.9 451.4,784.9 451.4,775.2 452.9,775.2 452.9,775.6 454.3,775.6 454.3,777.6 455.7,777.6 455.7,774.7 457.1,774.7 457.1,774.0 458.6,774.0 458.6,777.6 460.0,777.6 460.0,770.6 461.6,770.6 461.6,776.5 463.2,776.5 463.2,778.9 464.8,778.9 464.8,782.7 466.4,782.7 466.4,783.1 468.0,783.1 468.0,784.2 469.4,784.2 469.4,781.5 470.8,781.5 470.8,790.0 472.2,790.0 472.2,785.2 473.6,785.2 473.6,785.7 475.0,785.7 475.0,783.3 476.5,783.3 476.5,786.6 478.0,786.6 478.0,791.3 479.5,791.3 479.5,797.8 481.0,797.8 481.0,792.1 482.5,792.1 482.5,789.8 484.0,789.8 484.0,791.6 485.5,791.6 485.5,792.0 487.0,792.0 487.0,793.5 488.5,793.5 488.5,789.6 490.0,789.6 490.0,793.2 491.5,793.2 491.5,789.8 493.1,789.8 493.1,791.7 494.6,791.7 494.6,790.4 496.2,790.4 496.2,792.1 497.7,792.1 497.7,792.5 499.2,792.5 499.2,789.9 500.8,789.9 500.8,794.8 502.3,794.8 502.3,799.3 503.8,799.3 503.8,790.0 505.4,790.0 505.4,794.4 506.9,794.4 506.9,799.7 508.5,799.7 508.5,793.9 510.0,793.9 510.0,801.8 511.4,801.8 511.4,796.7 512.9,796.7 512.9,796.2 514.3,796.2 514.3,796.5 515.7,796.5 515.7,793.7 517.1,793.7 517.1,791.3 518.6,791.3 518.6,792.1 520.0,792.1 520.0,790.2 521.4,790.2 521.4,787.5 522.9,787.5 522.9,786.6 524.3,786.6 524.3,785.5 525.7,785.5 525.7,788.1 527.1,788.1 527.1,784.5 528.6,784.5 528.6,785.2 530.0,785.2 530.0,776.8 531.7,776.8 531.7,786.2 533.3,786.2 533.3,796.3 535.0,796.3 535.0,798.4 536.7,798.4 536.7,798.0 538.3,798.0 538.3,806.3 540.0,806.3 540.0,806.8 541.4,806.8 541.4,806.8 542.9,806.8 542.9,811.4 544.3,811.4 544.3,816.9 545.7,816.9 545.7,813.2 547.1,813.2 547.1,817.4 548.6,817.4 548.6,816.7 550.0,816.7 550.0,818.4 551.4,818.4 551.4,823.1 552.9,823.1 552.9,824.5 554.3,824.5 554.3,823.8 555.7,823.8 555.7,825.9 557.1,825.9 557.1,824.2 558.6,824.2 558.6,825.1 560.0,825.1 560.0,827.8 561.4,827.8 561.4,819.2 562.8,819.2 562.8,823.1 564.2,823.1 564.2,827.7 565.6,827.7 565.6,820.6 567.0,820.6 567.0,820.0 568.6,820.0 568.6,814.1 570.2,814.1 570.2,810.5 571.8,810.5 571.8,819.9 573.4,819.9 573.4,813.5 575.0,813.5 575.0,817.6 576.4,817.6 576.4,810.3 577.9,810.3 577.9,801.5 579.3,801.5 579.3,803.1 580.7,803.1 580.7,799.5 582.1,799.5 582.1,799.6 583.6,799.6 583.6,793.8 585.0,793.8 585.0,795.7 586.4,795.7 586.4,795.9 587.9,795.9 587.9,792.3 589.3,792.3 589.3,790.0 590.8,790.0 590.8,786.8 592.2,786.8 592.2,788.2 593.7,788.2 593.7,787.6 595.1,787.6 595.1,786.9 596.6,786.9 596.6,781.0 598.0,781.0 598.0,781.1 599.5,781.1 599.5,783.0 601.0,783.0 601.0,782.9 602.5,782.9 602.5,779.7 604.0,779.7 604.0,785.2 605.5,785.2 605.5,777.8 607.0,777.8 607.0,781.0 608.5,781.0 608.5,775.2 610.0,775.2 610.0,773.4 611.6,773.4 611.6,779.5 613.2,779.5 613.2,776.9 614.8,776.9 614.8,777.0 616.4,777.0 616.4,785.7 618.0,785.7 618.0,792.4 619.4,792.4 619.4,782.3 620.8,782.3 620.8,788.3 622.2,788.3 622.2,790.5 623.6,790.5 623.6,784.4 625.0,784.4 625.0,783.7 626.7,783.7 626.7,788.9 628.3,788.9 628.3,777.0 630.0,777.0 630.0,785.3 631.7,785.3 631.7,782.2 633.3,782.2 633.3,775.9 635.0,775.9 635.0,774.7 636.4,774.7 636.4,781.2 637.9,781.2 637.9,778.4 639.3,778.4 639.3,781.3 640.7,781.3 640.7,783.0 642.1,783.0 642.1,778.3 643.6,778.3 643.6,782.3 645.0,782.3 645.0,787.2 646.4,787.2 646.4,785.4 647.9,785.4 647.9,782.2 649.3,782.2 649.3,780.2 650.7,780.2 650.7,781.8 652.1,781.8 652.1,779.7 653.6,779.7 653.6,781.3 655.0,781.3 655.0,781.4 656.4,781.4 656.4,780.9 657.9,780.9 657.9,783.7 659.3,783.7 659.3,783.3 660.7,783.3 660.7,787.0 662.1,787.0 662.1,788.4 663.6,788.4 663.6,787.9 665.0,787.9 665.0,789.9 666.4,789.9 666.4,786.8 667.9,786.8 667.9,790.7 669.3,790.7 669.3,789.4 670.7,789.4 670.7,788.8 672.1,788.8 672.1,790.6 673.6,790.6 673.6,794.0 675.0,794.0 675.0,793.3 676.4,793.3 676.4,799.5 677.9,799.5 677.9,797.3 679.3,797.3 679.3,791.2 680.7,791.2 680.7,795.9 682.1,795.9 682.1,792.7 683.6,792.7 683.6,799.8 685.0,799.8 685.0,795.2 686.4,795.2 686.4,801.5 687.9,801.5 687.9,800.3 689.3,800.3 689.3,807.7 690.7,807.7 690.7,804.1 692.1,804.1 692.1,806.4 693.6,806.4 693.6,807.4 695.0,807.4 695.0,809.4 696.4,809.4 696.4,815.7 697.8,815.7 697.8,816.2 699.2,816.2 699.2,819.0 700.6,819.0 700.6,822.5 702.0,822.5 702.0,832.5 703.4,832.5 703.4,832.9 704.9,832.9 704.9,836.0 706.3,836.0 706.3,825.4 707.7,825.4 707.7,834.1 709.1,834.1 709.1,834.1 710.6,834.1 710.6,836.5 712.0,836.5 712.0,835.0 713.4,835.0 713.4,832.5 714.9,832.5 714.9,839.2 716.3,839.2 716.3,838.3 717.8,838.3 717.8,840.7 719.2,840.7 719.2,839.8 720.7,839.8 720.7,837.3 722.1,837.3 722.1,840.3 723.6,840.3 723.6,845.9 725.0,845.9 725.0,847.0 726.4,847.0 726.4,842.1 727.9,842.1 727.9,846.5 729.3,846.5 729.3,846.7 730.8,846.7 730.8,839.8 732.2,839.8 732.2,845.5 733.7,845.5 733.7,847.1 735.1,847.1 735.1,847.4 736.6,847.4 736.6,847.8 738.0,847.8 738.0,844.5 739.5,844.5 739.5,846.5 741.0,846.5 741.0,850.5 742.5,850.5 742.5,849.2 744.0,849.2 744.0,847.6 745.5,847.6 745.5,849.9 747.0,849.9 747.0,854.5 748.5,854.5 748.5,848.9 750.0,848.9 750.0,849.9" fill="none" stroke="#e6332a" stroke-width="2.9" stroke-linejoin="miter" stroke-linecap="miter"/>
<line x1="87" y1="1085.2" x2="751" y2="1085.2" stroke="#000" stroke-width="4.2" stroke-linecap="butt"/>
<line x1="87.5" y1="1085.2" x2="87.5" y2="1095.8" stroke="#000" stroke-width="2.8" stroke-linecap="butt"/>
<line x1="253" y1="1085.2" x2="253" y2="1095.8" stroke="#000" stroke-width="2.8" stroke-linecap="butt"/>
<line x1="419" y1="1085.2" x2="419" y2="1095.8" stroke="#000" stroke-width="2.8" stroke-linecap="butt"/>
<line x1="585" y1="1085.2" x2="585" y2="1095.8" stroke="#000" stroke-width="2.8" stroke-linecap="butt"/>
<line x1="751" y1="1085.2" x2="751" y2="1095.8" stroke="#000" stroke-width="2.8" stroke-linecap="butt"/>
<line x1="170.25" y1="1085.2" x2="170.25" y2="1093.8" stroke="#000" stroke-width="2.2" stroke-linecap="butt"/>
<line x1="336.0" y1="1085.2" x2="336.0" y2="1093.8" stroke="#000" stroke-width="2.2" stroke-linecap="butt"/>
<line x1="502.0" y1="1085.2" x2="502.0" y2="1093.8" stroke="#000" stroke-width="2.2" stroke-linecap="butt"/>
<line x1="668.0" y1="1085.2" x2="668.0" y2="1093.8" stroke="#000" stroke-width="2.2" stroke-linecap="butt"/>
<text x="90.7" y="1106.4" font-size="11.4" fill="#000" font-weight="bold" text-anchor="middle" textLength="19.0" lengthAdjust="spacingAndGlyphs" stroke="#000" stroke-width="0.25">145</text>
<text x="254" y="1106.4" font-size="11.4" fill="#000" font-weight="bold" text-anchor="middle" textLength="19.0" lengthAdjust="spacingAndGlyphs" stroke="#000" stroke-width="0.25">150</text>
<text x="421" y="1106.4" font-size="11.4" fill="#000" font-weight="bold" text-anchor="middle" textLength="19.0" lengthAdjust="spacingAndGlyphs" stroke="#000" stroke-width="0.25">155</text>
<text x="587" y="1106.4" font-size="11.4" fill="#000" font-weight="bold" text-anchor="middle" textLength="19.0" lengthAdjust="spacingAndGlyphs" stroke="#000" stroke-width="0.25">160</text>
<text x="752" y="1106.4" font-size="11.4" fill="#000" font-weight="bold" text-anchor="middle" textLength="19.0" lengthAdjust="spacingAndGlyphs" stroke="#000" stroke-width="0.25">165</text>
<line x1="751" y1="635" x2="751" y2="1086" stroke="#367d48" stroke-width="3.3" stroke-linecap="butt"/>
<line x1="741" y1="675.5" x2="751" y2="675.5" stroke="#367d48" stroke-width="2.6" stroke-linecap="butt"/>
<line x1="741" y1="757" x2="751" y2="757" stroke="#367d48" stroke-width="2.6" stroke-linecap="butt"/>
<line x1="741" y1="839" x2="751" y2="839" stroke="#367d48" stroke-width="2.6" stroke-linecap="butt"/>
<line x1="741" y1="920.5" x2="751" y2="920.5" stroke="#367d48" stroke-width="2.6" stroke-linecap="butt"/>
<line x1="741" y1="1002" x2="751" y2="1002" stroke="#367d48" stroke-width="2.6" stroke-linecap="butt"/>
<line x1="741" y1="1084" x2="751" y2="1084" stroke="#367d48" stroke-width="2.6" stroke-linecap="butt"/>
<line x1="745" y1="635" x2="751" y2="635" stroke="#367d48" stroke-width="2.2" stroke-linecap="butt"/>
<line x1="745" y1="716.25" x2="751" y2="716.25" stroke="#367d48" stroke-width="2.2" stroke-linecap="butt"/>
<line x1="745" y1="798.0" x2="751" y2="798.0" stroke="#367d48" stroke-width="2.2" stroke-linecap="butt"/>
<line x1="745" y1="879.75" x2="751" y2="879.75" stroke="#367d48" stroke-width="2.2" stroke-linecap="butt"/>
<line x1="745" y1="961.25" x2="751" y2="961.25" stroke="#367d48" stroke-width="2.2" stroke-linecap="butt"/>
<line x1="745" y1="1043.0" x2="751" y2="1043.0" stroke="#367d48" stroke-width="2.2" stroke-linecap="butt"/>
<text x="773" y="684.981" font-size="19.5" fill="#367d48" font-weight="bold" textLength="27" lengthAdjust="spacingAndGlyphs" stroke="#367d48" stroke-width="0.43">1.0</text>
<text x="773" y="766.481" font-size="19.5" fill="#367d48" font-weight="bold" textLength="27" lengthAdjust="spacingAndGlyphs" stroke="#367d48" stroke-width="0.43">0.8</text>
<text x="773" y="848.481" font-size="19.5" fill="#367d48" font-weight="bold" textLength="27" lengthAdjust="spacingAndGlyphs" stroke="#367d48" stroke-width="0.43">0.6</text>
<text x="773" y="929.981" font-size="19.5" fill="#367d48" font-weight="bold" textLength="27" lengthAdjust="spacingAndGlyphs" stroke="#367d48" stroke-width="0.43">0.4</text>
<text x="773" y="1011.481" font-size="19.5" fill="#367d48" font-weight="bold" textLength="27" lengthAdjust="spacingAndGlyphs" stroke="#367d48" stroke-width="0.43">0.2</text>
<text x="773" y="1093.481" font-size="19.5" fill="#367d48" font-weight="bold" textLength="27" lengthAdjust="spacingAndGlyphs" stroke="#367d48" stroke-width="0.43">0.0</text>
<text x="25.5" y="750.9" font-size="15.3" fill="#000" font-weight="bold" textLength="107" lengthAdjust="spacingAndGlyphs" transform="rotate(-90 25.5 750.9)" stroke="#000" stroke-width="0.34">Movement (nm)</text>
<text x="25" y="862" font-size="15.3" fill="#000" font-weight="bold" textLength="109" lengthAdjust="spacingAndGlyphs" transform="rotate(-90 25 862)" stroke="#000" stroke-width="0.34">Azimuth angle (°)</text>
<text x="25" y="964" font-size="15.3" fill="#000" font-weight="bold" textLength="99.3" lengthAdjust="spacingAndGlyphs" transform="rotate(-90 25 964)" stroke="#000" stroke-width="0.34">Polar angle (°)</text>
<text x="25" y="1047.7" font-size="15.3" fill="#000" font-weight="bold" textLength="47" lengthAdjust="spacingAndGlyphs" transform="rotate(-90 25 1047.7)" stroke="#000" stroke-width="0.34">z (nm)</text>
<text x="420" y="1121" font-size="19" fill="#000" font-weight="bold" text-anchor="middle" textLength="72.5" lengthAdjust="spacingAndGlyphs" stroke="#000" stroke-width="0.42">Time (s)</text>
<text x="846" y="1088.5" font-size="21" fill="#367d48" font-weight="bold" textLength="427" lengthAdjust="spacingAndGlyphs" transform="rotate(-90 846 1088.5)" stroke="#367d48" stroke-width="0.46">Normalized fluorescence intensity  (n. a.u.)</text>
<text x="3" y="607" font-size="52" fill="#000" font-weight="normal">b</text>
<text x="89" y="582" font-size="27" fill="#3aa655" font-weight="bold" textLength="127" lengthAdjust="spacing" stroke="#3aa655" stroke-width="0.59">Dynamin</text>
<text x="106.5" y="617.5" font-size="27" fill="#3aa655" font-weight="bold" textLength="58.5" lengthAdjust="spacing" stroke="#3aa655" stroke-width="0.59">ASM</text>
<text x="430.5" y="580" font-size="28" fill="#000" font-weight="bold" textLength="82" lengthAdjust="spacing" stroke="#000" stroke-width="0.62">Static</text>
<text x="516" y="580" font-size="28" fill="#e6332a" font-weight="bold" textLength="86" lengthAdjust="spacing" stroke="#e6332a" stroke-width="0.62">Super</text>
<text x="424.5" y="615" font-size="28" fill="#000" font-weight="bold" textLength="94" lengthAdjust="spacing" stroke="#000" stroke-width="0.62">Period</text>
<text x="526" y="615" font-size="28" fill="#e6332a" font-weight="bold" textLength="67.5" lengthAdjust="spacing" stroke="#e6332a" stroke-width="0.62">twist</text>
<polygon points="560.8,1088 571.0,1097.6 565.5999999999999,1097.6 565.5999999999999,1110.6 556.0,1110.6 556.0,1097.6 550.5999999999999,1097.6" fill="#2a74b8"/>
<text x="480.5" y="1135" font-size="28" fill="#2a74b8" font-weight="bold" textLength="171" lengthAdjust="spacing" stroke="#2a74b8" stroke-width="0.62">Detachment</text>
<text x="527.5" y="1170" font-size="28" fill="#2a74b8" font-weight="bold" textLength="79" lengthAdjust="spacing" stroke="#2a74b8" stroke-width="0.62">point</text>
<circle cx="764" cy="1636" r="1.6" fill="#1f4e9c"/>
<text x="100.5" y="1247" font-size="29.5" fill="#2a74b8" font-weight="bold" stroke="#2a74b8" stroke-width="0.5">A</text>
<text x="228" y="1247" font-size="29.5" fill="#2a74b8" font-weight="bold" stroke="#2a74b8" stroke-width="0.5">B</text>
<text x="350.5" y="1247" font-size="29.5" fill="#2a74b8" font-weight="bold" stroke="#2a74b8" stroke-width="0.5">C</text>
<text x="392" y="1247" font-size="29.5" fill="#2a74b8" font-weight="bold" stroke="#2a74b8" stroke-width="0.5">D</text>
<text x="412" y="1247" font-size="29.5" fill="#2a74b8" font-weight="bold" stroke="#2a74b8" stroke-width="0.5">E</text>
<text x="453" y="1247" font-size="29.5" fill="#2a74b8" font-weight="bold" stroke="#2a74b8" stroke-width="0.5">F</text>
<line x1="135.8" y1="1209.5" x2="135.8" y2="1664" stroke="#000" stroke-width="3.9" stroke-linecap="butt"/>
<line x1="310" y1="1215.5" x2="310" y2="1664" stroke="#000" stroke-width="3.9" stroke-linecap="butt"/>
<line x1="395" y1="1215.5" x2="395" y2="1664" stroke="#000" stroke-width="3.9" stroke-linecap="butt"/>
<line x1="414" y1="1215.5" x2="414" y2="1664" stroke="#000" stroke-width="3.9" stroke-linecap="butt"/>
<line x1="441" y1="1215.5" x2="441" y2="1664" stroke="#000" stroke-width="3.9" stroke-linecap="butt"/>
<line x1="80.4" y1="1546.5" x2="745.5" y2="1546.5" stroke="#000" stroke-width="3.3" stroke-linecap="butt"/>
<line x1="86" y1="1546.5" x2="86" y2="1553.65" stroke="#000" stroke-width="2.8" stroke-linecap="butt"/>
<line x1="219" y1="1546.5" x2="219" y2="1553.65" stroke="#000" stroke-width="2.8" stroke-linecap="butt"/>
<line x1="354" y1="1546.5" x2="354" y2="1553.65" stroke="#000" stroke-width="2.8" stroke-linecap="butt"/>
<line x1="489" y1="1546.5" x2="489" y2="1553.65" stroke="#000" stroke-width="2.8" stroke-linecap="butt"/>
<line x1="624" y1="1546.5" x2="624" y2="1553.65" stroke="#000" stroke-width="2.8" stroke-linecap="butt"/>
<line x1="152.5" y1="1546.5" x2="152.5" y2="1551.65" stroke="#000" stroke-width="2.2" stroke-linecap="butt"/>
<line x1="286.5" y1="1546.5" x2="286.5" y2="1551.65" stroke="#000" stroke-width="2.2" stroke-linecap="butt"/>
<line x1="421.5" y1="1546.5" x2="421.5" y2="1551.65" stroke="#000" stroke-width="2.2" stroke-linecap="butt"/>
<line x1="556.5" y1="1546.5" x2="556.5" y2="1551.65" stroke="#000" stroke-width="2.2" stroke-linecap="butt"/>
<text x="86" y="1563.0" font-size="11" fill="#000" font-weight="bold" text-anchor="middle" textLength="18.3" lengthAdjust="spacingAndGlyphs" stroke="#000" stroke-width="0.24" opacity="0.45">115</text>
<text x="219" y="1563.0" font-size="11" fill="#000" font-weight="bold" text-anchor="middle" textLength="18.3" lengthAdjust="spacingAndGlyphs" stroke="#000" stroke-width="0.24" opacity="0.45">120</text>
<text x="354" y="1563.0" font-size="11" fill="#000" font-weight="bold" text-anchor="middle" textLength="18.3" lengthAdjust="spacingAndGlyphs" stroke="#000" stroke-width="0.24" opacity="0.45">125</text>
<text x="489" y="1563.0" font-size="11" fill="#000" font-weight="bold" text-anchor="middle" textLength="18.3" lengthAdjust="spacingAndGlyphs" stroke="#000" stroke-width="0.24">130</text>
<text x="624" y="1563.0" font-size="11" fill="#000" font-weight="bold" text-anchor="middle" textLength="18.3" lengthAdjust="spacingAndGlyphs" stroke="#000" stroke-width="0.24" opacity="0.45">135</text>
<polyline points="86.0,1528.2 87.5,1528.2 87.5,1519.8 89.0,1519.8 89.0,1526.3 90.5,1526.3 90.5,1530.0 92.0,1530.0 92.0,1519.1 93.5,1519.1 93.5,1516.6 95.0,1516.6 95.0,1513.5 96.4,1513.5 96.4,1513.7 97.9,1513.7 97.9,1515.6 99.3,1515.6 99.3,1515.3 100.7,1515.3 100.7,1511.9 102.1,1511.9 102.1,1511.5 103.6,1511.5 103.6,1510.9 105.0,1510.9 105.0,1512.6 106.4,1512.6 106.4,1506.9 107.9,1506.9 107.9,1504.5 109.3,1504.5 109.3,1505.8 110.7,1505.8 110.7,1504.2 112.1,1504.2 112.1,1508.7 113.6,1508.7 113.6,1503.1 115.0,1503.1 115.0,1498.6 116.4,1498.6 116.4,1497.8 117.9,1497.8 117.9,1498.7 119.3,1498.7 119.3,1483.0 120.7,1483.0 120.7,1485.3 122.1,1485.3 122.1,1485.7 123.6,1485.7 123.6,1483.6 125.0,1483.6 125.0,1480.5 126.4,1480.5 126.4,1482.4 127.7,1482.4 127.7,1481.0 129.1,1481.0 129.1,1481.7 130.5,1481.7 130.5,1480.8 131.8,1480.8 131.8,1489.3 133.2,1489.3 133.2,1485.2 134.5,1485.2 134.5,1479.7 135.9,1479.7 135.9,1481.4 137.3,1481.4 137.3,1485.2 138.6,1485.2 138.6,1483.9 140.0,1483.9 140.0,1480.6 141.2,1480.6 141.2,1484.0 142.5,1484.0 142.5,1482.5 143.8,1482.5 143.8,1495.7 145.0,1495.7 145.0,1502.0 146.4,1502.0 146.4,1497.2 147.9,1497.2 147.9,1501.1 149.3,1501.1 149.3,1501.1 150.7,1501.1 150.7,1504.8 152.1,1504.8 152.1,1506.2 153.6,1506.2 153.6,1507.8 155.0,1507.8 155.0,1506.6 156.4,1506.6 156.4,1504.7 157.9,1504.7 157.9,1506.5 159.3,1506.5 159.3,1502.4 160.7,1502.4 160.7,1500.3 162.1,1500.3 162.1,1503.2 163.6,1503.2 163.6,1499.3 165.0,1499.3 165.0,1503.3 166.5,1503.3 166.5,1503.9 168.0,1503.9 168.0,1500.1 169.5,1500.1 169.5,1501.6 171.0,1501.6 171.0,1500.2 172.0,1500.2 172.0,1470.7 173.4,1470.7 173.4,1473.5 174.9,1473.5 174.9,1466.3 176.3,1466.3 176.3,1467.1 177.8,1467.1 177.8,1468.9 179.2,1468.9 179.2,1472.2 180.7,1472.2 180.7,1463.7 182.1,1463.7 182.1,1457.4 183.6,1457.4 183.6,1464.0 185.0,1464.0 185.0,1464.3 186.4,1464.3 186.4,1461.6 187.9,1461.6 187.9,1463.9 189.3,1463.9 189.3,1469.8 190.7,1469.8 190.7,1469.8 192.1,1469.8 192.1,1471.2 193.6,1471.2 193.6,1473.9 195.0,1473.9 195.0,1476.0 196.4,1476.0 196.4,1474.5 197.9,1474.5 197.9,1467.8 199.3,1467.8 199.3,1466.5 200.7,1466.5 200.7,1465.0 202.1,1465.0 202.1,1468.7 203.6,1468.7 203.6,1472.3 205.0,1472.3 205.0,1463.4 206.4,1463.4 206.4,1463.4 207.8,1463.4 207.8,1468.3 209.2,1468.3 209.2,1460.8 210.6,1460.8 210.6,1467.8 211.9,1467.8 211.9,1465.9 213.3,1465.9 213.3,1465.2 214.7,1465.2 214.7,1469.4 216.1,1469.4 216.1,1467.1 217.5,1467.1 217.5,1468.3 218.9,1468.3 218.9,1466.5 220.3,1466.5 220.3,1469.0 221.7,1469.0 221.7,1462.3 223.1,1462.3 223.1,1467.1 224.4,1467.1 224.4,1469.3 225.8,1469.3 225.8,1467.0 227.2,1467.0 227.2,1465.6 228.6,1465.6 228.6,1470.4 230.0,1470.4 230.0,1466.3 231.4,1466.3 231.4,1468.5 232.9,1468.5 232.9,1469.4 234.3,1469.4 234.3,1467.1 235.7,1467.1 235.7,1470.6 237.1,1470.6 237.1,1466.2 238.6,1466.2 238.6,1466.0 240.0,1466.0 240.0,1467.8 241.4,1467.8 241.4,1473.3 242.9,1473.3 242.9,1468.7 244.3,1468.7 244.3,1469.7 245.7,1469.7 245.7,1469.9 247.1,1469.9 247.1,1471.2 248.6,1471.2 248.6,1474.1 250.0,1474.1 250.0,1469.4 251.4,1469.4 251.4,1474.0 252.9,1474.0 252.9,1473.3 254.3,1473.3 254.3,1476.4 255.7,1476.4 255.7,1477.7 257.1,1477.7 257.1,1473.2 258.6,1473.2 258.6,1478.4 260.0,1478.4 260.0,1476.8 261.4,1476.8 261.4,1474.1 262.9,1474.1 262.9,1468.0 264.3,1468.0 264.3,1475.9 265.7,1475.9 265.7,1476.6 267.1,1476.6 267.1,1475.3 268.6,1475.3 268.6,1475.7 270.0,1475.7 270.0,1476.1 271.4,1476.1 271.4,1480.0 272.9,1480.0 272.9,1478.3 274.3,1478.3 274.3,1476.3 275.7,1476.3 275.7,1471.3 277.1,1471.3 277.1,1472.1 278.6,1472.1 278.6,1477.0 280.0,1477.0 280.0,1472.3 281.4,1472.3 281.4,1474.6 282.9,1474.6 282.9,1477.0 284.3,1477.0 284.3,1477.4 285.7,1477.4 285.7,1477.5 287.1,1477.5 287.1,1475.7 288.6,1475.7 288.6,1473.6 290.0,1473.6 290.0,1471.2 291.4,1471.2 291.4,1474.8 292.9,1474.8 292.9,1465.4 294.3,1465.4 294.3,1475.5 295.7,1475.5 295.7,1474.5 297.1,1474.5 297.1,1473.8 298.6,1473.8 298.6,1465.6 300.0,1465.6 300.0,1468.0 301.4,1468.0 301.4,1467.5 302.9,1467.5 302.9,1470.0 304.3,1470.0 304.3,1467.6 305.7,1467.6 305.7,1468.6 307.1,1468.6 307.1,1472.3 308.6,1472.3 308.6,1473.0 310.0,1473.0 310.0,1468.7 311.4,1468.7 311.4,1466.4 312.9,1466.4 312.9,1471.7 314.3,1471.7 314.3,1466.2 315.7,1466.2 315.7,1466.2 317.1,1466.2 317.1,1465.5 318.6,1465.5 318.6,1470.9 320.0,1470.9 320.0,1468.0 321.4,1468.0 321.4,1468.5 322.9,1468.5 322.9,1466.4 324.3,1466.4 324.3,1462.8 325.7,1462.8 325.7,1465.1 327.1,1465.1 327.1,1467.2 328.6,1467.2 328.6,1467.0 330.0,1467.0 330.0,1466.6 331.4,1466.6 331.4,1462.2 332.9,1462.2 332.9,1464.2 334.3,1464.2 334.3,1466.0 335.7,1466.0 335.7,1464.1 337.1,1464.1 337.1,1462.3 338.6,1462.3 338.6,1466.4 340.0,1466.4 340.0,1460.8 341.4,1460.8 341.4,1461.7 342.9,1461.7 342.9,1462.2 344.3,1462.2 344.3,1465.5 345.7,1465.5 345.7,1460.3 347.1,1460.3 347.1,1460.9 348.6,1460.9 348.6,1460.7 350.0,1460.7 350.0,1465.2 351.4,1465.2 351.4,1461.5 352.9,1461.5 352.9,1463.0 354.3,1463.0 354.3,1464.3 355.7,1464.3 355.7,1469.6 357.1,1469.6 357.1,1469.7 358.6,1469.7 358.6,1471.1 360.0,1471.1 360.0,1473.0 361.4,1473.0 361.4,1472.0 362.8,1472.0 362.8,1475.6 364.2,1475.6 364.2,1475.2 365.6,1475.2 365.6,1470.2 367.0,1470.2 367.0,1470.7 368.4,1470.7 368.4,1473.6 369.8,1473.6 369.8,1468.9 371.2,1468.9 371.2,1469.7 372.6,1469.7 372.6,1470.3 374.0,1470.3 374.0,1465.4 375.4,1465.4 375.4,1470.9 376.8,1470.9 376.8,1466.2 378.2,1466.2 378.2,1465.5 379.6,1465.5 379.6,1471.5 381.0,1471.5 381.0,1465.1 382.4,1465.1 382.4,1466.9 383.8,1466.9 383.8,1476.9 385.2,1476.9 385.2,1470.7 386.6,1470.7 386.6,1471.6 388.0,1471.6 388.0,1467.1 389.4,1467.1 389.4,1469.3 390.8,1469.3 390.8,1471.1 392.2,1471.1 392.2,1467.6 393.6,1467.6 393.6,1467.7 395.0,1467.7 395.0,1469.6 396.4,1469.6 396.4,1469.4 397.9,1469.4 397.9,1474.4 399.3,1474.4 399.3,1477.2 400.7,1477.2 400.7,1479.6 402.1,1479.6 402.1,1481.6 403.6,1481.6 403.6,1476.9 405.0,1476.9 405.0,1479.6 406.5,1479.6 406.5,1488.1 408.0,1488.1 408.0,1490.0 409.5,1490.0 409.5,1488.2 411.0,1488.2 411.0,1491.9 412.5,1491.9 412.5,1492.9 414.0,1492.9 414.0,1500.9 415.4,1500.9 415.4,1498.0 416.8,1498.0 416.8,1497.7 418.1,1497.7 418.1,1497.2 419.5,1497.2 419.5,1503.3 420.9,1503.3 420.9,1503.3 422.2,1503.3 422.2,1504.8 423.6,1504.8 423.6,1505.9 425.0,1505.9 425.0,1507.6 426.4,1507.6 426.4,1508.5 427.8,1508.5 427.8,1508.5 429.2,1508.5 429.2,1508.9 430.6,1508.9 430.6,1506.4 432.0,1506.4 432.0,1508.0 433.5,1508.0 433.5,1510.6 435.0,1510.6 435.0,1509.5 436.5,1509.5 436.5,1508.3 438.0,1508.3 438.0,1506.7 439.5,1506.7 439.5,1510.6 441.0,1510.6 441.0,1508.1 442.5,1508.1 442.5,1506.9 444.0,1506.9 444.0,1502.7 445.5,1502.7 445.5,1502.1 447.0,1502.1 447.0,1493.4 448.5,1493.4 448.5,1493.6 450.0,1493.6 450.0,1494.9 451.4,1494.9 451.4,1494.5 452.8,1494.5 452.8,1494.4 454.2,1494.4 454.2,1496.5 455.6,1496.5 455.6,1504.1 456.9,1504.1 456.9,1498.3 458.3,1498.3 458.3,1492.7 459.7,1492.7 459.7,1494.6 461.1,1494.6 461.1,1491.9 462.5,1491.9 462.5,1490.5 463.9,1490.5 463.9,1499.6 465.3,1499.6 465.3,1499.4 466.7,1499.4 466.7,1493.9 468.1,1493.9 468.1,1494.0 469.4,1494.0 469.4,1496.0 470.8,1496.0 470.8,1495.5 472.2,1495.5 472.2,1487.4 473.6,1487.4 473.6,1506.3 475.0,1506.3 475.0,1495.5 476.4,1495.5 476.4,1495.9 477.8,1495.9 477.8,1498.3 479.2,1498.3 479.2,1494.9 480.6,1494.9 480.6,1495.0 481.9,1495.0 481.9,1499.4 483.3,1499.4 483.3,1499.0 484.7,1499.0 484.7,1494.1 486.1,1494.1 486.1,1498.7 487.5,1498.7 487.5,1497.0 488.9,1497.0 488.9,1498.7 490.3,1498.7 490.3,1497.2 491.7,1497.2 491.7,1506.1 493.1,1506.1 493.1,1509.7 494.4,1509.7 494.4,1506.2 495.8,1506.2 495.8,1496.1 497.2,1496.1 497.2,1500.3 498.6,1500.3 498.6,1499.2 500.0,1499.2 500.0,1501.5 501.4,1501.5 501.4,1498.2 502.8,1498.2 502.8,1502.3 504.2,1502.3 504.2,1501.1 505.6,1501.1 505.6,1500.8 506.9,1500.8 506.9,1494.8 508.3,1494.8 508.3,1491.4 509.7,1491.4 509.7,1496.2 511.1,1496.2 511.1,1498.9 512.5,1498.9 512.5,1501.0 513.9,1501.0 513.9,1491.8 515.3,1491.8 515.3,1491.2 516.7,1491.2 516.7,1485.8 518.1,1485.8 518.1,1483.0 519.4,1483.0 519.4,1486.2 520.8,1486.2 520.8,1491.3 522.2,1491.3 522.2,1476.0 523.6,1476.0 523.6,1474.2 525.0,1474.2 525.0,1475.4 526.4,1475.4 526.4,1481.5 527.8,1481.5 527.8,1481.8 529.2,1481.8 529.2,1486.1 530.6,1486.1 530.6,1485.9 532.0,1485.9 532.0,1478.6 533.4,1478.6 533.4,1482.4 534.8,1482.4 534.8,1486.8 536.2,1486.8 536.2,1480.4 537.6,1480.4 537.6,1487.5 539.0,1487.5 539.0,1481.9 540.4,1481.9 540.4,1481.3 541.8,1481.3 541.8,1490.5 543.2,1490.5 543.2,1478.4 544.6,1478.4 544.6,1482.4 546.0,1482.4 546.0,1478.7 547.4,1478.7 547.4,1475.3 548.8,1475.3 548.8,1482.8 550.2,1482.8 550.2,1476.3 551.6,1476.3 551.6,1475.0 553.0,1475.0 553.0,1478.7 554.4,1478.7 554.4,1481.5 555.8,1481.5 555.8,1478.5 557.2,1478.5 557.2,1473.8 558.6,1473.8 558.6,1478.0 560.0,1478.0 560.0,1475.3 561.4,1475.3 561.4,1482.8 562.7,1482.8 562.7,1486.8 564.1,1486.8 564.1,1492.0 565.5,1492.0 565.5,1494.6 566.8,1494.6 566.8,1485.1 568.2,1485.1 568.2,1486.2 569.5,1486.2 569.5,1486.3 570.9,1486.3 570.9,1489.3 572.3,1489.3 572.3,1492.5 573.6,1492.5 573.6,1489.3 575.0,1489.3 575.0,1501.4 576.4,1501.4 576.4,1488.7 577.9,1488.7 577.9,1495.3 579.3,1495.3 579.3,1496.2 580.7,1496.2 580.7,1494.4 582.1,1494.4 582.1,1508.1 583.6,1508.1 583.6,1499.1 585.0,1499.1 585.0,1501.4 586.4,1501.4 586.4,1509.9 587.9,1509.9 587.9,1511.9 589.3,1511.9 589.3,1514.6 590.7,1514.6 590.7,1518.0 592.1,1518.0 592.1,1513.1 593.6,1513.1 593.6,1518.7 595.0,1518.7 595.0,1527.3 596.4,1527.3 596.4,1522.6 597.8,1522.6 597.8,1519.7 599.2,1519.7 599.2,1519.1 600.6,1519.1 600.6,1517.4 602.0,1517.4 602.0,1521.0 603.2,1521.0 603.2,1510.8 604.5,1510.8 604.5,1504.3 605.8,1504.3 605.8,1506.8 607.0,1506.8 607.0,1497.3 608.4,1497.3 608.4,1504.9 609.9,1504.9 609.9,1496.3 611.3,1496.3 611.3,1495.4 612.8,1495.4 612.8,1500.3 614.2,1500.3 614.2,1494.1 615.6,1494.1 615.6,1497.3 617.1,1497.3 617.1,1493.2 618.5,1493.2 618.5,1495.1 619.9,1495.1 619.9,1498.9 621.4,1498.9 621.4,1489.4 622.8,1489.4 622.8,1496.2 624.2,1496.2 624.2,1499.6 625.7,1499.6 625.7,1494.4 627.1,1494.4 627.1,1495.6 628.6,1495.6 628.6,1489.8 630.0,1489.8 630.0,1498.7 631.4,1498.7 631.4,1498.9 632.9,1498.9 632.9,1500.4 634.3,1500.4 634.3,1495.0 635.7,1495.0 635.7,1499.2 637.1,1499.2 637.1,1491.6 638.6,1491.6 638.6,1492.8 640.0,1492.8 640.0,1491.9 641.4,1491.9 641.4,1492.0 642.9,1492.0 642.9,1489.2 644.3,1489.2 644.3,1499.0 645.7,1499.0 645.7,1500.5 647.1,1500.5 647.1,1497.5 648.6,1497.5 648.6,1498.3 650.0,1498.3 650.0,1500.1 651.4,1500.1 651.4,1499.6 652.9,1499.6 652.9,1496.8 654.3,1496.8 654.3,1499.1 655.7,1499.1 655.7,1495.2 657.1,1495.2 657.1,1502.4 658.6,1502.4 658.6,1500.9 660.0,1500.9 660.0,1498.9 661.4,1498.9 661.4,1495.5 662.9,1495.5 662.9,1505.7 664.3,1505.7 664.3,1497.1 665.7,1497.1 665.7,1498.9 667.1,1498.9 667.1,1494.9 668.6,1494.9 668.6,1503.5 670.0,1503.5 670.0,1495.1 671.4,1495.1 671.4,1502.6 672.9,1502.6 672.9,1497.7 674.3,1497.7 674.3,1496.7 675.7,1496.7 675.7,1486.4 677.1,1486.4 677.1,1480.2 678.6,1480.2 678.6,1484.8 680.0,1484.8 680.0,1488.0 681.4,1488.0 681.4,1497.4 682.9,1497.4 682.9,1485.3 684.3,1485.3 684.3,1503.1 685.7,1503.1 685.7,1508.6 687.1,1508.6 687.1,1516.2 688.6,1516.2 688.6,1514.3 690.0,1514.3 690.0,1528.2 691.2,1528.2 691.2,1508.9 692.5,1508.9 692.5,1500.3 693.8,1500.3 693.8,1492.5 695.0,1492.5 695.0,1493.8 696.2,1493.8 696.2,1503.5 697.5,1503.5 697.5,1502.4 698.8,1502.4 698.8,1507.9 700.0,1507.9 700.0,1513.7 701.4,1513.7 701.4,1507.9 702.7,1507.9 702.7,1500.1 704.1,1500.1 704.1,1506.7 705.5,1506.7 705.5,1504.9 706.8,1504.9 706.8,1494.0 708.2,1494.0 708.2,1494.0 709.5,1494.0 709.5,1492.3 710.9,1492.3 710.9,1491.1 712.3,1491.1 712.3,1481.7 713.6,1481.7 713.6,1486.0 715.0,1486.0 715.0,1485.0 716.4,1485.0 716.4,1475.9 717.9,1475.9 717.9,1476.7 719.3,1476.7 719.3,1480.5 720.7,1480.5 720.7,1483.1 722.1,1483.1 722.1,1468.0 723.6,1468.0 723.6,1466.4 725.0,1466.4 725.0,1482.2 726.4,1482.2 726.4,1474.9 727.9,1474.9 727.9,1480.3 729.3,1480.3 729.3,1475.4 730.7,1475.4 730.7,1481.0 732.1,1481.0 732.1,1487.5 733.6,1487.5 733.6,1490.2 735.0,1490.2 735.0,1491.6 736.5,1491.6 736.5,1499.3 738.0,1499.3 738.0,1505.0 739.5,1505.0 739.5,1503.6 741.0,1503.6 741.0,1508.2 742.3,1508.2 742.3,1517.4 743.7,1517.4 743.7,1515.5 745.0,1515.5 745.0,1529.1" fill="none" stroke="#6dbf4b" stroke-width="2.5" stroke-linejoin="miter" stroke-linecap="miter"/>
<polyline points="87.0,1585.2 88.4,1585.3 89.9,1585.4 91.3,1585.7 92.8,1585.9 94.2,1586.1 95.7,1586.3 97.1,1586.6 98.6,1586.9 100.0,1587.3 101.4,1587.8 102.9,1588.4 104.3,1589.1 105.7,1589.9 107.1,1590.6 108.6,1591.5 110.0,1592.5 111.6,1593.8 113.2,1595.2 114.8,1596.8 116.4,1597.8 118.0,1598.1 119.4,1597.8 120.8,1596.8 122.2,1595.2 123.6,1593.5 125.0,1591.7 126.4,1589.7 127.9,1587.7 129.3,1585.6 130.7,1583.4 132.1,1581.3 133.6,1579.8 135.0,1578.9 136.4,1578.6 137.9,1579.0 139.3,1580.0 140.7,1581.0 142.1,1582.0 143.6,1582.8 145.0,1583.5 146.5,1584.0 148.1,1584.3 149.6,1584.5 151.2,1584.6 152.7,1584.8 154.2,1584.9 155.8,1585.1 157.3,1585.2 158.8,1585.4 160.4,1585.5 161.9,1585.7 163.5,1585.7 165.0,1585.5 166.5,1585.1 168.0,1584.6 169.5,1583.9 171.0,1583.2 172.5,1582.5 174.0,1581.8 175.5,1581.1 177.0,1580.4 178.5,1580.1 180.0,1580.1 181.4,1580.5 182.9,1581.3 184.3,1582.4 185.7,1583.6 187.1,1584.7 188.6,1585.5 190.0,1586.0 191.5,1586.2 193.0,1586.0 194.5,1585.5 196.0,1585.0 197.5,1584.5 199.0,1584.0 200.5,1583.5 202.0,1583.0 203.5,1582.8 205.0,1582.8 206.4,1583.1 207.8,1583.6 209.2,1584.4 210.6,1585.0 212.0,1585.3 213.6,1585.4 215.2,1585.2 216.8,1584.8 218.4,1584.7 220.0,1585.0 221.5,1585.6 223.0,1586.6 224.5,1587.9 226.0,1589.2 227.5,1590.5 229.0,1591.8 230.5,1593.1 232.0,1594.4 233.5,1595.6 235.0,1596.8 236.4,1597.9 237.9,1599.0 239.3,1600.0 240.8,1601.0 242.2,1602.0 243.7,1603.0 245.1,1604.0 246.6,1604.2 248.0,1603.6 249.5,1602.2 251.0,1600.0 252.5,1597.0 254.0,1594.0 255.5,1591.0 257.0,1588.0 258.5,1586.0 260.0,1584.9 261.4,1584.8 262.9,1585.7 264.3,1587.6 265.7,1589.4 267.1,1591.3 268.6,1593.0 270.0,1594.5 271.4,1595.8 272.9,1597.0 274.3,1598.0 275.7,1599.0 277.1,1600.0 278.6,1600.6 280.0,1600.8 281.4,1600.6 282.9,1600.0 284.3,1599.0 285.7,1598.0 287.1,1597.0 288.6,1596.1 290.0,1595.4 291.5,1594.7 293.1,1594.2 294.6,1593.8 296.2,1593.5 297.7,1593.1 299.2,1592.7 300.8,1592.3 302.3,1591.9 303.8,1591.5 305.4,1591.2 306.9,1590.8 308.5,1590.5 310.0,1590.2 311.5,1590.1 313.0,1590.0 314.4,1590.0 315.9,1590.0 317.4,1590.0 318.9,1590.0 320.4,1590.0 321.9,1590.0 323.3,1590.0 324.8,1590.0 326.3,1590.0 327.8,1590.0 329.3,1590.0 330.7,1590.0 332.2,1590.0 333.7,1590.0 335.2,1590.0 336.7,1590.0 338.1,1590.0 339.6,1590.0 341.1,1590.0 342.6,1590.0 344.1,1590.0 345.6,1590.0 347.0,1590.0 348.5,1589.9 350.0,1589.8 351.5,1589.6 353.1,1589.4 354.6,1589.1 356.2,1588.8 357.7,1588.5 359.2,1588.2 360.8,1587.8 362.3,1587.5 363.8,1587.2 365.4,1586.9 366.9,1586.6 368.5,1586.4 370.0,1586.4 371.5,1586.5 372.9,1586.7 374.4,1587.1 375.9,1587.4 377.4,1587.8 378.8,1588.1 380.3,1588.5 381.8,1588.8 383.2,1589.2 384.7,1589.5 386.2,1589.9 387.6,1590.2 389.1,1590.6 390.6,1590.9 392.1,1591.3 393.5,1591.6 395.0,1591.9 396.5,1592.2 397.9,1592.5 399.4,1592.7 400.8,1592.9 402.3,1593.2 403.8,1593.4 405.2,1593.6 406.7,1593.8 408.2,1594.1 409.6,1594.3 411.1,1594.5 412.5,1594.4 414.0,1593.7 415.6,1592.7 417.1,1591.3 418.7,1589.4 420.3,1587.6 421.9,1585.7 423.4,1584.0 425.0,1582.5 426.4,1581.2 427.8,1580.0 429.2,1579.0 430.6,1578.5 432.0,1578.6 433.5,1579.2 435.0,1580.3 436.5,1582.0 438.0,1583.7 439.5,1585.1 441.0,1586.3 442.5,1587.3 444.0,1588.0 445.5,1588.5 447.0,1589.0 448.5,1589.4 450.0,1589.7 451.5,1589.8 452.9,1589.9 454.4,1589.8 455.9,1589.8 457.4,1589.7 458.8,1589.6 460.3,1589.6 461.8,1589.5 463.2,1589.5 464.7,1589.4 466.2,1589.4 467.6,1589.3 469.1,1589.2 470.6,1589.2 472.1,1589.1 473.5,1588.9 475.0,1588.6 476.4,1588.2 477.9,1587.6 479.3,1586.9 480.7,1586.1 482.1,1585.4 483.6,1584.9 485.0,1584.5 486.5,1584.3 487.9,1584.2 489.4,1584.4 490.9,1584.5 492.4,1584.6 493.8,1584.7 495.3,1584.8 496.8,1584.9 498.2,1585.1 499.7,1585.2 501.2,1585.3 502.6,1585.4 504.1,1585.5 505.6,1585.6 507.1,1585.8 508.5,1585.8 510.0,1585.7 511.5,1585.5 513.0,1585.2 514.5,1584.8 516.0,1584.4 517.5,1584.0 519.0,1583.6 520.5,1583.2 522.0,1582.8 523.5,1582.3 525.0,1581.8 526.5,1581.2 527.9,1580.6 529.4,1579.9 530.9,1579.2 532.4,1578.5 533.8,1577.8 535.3,1577.1 536.8,1576.4 538.2,1575.6 539.7,1574.9 541.2,1574.2 542.6,1573.5 544.1,1572.8 545.6,1572.1 547.1,1571.4 548.5,1570.8 550.0,1570.2 551.5,1569.7 553.1,1569.2 554.6,1568.8 556.2,1568.5 557.7,1568.1 559.2,1567.7 560.8,1567.3 562.3,1566.9 563.8,1566.5 565.4,1566.2 566.9,1565.8 568.5,1565.2 570.0,1564.4 571.4,1563.4 572.9,1562.1 574.3,1560.7 575.7,1559.3 577.1,1557.9 578.6,1556.9 580.0,1556.5 581.4,1556.5 582.8,1557.0 584.2,1558.0 585.6,1560.0 587.0,1563.0 588.6,1567.0 590.2,1572.0 591.8,1578.0 593.4,1584.8 595.0,1592.4 596.7,1600.8 598.3,1609.1 600.0,1617.4 601.7,1624.8 603.3,1630.4 605.0,1634.2 606.5,1637.1 608.1,1639.0 609.6,1640.0 611.2,1641.0 612.7,1642.0 614.2,1643.0 615.8,1644.0 617.3,1645.0 618.8,1646.0 620.4,1647.0 621.9,1648.0 623.5,1648.7 625.0,1649.2 626.5,1649.4 628.0,1649.4 629.5,1649.1 631.0,1648.8 632.5,1648.5 634.0,1648.2 635.5,1647.9 637.0,1647.6 638.5,1647.4 640.0,1647.4 641.5,1647.4 643.0,1647.6 644.5,1647.9 646.0,1648.2 647.5,1648.5 649.0,1648.8 650.5,1649.1 652.0,1649.4 653.5,1649.6 655.0,1649.7 656.5,1649.8 658.0,1649.7 659.5,1649.5 661.0,1649.4 662.5,1649.2 664.0,1649.1 665.5,1649.0 667.0,1648.8 668.5,1648.7 670.0,1648.5 671.5,1648.3 673.0,1648.2 674.5,1648.0 676.0,1647.9 677.5,1647.8 679.0,1647.6 680.5,1647.5 682.0,1647.3 683.5,1646.8 685.0,1645.8 686.5,1644.5 688.0,1642.8 689.5,1640.6 691.0,1638.5 692.5,1636.4 694.0,1634.2 695.5,1632.6 697.0,1631.4 698.5,1630.6 700.0,1630.3 701.5,1630.5 703.0,1630.7 704.5,1630.8 706.0,1631.0 707.5,1631.2 709.0,1631.3 710.5,1631.5 712.0,1631.7 713.5,1631.7 715.0,1631.5 716.5,1631.2 718.1,1630.7 719.6,1630.1 721.2,1629.5 722.7,1628.8 724.3,1628.2 725.8,1627.5 727.4,1626.9 728.9,1626.3 730.5,1625.9 732.0,1625.7 733.5,1625.8 735.0,1626.2 736.5,1626.8 738.0,1627.3 739.5,1627.9 741.0,1628.5 742.5,1629.1 744.0,1629.7 745.5,1630.2 747.0,1630.8 748.5,1631.4 750.0,1631.9 751.4,1632.4 752.9,1632.9 754.3,1633.3 755.7,1633.7 757.1,1634.1 758.6,1634.4 760.0,1634.6" fill="none" stroke="#1f4e9c" stroke-width="3.5" stroke-linejoin="round" stroke-linecap="round"/>
<polygon points="87.0,1492.0 107.0,1486.5 133.0,1483.5 160.0,1523.5 188.0,1468.5 214.0,1428.5 241.0,1437.5 268.0,1472.5 295.0,1374.0 322.0,1453.5 349.0,1409.0 376.0,1366.5 403.0,1332.5 430.0,1480.0 437.0,1518.0 437.0,1580.0 456.5,1549.0 484.0,1591.0 511.0,1591.0 537.5,1556.5 565.0,1536.0 592.5,1599.0 619.0,1558.5 646.0,1518.5 672.5,1583.5 699.0,1597.5 726.5,1569.0 745.5,1610.0 745.5,1665.0 87.0,1665.0" fill="#278a33" fill-opacity="0.7"/>
<clipPath id="cp3"><polygon points="87.0,1492.0 107.0,1486.5 133.0,1483.5 160.0,1523.5 188.0,1468.5 214.0,1428.5 241.0,1437.5 268.0,1472.5 295.0,1374.0 322.0,1453.5 349.0,1409.0 376.0,1366.5 403.0,1332.5 430.0,1480.0 437.0,1518.0 437.0,1580.0 456.5,1549.0 484.0,1591.0 511.0,1591.0 537.5,1556.5 565.0,1536.0 592.5,1599.0 619.0,1558.5 646.0,1518.5 672.5,1583.5 699.0,1597.5 726.5,1569.0 745.5,1610.0 745.5,1665.0 87.0,1665.0"/></clipPath>
<line clip-path="url(#cp3)" x1="135.8" y1="1209" x2="135.8" y2="1664" stroke="#164524" stroke-width="3.9"/>
<line clip-path="url(#cp3)" x1="310" y1="1209" x2="310" y2="1664" stroke="#164524" stroke-width="3.9"/>
<line clip-path="url(#cp3)" x1="395" y1="1209" x2="395" y2="1664" stroke="#164524" stroke-width="3.9"/>
<line clip-path="url(#cp3)" x1="414" y1="1209" x2="414" y2="1664" stroke="#164524" stroke-width="3.9"/>
<line clip-path="url(#cp3)" x1="441" y1="1209" x2="441" y2="1664" stroke="#164524" stroke-width="3.9"/>
<line clip-path="url(#cp3)" x1="82" y1="1546.5" x2="745.5" y2="1546.5" stroke="#164524" stroke-width="3.3"/>
<polyline clip-path="url(#cp3)" points="87.0,1585.2 88.4,1585.3 89.9,1585.4 91.3,1585.7 92.8,1585.9 94.2,1586.1 95.7,1586.3 97.1,1586.6 98.6,1586.9 100.0,1587.3 101.4,1587.8 102.9,1588.4 104.3,1589.1 105.7,1589.9 107.1,1590.6 108.6,1591.5 110.0,1592.5 111.6,1593.8 113.2,1595.2 114.8,1596.8 116.4,1597.8 118.0,1598.1 119.4,1597.8 120.8,1596.8 122.2,1595.2 123.6,1593.5 125.0,1591.7 126.4,1589.7 127.9,1587.7 129.3,1585.6 130.7,1583.4 132.1,1581.3 133.6,1579.8 135.0,1578.9 136.4,1578.6 137.9,1579.0 139.3,1580.0 140.7,1581.0 142.1,1582.0 143.6,1582.8 145.0,1583.5 146.5,1584.0 148.1,1584.3 149.6,1584.5 151.2,1584.6 152.7,1584.8 154.2,1584.9 155.8,1585.1 157.3,1585.2 158.8,1585.4 160.4,1585.5 161.9,1585.7 163.5,1585.7 165.0,1585.5 166.5,1585.1 168.0,1584.6 169.5,1583.9 171.0,1583.2 172.5,1582.5 174.0,1581.8 175.5,1581.1 177.0,1580.4 178.5,1580.1 180.0,1580.1 181.4,1580.5 182.9,1581.3 184.3,1582.4 185.7,1583.6 187.1,1584.7 188.6,1585.5 190.0,1586.0 191.5,1586.2 193.0,1586.0 194.5,1585.5 196.0,1585.0 197.5,1584.5 199.0,1584.0 200.5,1583.5 202.0,1583.0 203.5,1582.8 205.0,1582.8 206.4,1583.1 207.8,1583.6 209.2,1584.4 210.6,1585.0 212.0,1585.3 213.6,1585.4 215.2,1585.2 216.8,1584.8 218.4,1584.7 220.0,1585.0 221.5,1585.6 223.0,1586.6 224.5,1587.9 226.0,1589.2 227.5,1590.5 229.0,1591.8 230.5,1593.1 232.0,1594.4 233.5,1595.6 235.0,1596.8 236.4,1597.9 237.9,1599.0 239.3,1600.0 240.8,1601.0 242.2,1602.0 243.7,1603.0 245.1,1604.0 246.6,1604.2 248.0,1603.6 249.5,1602.2 251.0,1600.0 252.5,1597.0 254.0,1594.0 255.5,1591.0 257.0,1588.0 258.5,1586.0 260.0,1584.9 261.4,1584.8 262.9,1585.7 264.3,1587.6 265.7,1589.4 267.1,1591.3 268.6,1593.0 270.0,1594.5 271.4,1595.8 272.9,1597.0 274.3,1598.0 275.7,1599.0 277.1,1600.0 278.6,1600.6 280.0,1600.8 281.4,1600.6 282.9,1600.0 284.3,1599.0 285.7,1598.0 287.1,1597.0 288.6,1596.1 290.0,1595.4 291.5,1594.7 293.1,1594.2 294.6,1593.8 296.2,1593.5 297.7,1593.1 299.2,1592.7 300.8,1592.3 302.3,1591.9 303.8,1591.5 305.4,1591.2 306.9,1590.8 308.5,1590.5 310.0,1590.2 311.5,1590.1 313.0,1590.0 314.4,1590.0 315.9,1590.0 317.4,1590.0 318.9,1590.0 320.4,1590.0 321.9,1590.0 323.3,1590.0 324.8,1590.0 326.3,1590.0 327.8,1590.0 329.3,1590.0 330.7,1590.0 332.2,1590.0 333.7,1590.0 335.2,1590.0 336.7,1590.0 338.1,1590.0 339.6,1590.0 341.1,1590.0 342.6,1590.0 344.1,1590.0 345.6,1590.0 347.0,1590.0 348.5,1589.9 350.0,1589.8 351.5,1589.6 353.1,1589.4 354.6,1589.1 356.2,1588.8 357.7,1588.5 359.2,1588.2 360.8,1587.8 362.3,1587.5 363.8,1587.2 365.4,1586.9 366.9,1586.6 368.5,1586.4 370.0,1586.4 371.5,1586.5 372.9,1586.7 374.4,1587.1 375.9,1587.4 377.4,1587.8 378.8,1588.1 380.3,1588.5 381.8,1588.8 383.2,1589.2 384.7,1589.5 386.2,1589.9 387.6,1590.2 389.1,1590.6 390.6,1590.9 392.1,1591.3 393.5,1591.6 395.0,1591.9 396.5,1592.2 397.9,1592.5 399.4,1592.7 400.8,1592.9 402.3,1593.2 403.8,1593.4 405.2,1593.6 406.7,1593.8 408.2,1594.1 409.6,1594.3 411.1,1594.5 412.5,1594.4 414.0,1593.7 415.6,1592.7 417.1,1591.3 418.7,1589.4 420.3,1587.6 421.9,1585.7 423.4,1584.0 425.0,1582.5 426.4,1581.2 427.8,1580.0 429.2,1579.0 430.6,1578.5 432.0,1578.6 433.5,1579.2 435.0,1580.3 436.5,1582.0 438.0,1583.7 439.5,1585.1 441.0,1586.3 442.5,1587.3 444.0,1588.0 445.5,1588.5 447.0,1589.0 448.5,1589.4 450.0,1589.7 451.5,1589.8 452.9,1589.9 454.4,1589.8 455.9,1589.8 457.4,1589.7 458.8,1589.6 460.3,1589.6 461.8,1589.5 463.2,1589.5 464.7,1589.4 466.2,1589.4 467.6,1589.3 469.1,1589.2 470.6,1589.2 472.1,1589.1 473.5,1588.9 475.0,1588.6 476.4,1588.2 477.9,1587.6 479.3,1586.9 480.7,1586.1 482.1,1585.4 483.6,1584.9 485.0,1584.5 486.5,1584.3 487.9,1584.2 489.4,1584.4 490.9,1584.5 492.4,1584.6 493.8,1584.7 495.3,1584.8 496.8,1584.9 498.2,1585.1 499.7,1585.2 501.2,1585.3 502.6,1585.4 504.1,1585.5 505.6,1585.6 507.1,1585.8 508.5,1585.8 510.0,1585.7 511.5,1585.5 513.0,1585.2 514.5,1584.8 516.0,1584.4 517.5,1584.0 519.0,1583.6 520.5,1583.2 522.0,1582.8 523.5,1582.3 525.0,1581.8 526.5,1581.2 527.9,1580.6 529.4,1579.9 530.9,1579.2 532.4,1578.5 533.8,1577.8 535.3,1577.1 536.8,1576.4 538.2,1575.6 539.7,1574.9 541.2,1574.2 542.6,1573.5 544.1,1572.8 545.6,1572.1 547.1,1571.4 548.5,1570.8 550.0,1570.2 551.5,1569.7 553.1,1569.2 554.6,1568.8 556.2,1568.5 557.7,1568.1 559.2,1567.7 560.8,1567.3 562.3,1566.9 563.8,1566.5 565.4,1566.2 566.9,1565.8 568.5,1565.2 570.0,1564.4 571.4,1563.4 572.9,1562.1 574.3,1560.7 575.7,1559.3 577.1,1557.9 578.6,1556.9 580.0,1556.5 581.4,1556.5 582.8,1557.0 584.2,1558.0 585.6,1560.0 587.0,1563.0 588.6,1567.0 590.2,1572.0 591.8,1578.0 593.4,1584.8 595.0,1592.4 596.7,1600.8 598.3,1609.1 600.0,1617.4 601.7,1624.8 603.3,1630.4 605.0,1634.2 606.5,1637.1 608.1,1639.0 609.6,1640.0 611.2,1641.0 612.7,1642.0 614.2,1643.0 615.8,1644.0 617.3,1645.0 618.8,1646.0 620.4,1647.0 621.9,1648.0 623.5,1648.7 625.0,1649.2 626.5,1649.4 628.0,1649.4 629.5,1649.1 631.0,1648.8 632.5,1648.5 634.0,1648.2 635.5,1647.9 637.0,1647.6 638.5,1647.4 640.0,1647.4 641.5,1647.4 643.0,1647.6 644.5,1647.9 646.0,1648.2 647.5,1648.5 649.0,1648.8 650.5,1649.1 652.0,1649.4 653.5,1649.6 655.0,1649.7 656.5,1649.8 658.0,1649.7 659.5,1649.5 661.0,1649.4 662.5,1649.2 664.0,1649.1 665.5,1649.0 667.0,1648.8 668.5,1648.7 670.0,1648.5 671.5,1648.3 673.0,1648.2 674.5,1648.0 676.0,1647.9 677.5,1647.8 679.0,1647.6 680.5,1647.5 682.0,1647.3 683.5,1646.8 685.0,1645.8 686.5,1644.5 688.0,1642.8 689.5,1640.6 691.0,1638.5 692.5,1636.4 694.0,1634.2 695.5,1632.6 697.0,1631.4 698.5,1630.6 700.0,1630.3 701.5,1630.5 703.0,1630.7 704.5,1630.8 706.0,1631.0 707.5,1631.2 709.0,1631.3 710.5,1631.5 712.0,1631.7 713.5,1631.7 715.0,1631.5 716.5,1631.2 718.1,1630.7 719.6,1630.1 721.2,1629.5 722.7,1628.8 724.3,1628.2 725.8,1627.5 727.4,1626.9 728.9,1626.3 730.5,1625.9 732.0,1625.7 733.5,1625.8 735.0,1626.2 736.5,1626.8 738.0,1627.3 739.5,1627.9 741.0,1628.5 742.5,1629.1 744.0,1629.7 745.5,1630.2 747.0,1630.8 748.5,1631.4 750.0,1631.9 751.4,1632.4 752.9,1632.9 754.3,1633.3 755.7,1633.7 757.1,1634.1 758.6,1634.4 760.0,1634.6" fill="none" stroke="#16506a" stroke-width="3.5" stroke-linejoin="round" stroke-linecap="round"/>
<polyline clip-path="url(#cp3)" points="86.0,1528.2 87.5,1528.2 87.5,1519.8 89.0,1519.8 89.0,1526.3 90.5,1526.3 90.5,1530.0 92.0,1530.0 92.0,1519.1 93.5,1519.1 93.5,1516.6 95.0,1516.6 95.0,1513.5 96.4,1513.5 96.4,1513.7 97.9,1513.7 97.9,1515.6 99.3,1515.6 99.3,1515.3 100.7,1515.3 100.7,1511.9 102.1,1511.9 102.1,1511.5 103.6,1511.5 103.6,1510.9 105.0,1510.9 105.0,1512.6 106.4,1512.6 106.4,1506.9 107.9,1506.9 107.9,1504.5 109.3,1504.5 109.3,1505.8 110.7,1505.8 110.7,1504.2 112.1,1504.2 112.1,1508.7 113.6,1508.7 113.6,1503.1 115.0,1503.1 115.0,1498.6 116.4,1498.6 116.4,1497.8 117.9,1497.8 117.9,1498.7 119.3,1498.7 119.3,1483.0 120.7,1483.0 120.7,1485.3 122.1,1485.3 122.1,1485.7 123.6,1485.7 123.6,1483.6 125.0,1483.6 125.0,1480.5 126.4,1480.5 126.4,1482.4 127.7,1482.4 127.7,1481.0 129.1,1481.0 129.1,1481.7 130.5,1481.7 130.5,1480.8 131.8,1480.8 131.8,1489.3 133.2,1489.3 133.2,1485.2 134.5,1485.2 134.5,1479.7 135.9,1479.7 135.9,1481.4 137.3,1481.4 137.3,1485.2 138.6,1485.2 138.6,1483.9 140.0,1483.9 140.0,1480.6 141.2,1480.6 141.2,1484.0 142.5,1484.0 142.5,1482.5 143.8,1482.5 143.8,1495.7 145.0,1495.7 145.0,1502.0 146.4,1502.0 146.4,1497.2 147.9,1497.2 147.9,1501.1 149.3,1501.1 149.3,1501.1 150.7,1501.1 150.7,1504.8 152.1,1504.8 152.1,1506.2 153.6,1506.2 153.6,1507.8 155.0,1507.8 155.0,1506.6 156.4,1506.6 156.4,1504.7 157.9,1504.7 157.9,1506.5 159.3,1506.5 159.3,1502.4 160.7,1502.4 160.7,1500.3 162.1,1500.3 162.1,1503.2 163.6,1503.2 163.6,1499.3 165.0,1499.3 165.0,1503.3 166.5,1503.3 166.5,1503.9 168.0,1503.9 168.0,1500.1 169.5,1500.1 169.5,1501.6 171.0,1501.6 171.0,1500.2 172.0,1500.2 172.0,1470.7 173.4,1470.7 173.4,1473.5 174.9,1473.5 174.9,1466.3 176.3,1466.3 176.3,1467.1 177.8,1467.1 177.8,1468.9 179.2,1468.9 179.2,1472.2 180.7,1472.2 180.7,1463.7 182.1,1463.7 182.1,1457.4 183.6,1457.4 183.6,1464.0 185.0,1464.0 185.0,1464.3 186.4,1464.3 186.4,1461.6 187.9,1461.6 187.9,1463.9 189.3,1463.9 189.3,1469.8 190.7,1469.8 190.7,1469.8 192.1,1469.8 192.1,1471.2 193.6,1471.2 193.6,1473.9 195.0,1473.9 195.0,1476.0 196.4,1476.0 196.4,1474.5 197.9,1474.5 197.9,1467.8 199.3,1467.8 199.3,1466.5 200.7,1466.5 200.7,1465.0 202.1,1465.0 202.1,1468.7 203.6,1468.7 203.6,1472.3 205.0,1472.3 205.0,1463.4 206.4,1463.4 206.4,1463.4 207.8,1463.4 207.8,1468.3 209.2,1468.3 209.2,1460.8 210.6,1460.8 210.6,1467.8 211.9,1467.8 211.9,1465.9 213.3,1465.9 213.3,1465.2 214.7,1465.2 214.7,1469.4 216.1,1469.4 216.1,1467.1 217.5,1467.1 217.5,1468.3 218.9,1468.3 218.9,1466.5 220.3,1466.5 220.3,1469.0 221.7,1469.0 221.7,1462.3 223.1,1462.3 223.1,1467.1 224.4,1467.1 224.4,1469.3 225.8,1469.3 225.8,1467.0 227.2,1467.0 227.2,1465.6 228.6,1465.6 228.6,1470.4 230.0,1470.4 230.0,1466.3 231.4,1466.3 231.4,1468.5 232.9,1468.5 232.9,1469.4 234.3,1469.4 234.3,1467.1 235.7,1467.1 235.7,1470.6 237.1,1470.6 237.1,1466.2 238.6,1466.2 238.6,1466.0 240.0,1466.0 240.0,1467.8 241.4,1467.8 241.4,1473.3 242.9,1473.3 242.9,1468.7 244.3,1468.7 244.3,1469.7 245.7,1469.7 245.7,1469.9 247.1,1469.9 247.1,1471.2 248.6,1471.2 248.6,1474.1 250.0,1474.1 250.0,1469.4 251.4,1469.4 251.4,1474.0 252.9,1474.0 252.9,1473.3 254.3,1473.3 254.3,1476.4 255.7,1476.4 255.7,1477.7 257.1,1477.7 257.1,1473.2 258.6,1473.2 258.6,1478.4 260.0,1478.4 260.0,1476.8 261.4,1476.8 261.4,1474.1 262.9,1474.1 262.9,1468.0 264.3,1468.0 264.3,1475.9 265.7,1475.9 265.7,1476.6 267.1,1476.6 267.1,1475.3 268.6,1475.3 268.6,1475.7 270.0,1475.7 270.0,1476.1 271.4,1476.1 271.4,1480.0 272.9,1480.0 272.9,1478.3 274.3,1478.3 274.3,1476.3 275.7,1476.3 275.7,1471.3 277.1,1471.3 277.1,1472.1 278.6,1472.1 278.6,1477.0 280.0,1477.0 280.0,1472.3 281.4,1472.3 281.4,1474.6 282.9,1474.6 282.9,1477.0 284.3,1477.0 284.3,1477.4 285.7,1477.4 285.7,1477.5 287.1,1477.5 287.1,1475.7 288.6,1475.7 288.6,1473.6 290.0,1473.6 290.0,1471.2 291.4,1471.2 291.4,1474.8 292.9,1474.8 292.9,1465.4 294.3,1465.4 294.3,1475.5 295.7,1475.5 295.7,1474.5 297.1,1474.5 297.1,1473.8 298.6,1473.8 298.6,1465.6 300.0,1465.6 300.0,1468.0 301.4,1468.0 301.4,1467.5 302.9,1467.5 302.9,1470.0 304.3,1470.0 304.3,1467.6 305.7,1467.6 305.7,1468.6 307.1,1468.6 307.1,1472.3 308.6,1472.3 308.6,1473.0 310.0,1473.0 310.0,1468.7 311.4,1468.7 311.4,1466.4 312.9,1466.4 312.9,1471.7 314.3,1471.7 314.3,1466.2 315.7,1466.2 315.7,1466.2 317.1,1466.2 317.1,1465.5 318.6,1465.5 318.6,1470.9 320.0,1470.9 320.0,1468.0 321.4,1468.0 321.4,1468.5 322.9,1468.5 322.9,1466.4 324.3,1466.4 324.3,1462.8 325.7,1462.8 325.7,1465.1 327.1,1465.1 327.1,1467.2 328.6,1467.2 328.6,1467.0 330.0,1467.0 330.0,1466.6 331.4,1466.6 331.4,1462.2 332.9,1462.2 332.9,1464.2 334.3,1464.2 334.3,1466.0 335.7,1466.0 335.7,1464.1 337.1,1464.1 337.1,1462.3 338.6,1462.3 338.6,1466.4 340.0,1466.4 340.0,1460.8 341.4,1460.8 341.4,1461.7 342.9,1461.7 342.9,1462.2 344.3,1462.2 344.3,1465.5 345.7,1465.5 345.7,1460.3 347.1,1460.3 347.1,1460.9 348.6,1460.9 348.6,1460.7 350.0,1460.7 350.0,1465.2 351.4,1465.2 351.4,1461.5 352.9,1461.5 352.9,1463.0 354.3,1463.0 354.3,1464.3 355.7,1464.3 355.7,1469.6 357.1,1469.6 357.1,1469.7 358.6,1469.7 358.6,1471.1 360.0,1471.1 360.0,1473.0 361.4,1473.0 361.4,1472.0 362.8,1472.0 362.8,1475.6 364.2,1475.6 364.2,1475.2 365.6,1475.2 365.6,1470.2 367.0,1470.2 367.0,1470.7 368.4,1470.7 368.4,1473.6 369.8,1473.6 369.8,1468.9 371.2,1468.9 371.2,1469.7 372.6,1469.7 372.6,1470.3 374.0,1470.3 374.0,1465.4 375.4,1465.4 375.4,1470.9 376.8,1470.9 376.8,1466.2 378.2,1466.2 378.2,1465.5 379.6,1465.5 379.6,1471.5 381.0,1471.5 381.0,1465.1 382.4,1465.1 382.4,1466.9 383.8,1466.9 383.8,1476.9 385.2,1476.9 385.2,1470.7 386.6,1470.7 386.6,1471.6 388.0,1471.6 388.0,1467.1 389.4,1467.1 389.4,1469.3 390.8,1469.3 390.8,1471.1 392.2,1471.1 392.2,1467.6 393.6,1467.6 393.6,1467.7 395.0,1467.7 395.0,1469.6 396.4,1469.6 396.4,1469.4 397.9,1469.4 397.9,1474.4 399.3,1474.4 399.3,1477.2 400.7,1477.2 400.7,1479.6 402.1,1479.6 402.1,1481.6 403.6,1481.6 403.6,1476.9 405.0,1476.9 405.0,1479.6 406.5,1479.6 406.5,1488.1 408.0,1488.1 408.0,1490.0 409.5,1490.0 409.5,1488.2 411.0,1488.2 411.0,1491.9 412.5,1491.9 412.5,1492.9 414.0,1492.9 414.0,1500.9 415.4,1500.9 415.4,1498.0 416.8,1498.0 416.8,1497.7 418.1,1497.7 418.1,1497.2 419.5,1497.2 419.5,1503.3 420.9,1503.3 420.9,1503.3 422.2,1503.3 422.2,1504.8 423.6,1504.8 423.6,1505.9 425.0,1505.9 425.0,1507.6 426.4,1507.6 426.4,1508.5 427.8,1508.5 427.8,1508.5 429.2,1508.5 429.2,1508.9 430.6,1508.9 430.6,1506.4 432.0,1506.4 432.0,1508.0 433.5,1508.0 433.5,1510.6 435.0,1510.6 435.0,1509.5 436.5,1509.5 436.5,1508.3 438.0,1508.3 438.0,1506.7 439.5,1506.7 439.5,1510.6 441.0,1510.6 441.0,1508.1 442.5,1508.1 442.5,1506.9 444.0,1506.9 444.0,1502.7 445.5,1502.7 445.5,1502.1 447.0,1502.1 447.0,1493.4 448.5,1493.4 448.5,1493.6 450.0,1493.6 450.0,1494.9 451.4,1494.9 451.4,1494.5 452.8,1494.5 452.8,1494.4 454.2,1494.4 454.2,1496.5 455.6,1496.5 455.6,1504.1 456.9,1504.1 456.9,1498.3 458.3,1498.3 458.3,1492.7 459.7,1492.7 459.7,1494.6 461.1,1494.6 461.1,1491.9 462.5,1491.9 462.5,1490.5 463.9,1490.5 463.9,1499.6 465.3,1499.6 465.3,1499.4 466.7,1499.4 466.7,1493.9 468.1,1493.9 468.1,1494.0 469.4,1494.0 469.4,1496.0 470.8,1496.0 470.8,1495.5 472.2,1495.5 472.2,1487.4 473.6,1487.4 473.6,1506.3 475.0,1506.3 475.0,1495.5 476.4,1495.5 476.4,1495.9 477.8,1495.9 477.8,1498.3 479.2,1498.3 479.2,1494.9 480.6,1494.9 480.6,1495.0 481.9,1495.0 481.9,1499.4 483.3,1499.4 483.3,1499.0 484.7,1499.0 484.7,1494.1 486.1,1494.1 486.1,1498.7 487.5,1498.7 487.5,1497.0 488.9,1497.0 488.9,1498.7 490.3,1498.7 490.3,1497.2 491.7,1497.2 491.7,1506.1 493.1,1506.1 493.1,1509.7 494.4,1509.7 494.4,1506.2 495.8,1506.2 495.8,1496.1 497.2,1496.1 497.2,1500.3 498.6,1500.3 498.6,1499.2 500.0,1499.2 500.0,1501.5 501.4,1501.5 501.4,1498.2 502.8,1498.2 502.8,1502.3 504.2,1502.3 504.2,1501.1 505.6,1501.1 505.6,1500.8 506.9,1500.8 506.9,1494.8 508.3,1494.8 508.3,1491.4 509.7,1491.4 509.7,1496.2 511.1,1496.2 511.1,1498.9 512.5,1498.9 512.5,1501.0 513.9,1501.0 513.9,1491.8 515.3,1491.8 515.3,1491.2 516.7,1491.2 516.7,1485.8 518.1,1485.8 518.1,1483.0 519.4,1483.0 519.4,1486.2 520.8,1486.2 520.8,1491.3 522.2,1491.3 522.2,1476.0 523.6,1476.0 523.6,1474.2 525.0,1474.2 525.0,1475.4 526.4,1475.4 526.4,1481.5 527.8,1481.5 527.8,1481.8 529.2,1481.8 529.2,1486.1 530.6,1486.1 530.6,1485.9 532.0,1485.9 532.0,1478.6 533.4,1478.6 533.4,1482.4 534.8,1482.4 534.8,1486.8 536.2,1486.8 536.2,1480.4 537.6,1480.4 537.6,1487.5 539.0,1487.5 539.0,1481.9 540.4,1481.9 540.4,1481.3 541.8,1481.3 541.8,1490.5 543.2,1490.5 543.2,1478.4 544.6,1478.4 544.6,1482.4 546.0,1482.4 546.0,1478.7 547.4,1478.7 547.4,1475.3 548.8,1475.3 548.8,1482.8 550.2,1482.8 550.2,1476.3 551.6,1476.3 551.6,1475.0 553.0,1475.0 553.0,1478.7 554.4,1478.7 554.4,1481.5 555.8,1481.5 555.8,1478.5 557.2,1478.5 557.2,1473.8 558.6,1473.8 558.6,1478.0 560.0,1478.0 560.0,1475.3 561.4,1475.3 561.4,1482.8 562.7,1482.8 562.7,1486.8 564.1,1486.8 564.1,1492.0 565.5,1492.0 565.5,1494.6 566.8,1494.6 566.8,1485.1 568.2,1485.1 568.2,1486.2 569.5,1486.2 569.5,1486.3 570.9,1486.3 570.9,1489.3 572.3,1489.3 572.3,1492.5 573.6,1492.5 573.6,1489.3 575.0,1489.3 575.0,1501.4 576.4,1501.4 576.4,1488.7 577.9,1488.7 577.9,1495.3 579.3,1495.3 579.3,1496.2 580.7,1496.2 580.7,1494.4 582.1,1494.4 582.1,1508.1 583.6,1508.1 583.6,1499.1 585.0,1499.1 585.0,1501.4 586.4,1501.4 586.4,1509.9 587.9,1509.9 587.9,1511.9 589.3,1511.9 589.3,1514.6 590.7,1514.6 590.7,1518.0 592.1,1518.0 592.1,1513.1 593.6,1513.1 593.6,1518.7 595.0,1518.7 595.0,1527.3 596.4,1527.3 596.4,1522.6 597.8,1522.6 597.8,1519.7 599.2,1519.7 599.2,1519.1 600.6,1519.1 600.6,1517.4 602.0,1517.4 602.0,1521.0 603.2,1521.0 603.2,1510.8 604.5,1510.8 604.5,1504.3 605.8,1504.3 605.8,1506.8 607.0,1506.8 607.0,1497.3 608.4,1497.3 608.4,1504.9 609.9,1504.9 609.9,1496.3 611.3,1496.3 611.3,1495.4 612.8,1495.4 612.8,1500.3 614.2,1500.3 614.2,1494.1 615.6,1494.1 615.6,1497.3 617.1,1497.3 617.1,1493.2 618.5,1493.2 618.5,1495.1 619.9,1495.1 619.9,1498.9 621.4,1498.9 621.4,1489.4 622.8,1489.4 622.8,1496.2 624.2,1496.2 624.2,1499.6 625.7,1499.6 625.7,1494.4 627.1,1494.4 627.1,1495.6 628.6,1495.6 628.6,1489.8 630.0,1489.8 630.0,1498.7 631.4,1498.7 631.4,1498.9 632.9,1498.9 632.9,1500.4 634.3,1500.4 634.3,1495.0 635.7,1495.0 635.7,1499.2 637.1,1499.2 637.1,1491.6 638.6,1491.6 638.6,1492.8 640.0,1492.8 640.0,1491.9 641.4,1491.9 641.4,1492.0 642.9,1492.0 642.9,1489.2 644.3,1489.2 644.3,1499.0 645.7,1499.0 645.7,1500.5 647.1,1500.5 647.1,1497.5 648.6,1497.5 648.6,1498.3 650.0,1498.3 650.0,1500.1 651.4,1500.1 651.4,1499.6 652.9,1499.6 652.9,1496.8 654.3,1496.8 654.3,1499.1 655.7,1499.1 655.7,1495.2 657.1,1495.2 657.1,1502.4 658.6,1502.4 658.6,1500.9 660.0,1500.9 660.0,1498.9 661.4,1498.9 661.4,1495.5 662.9,1495.5 662.9,1505.7 664.3,1505.7 664.3,1497.1 665.7,1497.1 665.7,1498.9 667.1,1498.9 667.1,1494.9 668.6,1494.9 668.6,1503.5 670.0,1503.5 670.0,1495.1 671.4,1495.1 671.4,1502.6 672.9,1502.6 672.9,1497.7 674.3,1497.7 674.3,1496.7 675.7,1496.7 675.7,1486.4 677.1,1486.4 677.1,1480.2 678.6,1480.2 678.6,1484.8 680.0,1484.8 680.0,1488.0 681.4,1488.0 681.4,1497.4 682.9,1497.4 682.9,1485.3 684.3,1485.3 684.3,1503.1 685.7,1503.1 685.7,1508.6 687.1,1508.6 687.1,1516.2 688.6,1516.2 688.6,1514.3 690.0,1514.3 690.0,1528.2 691.2,1528.2 691.2,1508.9 692.5,1508.9 692.5,1500.3 693.8,1500.3 693.8,1492.5 695.0,1492.5 695.0,1493.8 696.2,1493.8 696.2,1503.5 697.5,1503.5 697.5,1502.4 698.8,1502.4 698.8,1507.9 700.0,1507.9 700.0,1513.7 701.4,1513.7 701.4,1507.9 702.7,1507.9 702.7,1500.1 704.1,1500.1 704.1,1506.7 705.5,1506.7 705.5,1504.9 706.8,1504.9 706.8,1494.0 708.2,1494.0 708.2,1494.0 709.5,1494.0 709.5,1492.3 710.9,1492.3 710.9,1491.1 712.3,1491.1 712.3,1481.7 713.6,1481.7 713.6,1486.0 715.0,1486.0 715.0,1485.0 716.4,1485.0 716.4,1475.9 717.9,1475.9 717.9,1476.7 719.3,1476.7 719.3,1480.5 720.7,1480.5 720.7,1483.1 722.1,1483.1 722.1,1468.0 723.6,1468.0 723.6,1466.4 725.0,1466.4 725.0,1482.2 726.4,1482.2 726.4,1474.9 727.9,1474.9 727.9,1480.3 729.3,1480.3 729.3,1475.4 730.7,1475.4 730.7,1481.0 732.1,1481.0 732.1,1487.5 733.6,1487.5 733.6,1490.2 735.0,1490.2 735.0,1491.6 736.5,1491.6 736.5,1499.3 738.0,1499.3 738.0,1505.0 739.5,1505.0 739.5,1503.6 741.0,1503.6 741.0,1508.2 742.3,1508.2 742.3,1517.4 743.7,1517.4 743.7,1515.5 745.0,1515.5 745.0,1529.1" fill="none" stroke="#4fc05a" stroke-width="2.5" stroke-linejoin="round" stroke-linecap="round"/>
<rect x="102.5" y="1482.0" width="9" height="9" fill="#3b7f49"/>
<rect x="128.5" y="1479.0" width="9" height="9" fill="#3b7f49"/>
<rect x="155.5" y="1519.0" width="9" height="9" fill="#3b7f49"/>
<rect x="183.5" y="1464.0" width="9" height="9" fill="#3b7f49"/>
<rect x="209.5" y="1424.0" width="9" height="9" fill="#3b7f49"/>
<rect x="236.5" y="1433.0" width="9" height="9" fill="#3b7f49"/>
<rect x="263.5" y="1468.0" width="9" height="9" fill="#3b7f49"/>
<rect x="290.5" y="1369.5" width="9" height="9" fill="#3b7f49"/>
<rect x="317.5" y="1449.0" width="9" height="9" fill="#3b7f49"/>
<rect x="344.5" y="1404.5" width="9" height="9" fill="#3b7f49"/>
<rect x="371.5" y="1362.0" width="9" height="9" fill="#3b7f49"/>
<rect x="398.5" y="1328.0" width="9" height="9" fill="#3b7f49"/>
<rect x="425.5" y="1475.5" width="9" height="9" fill="#3b7f49"/>
<rect x="452.0" y="1544.5" width="9" height="9" fill="#3b7f49"/>
<rect x="479.5" y="1586.5" width="9" height="9" fill="#3b7f49"/>
<rect x="506.5" y="1586.5" width="9" height="9" fill="#3b7f49"/>
<rect x="533.0" y="1552.0" width="9" height="9" fill="#3b7f49"/>
<rect x="560.5" y="1531.5" width="9" height="9" fill="#3b7f49"/>
<rect x="588.0" y="1594.5" width="9" height="9" fill="#3b7f49"/>
<rect x="614.5" y="1554.0" width="9" height="9" fill="#3b7f49"/>
<rect x="641.5" y="1514.0" width="9" height="9" fill="#3b7f49"/>
<rect x="668.0" y="1579.0" width="9" height="9" fill="#3b7f49"/>
<rect x="694.5" y="1593.0" width="9" height="9" fill="#3b7f49"/>
<rect x="722.0" y="1564.5" width="9" height="9" fill="#3b7f49"/>
<line x1="82.4" y1="1214" x2="82.4" y2="1324" stroke="#000" stroke-width="4" stroke-linecap="butt"/>
<line x1="74.9" y1="1215" x2="82.4" y2="1215" stroke="#000" stroke-width="2.8" stroke-linecap="butt"/>
<line x1="74.9" y1="1233.5" x2="82.4" y2="1233.5" stroke="#000" stroke-width="2.8" stroke-linecap="butt"/>
<line x1="74.9" y1="1251.3" x2="82.4" y2="1251.3" stroke="#000" stroke-width="2.8" stroke-linecap="butt"/>
<line x1="74.9" y1="1269" x2="82.4" y2="1269" stroke="#000" stroke-width="2.8" stroke-linecap="butt"/>
<line x1="74.9" y1="1287.5" x2="82.4" y2="1287.5" stroke="#000" stroke-width="2.8" stroke-linecap="butt"/>
<line x1="74.9" y1="1305.8" x2="82.4" y2="1305.8" stroke="#000" stroke-width="2.8" stroke-linecap="butt"/>
<line x1="74.9" y1="1322.5" x2="82.4" y2="1322.5" stroke="#000" stroke-width="2.8" stroke-linecap="butt"/>
<line x1="77.4" y1="1224.25" x2="82.4" y2="1224.25" stroke="#000" stroke-width="2.2" stroke-linecap="butt"/>
<line x1="77.4" y1="1242.4" x2="82.4" y2="1242.4" stroke="#000" stroke-width="2.2" stroke-linecap="butt"/>
<line x1="77.4" y1="1260.15" x2="82.4" y2="1260.15" stroke="#000" stroke-width="2.2" stroke-linecap="butt"/>
<line x1="77.4" y1="1278.25" x2="82.4" y2="1278.25" stroke="#000" stroke-width="2.2" stroke-linecap="butt"/>
<line x1="77.4" y1="1296.65" x2="82.4" y2="1296.65" stroke="#000" stroke-width="2.2" stroke-linecap="butt"/>
<line x1="77.4" y1="1314.15" x2="82.4" y2="1314.15" stroke="#000" stroke-width="2.2" stroke-linecap="butt"/>
<text x="74.4" y="1219.4" font-size="12.4" fill="#000" font-weight="bold" text-anchor="end" textLength="34.5" lengthAdjust="spacingAndGlyphs" stroke="#000" stroke-width="0.27">12000</text>
<text x="74.4" y="1237.9" font-size="12.4" fill="#000" font-weight="bold" text-anchor="end" textLength="34.5" lengthAdjust="spacingAndGlyphs" stroke="#000" stroke-width="0.27">10000</text>
<text x="74.4" y="1255.7" font-size="12.4" fill="#000" font-weight="bold" text-anchor="end" textLength="27.6" lengthAdjust="spacingAndGlyphs" stroke="#000" stroke-width="0.27">8000</text>
<text x="74.4" y="1273.4" font-size="12.4" fill="#000" font-weight="bold" text-anchor="end" textLength="27.6" lengthAdjust="spacingAndGlyphs" stroke="#000" stroke-width="0.27">6000</text>
<text x="74.4" y="1291.9" font-size="12.4" fill="#000" font-weight="bold" text-anchor="end" textLength="27.6" lengthAdjust="spacingAndGlyphs" stroke="#000" stroke-width="0.27">4000</text>
<text x="74.4" y="1310.2" font-size="12.4" fill="#000" font-weight="bold" text-anchor="end" textLength="27.6" lengthAdjust="spacingAndGlyphs" stroke="#000" stroke-width="0.27">2000</text>
<text x="74.4" y="1326.9" font-size="12.4" fill="#000" font-weight="bold" text-anchor="end" textLength="6.9" lengthAdjust="spacingAndGlyphs" stroke="#000" stroke-width="0.27">0</text>
<line x1="82.8" y1="1326" x2="82.8" y2="1434" stroke="#000" stroke-width="4" stroke-linecap="butt"/>
<line x1="75.3" y1="1327.5" x2="82.8" y2="1327.5" stroke="#000" stroke-width="2.8" stroke-linecap="butt"/>
<line x1="75.3" y1="1362.7" x2="82.8" y2="1362.7" stroke="#000" stroke-width="2.8" stroke-linecap="butt"/>
<line x1="75.3" y1="1397.5" x2="82.8" y2="1397.5" stroke="#000" stroke-width="2.8" stroke-linecap="butt"/>
<line x1="75.3" y1="1432.5" x2="82.8" y2="1432.5" stroke="#000" stroke-width="2.8" stroke-linecap="butt"/>
<line x1="77.8" y1="1345.1" x2="82.8" y2="1345.1" stroke="#000" stroke-width="2.2" stroke-linecap="butt"/>
<line x1="77.8" y1="1380.1" x2="82.8" y2="1380.1" stroke="#000" stroke-width="2.2" stroke-linecap="butt"/>
<line x1="77.8" y1="1415.0" x2="82.8" y2="1415.0" stroke="#000" stroke-width="2.2" stroke-linecap="butt"/>
<text x="74.8" y="1331.9" font-size="12.4" fill="#000" font-weight="bold" text-anchor="end" textLength="27.6" lengthAdjust="spacingAndGlyphs" stroke="#000" stroke-width="0.27">1200</text>
<text x="74.8" y="1367.1000000000001" font-size="12.4" fill="#000" font-weight="bold" text-anchor="end" textLength="27.6" lengthAdjust="spacingAndGlyphs" stroke="#000" stroke-width="0.27">1000</text>
<text x="74.8" y="1401.9" font-size="12.4" fill="#000" font-weight="bold" text-anchor="end" textLength="20.7" lengthAdjust="spacingAndGlyphs" stroke="#000" stroke-width="0.27">800</text>
<text x="74.8" y="1436.9" font-size="12.4" fill="#000" font-weight="bold" text-anchor="end" textLength="20.7" lengthAdjust="spacingAndGlyphs" stroke="#000" stroke-width="0.27">600</text>
<line x1="84.9" y1="1440" x2="84.9" y2="1545" stroke="#000" stroke-width="4" stroke-linecap="butt"/>
<line x1="77.4" y1="1456" x2="84.9" y2="1456" stroke="#000" stroke-width="2.8" stroke-linecap="butt"/>
<line x1="77.4" y1="1485" x2="84.9" y2="1485" stroke="#000" stroke-width="2.8" stroke-linecap="butt"/>
<line x1="77.4" y1="1514.5" x2="84.9" y2="1514.5" stroke="#000" stroke-width="2.8" stroke-linecap="butt"/>
<line x1="77.4" y1="1543.5" x2="84.9" y2="1543.5" stroke="#000" stroke-width="2.8" stroke-linecap="butt"/>
<line x1="79.9" y1="1441.5" x2="84.9" y2="1441.5" stroke="#000" stroke-width="2.2" stroke-linecap="butt"/>
<line x1="79.9" y1="1470.5" x2="84.9" y2="1470.5" stroke="#000" stroke-width="2.2" stroke-linecap="butt"/>
<line x1="79.9" y1="1499.75" x2="84.9" y2="1499.75" stroke="#000" stroke-width="2.2" stroke-linecap="butt"/>
<line x1="79.9" y1="1529.0" x2="84.9" y2="1529.0" stroke="#000" stroke-width="2.2" stroke-linecap="butt"/>
<text x="76.9" y="1460.4" font-size="12.4" fill="#000" font-weight="bold" text-anchor="end" textLength="20.7" lengthAdjust="spacingAndGlyphs" stroke="#000" stroke-width="0.27">150</text>
<text x="76.9" y="1489.4" font-size="12.4" fill="#000" font-weight="bold" text-anchor="end" textLength="20.7" lengthAdjust="spacingAndGlyphs" stroke="#000" stroke-width="0.27">100</text>
<text x="76.9" y="1518.9" font-size="12.4" fill="#000" font-weight="bold" text-anchor="end" textLength="13.8" lengthAdjust="spacingAndGlyphs" stroke="#000" stroke-width="0.27">50</text>
<text x="76.9" y="1547.9" font-size="12.4" fill="#000" font-weight="bold" text-anchor="end" textLength="6.9" lengthAdjust="spacingAndGlyphs" stroke="#000" stroke-width="0.27">0</text>
<line x1="86.1" y1="1551" x2="86.1" y2="1664" stroke="#000" stroke-width="4" stroke-linecap="butt"/>
<line x1="78.6" y1="1559.8" x2="86.1" y2="1559.8" stroke="#000" stroke-width="2.8" stroke-linecap="butt"/>
<line x1="78.6" y1="1585" x2="86.1" y2="1585" stroke="#000" stroke-width="2.8" stroke-linecap="butt"/>
<line x1="78.6" y1="1611" x2="86.1" y2="1611" stroke="#000" stroke-width="2.8" stroke-linecap="butt"/>
<line x1="78.6" y1="1636.6" x2="86.1" y2="1636.6" stroke="#000" stroke-width="2.8" stroke-linecap="butt"/>
<line x1="78.6" y1="1662.2" x2="86.1" y2="1662.2" stroke="#000" stroke-width="2.8" stroke-linecap="butt"/>
<line x1="81.1" y1="1572.4" x2="86.1" y2="1572.4" stroke="#000" stroke-width="2.2" stroke-linecap="butt"/>
<line x1="81.1" y1="1598.0" x2="86.1" y2="1598.0" stroke="#000" stroke-width="2.2" stroke-linecap="butt"/>
<line x1="81.1" y1="1623.8" x2="86.1" y2="1623.8" stroke="#000" stroke-width="2.2" stroke-linecap="butt"/>
<line x1="81.1" y1="1649.4" x2="86.1" y2="1649.4" stroke="#000" stroke-width="2.2" stroke-linecap="butt"/>
<text x="78.1" y="1564.2" font-size="12.4" fill="#000" font-weight="bold" text-anchor="end" textLength="27.6" lengthAdjust="spacingAndGlyphs" stroke="#000" stroke-width="0.27">1600</text>
<text x="78.1" y="1589.4" font-size="12.4" fill="#000" font-weight="bold" text-anchor="end" textLength="27.6" lengthAdjust="spacingAndGlyphs" stroke="#000" stroke-width="0.27">1200</text>
<text x="78.1" y="1615.4" font-size="12.4" fill="#000" font-weight="bold" text-anchor="end" textLength="20.7" lengthAdjust="spacingAndGlyphs" stroke="#000" stroke-width="0.27">800</text>
<text x="78.1" y="1641.0" font-size="12.4" fill="#000" font-weight="bold" text-anchor="end" textLength="20.7" lengthAdjust="spacingAndGlyphs" stroke="#000" stroke-width="0.27">400</text>
<text x="78.1" y="1666.6000000000001" font-size="12.4" fill="#000" font-weight="bold" text-anchor="end" textLength="6.9" lengthAdjust="spacingAndGlyphs" stroke="#000" stroke-width="0.27">0</text>
<line x1="80.4" y1="1323.5" x2="745.5" y2="1323.5" stroke="#000" stroke-width="3.3" stroke-linecap="butt"/>
<line x1="86" y1="1323.5" x2="86" y2="1330.65" stroke="#000" stroke-width="2.8" stroke-linecap="butt"/>
<line x1="219" y1="1323.5" x2="219" y2="1330.65" stroke="#000" stroke-width="2.8" stroke-linecap="butt"/>
<line x1="354" y1="1323.5" x2="354" y2="1330.65" stroke="#000" stroke-width="2.8" stroke-linecap="butt"/>
<line x1="489" y1="1323.5" x2="489" y2="1330.65" stroke="#000" stroke-width="2.8" stroke-linecap="butt"/>
<line x1="624" y1="1323.5" x2="624" y2="1330.65" stroke="#000" stroke-width="2.8" stroke-linecap="butt"/>
<line x1="152.5" y1="1323.5" x2="152.5" y2="1328.65" stroke="#000" stroke-width="2.2" stroke-linecap="butt"/>
<line x1="286.5" y1="1323.5" x2="286.5" y2="1328.65" stroke="#000" stroke-width="2.2" stroke-linecap="butt"/>
<line x1="421.5" y1="1323.5" x2="421.5" y2="1328.65" stroke="#000" stroke-width="2.2" stroke-linecap="butt"/>
<line x1="556.5" y1="1323.5" x2="556.5" y2="1328.65" stroke="#000" stroke-width="2.2" stroke-linecap="butt"/>
<text x="86" y="1340.0" font-size="11" fill="#000" font-weight="bold" text-anchor="middle" textLength="18.3" lengthAdjust="spacingAndGlyphs" stroke="#000" stroke-width="0.24">115</text>
<text x="219" y="1340.0" font-size="11" fill="#000" font-weight="bold" text-anchor="middle" textLength="18.3" lengthAdjust="spacingAndGlyphs" stroke="#000" stroke-width="0.24">120</text>
<text x="354" y="1340.0" font-size="11" fill="#000" font-weight="bold" text-anchor="middle" textLength="18.3" lengthAdjust="spacingAndGlyphs" stroke="#000" stroke-width="0.24">125</text>
<text x="489" y="1340.0" font-size="11" fill="#000" font-weight="bold" text-anchor="middle" textLength="18.3" lengthAdjust="spacingAndGlyphs" stroke="#000" stroke-width="0.24">130</text>
<text x="624" y="1340.0" font-size="11" fill="#000" font-weight="bold" text-anchor="middle" textLength="18.3" lengthAdjust="spacingAndGlyphs" stroke="#000" stroke-width="0.24">135</text>
<line x1="80.4" y1="1436" x2="745.5" y2="1436" stroke="#000" stroke-width="3.3" stroke-linecap="butt"/>
<line x1="86" y1="1436" x2="86" y2="1443.15" stroke="#000" stroke-width="2.8" stroke-linecap="butt"/>
<line x1="219" y1="1436" x2="219" y2="1443.15" stroke="#000" stroke-width="2.8" stroke-linecap="butt"/>
<line x1="354" y1="1436" x2="354" y2="1443.15" stroke="#000" stroke-width="2.8" stroke-linecap="butt"/>
<line x1="489" y1="1436" x2="489" y2="1443.15" stroke="#000" stroke-width="2.8" stroke-linecap="butt"/>
<line x1="624" y1="1436" x2="624" y2="1443.15" stroke="#000" stroke-width="2.8" stroke-linecap="butt"/>
<line x1="152.5" y1="1436" x2="152.5" y2="1441.15" stroke="#000" stroke-width="2.2" stroke-linecap="butt"/>
<line x1="286.5" y1="1436" x2="286.5" y2="1441.15" stroke="#000" stroke-width="2.2" stroke-linecap="butt"/>
<line x1="421.5" y1="1436" x2="421.5" y2="1441.15" stroke="#000" stroke-width="2.2" stroke-linecap="butt"/>
<line x1="556.5" y1="1436" x2="556.5" y2="1441.15" stroke="#000" stroke-width="2.2" stroke-linecap="butt"/>
<text x="86" y="1452.5" font-size="11" fill="#000" font-weight="bold" text-anchor="middle" textLength="18.3" lengthAdjust="spacingAndGlyphs" stroke="#000" stroke-width="0.24">115</text>
<text x="219" y="1452.5" font-size="11" fill="#000" font-weight="bold" text-anchor="middle" textLength="18.3" lengthAdjust="spacingAndGlyphs" stroke="#000" stroke-width="0.24">120</text>
<text x="354" y="1452.5" font-size="11" fill="#000" font-weight="bold" text-anchor="middle" textLength="18.3" lengthAdjust="spacingAndGlyphs" stroke="#000" stroke-width="0.24">125</text>
<text x="489" y="1452.5" font-size="11" fill="#000" font-weight="bold" text-anchor="middle" textLength="18.3" lengthAdjust="spacingAndGlyphs" stroke="#000" stroke-width="0.24">130</text>
<text x="624" y="1452.5" font-size="11" fill="#000" font-weight="bold" text-anchor="middle" textLength="18.3" lengthAdjust="spacingAndGlyphs" stroke="#000" stroke-width="0.24">135</text>
<path d="M83.0,1318.0h0M84.3,1318.7h0M85.6,1318.1h0M86.9,1319.2h0M88.2,1319.4h0M89.5,1318.3h0M90.8,1319.3h0M92.1,1319.0h0M93.4,1319.5h0M94.7,1318.0h0M96.0,1318.2h0M97.3,1318.3h0M98.6,1318.8h0M99.9,1318.4h0M101.2,1319.4h0M102.5,1318.7h0M103.8,1319.5h0M105.1,1318.3h0M106.4,1318.9h0M107.7,1318.7h0M109.0,1318.7h0M110.2,1319.0h0M111.5,1318.0h0M112.8,1318.1h0M114.1,1318.6h0M115.4,1319.0h0M116.7,1318.8h0M118.0,1319.5h0M119.3,1318.4h0M120.6,1319.4h0M121.9,1319.4h0M123.2,1319.0h0M124.5,1318.9h0M125.8,1318.9h0M127.1,1318.0h0M128.4,1318.6h0M129.7,1318.8h0M131.0,1318.3h0M132.3,1318.9h0M133.6,1319.2h0M134.9,1318.6h0M136.2,1318.5h0M137.5,1319.3h0M138.8,1319.0h0M140.1,1317.9h0M141.4,1319.1h0M142.7,1319.5h0M144.0,1318.4h0M145.3,1319.3h0M146.6,1319.4h0M147.9,1318.3h0M149.2,1318.7h0M150.5,1318.4h0M151.8,1318.9h0M153.1,1319.0h0M154.4,1319.3h0M155.7,1318.1h0M157.0,1318.8h0M158.3,1318.3h0M159.6,1317.9h0M160.9,1319.4h0M162.1,1318.0h0M163.4,1318.7h0M164.7,1319.2h0M166.0,1319.4h0M167.3,1319.4h0M168.6,1319.2h0M169.9,1319.4h0M171.2,1319.4h0M172.5,1318.5h0M173.8,1319.2h0M175.1,1318.8h0M176.4,1319.0h0M177.7,1318.9h0M179.0,1318.5h0M180.3,1319.3h0M181.6,1318.7h0M182.9,1319.2h0M184.2,1318.4h0M185.5,1318.9h0M186.8,1319.5h0M188.1,1319.1h0M189.4,1317.9h0M190.7,1318.8h0M192.0,1319.5h0M193.3,1318.6h0M194.6,1318.3h0M195.9,1318.9h0M197.2,1318.7h0M198.5,1318.8h0M199.8,1318.7h0M201.1,1318.9h0M202.4,1319.0h0M203.7,1319.1h0M205.0,1318.5h0M206.3,1318.3h0M207.6,1317.9h0M208.9,1318.6h0M210.2,1318.7h0M211.5,1318.3h0M212.8,1318.9h0M214.0,1318.3h0M215.3,1318.4h0M216.6,1318.8h0M217.9,1319.4h0M219.2,1318.1h0M220.5,1318.2h0M221.8,1318.4h0M223.1,1319.3h0M224.4,1317.9h0M225.7,1318.4h0M227.0,1318.6h0M228.3,1319.1h0M229.6,1319.5h0M230.9,1318.9h0M232.2,1318.9h0M233.5,1319.3h0M234.8,1318.2h0M236.1,1319.0h0M237.4,1318.0h0M238.7,1317.9h0M240.0,1319.2h0M241.2,1317.8h0M242.5,1319.2h0M243.8,1318.0h0M245.0,1318.6h0M246.2,1317.7h0M247.5,1318.6h0M248.8,1317.6h0M250.0,1317.9h0M251.2,1317.5h0M252.5,1317.3h0M253.8,1318.0h0M255.0,1317.9h0M256.2,1318.0h0M257.5,1318.2h0M258.8,1317.3h0M260.0,1317.5h0M261.2,1316.7h0M262.5,1317.2h0M263.8,1316.7h0M265.0,1318.0h0M266.2,1318.2h0M267.5,1317.7h0M268.8,1319.3h0M270.0,1319.4h0M271.3,1319.3h0M272.6,1319.3h0M273.9,1319.7h0M275.2,1319.7h0M276.5,1319.6h0M277.8,1319.9h0M279.1,1319.7h0M280.4,1319.1h0M281.7,1319.5h0M283.0,1319.4h0M284.3,1318.6h0M285.7,1319.4h0M287.0,1319.7h0M288.3,1319.7h0M289.6,1318.7h0M290.9,1319.9h0M292.2,1318.8h0M293.5,1319.3h0M294.8,1319.3h0M296.1,1320.1h0M297.4,1320.1h0M298.7,1318.8h0M300.0,1319.1h0M301.3,1319.4h0M302.6,1319.0h0M303.9,1319.1h0M305.2,1319.3h0M306.5,1320.1h0M307.8,1318.5h0M309.1,1319.3h0M310.4,1319.8h0M311.7,1319.1h0M313.0,1319.1h0M314.3,1319.8h0M315.7,1319.2h0M317.0,1319.0h0M318.3,1319.9h0M319.6,1320.1h0M320.9,1319.4h0M322.2,1319.0h0M323.5,1319.9h0M324.8,1319.3h0M326.1,1318.9h0M327.4,1319.5h0M328.7,1319.5h0M330.0,1318.5h0M331.3,1319.4h0M332.6,1319.4h0M333.9,1318.9h0M335.2,1319.1h0M336.5,1319.7h0M337.8,1318.6h0M339.1,1319.4h0M340.4,1319.6h0M341.7,1320.0h0M343.0,1320.0h0M344.3,1319.2h0M345.7,1319.9h0M347.0,1318.5h0M348.3,1319.2h0M349.6,1319.8h0M350.9,1319.9h0M352.2,1318.9h0M353.5,1318.7h0M354.8,1319.3h0M356.1,1318.8h0M357.4,1319.1h0M358.7,1319.1h0M360.0,1318.7h0M361.3,1319.4h0M362.6,1318.7h0M363.9,1319.6h0M365.2,1320.0h0M366.5,1318.8h0M367.8,1318.6h0M369.1,1319.1h0M370.4,1320.0h0M371.7,1319.5h0M373.0,1319.3h0M374.3,1319.3h0M375.7,1319.8h0M377.0,1319.1h0M378.3,1320.0h0M379.6,1319.2h0M380.9,1318.8h0M382.2,1319.8h0M383.5,1319.3h0M384.8,1319.4h0M386.1,1318.7h0M387.4,1318.8h0M388.7,1319.6h0M390.0,1318.9h0M391.3,1319.0h0M392.6,1319.9h0M393.9,1319.1h0M395.2,1318.8h0M396.5,1320.0h0M397.8,1319.1h0M399.1,1319.9h0M400.4,1319.3h0M401.7,1319.6h0M403.0,1319.8h0M404.3,1319.7h0M405.7,1318.9h0M407.0,1318.6h0M408.3,1319.7h0M409.6,1319.1h0M410.9,1319.4h0M412.2,1318.7h0M413.5,1319.6h0M414.8,1319.8h0M416.1,1320.1h0M417.4,1319.0h0M418.7,1319.4h0M420.0,1319.8h0M421.3,1319.7h0M422.6,1319.1h0M423.9,1319.1h0M425.2,1319.3h0M426.6,1318.2h0M427.9,1318.7h0M429.2,1318.9h0M430.5,1319.1h0M431.8,1318.0h0M433.1,1318.4h0M434.4,1317.3h0M435.8,1317.4h0M437.1,1317.8h0M438.4,1316.9h0M439.7,1317.2h0M441.0,1316.8h0M442.3,1316.8h0M443.5,1316.4h0M444.8,1316.4h0M446.1,1315.2h0M447.4,1315.7h0M448.6,1314.7h0M449.9,1314.0h0M451.2,1312.9h0M452.5,1313.7h0M453.7,1313.1h0M455.0,1312.0h0M456.3,1311.6h0M457.6,1310.9h0M458.9,1310.9h0M460.2,1311.0h0M461.5,1311.8h0M462.8,1310.8h0M464.1,1310.5h0M465.4,1311.2h0M466.7,1311.1h0M468.0,1309.4h0M469.3,1309.3h0M470.6,1309.9h0M471.9,1310.1h0M473.1,1310.2h0M474.4,1309.9h0M475.7,1308.8h0M477.0,1309.2h0M478.3,1307.9h0M479.6,1308.9h0M480.9,1307.6h0M482.2,1308.2h0M483.5,1308.5h0M484.8,1308.5h0M486.1,1307.4h0M487.4,1307.3h0M488.7,1307.8h0M490.0,1306.7h0M491.3,1307.2h0M492.6,1307.1h0M493.9,1307.2h0M495.2,1307.2h0M496.5,1307.3h0M497.8,1305.8h0M499.1,1306.6h0M500.4,1307.0h0M501.7,1306.2h0M503.0,1306.8h0M504.3,1306.7h0M505.7,1306.1h0M507.0,1306.5h0M508.3,1305.9h0M509.6,1305.2h0M510.9,1305.0h0M512.2,1305.3h0M513.5,1306.0h0M514.8,1305.7h0M516.1,1305.3h0M517.4,1305.9h0M518.7,1304.4h0M520.0,1304.3h0M521.3,1304.4h0M522.7,1303.6h0M524.0,1301.8h0M525.3,1302.2h0M526.7,1301.3h0M528.0,1299.6h0M529.3,1299.5h0M530.7,1297.2h0M532.0,1297.3h0M533.3,1296.0h0M534.6,1295.4h0M535.9,1294.9h0M537.2,1294.5h0M538.5,1293.9h0M539.8,1294.2h0M541.1,1293.7h0M542.4,1293.2h0M543.7,1292.5h0M545.0,1292.2h0M546.2,1291.5h0M547.5,1290.8h0M548.8,1291.3h0M550.0,1290.2h0M551.2,1291.3h0M552.5,1290.2h0M553.8,1289.5h0M555.0,1290.5h0M556.2,1288.0h0M557.5,1286.3h0M558.8,1285.5h0M560.0,1284.0h0M561.2,1283.3h0M562.5,1280.3h0M563.8,1279.8h0M565.0,1278.6h0M566.2,1275.7h0M567.5,1274.6h0M568.8,1273.3h0M570.0,1271.2h0M571.2,1270.3h0M572.5,1268.6h0M573.8,1266.6h0M575.0,1264.5h0M576.2,1263.7h0M577.5,1261.2h0M578.8,1260.4h0M580.0,1259.5h0M581.2,1258.3h0M582.5,1257.7h0M583.8,1256.2h0M585.0,1255.9h0M586.2,1254.7h0M587.5,1254.5h0M588.8,1253.2h0M590.0,1251.6h0M591.2,1251.1h0M592.5,1251.0h0M593.8,1250.9h0M595.0,1249.5h0M596.2,1249.2h0M597.5,1248.4h0M598.8,1247.5h0M600.0,1246.8h0M601.2,1246.4h0M602.5,1246.3h0M603.8,1245.4h0M605.0,1245.1h0M606.3,1244.0h0M607.7,1243.6h0M609.0,1244.6h0M610.3,1243.8h0M611.7,1243.6h0M613.0,1243.5h0M614.3,1243.4h0M615.7,1243.1h0M617.0,1241.6h0M618.3,1241.7h0M619.7,1240.7h0M621.0,1241.3h0M622.3,1240.5h0M623.7,1240.2h0M625.0,1239.9h0M626.3,1240.3h0M627.7,1238.6h0M629.0,1238.5h0M630.3,1238.5h0M631.7,1237.6h0M633.0,1238.2h0M634.3,1236.9h0M635.7,1237.9h0M637.0,1236.6h0M638.3,1236.5h0M639.7,1236.0h0M641.0,1236.0h0M642.3,1235.6h0M643.7,1235.3h0M645.0,1234.8h0M646.3,1234.5h0M647.6,1234.9h0M648.9,1234.2h0M650.2,1233.9h0M651.5,1233.9h0M652.7,1234.5h0M654.0,1234.5h0M655.3,1233.9h0M656.6,1233.6h0M657.9,1234.2h0M659.2,1233.8h0M660.5,1234.1h0M661.8,1234.4h0M663.1,1233.4h0M664.4,1234.2h0M665.6,1233.9h0M666.9,1233.6h0M668.2,1233.6h0M669.5,1232.7h0M670.8,1233.4h0M672.1,1233.6h0M673.4,1232.2h0M674.7,1232.4h0M676.0,1232.7h0M677.3,1231.8h0M678.5,1232.9h0M679.8,1233.0h0M681.1,1232.3h0M682.4,1231.4h0M683.7,1232.2h0M685.0,1232.6h0M686.2,1231.5h0M687.5,1230.6h0M688.8,1229.8h0M690.0,1229.8h0M691.2,1228.2h0M692.5,1227.6h0M693.8,1227.3h0M695.0,1227.0h0M696.2,1226.5h0M697.5,1227.5h0M698.8,1227.3h0M700.0,1228.3h0M701.2,1227.8h0M702.5,1227.8h0M703.8,1228.1h0M705.0,1228.6h0M706.2,1228.7h0M707.5,1228.0h0M708.8,1229.4h0M710.0,1229.0h0M711.3,1229.1h0M712.6,1228.8h0M713.9,1229.4h0M715.2,1228.9h0M716.5,1229.0h0M717.8,1229.0h0M719.1,1228.7h0M720.4,1228.9h0M721.7,1229.1h0M723.0,1229.5h0M724.3,1229.5h0M725.6,1229.8h0M726.9,1229.6h0M728.1,1228.9h0M729.4,1229.8h0M730.7,1229.3h0M732.0,1229.7h0M733.3,1230.5h0M734.6,1230.0h0M735.9,1230.1h0M737.2,1230.5h0M738.5,1230.1h0M739.8,1229.9h0M741.1,1230.5h0M742.4,1230.1h0M743.7,1230.4h0M745.0,1229.8h0" fill="none" stroke="#000" stroke-width="5" stroke-linecap="square"/>
<polyline points="84.0,1422.2 85.5,1422.2 85.5,1419.2 87.0,1419.2 87.0,1414.6 88.5,1414.6 88.5,1419.3 90.0,1419.3 90.0,1424.4 91.5,1424.4 91.5,1416.9 93.0,1416.9 93.0,1410.3 95.0,1410.3 95.0,1413.2 97.0,1413.2 97.0,1419.3 98.5,1419.3 98.5,1415.2 100.0,1415.2 100.0,1412.8 101.7,1412.8 101.7,1410.7 103.3,1410.7 103.3,1410.8 105.0,1410.8 105.0,1412.5 106.7,1412.5 106.7,1411.6 108.3,1411.6 108.3,1411.3 110.0,1411.3 110.0,1412.6 111.7,1412.6 111.7,1410.8 113.3,1410.8 113.3,1406.6 115.0,1406.6 115.0,1404.9 116.5,1404.9 116.5,1398.0 118.0,1398.0 118.0,1389.6 120.0,1389.6 120.0,1384.1 121.7,1384.1 121.7,1385.9 123.3,1385.9 123.3,1387.0 125.0,1387.0 125.0,1388.6 126.7,1388.6 126.7,1385.3 128.3,1385.3 128.3,1385.0 130.0,1385.0 130.0,1383.9 131.7,1383.9 131.7,1383.1 133.3,1383.1 133.3,1384.0 135.0,1384.0 135.0,1385.4 136.5,1385.4 136.5,1384.9 138.0,1384.9 138.0,1386.6 139.5,1386.6 139.5,1392.3 141.0,1392.3 141.0,1398.8 142.5,1398.8 142.5,1398.5 144.0,1398.5 144.0,1397.6 145.5,1397.6 145.5,1397.4 147.0,1397.4 147.0,1397.5 148.5,1397.5 148.5,1396.9 150.0,1396.9 150.0,1396.8 151.7,1396.8 151.7,1398.9 153.3,1398.9 153.3,1395.3 155.0,1395.3 155.0,1399.4 156.7,1399.4 156.7,1398.5 158.3,1398.5 158.3,1396.2 160.0,1396.2 160.0,1397.9 161.5,1397.9 161.5,1389.3 163.0,1389.3 163.0,1379.3 165.0,1379.3 165.0,1373.4 166.5,1373.4 166.5,1376.0 168.0,1376.0 168.0,1377.9 170.0,1377.9 170.0,1378.1 172.0,1378.1 172.0,1391.4 173.6,1391.4 173.6,1388.1 175.2,1388.1 175.2,1389.9 176.8,1389.9 176.8,1389.1 178.4,1389.1 178.4,1389.5 180.0,1389.5 180.0,1386.4 181.5,1386.4 181.5,1381.0 183.0,1381.0 183.0,1374.6 185.0,1374.6 185.0,1374.2 187.0,1374.2 187.0,1373.6 188.7,1373.6 188.7,1371.8 190.3,1371.8 190.3,1375.7 192.0,1375.7 192.0,1379.3 193.5,1379.3 193.5,1382.6 195.0,1382.6 195.0,1385.3 196.7,1385.3 196.7,1385.0 198.3,1385.0 198.3,1384.2 200.0,1384.2 200.0,1384.7 201.5,1384.7 201.5,1381.4 203.0,1381.4 203.0,1378.2 205.0,1378.2 205.0,1370.1 206.8,1370.1 206.8,1371.3 208.5,1371.3 208.5,1370.5 210.2,1370.5 210.2,1370.3 212.0,1370.3 212.0,1370.8 213.5,1370.8 213.5,1370.9 215.0,1370.9 215.0,1364.8 216.5,1364.8 216.5,1360.1 218.0,1360.1 218.0,1350.9 220.0,1350.9 220.0,1347.8 222.0,1347.8 222.0,1347.9 223.6,1347.9 223.6,1346.3 225.2,1346.3 225.2,1344.1 226.8,1344.1 226.8,1344.7 228.4,1344.7 228.4,1341.5 230.0,1341.5 230.0,1341.9 231.7,1341.9 231.7,1341.6 233.3,1341.6 233.3,1341.6 235.0,1341.6 235.0,1343.2 236.7,1343.2 236.7,1342.2 238.3,1342.2 238.3,1341.1 240.0,1341.1 240.0,1342.5 241.7,1342.5 241.7,1339.7 243.3,1339.7 243.3,1341.9 245.0,1341.9 245.0,1340.9 246.7,1340.9 246.7,1340.0 248.3,1340.0 248.3,1341.5 250.0,1341.5 250.0,1341.0 251.7,1341.0 251.7,1341.5 253.3,1341.5 253.3,1340.6 255.0,1340.6 255.0,1340.5 256.7,1340.5 256.7,1343.3 258.3,1343.3 258.3,1341.5 260.0,1341.5 260.0,1342.2 261.7,1342.2 261.7,1341.3 263.3,1341.3 263.3,1342.8 265.0,1342.8 265.0,1343.7 266.7,1343.7 266.7,1340.0 268.3,1340.0 268.3,1343.0 270.0,1343.0 270.0,1344.9 271.6,1344.9 271.6,1345.8 273.2,1345.8 273.2,1344.9 274.8,1344.9 274.8,1345.9 276.4,1345.9 276.4,1344.2 278.0,1344.2 278.0,1343.4 279.6,1343.4 279.6,1344.4 281.2,1344.4 281.2,1346.9 282.8,1346.9 282.8,1341.5 284.4,1341.5 284.4,1344.1 286.0,1344.1 286.0,1344.8 287.6,1344.8 287.6,1344.5 289.2,1344.5 289.2,1344.3 290.8,1344.3 290.8,1344.5 292.4,1344.5 292.4,1343.1 294.0,1343.1 294.0,1345.5 295.6,1345.5 295.6,1343.9 297.2,1343.9 297.2,1349.0 298.8,1349.0 298.8,1344.4 300.4,1344.4 300.4,1344.7 302.0,1344.7 302.0,1344.0 303.6,1344.0 303.6,1344.3 305.2,1344.3 305.2,1345.0 306.8,1345.0 306.8,1346.2 308.4,1346.2 308.4,1345.3 310.0,1345.3 310.0,1347.7 311.6,1347.7 311.6,1344.2 313.2,1344.2 313.2,1344.6 314.8,1344.6 314.8,1344.7 316.4,1344.7 316.4,1344.7 318.0,1344.7 318.0,1344.9 319.6,1344.9 319.6,1346.4 321.2,1346.4 321.2,1347.8 322.8,1347.8 322.8,1345.5 324.4,1345.5 324.4,1347.8 326.0,1347.8 326.0,1345.8 327.6,1345.8 327.6,1346.2 329.2,1346.2 329.2,1348.2 330.8,1348.2 330.8,1346.7 332.4,1346.7 332.4,1345.2 334.0,1345.2 334.0,1348.1 335.6,1348.1 335.6,1346.9 337.2,1346.9 337.2,1348.5 338.8,1348.5 338.8,1347.1 340.4,1347.1 340.4,1346.7 342.0,1346.7 342.0,1348.7 343.6,1348.7 343.6,1346.7 345.2,1346.7 345.2,1347.0 346.8,1347.0 346.8,1345.9 348.4,1345.9 348.4,1347.5 350.0,1347.5 350.0,1346.8 351.6,1346.8 351.6,1347.3 353.2,1347.3 353.2,1347.2 354.8,1347.2 354.8,1348.7 356.4,1348.7 356.4,1348.4 358.0,1348.4 358.0,1349.0 359.6,1349.0 359.6,1347.2 361.2,1347.2 361.2,1348.5 362.9,1348.5 362.9,1344.6 364.5,1344.6 364.5,1347.6 366.1,1347.6 366.1,1349.3 367.7,1349.3 367.7,1347.6 369.3,1347.6 369.3,1348.3 370.9,1348.3 370.9,1348.4 372.5,1348.4 372.5,1347.0 374.1,1347.0 374.1,1350.1 375.7,1350.1 375.7,1349.7 377.3,1349.7 377.3,1348.8 378.9,1348.8 378.9,1349.9 380.5,1349.9 380.5,1348.4 382.1,1348.4 382.1,1348.9 383.8,1348.9 383.8,1349.4 385.4,1349.4 385.4,1348.0 387.0,1348.0 387.0,1347.7 388.6,1347.7 388.6,1349.6 390.2,1349.6 390.2,1347.4 391.8,1347.4 391.8,1348.9 393.4,1348.9 393.4,1346.0 395.0,1346.0 395.0,1347.8 396.7,1347.8 396.7,1348.1 398.3,1348.1 398.3,1350.0 400.0,1350.0 400.0,1351.2 401.7,1351.2 401.7,1353.8 403.3,1353.8 403.3,1361.0 405.0,1361.0 405.0,1360.0 406.5,1360.0 406.5,1360.4 408.0,1360.4 408.0,1363.1 409.5,1363.1 409.5,1364.9 411.0,1364.9 411.0,1363.3 412.5,1363.3 412.5,1365.0 414.0,1365.0 414.0,1364.4 415.6,1364.4 415.6,1364.7 417.1,1364.7 417.1,1363.7 418.7,1363.7 418.7,1364.0 420.3,1364.0 420.3,1363.1 421.9,1363.1 421.9,1361.7 423.4,1361.7 423.4,1361.4 425.0,1361.4 425.0,1363.3 426.6,1363.3 426.6,1360.8 428.2,1360.8 428.2,1361.5 429.8,1361.5 429.8,1362.9 431.4,1362.9 431.4,1364.2 433.0,1364.2 433.0,1364.8 434.6,1364.8 434.6,1365.6 436.2,1365.6 436.2,1364.6 437.8,1364.6 437.8,1364.4 439.4,1364.4 439.4,1368.3 441.0,1368.3 441.0,1367.3 442.6,1367.3 442.6,1367.2 444.2,1367.2 444.2,1367.2 445.9,1367.2 445.9,1366.0 447.5,1366.0 447.5,1365.9 449.1,1365.9 449.1,1367.7 450.7,1367.7 450.7,1368.0 452.3,1368.0 452.3,1367.4 454.0,1367.4 454.0,1367.7 455.6,1367.7 455.6,1367.7 457.2,1367.7 457.2,1365.6 458.8,1365.6 458.8,1367.8 460.4,1367.8 460.4,1366.1 462.0,1366.1 462.0,1365.9 463.7,1365.9 463.7,1365.1 465.3,1365.1 465.3,1365.8 466.9,1365.8 466.9,1366.0 468.5,1366.0 468.5,1366.3 470.1,1366.3 470.1,1364.4 471.8,1364.4 471.8,1366.6 473.4,1366.6 473.4,1368.4 475.0,1368.4 475.0,1365.5 476.6,1365.5 476.6,1365.8 478.2,1365.8 478.2,1363.8 479.8,1363.8 479.8,1364.0 481.5,1364.0 481.5,1362.1 483.1,1362.1 483.1,1362.6 484.7,1362.6 484.7,1364.4 486.3,1364.4 486.3,1364.9 487.9,1364.9 487.9,1366.7 489.5,1366.7 489.5,1361.9 491.1,1361.9 491.1,1362.4 492.7,1362.4 492.7,1362.5 494.4,1362.5 494.4,1362.6 496.0,1362.6 496.0,1363.2 497.6,1363.2 497.6,1362.8 499.2,1362.8 499.2,1361.9 500.8,1361.9 500.8,1362.4 502.4,1362.4 502.4,1360.2 504.0,1360.2 504.0,1363.2 505.6,1363.2 505.6,1362.4 507.3,1362.4 507.3,1362.4 508.9,1362.4 508.9,1360.8 510.5,1360.8 510.5,1360.6 512.1,1360.6 512.1,1362.4 513.7,1362.4 513.7,1361.0 515.3,1361.0 515.3,1361.6 516.9,1361.6 516.9,1362.6 518.5,1362.6 518.5,1359.5 520.2,1359.5 520.2,1359.2 521.8,1359.2 521.8,1359.4 523.4,1359.4 523.4,1359.2 525.0,1359.2 525.0,1358.8 526.6,1358.8 526.6,1359.8 528.2,1359.8 528.2,1359.8 529.8,1359.8 529.8,1359.3 531.4,1359.3 531.4,1359.8 533.0,1359.8 533.0,1359.4 534.7,1359.4 534.7,1359.4 536.3,1359.4 536.3,1359.5 537.9,1359.5 537.9,1359.4 539.5,1359.4 539.5,1358.3 541.1,1358.3 541.1,1359.9 542.7,1359.9 542.7,1358.8 544.3,1358.8 544.3,1357.8 545.9,1357.8 545.9,1359.0 547.5,1359.0 547.5,1359.1 549.1,1359.1 549.1,1357.5 550.7,1357.5 550.7,1358.3 552.3,1358.3 552.3,1359.8 554.0,1359.8 554.0,1357.9 555.6,1357.9 555.6,1358.8 557.2,1358.8 557.2,1356.5 558.8,1356.5 558.8,1355.5 560.4,1355.5 560.4,1356.4 562.0,1356.4 562.0,1359.9 563.5,1359.9 563.5,1366.3 565.0,1366.3 565.0,1370.6 566.7,1370.6 566.7,1372.2 568.3,1372.2 568.3,1370.1 570.0,1370.1 570.0,1371.3 571.7,1371.3 571.7,1368.2 573.3,1368.2 573.3,1367.0 575.0,1367.0 575.0,1365.6 576.7,1365.6 576.7,1366.9 578.3,1366.9 578.3,1369.2 580.0,1369.2 580.0,1367.2 581.7,1367.2 581.7,1369.1 583.3,1369.1 583.3,1371.2 585.0,1371.2 585.0,1375.3 586.7,1375.3 586.7,1369.0 588.3,1369.0 588.3,1369.3 590.0,1369.3 590.0,1365.5 591.7,1365.5 591.7,1368.9 593.3,1368.9 593.3,1372.3 595.0,1372.3 595.0,1376.3 596.7,1376.3 596.7,1377.7 598.3,1377.7 598.3,1377.3 600.0,1377.3 600.0,1376.1 601.7,1376.1 601.7,1376.7 603.3,1376.7 603.3,1373.4 605.0,1373.4 605.0,1375.0 606.7,1375.0 606.7,1372.3 608.3,1372.3 608.3,1371.8 610.0,1371.8 610.0,1373.0 611.6,1373.0 611.6,1372.3 613.2,1372.3 613.2,1372.1 614.7,1372.1 614.7,1373.2 616.3,1373.2 616.3,1373.6 617.9,1373.6 617.9,1371.3 619.5,1371.3 619.5,1373.3 621.1,1373.3 621.1,1372.8 622.6,1372.8 622.6,1374.0 624.2,1374.0 624.2,1373.8 625.8,1373.8 625.8,1372.9 627.4,1372.9 627.4,1373.7 628.9,1373.7 628.9,1374.0 630.5,1374.0 630.5,1372.0 632.1,1372.0 632.1,1372.6 633.7,1372.6 633.7,1373.3 635.3,1373.3 635.3,1373.7 636.8,1373.7 636.8,1375.4 638.4,1375.4 638.4,1374.5 640.0,1374.5 640.0,1373.9 641.6,1373.9 641.6,1373.4 643.2,1373.4 643.2,1375.8 644.8,1375.8 644.8,1375.1 646.4,1375.1 646.4,1374.5 648.0,1374.5 648.0,1373.3 649.5,1373.3 649.5,1375.4 651.1,1375.4 651.1,1374.3 652.7,1374.3 652.7,1374.4 654.3,1374.4 654.3,1378.0 655.9,1378.0 655.9,1376.1 657.5,1376.1 657.5,1375.9 659.1,1375.9 659.1,1374.7 660.7,1374.7 660.7,1374.8 662.3,1374.8 662.3,1374.9 663.9,1374.9 663.9,1377.7 665.5,1377.7 665.5,1377.4 667.0,1377.4 667.0,1374.2 668.6,1374.2 668.6,1376.0 670.2,1376.0 670.2,1377.9 671.8,1377.9 671.8,1377.2 673.4,1377.2 673.4,1378.3 675.0,1378.3 675.0,1376.4 676.7,1376.4 676.7,1377.8 678.3,1377.8 678.3,1378.9 680.0,1378.9 680.0,1380.3 681.7,1380.3 681.7,1380.5 683.3,1380.5 683.3,1378.2 685.0,1378.2 685.0,1380.6 686.5,1380.6 686.5,1387.1 688.0,1387.1 688.0,1393.8 689.5,1393.8 689.5,1395.4 691.1,1395.4 691.1,1394.6 692.6,1394.6 692.6,1395.3 694.2,1395.3 694.2,1396.1 695.7,1396.1 695.7,1394.3 697.3,1394.3 697.3,1397.1 698.8,1397.1 698.8,1396.5 700.4,1396.5 700.4,1396.2 701.9,1396.2 701.9,1396.7 703.5,1396.7 703.5,1395.9 705.0,1395.9 705.0,1398.3 706.7,1398.3 706.7,1397.2 708.3,1397.2 708.3,1397.9 710.0,1397.9 710.0,1397.9 711.7,1397.9 711.7,1395.8 713.3,1395.8 713.3,1395.6 715.0,1395.6 715.0,1394.5 716.7,1394.5 716.7,1397.6 718.3,1397.6 718.3,1396.4 720.0,1396.4 720.0,1397.4 721.7,1397.4 721.7,1394.8 723.3,1394.8 723.3,1396.3 725.0,1396.3 725.0,1394.0 726.8,1394.0 726.8,1393.8 728.5,1393.8 728.5,1392.5 730.2,1392.5 730.2,1392.9 732.0,1392.9 732.0,1390.5 733.6,1390.5 733.6,1390.3 735.2,1390.3 735.2,1391.6 736.8,1391.6 736.8,1392.7 738.4,1392.7 738.4,1391.7 740.0,1391.7 740.0,1394.0 741.7,1394.0 741.7,1395.3 743.3,1395.3 743.3,1394.1 745.0,1394.1 745.0,1398.2" fill="none" stroke="#e6332a" stroke-width="2.9" stroke-linejoin="miter" stroke-linecap="miter"/>
<line x1="84" y1="1663.8" x2="745.5" y2="1663.8" stroke="#000" stroke-width="3.8" stroke-linecap="butt"/>
<line x1="86" y1="1663.8" x2="86" y2="1674.2" stroke="#000" stroke-width="2.8" stroke-linecap="butt"/>
<line x1="219" y1="1663.8" x2="219" y2="1674.2" stroke="#000" stroke-width="2.8" stroke-linecap="butt"/>
<line x1="354" y1="1663.8" x2="354" y2="1674.2" stroke="#000" stroke-width="2.8" stroke-linecap="butt"/>
<line x1="489" y1="1663.8" x2="489" y2="1674.2" stroke="#000" stroke-width="2.8" stroke-linecap="butt"/>
<line x1="624" y1="1663.8" x2="624" y2="1674.2" stroke="#000" stroke-width="2.8" stroke-linecap="butt"/>
<line x1="152.5" y1="1663.8" x2="152.5" y2="1672.2" stroke="#000" stroke-width="2.2" stroke-linecap="butt"/>
<line x1="286.5" y1="1663.8" x2="286.5" y2="1672.2" stroke="#000" stroke-width="2.2" stroke-linecap="butt"/>
<line x1="421.5" y1="1663.8" x2="421.5" y2="1672.2" stroke="#000" stroke-width="2.2" stroke-linecap="butt"/>
<line x1="556.5" y1="1663.8" x2="556.5" y2="1672.2" stroke="#000" stroke-width="2.2" stroke-linecap="butt"/>
<text x="87" y="1685.3" font-size="11.3" fill="#000" font-weight="bold" text-anchor="middle" textLength="18.8" lengthAdjust="spacingAndGlyphs" stroke="#000" stroke-width="0.25">115</text>
<text x="220.5" y="1685.3" font-size="11.3" fill="#000" font-weight="bold" text-anchor="middle" textLength="18.8" lengthAdjust="spacingAndGlyphs" stroke="#000" stroke-width="0.25">120</text>
<text x="355" y="1685.3" font-size="11.3" fill="#000" font-weight="bold" text-anchor="middle" textLength="18.8" lengthAdjust="spacingAndGlyphs" stroke="#000" stroke-width="0.25">125</text>
<text x="491" y="1685.3" font-size="11.3" fill="#000" font-weight="bold" text-anchor="middle" textLength="18.8" lengthAdjust="spacingAndGlyphs" stroke="#000" stroke-width="0.25">130</text>
<text x="624.5" y="1685.3" font-size="11.3" fill="#000" font-weight="bold" text-anchor="middle" textLength="18.8" lengthAdjust="spacingAndGlyphs" stroke="#000" stroke-width="0.25">135</text>
<line x1="745.5" y1="1215" x2="745.5" y2="1666" stroke="#367d48" stroke-width="3.3" stroke-linecap="butt"/>
<line x1="735.5" y1="1255.5" x2="745.5" y2="1255.5" stroke="#367d48" stroke-width="2.6" stroke-linecap="butt"/>
<line x1="735.5" y1="1333" x2="745.5" y2="1333" stroke="#367d48" stroke-width="2.6" stroke-linecap="butt"/>
<line x1="735.5" y1="1411.4" x2="745.5" y2="1411.4" stroke="#367d48" stroke-width="2.6" stroke-linecap="butt"/>
<line x1="735.5" y1="1489" x2="745.5" y2="1489" stroke="#367d48" stroke-width="2.6" stroke-linecap="butt"/>
<line x1="735.5" y1="1566.8" x2="745.5" y2="1566.8" stroke="#367d48" stroke-width="2.6" stroke-linecap="butt"/>
<line x1="735.5" y1="1644" x2="745.5" y2="1644" stroke="#367d48" stroke-width="2.6" stroke-linecap="butt"/>
<line x1="739.5" y1="1215" x2="745.5" y2="1215" stroke="#367d48" stroke-width="2.2" stroke-linecap="butt"/>
<line x1="739.5" y1="1294.25" x2="745.5" y2="1294.25" stroke="#367d48" stroke-width="2.2" stroke-linecap="butt"/>
<line x1="739.5" y1="1372.2" x2="745.5" y2="1372.2" stroke="#367d48" stroke-width="2.2" stroke-linecap="butt"/>
<line x1="739.5" y1="1450.2" x2="745.5" y2="1450.2" stroke="#367d48" stroke-width="2.2" stroke-linecap="butt"/>
<line x1="739.5" y1="1527.9" x2="745.5" y2="1527.9" stroke="#367d48" stroke-width="2.2" stroke-linecap="butt"/>
<line x1="739.5" y1="1605.4" x2="745.5" y2="1605.4" stroke="#367d48" stroke-width="2.2" stroke-linecap="butt"/>
<text x="751.5" y="1264.481" font-size="19.5" fill="#367d48" font-weight="bold" textLength="27" lengthAdjust="spacingAndGlyphs" stroke="#367d48" stroke-width="0.43">1.2</text>
<text x="751.5" y="1341.981" font-size="19.5" fill="#367d48" font-weight="bold" textLength="27" lengthAdjust="spacingAndGlyphs" stroke="#367d48" stroke-width="0.43">1.0</text>
<text x="751.5" y="1420.381" font-size="19.5" fill="#367d48" font-weight="bold" textLength="27" lengthAdjust="spacingAndGlyphs" stroke="#367d48" stroke-width="0.43">0.8</text>
<text x="751.5" y="1497.981" font-size="19.5" fill="#367d48" font-weight="bold" textLength="27" lengthAdjust="spacingAndGlyphs" stroke="#367d48" stroke-width="0.43">0.6</text>
<text x="751.5" y="1575.781" font-size="19.5" fill="#367d48" font-weight="bold" textLength="27" lengthAdjust="spacingAndGlyphs" stroke="#367d48" stroke-width="0.43">0.4</text>
<text x="751.5" y="1652.981" font-size="19.5" fill="#367d48" font-weight="bold" textLength="27" lengthAdjust="spacingAndGlyphs" stroke="#367d48" stroke-width="0.43">0.2</text>
<text x="16" y="1321" font-size="15.3" fill="#000" font-weight="bold" textLength="100.5" lengthAdjust="spacingAndGlyphs" transform="rotate(-90 16 1321)" stroke="#000" stroke-width="0.34">Movement (nm)</text>
<text x="20.5" y="1440.8" font-size="15.3" fill="#000" font-weight="bold" textLength="117.8" lengthAdjust="spacingAndGlyphs" transform="rotate(-90 20.5 1440.8)" stroke="#000" stroke-width="0.34">Azimuth angle (°)</text>
<text x="20.8" y="1543" font-size="15.3" fill="#000" font-weight="bold" textLength="100.7" lengthAdjust="spacingAndGlyphs" transform="rotate(-90 20.8 1543)" stroke="#000" stroke-width="0.34">Polar angle (°)</text>
<text x="15.7" y="1623" font-size="15.3" fill="#000" font-weight="bold" textLength="45.7" lengthAdjust="spacingAndGlyphs" transform="rotate(-90 15.7 1623)" stroke="#000" stroke-width="0.34">z (nm)</text>
<text x="810.4" y="1667" font-size="21" fill="#367d48" font-weight="bold" textLength="426" lengthAdjust="spacingAndGlyphs" transform="rotate(-90 810.4 1667)" stroke="#367d48" stroke-width="0.46">Normalized fluorescence intensity  (n. a.u.)</text>
<text x="5" y="1184.5" font-size="54" fill="#000" font-weight="normal">c</text>
<text x="89" y="1167.5" font-size="27" fill="#3aa655" font-weight="bold" textLength="126" lengthAdjust="spacing" stroke="#3aa655" stroke-width="0.59">Dynamin</text>
<text x="104.5" y="1202.5" font-size="27" fill="#3aa655" font-weight="bold" textLength="58.5" lengthAdjust="spacing" stroke="#3aa655" stroke-width="0.59">ASM</text>
<text x="288.5" y="1167" font-size="28" fill="#000" font-weight="bold" textLength="80.5" lengthAdjust="spacing" stroke="#000" stroke-width="0.62">Static</text>
<text x="368.5" y="1167" font-size="28" fill="#e6332a" font-weight="bold" textLength="82.5" lengthAdjust="spacing" stroke="#e6332a" stroke-width="0.62">Super</text>
<text x="281.5" y="1202" font-size="28" fill="#000" font-weight="bold" textLength="93.5" lengthAdjust="spacing" stroke="#000" stroke-width="0.62">Period</text>
<text x="380" y="1202" font-size="28" fill="#e6332a" font-weight="bold" textLength="68" lengthAdjust="spacing" stroke="#e6332a" stroke-width="0.62">twist</text>
<polygon points="433.5,1665.8 443.7,1675.3999999999999 438.3,1675.3999999999999 438.3,1687.4 428.7,1687.4 428.7,1675.3999999999999 423.3,1675.3999999999999" fill="#2a74b8"/>
<text x="360.5" y="1718.5" font-size="27.3" fill="#2a74b8" font-weight="bold" textLength="171" lengthAdjust="spacing" stroke="#2a74b8" stroke-width="0.6">Detachment</text>
<text x="409.5" y="1752.3" font-size="27.3" fill="#2a74b8" font-weight="bold" textLength="77" lengthAdjust="spacing" stroke="#2a74b8" stroke-width="0.6">point</text>
<text x="416.5" y="1704.6" font-size="19" fill="#000" font-weight="bold" text-anchor="middle" textLength="72.5" lengthAdjust="spacingAndGlyphs" stroke="#000" stroke-width="0.42">Time (s)</text>
<text x="293.5" y="1838" font-size="29.5" fill="#2a74b8" font-weight="bold" stroke="#2a74b8" stroke-width="0.5">A</text>
<text x="513" y="1838" font-size="29.5" fill="#2a74b8" font-weight="bold" stroke="#2a74b8" stroke-width="0.5">B</text>
<text x="552.5" y="1838" font-size="29.5" fill="#2a74b8" font-weight="bold" stroke="#2a74b8" stroke-width="0.5">C</text>
<text x="574.5" y="1838" font-size="29.5" fill="#2a74b8" font-weight="bold" stroke="#2a74b8" stroke-width="0.5">D</text>
<text x="596" y="1838" font-size="29.5" fill="#2a74b8" font-weight="bold" stroke="#2a74b8" stroke-width="0.5">E</text>
<text x="639" y="1838" font-size="29.5" fill="#2a74b8" font-weight="bold" stroke="#2a74b8" stroke-width="0.5">F</text>
<line x1="451" y1="1849" x2="451" y2="2253" stroke="#000" stroke-width="3.9" stroke-linecap="butt"/>
<line x1="555" y1="1849" x2="555" y2="2253" stroke="#000" stroke-width="3.9" stroke-linecap="butt"/>
<line x1="577.5" y1="1849" x2="577.5" y2="2253" stroke="#000" stroke-width="3.9" stroke-linecap="butt"/>
<line x1="590" y1="1849" x2="590" y2="2253" stroke="#000" stroke-width="3.9" stroke-linecap="butt"/>
<line x1="600" y1="1849" x2="600" y2="2253" stroke="#000" stroke-width="3.9" stroke-linecap="butt"/>
<line x1="91.4" y1="2129.3" x2="756.6" y2="2129.3" stroke="#000" stroke-width="3.3" stroke-linecap="butt"/>
<line x1="95" y1="2129.3" x2="95" y2="2136.4500000000003" stroke="#000" stroke-width="2.8" stroke-linecap="butt"/>
<line x1="260" y1="2129.3" x2="260" y2="2136.4500000000003" stroke="#000" stroke-width="2.8" stroke-linecap="butt"/>
<line x1="425" y1="2129.3" x2="425" y2="2136.4500000000003" stroke="#000" stroke-width="2.8" stroke-linecap="butt"/>
<line x1="590" y1="2129.3" x2="590" y2="2136.4500000000003" stroke="#000" stroke-width="2.8" stroke-linecap="butt"/>
<line x1="756" y1="2129.3" x2="756" y2="2136.4500000000003" stroke="#000" stroke-width="2.8" stroke-linecap="butt"/>
<line x1="177.5" y1="2129.3" x2="177.5" y2="2134.4500000000003" stroke="#000" stroke-width="2.2" stroke-linecap="butt"/>
<line x1="342.5" y1="2129.3" x2="342.5" y2="2134.4500000000003" stroke="#000" stroke-width="2.2" stroke-linecap="butt"/>
<line x1="507.5" y1="2129.3" x2="507.5" y2="2134.4500000000003" stroke="#000" stroke-width="2.2" stroke-linecap="butt"/>
<line x1="673.0" y1="2129.3" x2="673.0" y2="2134.4500000000003" stroke="#000" stroke-width="2.2" stroke-linecap="butt"/>
<text x="95" y="2145.8" font-size="11" fill="#000" font-weight="bold" text-anchor="middle" textLength="18.3" lengthAdjust="spacingAndGlyphs" stroke="#000" stroke-width="0.24">190</text>
<text x="260" y="2145.8" font-size="11" fill="#000" font-weight="bold" text-anchor="middle" textLength="18.3" lengthAdjust="spacingAndGlyphs" stroke="#000" stroke-width="0.24" opacity="0.45">195</text>
<text x="425" y="2145.8" font-size="11" fill="#000" font-weight="bold" text-anchor="middle" textLength="18.3" lengthAdjust="spacingAndGlyphs" stroke="#000" stroke-width="0.24">200</text>
<text x="590" y="2145.8" font-size="11" fill="#000" font-weight="bold" text-anchor="middle" textLength="18.3" lengthAdjust="spacingAndGlyphs" stroke="#000" stroke-width="0.24" opacity="0.45">205</text>
<text x="756" y="2145.8" font-size="11" fill="#000" font-weight="bold" text-anchor="middle" textLength="18.3" lengthAdjust="spacingAndGlyphs" stroke="#000" stroke-width="0.24">210</text>
<polyline points="95.0,2095.1 96.4,2095.1 96.4,2094.8 97.9,2094.8 97.9,2098.7 99.3,2098.7 99.3,2093.8 100.7,2093.8 100.7,2099.1 102.1,2099.1 102.1,2095.0 103.6,2095.0 103.6,2095.5 105.0,2095.5 105.0,2096.0 106.4,2096.0 106.4,2095.4 107.9,2095.4 107.9,2097.2 109.3,2097.2 109.3,2102.0 110.7,2102.0 110.7,2095.0 112.1,2095.0 112.1,2100.4 113.6,2100.4 113.6,2096.1 115.0,2096.1 115.0,2100.6 116.4,2100.6 116.4,2098.3 117.9,2098.3 117.9,2097.2 119.3,2097.2 119.3,2097.6 120.7,2097.6 120.7,2097.8 122.1,2097.8 122.1,2094.9 123.6,2094.9 123.6,2096.2 125.0,2096.2 125.0,2099.9 126.2,2099.9 126.2,2096.0 127.5,2096.0 127.5,2101.5 128.8,2101.5 128.8,2099.7 130.0,2099.7 130.0,2100.2 131.4,2100.2 131.4,2100.2 132.9,2100.2 132.9,2104.7 134.3,2104.7 134.3,2099.0 135.7,2099.0 135.7,2101.4 137.1,2101.4 137.1,2103.3 138.6,2103.3 138.6,2098.2 140.0,2098.2 140.0,2102.7 141.4,2102.7 141.4,2100.6 142.9,2100.6 142.9,2106.0 144.3,2106.0 144.3,2104.4 145.7,2104.4 145.7,2094.9 147.1,2094.9 147.1,2103.2 148.6,2103.2 148.6,2100.9 150.0,2100.9 150.0,2100.2 151.4,2100.2 151.4,2103.4 152.9,2103.4 152.9,2102.5 154.3,2102.5 154.3,2098.2 155.7,2098.2 155.7,2099.5 157.1,2099.5 157.1,2102.5 158.6,2102.5 158.6,2100.6 160.0,2100.6 160.0,2098.9 161.4,2098.9 161.4,2103.0 162.8,2103.0 162.8,2099.2 164.1,2099.2 164.1,2099.7 165.5,2099.7 165.5,2098.1 166.9,2098.1 166.9,2101.1 168.3,2101.1 168.3,2097.6 169.7,2097.6 169.7,2097.5 171.0,2097.5 171.0,2100.1 172.4,2100.1 172.4,2101.4 173.8,2101.4 173.8,2101.0 175.2,2101.0 175.2,2099.0 176.6,2099.0 176.6,2100.7 177.9,2100.7 177.9,2097.8 179.3,2097.8 179.3,2104.4 180.7,2104.4 180.7,2096.7 182.1,2096.7 182.1,2098.8 183.4,2098.8 183.4,2099.3 184.8,2099.3 184.8,2097.9 186.2,2097.9 186.2,2099.1 187.6,2099.1 187.6,2102.2 189.0,2102.2 189.0,2100.3 190.3,2100.3 190.3,2098.7 191.7,2098.7 191.7,2099.1 193.1,2099.1 193.1,2098.8 194.5,2098.8 194.5,2103.3 195.9,2103.3 195.9,2099.9 197.2,2099.9 197.2,2101.2 198.6,2101.2 198.6,2100.3 200.0,2100.3 200.0,2098.6 201.4,2098.6 201.4,2095.3 202.8,2095.3 202.8,2095.4 204.2,2095.4 204.2,2098.0 205.5,2098.0 205.5,2098.5 206.9,2098.5 206.9,2096.3 208.3,2096.3 208.3,2100.0 209.7,2100.0 209.7,2099.5 211.1,2099.5 211.1,2100.5 212.5,2100.5 212.5,2097.2 213.9,2097.2 213.9,2096.0 215.3,2096.0 215.3,2097.8 216.6,2097.8 216.6,2101.3 218.0,2101.3 218.0,2097.3 219.4,2097.3 219.4,2100.8 220.8,2100.8 220.8,2096.6 222.2,2096.6 222.2,2093.6 223.6,2093.6 223.6,2095.2 225.0,2095.2 225.0,2096.5 226.4,2096.5 226.4,2097.9 227.7,2097.9 227.7,2098.4 229.1,2098.4 229.1,2098.8 230.5,2098.8 230.5,2101.1 231.9,2101.1 231.9,2098.5 233.3,2098.5 233.3,2096.7 234.7,2096.7 234.7,2095.0 236.1,2095.0 236.1,2096.4 237.5,2096.4 237.5,2097.0 238.8,2097.0 238.8,2095.3 240.2,2095.3 240.2,2097.3 241.6,2097.3 241.6,2098.7 243.0,2098.7 243.0,2098.8 245.0,2098.8 245.0,2076.6 246.4,2076.6 246.4,2078.6 247.7,2078.6 247.7,2083.6 249.1,2083.6 249.1,2075.5 250.5,2075.5 250.5,2081.5 251.8,2081.5 251.8,2076.6 253.2,2076.6 253.2,2074.7 254.5,2074.7 254.5,2078.6 255.9,2078.6 255.9,2074.8 257.3,2074.8 257.3,2075.0 258.6,2075.0 258.6,2074.0 260.0,2074.0 260.0,2074.7 261.4,2074.7 261.4,2070.9 262.9,2070.9 262.9,2075.1 264.3,2075.1 264.3,2075.4 265.7,2075.4 265.7,2078.1 267.1,2078.1 267.1,2075.6 268.6,2075.6 268.6,2077.4 270.0,2077.4 270.0,2076.3 271.4,2076.3 271.4,2074.3 272.9,2074.3 272.9,2077.8 274.3,2077.8 274.3,2077.0 275.7,2077.0 275.7,2073.8 277.1,2073.8 277.1,2078.4 278.6,2078.4 278.6,2076.8 280.0,2076.8 280.0,2077.5 281.4,2077.5 281.4,2074.3 282.9,2074.3 282.9,2076.7 284.3,2076.7 284.3,2075.8 285.7,2075.8 285.7,2076.3 287.1,2076.3 287.1,2076.4 288.6,2076.4 288.6,2072.6 290.0,2072.6 290.0,2073.8 291.4,2073.8 291.4,2072.4 292.8,2072.4 292.8,2071.9 294.1,2071.9 294.1,2073.6 295.5,2073.6 295.5,2071.8 296.9,2071.8 296.9,2073.3 298.3,2073.3 298.3,2072.0 299.7,2072.0 299.7,2071.7 301.0,2071.7 301.0,2073.7 302.4,2073.7 302.4,2076.3 303.8,2076.3 303.8,2072.5 305.2,2072.5 305.2,2074.5 306.6,2074.5 306.6,2073.2 307.9,2073.2 307.9,2078.3 309.3,2078.3 309.3,2077.2 310.7,2077.2 310.7,2077.3 312.1,2077.3 312.1,2078.5 313.4,2078.5 313.4,2077.8 314.8,2077.8 314.8,2076.8 316.2,2076.8 316.2,2077.0 317.6,2077.0 317.6,2075.1 319.0,2075.1 319.0,2077.4 320.3,2077.4 320.3,2074.4 321.7,2074.4 321.7,2074.2 323.1,2074.2 323.1,2074.0 324.5,2074.0 324.5,2082.0 325.9,2082.0 325.9,2078.1 327.2,2078.1 327.2,2071.8 328.6,2071.8 328.6,2077.7 330.0,2077.7 330.0,2074.9 331.4,2074.9 331.4,2078.8 332.8,2078.8 332.8,2075.4 334.2,2075.4 334.2,2075.5 335.6,2075.5 335.6,2077.1 336.9,2077.1 336.9,2078.1 338.3,2078.1 338.3,2075.2 339.7,2075.2 339.7,2078.3 341.1,2078.3 341.1,2077.3 342.5,2077.3 342.5,2084.4 343.9,2084.4 343.9,2078.6 345.3,2078.6 345.3,2080.4 346.7,2080.4 346.7,2076.1 348.1,2076.1 348.1,2077.3 349.4,2077.3 349.4,2074.8 350.8,2074.8 350.8,2076.7 352.2,2076.7 352.2,2078.7 353.6,2078.7 353.6,2074.7 355.0,2074.7 355.0,2076.4 356.4,2076.4 356.4,2075.4 357.8,2075.4 357.8,2078.7 359.2,2078.7 359.2,2075.1 360.6,2075.1 360.6,2077.9 361.9,2077.9 361.9,2078.3 363.3,2078.3 363.3,2075.7 364.7,2075.7 364.7,2076.0 366.1,2076.0 366.1,2079.9 367.5,2079.9 367.5,2074.6 368.9,2074.6 368.9,2080.7 370.3,2080.7 370.3,2077.6 371.7,2077.6 371.7,2077.5 373.1,2077.5 373.1,2077.1 374.4,2077.1 374.4,2075.4 375.8,2075.4 375.8,2083.7 377.2,2083.7 377.2,2080.2 378.6,2080.2 378.6,2079.2 380.0,2079.2 380.0,2077.3 381.4,2077.3 381.4,2078.3 382.8,2078.3 382.8,2078.6 384.2,2078.6 384.2,2079.6 385.6,2079.6 385.6,2075.9 387.0,2075.9 387.0,2075.1 388.4,2075.1 388.4,2075.2 389.8,2075.2 389.8,2078.9 391.2,2078.9 391.2,2080.8 392.7,2080.8 392.7,2079.2 394.1,2079.2 394.1,2079.9 395.5,2079.9 395.5,2072.4 396.9,2072.4 396.9,2079.1 398.3,2079.1 398.3,2078.1 399.7,2078.1 399.7,2073.3 401.1,2073.3 401.1,2078.2 402.5,2078.2 402.5,2080.0 403.9,2080.0 403.9,2079.7 405.3,2079.7 405.3,2077.1 406.7,2077.1 406.7,2076.9 408.1,2076.9 408.1,2076.5 409.5,2076.5 409.5,2074.2 410.9,2074.2 410.9,2078.8 412.3,2078.8 412.3,2076.0 413.8,2076.0 413.8,2074.6 415.2,2074.6 415.2,2074.1 416.6,2074.1 416.6,2078.8 418.0,2078.8 418.0,2073.6 419.4,2073.6 419.4,2077.5 420.8,2077.5 420.8,2075.9 422.2,2075.9 422.2,2072.2 423.6,2072.2 423.6,2075.5 425.0,2075.5 425.0,2074.6 426.4,2074.6 426.4,2076.1 427.8,2076.1 427.8,2073.0 429.2,2073.0 429.2,2071.4 430.6,2071.4 430.6,2073.8 431.9,2073.8 431.9,2072.2 433.3,2072.2 433.3,2077.6 434.7,2077.6 434.7,2072.5 436.1,2072.5 436.1,2072.1 437.5,2072.1 437.5,2072.3 438.9,2072.3 438.9,2070.9 440.3,2070.9 440.3,2071.7 441.7,2071.7 441.7,2073.9 443.1,2073.9 443.1,2069.9 444.4,2069.9 444.4,2069.3 445.8,2069.3 445.8,2071.5 447.2,2071.5 447.2,2069.2 448.6,2069.2 448.6,2074.1 450.0,2074.1 450.0,2074.9 451.4,2074.9 451.4,2070.4 452.8,2070.4 452.8,2072.4 454.2,2072.4 454.2,2071.8 455.6,2071.8 455.6,2068.5 456.9,2068.5 456.9,2072.3 458.3,2072.3 458.3,2069.1 459.7,2069.1 459.7,2067.8 461.1,2067.8 461.1,2070.9 462.5,2070.9 462.5,2073.1 463.9,2073.1 463.9,2067.0 465.3,2067.0 465.3,2066.6 466.7,2066.6 466.7,2064.4 468.1,2064.4 468.1,2071.6 469.4,2071.6 469.4,2069.3 470.8,2069.3 470.8,2071.1 472.2,2071.1 472.2,2068.6 473.6,2068.6 473.6,2072.3 475.0,2072.3 475.0,2071.9 476.4,2071.9 476.4,2073.5 477.8,2073.5 477.8,2071.8 479.2,2071.8 479.2,2070.3 480.6,2070.3 480.6,2069.9 481.9,2069.9 481.9,2071.2 483.3,2071.2 483.3,2070.2 484.7,2070.2 484.7,2069.2 486.1,2069.2 486.1,2069.7 487.5,2069.7 487.5,2072.8 488.9,2072.8 488.9,2071.5 490.3,2071.5 490.3,2074.4 491.7,2074.4 491.7,2071.9 493.1,2071.9 493.1,2073.6 494.4,2073.6 494.4,2073.4 495.8,2073.4 495.8,2070.3 497.2,2070.3 497.2,2073.1 498.6,2073.1 498.6,2071.5 500.0,2071.5 500.0,2071.0 501.4,2071.0 501.4,2071.3 502.8,2071.3 502.8,2074.7 504.2,2074.7 504.2,2074.4 505.6,2074.4 505.6,2072.0 506.9,2072.0 506.9,2073.9 508.3,2073.9 508.3,2069.9 509.7,2069.9 509.7,2071.0 511.1,2071.0 511.1,2072.6 512.5,2072.6 512.5,2071.5 513.9,2071.5 513.9,2068.9 515.3,2068.9 515.3,2068.5 516.7,2068.5 516.7,2069.6 518.1,2069.6 518.1,2074.4 519.4,2074.4 519.4,2072.9 520.8,2072.9 520.8,2072.0 522.2,2072.0 522.2,2071.5 523.6,2071.5 523.6,2074.2 525.0,2074.2 525.0,2073.6 526.4,2073.6 526.4,2073.5 527.9,2073.5 527.9,2077.4 529.3,2077.4 529.3,2074.2 530.7,2074.2 530.7,2074.5 532.1,2074.5 532.1,2076.4 533.6,2076.4 533.6,2073.5 535.0,2073.5 535.0,2072.1 536.4,2072.1 536.4,2077.0 537.9,2077.0 537.9,2071.7 539.3,2071.7 539.3,2074.1 540.7,2074.1 540.7,2076.6 542.1,2076.6 542.1,2073.8 543.6,2073.8 543.6,2075.6 545.0,2075.6 545.0,2074.0 546.4,2074.0 546.4,2077.4 547.9,2077.4 547.9,2076.1 549.3,2076.1 549.3,2078.8 550.7,2078.8 550.7,2077.0 552.1,2077.0 552.1,2080.1 553.6,2080.1 553.6,2076.1 555.0,2076.1 555.0,2075.8 556.4,2075.8 556.4,2079.6 557.7,2079.6 557.7,2079.8 559.1,2079.8 559.1,2080.1 560.5,2080.1 560.5,2079.5 561.8,2079.5 561.8,2081.3 563.2,2081.3 563.2,2082.9 564.5,2082.9 564.5,2083.4 565.9,2083.4 565.9,2083.0 567.3,2083.0 567.3,2082.2 568.6,2082.2 568.6,2084.3 570.0,2084.3 570.0,2085.5 571.4,2085.5 571.4,2082.9 572.9,2082.9 572.9,2079.8 574.3,2079.8 574.3,2072.2 575.7,2072.2 575.7,2062.4 577.1,2062.4 577.1,2064.7 578.6,2064.7 578.6,2063.7 580.0,2063.7 580.0,2056.0 581.2,2056.0 581.2,2049.6 582.5,2049.6 582.5,2050.9 583.8,2050.9 583.8,2046.6 585.0,2046.6 585.0,2043.5 586.4,2043.5 586.4,2048.4 587.8,2048.4 587.8,2056.2 589.2,2056.2 589.2,2057.0 590.6,2057.0 590.6,2057.8 592.0,2057.8 592.0,2073.5 593.4,2073.5 593.4,2072.2 594.8,2072.2 594.8,2067.7 596.2,2067.7 596.2,2065.2 597.5,2065.2 597.5,2071.5 598.9,2071.5 598.9,2067.8 600.3,2067.8 600.3,2061.2 601.7,2061.2 601.7,2068.0 603.1,2068.0 603.1,2066.7 604.5,2066.7 604.5,2066.5 605.8,2066.5 605.8,2073.1 607.2,2073.1 607.2,2077.3 608.6,2077.3 608.6,2066.2 610.0,2066.2 610.0,2068.9 611.4,2068.9 611.4,2070.1 612.7,2070.1 612.7,2071.1 614.1,2071.1 614.1,2069.1 615.5,2069.1 615.5,2059.0 616.8,2059.0 616.8,2068.8 618.2,2068.8 618.2,2067.9 619.5,2067.9 619.5,2059.2 620.9,2059.2 620.9,2067.0 622.3,2067.0 622.3,2059.1 623.6,2059.1 623.6,2060.0 625.0,2060.0 625.0,2067.5 626.4,2067.5 626.4,2052.7 627.7,2052.7 627.7,2064.8 629.1,2064.8 629.1,2070.8 630.5,2070.8 630.5,2064.3 631.8,2064.3 631.8,2069.9 633.2,2069.9 633.2,2072.9 634.5,2072.9 634.5,2067.2 635.9,2067.2 635.9,2079.9 637.3,2079.9 637.3,2078.5 638.6,2078.5 638.6,2096.5 640.0,2096.5 640.0,2091.1 641.4,2091.1 641.4,2079.6 642.9,2079.6 642.9,2080.2 644.3,2080.2 644.3,2086.5 645.7,2086.5 645.7,2086.1 647.1,2086.1 647.1,2082.2 648.6,2082.2 648.6,2089.6 650.0,2089.6 650.0,2098.2 651.4,2098.2 651.4,2092.2 652.8,2092.2 652.8,2075.1 654.2,2075.1 654.2,2075.6 655.6,2075.6 655.6,2084.5 657.0,2084.5 657.0,2067.3 658.3,2067.3 658.3,2081.6 659.7,2081.6 659.7,2091.7 661.0,2091.7 661.0,2100.5 663.0,2100.5 663.0,2118.0 664.5,2118.0 664.5,2106.1 666.0,2106.1 666.0,2099.6 667.3,2099.6 667.3,2084.5 668.7,2084.5 668.7,2073.7 670.0,2073.7 670.0,2064.7 671.2,2064.7 671.2,2062.5 672.5,2062.5 672.5,2051.2 673.8,2051.2 673.8,2054.0 675.0,2054.0 675.0,2048.2 676.4,2048.2 676.4,2058.3 677.9,2058.3 677.9,2060.6 679.3,2060.6 679.3,2059.1 680.7,2059.1 680.7,2054.1 682.1,2054.1 682.1,2059.6 683.6,2059.6 683.6,2064.6 685.0,2064.6 685.0,2066.7 686.4,2066.7 686.4,2059.5 687.9,2059.5 687.9,2053.3 689.3,2053.3 689.3,2063.6 690.7,2063.6 690.7,2053.5 692.1,2053.5 692.1,2049.0 693.6,2049.0 693.6,2051.8 695.0,2051.8 695.0,2050.3 696.4,2050.3 696.4,2043.7 697.7,2043.7 697.7,2050.8 699.1,2050.8 699.1,2043.7 700.5,2043.7 700.5,2042.7 701.8,2042.7 701.8,2048.1 703.2,2048.1 703.2,2051.6 704.5,2051.6 704.5,2045.1 705.9,2045.1 705.9,2049.6 707.3,2049.6 707.3,2059.4 708.6,2059.4 708.6,2052.4 710.0,2052.4 710.0,2058.1 711.4,2058.1 711.4,2058.5 712.9,2058.5 712.9,2066.5 714.3,2066.5 714.3,2065.8 715.7,2065.8 715.7,2058.3 717.1,2058.3 717.1,2070.4 718.6,2070.4 718.6,2069.8 720.0,2069.8 720.0,2069.5 721.4,2069.5 721.4,2069.7 722.9,2069.7 722.9,2074.1 724.3,2074.1 724.3,2074.0 725.7,2074.0 725.7,2080.9 727.1,2080.9 727.1,2070.6 728.6,2070.6 728.6,2075.4 730.0,2075.4 730.0,2077.6 731.2,2077.6 731.2,2081.5 732.5,2081.5 732.5,2084.7 733.8,2084.7 733.8,2107.2 735.0,2107.2 735.0,2103.0 737.0,2103.0 737.0,2111.2 738.2,2111.2 738.2,2104.9 739.5,2104.9 739.5,2098.0 740.8,2098.0 740.8,2100.5 742.0,2100.5 742.0,2094.3 743.2,2094.3 743.2,2094.5 744.5,2094.5 744.5,2089.9 745.8,2089.9 745.8,2085.5 747.0,2085.5 747.0,2081.0 748.5,2081.0 748.5,2074.9 750.0,2074.9 750.0,2079.9 751.5,2079.9 751.5,2072.8 753.0,2072.8 753.0,2073.4 754.5,2073.4 754.5,2076.4 756.0,2076.4 756.0,2081.3" fill="none" stroke="#6dbf4b" stroke-width="2.8" stroke-linejoin="miter" stroke-linecap="miter"/>
<polyline points="98.0,2175.1 99.5,2175.2 100.9,2175.3 102.4,2175.4 103.9,2175.5 105.3,2175.7 106.8,2175.8 108.3,2175.9 109.7,2176.1 111.2,2176.2 112.7,2176.3 114.1,2176.5 115.6,2176.6 117.1,2176.7 118.5,2176.9 120.0,2177.0 121.5,2177.1 123.1,2177.2 124.6,2177.2 126.2,2177.3 127.7,2177.4 129.2,2177.5 130.8,2177.5 132.3,2177.6 133.8,2177.7 135.4,2177.8 136.9,2177.8 138.5,2177.9 140.0,2178.1 141.6,2178.2 143.2,2178.4 144.8,2178.6 146.4,2178.6 148.0,2178.3 149.4,2177.8 150.8,2177.0 152.2,2176.0 153.6,2175.3 155.0,2174.8 156.4,2174.5 157.9,2174.6 159.3,2174.9 160.7,2175.1 162.1,2175.4 163.6,2175.6 165.0,2175.8 166.5,2175.8 168.0,2175.8 169.5,2175.7 171.0,2175.6 172.5,2175.5 174.0,2175.4 175.5,2175.3 177.0,2175.2 178.5,2175.1 180.0,2175.0 181.5,2174.9 183.1,2174.8 184.6,2174.8 186.2,2174.7 187.7,2174.6 189.2,2174.5 190.8,2174.5 192.3,2174.4 193.8,2174.3 195.4,2174.2 196.9,2174.2 198.5,2174.2 200.0,2174.3 201.5,2174.6 203.0,2175.0 204.5,2175.5 206.0,2176.0 207.5,2176.5 209.0,2177.0 210.5,2177.6 212.0,2178.3 213.6,2179.1 215.2,2180.0 216.8,2181.0 218.4,2181.6 220.0,2181.7 221.5,2181.5 223.0,2180.8 224.5,2179.7 226.0,2178.6 227.5,2177.5 229.0,2176.4 230.5,2175.3 232.0,2174.2 233.5,2173.5 235.0,2173.3 236.4,2173.6 237.9,2174.3 239.3,2175.4 240.7,2176.6 242.1,2177.7 243.6,2178.6 245.0,2179.1 246.5,2179.4 248.0,2179.4 249.5,2179.1 251.0,2178.8 252.5,2178.5 254.0,2178.2 255.5,2177.9 257.0,2177.6 258.5,2177.5 260.0,2177.5 261.4,2177.7 262.9,2178.1 264.3,2178.7 265.7,2179.3 267.1,2179.9 268.6,2180.2 270.0,2180.4 271.5,2180.4 273.0,2180.2 274.5,2179.8 276.0,2179.4 277.5,2179.0 279.0,2178.6 280.5,2178.2 282.0,2177.8 283.5,2177.3 285.0,2176.8 286.4,2176.2 287.9,2175.6 289.3,2174.9 290.7,2174.1 292.1,2173.4 293.6,2173.0 295.0,2172.9 296.4,2173.0 297.9,2173.4 299.3,2174.1 300.7,2174.9 302.1,2175.6 303.6,2176.3 305.0,2176.9 306.4,2177.5 307.9,2178.1 309.3,2178.7 310.7,2179.3 312.1,2179.9 313.6,2180.1 315.0,2180.1 316.4,2179.7 317.9,2179.0 319.3,2178.0 320.7,2177.0 322.1,2176.0 323.6,2175.3 325.0,2175.0 326.5,2175.0 328.0,2175.4 329.5,2176.1 331.0,2176.8 332.5,2177.5 334.0,2178.2 335.5,2178.9 337.0,2179.6 338.5,2179.9 340.0,2179.9 341.5,2179.5 343.0,2178.8 344.5,2177.7 346.0,2176.6 347.5,2175.5 349.0,2174.4 350.5,2173.3 352.0,2172.2 353.5,2171.3 355.0,2170.6 356.4,2170.0 357.9,2169.7 359.3,2169.6 360.7,2169.4 362.1,2169.3 363.6,2169.4 365.0,2169.8 366.5,2170.5 368.1,2171.5 369.6,2172.7 371.2,2173.9 372.7,2175.2 374.2,2176.4 375.8,2177.6 377.3,2178.8 378.8,2180.1 380.4,2181.3 381.9,2182.5 383.5,2183.3 385.0,2183.6 386.4,2183.4 387.9,2182.7 389.3,2181.6 390.7,2180.4 392.1,2179.3 393.6,2178.2 395.0,2177.3 396.5,2176.4 398.0,2175.6 399.5,2174.9 401.0,2174.2 402.5,2173.5 404.0,2172.8 405.5,2172.1 407.0,2171.4 408.5,2170.9 410.0,2170.7 411.5,2170.6 413.0,2170.8 414.5,2171.2 416.0,2171.6 417.5,2172.0 419.0,2172.4 420.5,2172.8 422.0,2173.2 423.5,2173.6 425.0,2174.0 426.7,2174.3 428.3,2174.3 430.0,2174.0 431.5,2173.4 433.0,2172.4 434.5,2171.1 436.0,2169.8 437.5,2168.5 439.0,2167.2 440.5,2165.9 442.0,2164.6 443.5,2163.5 445.0,2162.7 446.5,2162.0 448.1,2161.6 449.6,2161.5 451.2,2161.3 452.7,2161.1 454.3,2160.9 455.8,2160.7 457.4,2160.5 458.9,2160.4 460.5,2160.1 462.0,2159.7 463.4,2159.2 464.9,2158.6 466.3,2157.9 467.7,2157.1 469.1,2156.4 470.6,2156.0 472.0,2155.9 473.5,2156.1 475.0,2156.7 476.5,2157.5 478.0,2158.3 479.5,2159.2 481.0,2160.0 482.5,2160.8 484.0,2161.7 485.5,2162.5 487.0,2163.3 488.5,2163.9 490.0,2164.2 491.5,2164.2 493.0,2164.0 494.5,2163.5 496.0,2163.0 497.5,2162.5 499.0,2162.0 500.5,2161.5 502.0,2161.0 503.5,2160.5 505.0,2160.1 506.5,2159.6 508.1,2159.2 509.6,2158.8 511.2,2158.5 512.7,2158.1 514.2,2157.7 515.8,2157.3 517.3,2156.9 518.8,2156.5 520.4,2156.2 521.9,2155.8 523.5,2155.6 525.0,2155.6 526.5,2155.9 527.9,2156.3 529.4,2157.0 530.9,2157.7 532.3,2158.3 533.8,2159.0 535.3,2159.7 536.7,2160.3 538.2,2161.0 539.7,2161.7 541.1,2162.3 542.6,2163.0 544.1,2163.7 545.5,2164.1 547.0,2164.2 548.5,2164.1 550.0,2163.7 551.5,2163.0 553.0,2162.3 554.5,2161.7 556.0,2161.0 557.5,2160.3 559.0,2159.7 560.5,2159.0 562.0,2158.3 563.5,2158.0 565.0,2157.9 566.5,2158.1 568.0,2158.6 569.5,2159.4 571.0,2160.2 572.5,2161.0 574.0,2161.8 575.5,2162.6 577.0,2163.4 578.5,2164.5 580.0,2165.8 581.4,2167.4 582.9,2169.3 584.3,2171.4 585.7,2173.6 587.1,2175.7 588.6,2178.4 590.0,2181.7 591.4,2185.6 592.8,2190.0 594.2,2195.0 595.6,2199.9 597.0,2204.8 598.5,2209.7 600.0,2214.5 601.5,2217.8 603.0,2219.8 604.5,2220.2 606.0,2219.3 607.5,2217.0 609.0,2214.7 610.5,2212.5 612.0,2210.5 613.5,2208.7 615.0,2207.0 616.5,2205.5 618.0,2204.0 619.5,2203.1 621.0,2202.8 622.5,2203.1 624.0,2204.0 625.5,2205.5 627.0,2207.0 628.5,2208.7 630.0,2210.6 631.4,2212.6 632.9,2214.9 634.3,2217.3 635.7,2219.7 637.1,2222.1 638.6,2224.4 640.0,2226.5 641.4,2228.4 642.8,2230.2 644.2,2231.8 645.6,2232.8 647.0,2233.3 648.5,2233.2 650.0,2232.5 651.5,2231.2 653.0,2230.0 654.5,2228.8 656.0,2227.5 657.5,2226.2 659.0,2225.0 660.5,2223.8 662.0,2222.5 663.5,2221.5 665.0,2220.8 666.5,2220.4 668.1,2220.3 669.6,2220.5 671.2,2220.6 672.7,2220.8 674.2,2220.9 675.8,2221.1 677.3,2221.2 678.8,2221.4 680.4,2221.5 681.9,2221.7 683.5,2222.0 685.0,2222.6 686.4,2223.3 687.9,2224.3 689.3,2225.4 690.7,2226.6 692.1,2227.7 693.6,2228.5 695.0,2228.9 696.5,2229.0 698.0,2228.8 699.5,2228.1 701.0,2227.5 702.5,2226.9 704.0,2226.2 705.5,2225.9 707.0,2226.0 708.4,2226.3 709.9,2227.0 711.3,2228.0 712.7,2229.0 714.1,2230.0 715.6,2231.0 717.0,2232.1 718.4,2233.1 719.9,2234.2 721.3,2235.3 722.8,2236.4 724.2,2237.6 725.7,2238.7 727.1,2239.8 728.6,2240.5 730.0,2240.9 731.4,2240.9 732.9,2240.6 734.3,2239.9 735.7,2239.1 737.1,2238.4 738.6,2238.0 740.0,2238.0 741.5,2238.2 742.9,2238.8 744.4,2239.7 745.8,2240.6 747.3,2241.5 748.7,2242.5 750.2,2243.4 751.6,2244.3 753.1,2245.2 754.5,2245.6 756.0,2246.1" fill="none" stroke="#1f4e9c" stroke-width="3.5" stroke-linejoin="round" stroke-linecap="round"/>
<polygon points="98.0,2168.0 115.4,2138.7 148.0,2189.0 181.0,2183.5 214.0,2183.5 247.0,2156.0 280.0,2134.0 312.0,2153.5 345.0,2162.5 379.0,2153.5 412.0,2156.0 445.0,2189.0 478.5,2052.5 511.0,2053.5 544.0,2082.5 576.5,1970.0 610.0,2198.5 643.5,2220.0 676.0,2193.5 709.0,2235.0 742.5,2215.0 756.6,2225.0 756.6,2254.0 98.0,2254.0" fill="#278a33" fill-opacity="0.7"/>
<clipPath id="cp4"><polygon points="98.0,2168.0 115.4,2138.7 148.0,2189.0 181.0,2183.5 214.0,2183.5 247.0,2156.0 280.0,2134.0 312.0,2153.5 345.0,2162.5 379.0,2153.5 412.0,2156.0 445.0,2189.0 478.5,2052.5 511.0,2053.5 544.0,2082.5 576.5,1970.0 610.0,2198.5 643.5,2220.0 676.0,2193.5 709.0,2235.0 742.5,2215.0 756.6,2225.0 756.6,2254.0 98.0,2254.0"/></clipPath>
<line clip-path="url(#cp4)" x1="451" y1="1849" x2="451" y2="2253" stroke="#164524" stroke-width="3.9"/>
<line clip-path="url(#cp4)" x1="555" y1="1849" x2="555" y2="2253" stroke="#164524" stroke-width="3.9"/>
<line clip-path="url(#cp4)" x1="577.5" y1="1849" x2="577.5" y2="2253" stroke="#164524" stroke-width="3.9"/>
<line clip-path="url(#cp4)" x1="590" y1="1849" x2="590" y2="2253" stroke="#164524" stroke-width="3.9"/>
<line clip-path="url(#cp4)" x1="600" y1="1849" x2="600" y2="2253" stroke="#164524" stroke-width="3.9"/>
<line clip-path="url(#cp4)" x1="93" y1="2129.3" x2="756" y2="2129.3" stroke="#164524" stroke-width="3.3"/>
<polyline clip-path="url(#cp4)" points="98.0,2175.1 99.5,2175.2 100.9,2175.3 102.4,2175.4 103.9,2175.5 105.3,2175.7 106.8,2175.8 108.3,2175.9 109.7,2176.1 111.2,2176.2 112.7,2176.3 114.1,2176.5 115.6,2176.6 117.1,2176.7 118.5,2176.9 120.0,2177.0 121.5,2177.1 123.1,2177.2 124.6,2177.2 126.2,2177.3 127.7,2177.4 129.2,2177.5 130.8,2177.5 132.3,2177.6 133.8,2177.7 135.4,2177.8 136.9,2177.8 138.5,2177.9 140.0,2178.1 141.6,2178.2 143.2,2178.4 144.8,2178.6 146.4,2178.6 148.0,2178.3 149.4,2177.8 150.8,2177.0 152.2,2176.0 153.6,2175.3 155.0,2174.8 156.4,2174.5 157.9,2174.6 159.3,2174.9 160.7,2175.1 162.1,2175.4 163.6,2175.6 165.0,2175.8 166.5,2175.8 168.0,2175.8 169.5,2175.7 171.0,2175.6 172.5,2175.5 174.0,2175.4 175.5,2175.3 177.0,2175.2 178.5,2175.1 180.0,2175.0 181.5,2174.9 183.1,2174.8 184.6,2174.8 186.2,2174.7 187.7,2174.6 189.2,2174.5 190.8,2174.5 192.3,2174.4 193.8,2174.3 195.4,2174.2 196.9,2174.2 198.5,2174.2 200.0,2174.3 201.5,2174.6 203.0,2175.0 204.5,2175.5 206.0,2176.0 207.5,2176.5 209.0,2177.0 210.5,2177.6 212.0,2178.3 213.6,2179.1 215.2,2180.0 216.8,2181.0 218.4,2181.6 220.0,2181.7 221.5,2181.5 223.0,2180.8 224.5,2179.7 226.0,2178.6 227.5,2177.5 229.0,2176.4 230.5,2175.3 232.0,2174.2 233.5,2173.5 235.0,2173.3 236.4,2173.6 237.9,2174.3 239.3,2175.4 240.7,2176.6 242.1,2177.7 243.6,2178.6 245.0,2179.1 246.5,2179.4 248.0,2179.4 249.5,2179.1 251.0,2178.8 252.5,2178.5 254.0,2178.2 255.5,2177.9 257.0,2177.6 258.5,2177.5 260.0,2177.5 261.4,2177.7 262.9,2178.1 264.3,2178.7 265.7,2179.3 267.1,2179.9 268.6,2180.2 270.0,2180.4 271.5,2180.4 273.0,2180.2 274.5,2179.8 276.0,2179.4 277.5,2179.0 279.0,2178.6 280.5,2178.2 282.0,2177.8 283.5,2177.3 285.0,2176.8 286.4,2176.2 287.9,2175.6 289.3,2174.9 290.7,2174.1 292.1,2173.4 293.6,2173.0 295.0,2172.9 296.4,2173.0 297.9,2173.4 299.3,2174.1 300.7,2174.9 302.1,2175.6 303.6,2176.3 305.0,2176.9 306.4,2177.5 307.9,2178.1 309.3,2178.7 310.7,2179.3 312.1,2179.9 313.6,2180.1 315.0,2180.1 316.4,2179.7 317.9,2179.0 319.3,2178.0 320.7,2177.0 322.1,2176.0 323.6,2175.3 325.0,2175.0 326.5,2175.0 328.0,2175.4 329.5,2176.1 331.0,2176.8 332.5,2177.5 334.0,2178.2 335.5,2178.9 337.0,2179.6 338.5,2179.9 340.0,2179.9 341.5,2179.5 343.0,2178.8 344.5,2177.7 346.0,2176.6 347.5,2175.5 349.0,2174.4 350.5,2173.3 352.0,2172.2 353.5,2171.3 355.0,2170.6 356.4,2170.0 357.9,2169.7 359.3,2169.6 360.7,2169.4 362.1,2169.3 363.6,2169.4 365.0,2169.8 366.5,2170.5 368.1,2171.5 369.6,2172.7 371.2,2173.9 372.7,2175.2 374.2,2176.4 375.8,2177.6 377.3,2178.8 378.8,2180.1 380.4,2181.3 381.9,2182.5 383.5,2183.3 385.0,2183.6 386.4,2183.4 387.9,2182.7 389.3,2181.6 390.7,2180.4 392.1,2179.3 393.6,2178.2 395.0,2177.3 396.5,2176.4 398.0,2175.6 399.5,2174.9 401.0,2174.2 402.5,2173.5 404.0,2172.8 405.5,2172.1 407.0,2171.4 408.5,2170.9 410.0,2170.7 411.5,2170.6 413.0,2170.8 414.5,2171.2 416.0,2171.6 417.5,2172.0 419.0,2172.4 420.5,2172.8 422.0,2173.2 423.5,2173.6 425.0,2174.0 426.7,2174.3 428.3,2174.3 430.0,2174.0 431.5,2173.4 433.0,2172.4 434.5,2171.1 436.0,2169.8 437.5,2168.5 439.0,2167.2 440.5,2165.9 442.0,2164.6 443.5,2163.5 445.0,2162.7 446.5,2162.0 448.1,2161.6 449.6,2161.5 451.2,2161.3 452.7,2161.1 454.3,2160.9 455.8,2160.7 457.4,2160.5 458.9,2160.4 460.5,2160.1 462.0,2159.7 463.4,2159.2 464.9,2158.6 466.3,2157.9 467.7,2157.1 469.1,2156.4 470.6,2156.0 472.0,2155.9 473.5,2156.1 475.0,2156.7 476.5,2157.5 478.0,2158.3 479.5,2159.2 481.0,2160.0 482.5,2160.8 484.0,2161.7 485.5,2162.5 487.0,2163.3 488.5,2163.9 490.0,2164.2 491.5,2164.2 493.0,2164.0 494.5,2163.5 496.0,2163.0 497.5,2162.5 499.0,2162.0 500.5,2161.5 502.0,2161.0 503.5,2160.5 505.0,2160.1 506.5,2159.6 508.1,2159.2 509.6,2158.8 511.2,2158.5 512.7,2158.1 514.2,2157.7 515.8,2157.3 517.3,2156.9 518.8,2156.5 520.4,2156.2 521.9,2155.8 523.5,2155.6 525.0,2155.6 526.5,2155.9 527.9,2156.3 529.4,2157.0 530.9,2157.7 532.3,2158.3 533.8,2159.0 535.3,2159.7 536.7,2160.3 538.2,2161.0 539.7,2161.7 541.1,2162.3 542.6,2163.0 544.1,2163.7 545.5,2164.1 547.0,2164.2 548.5,2164.1 550.0,2163.7 551.5,2163.0 553.0,2162.3 554.5,2161.7 556.0,2161.0 557.5,2160.3 559.0,2159.7 560.5,2159.0 562.0,2158.3 563.5,2158.0 565.0,2157.9 566.5,2158.1 568.0,2158.6 569.5,2159.4 571.0,2160.2 572.5,2161.0 574.0,2161.8 575.5,2162.6 577.0,2163.4 578.5,2164.5 580.0,2165.8 581.4,2167.4 582.9,2169.3 584.3,2171.4 585.7,2173.6 587.1,2175.7 588.6,2178.4 590.0,2181.7 591.4,2185.6 592.8,2190.0 594.2,2195.0 595.6,2199.9 597.0,2204.8 598.5,2209.7 600.0,2214.5 601.5,2217.8 603.0,2219.8 604.5,2220.2 606.0,2219.3 607.5,2217.0 609.0,2214.7 610.5,2212.5 612.0,2210.5 613.5,2208.7 615.0,2207.0 616.5,2205.5 618.0,2204.0 619.5,2203.1 621.0,2202.8 622.5,2203.1 624.0,2204.0 625.5,2205.5 627.0,2207.0 628.5,2208.7 630.0,2210.6 631.4,2212.6 632.9,2214.9 634.3,2217.3 635.7,2219.7 637.1,2222.1 638.6,2224.4 640.0,2226.5 641.4,2228.4 642.8,2230.2 644.2,2231.8 645.6,2232.8 647.0,2233.3 648.5,2233.2 650.0,2232.5 651.5,2231.2 653.0,2230.0 654.5,2228.8 656.0,2227.5 657.5,2226.2 659.0,2225.0 660.5,2223.8 662.0,2222.5 663.5,2221.5 665.0,2220.8 666.5,2220.4 668.1,2220.3 669.6,2220.5 671.2,2220.6 672.7,2220.8 674.2,2220.9 675.8,2221.1 677.3,2221.2 678.8,2221.4 680.4,2221.5 681.9,2221.7 683.5,2222.0 685.0,2222.6 686.4,2223.3 687.9,2224.3 689.3,2225.4 690.7,2226.6 692.1,2227.7 693.6,2228.5 695.0,2228.9 696.5,2229.0 698.0,2228.8 699.5,2228.1 701.0,2227.5 702.5,2226.9 704.0,2226.2 705.5,2225.9 707.0,2226.0 708.4,2226.3 709.9,2227.0 711.3,2228.0 712.7,2229.0 714.1,2230.0 715.6,2231.0 717.0,2232.1 718.4,2233.1 719.9,2234.2 721.3,2235.3 722.8,2236.4 724.2,2237.6 725.7,2238.7 727.1,2239.8 728.6,2240.5 730.0,2240.9 731.4,2240.9 732.9,2240.6 734.3,2239.9 735.7,2239.1 737.1,2238.4 738.6,2238.0 740.0,2238.0 741.5,2238.2 742.9,2238.8 744.4,2239.7 745.8,2240.6 747.3,2241.5 748.7,2242.5 750.2,2243.4 751.6,2244.3 753.1,2245.2 754.5,2245.6 756.0,2246.1" fill="none" stroke="#16506a" stroke-width="3.5" stroke-linejoin="round" stroke-linecap="round"/>
<polyline clip-path="url(#cp4)" points="95.0,2095.1 96.4,2095.1 96.4,2094.8 97.9,2094.8 97.9,2098.7 99.3,2098.7 99.3,2093.8 100.7,2093.8 100.7,2099.1 102.1,2099.1 102.1,2095.0 103.6,2095.0 103.6,2095.5 105.0,2095.5 105.0,2096.0 106.4,2096.0 106.4,2095.4 107.9,2095.4 107.9,2097.2 109.3,2097.2 109.3,2102.0 110.7,2102.0 110.7,2095.0 112.1,2095.0 112.1,2100.4 113.6,2100.4 113.6,2096.1 115.0,2096.1 115.0,2100.6 116.4,2100.6 116.4,2098.3 117.9,2098.3 117.9,2097.2 119.3,2097.2 119.3,2097.6 120.7,2097.6 120.7,2097.8 122.1,2097.8 122.1,2094.9 123.6,2094.9 123.6,2096.2 125.0,2096.2 125.0,2099.9 126.2,2099.9 126.2,2096.0 127.5,2096.0 127.5,2101.5 128.8,2101.5 128.8,2099.7 130.0,2099.7 130.0,2100.2 131.4,2100.2 131.4,2100.2 132.9,2100.2 132.9,2104.7 134.3,2104.7 134.3,2099.0 135.7,2099.0 135.7,2101.4 137.1,2101.4 137.1,2103.3 138.6,2103.3 138.6,2098.2 140.0,2098.2 140.0,2102.7 141.4,2102.7 141.4,2100.6 142.9,2100.6 142.9,2106.0 144.3,2106.0 144.3,2104.4 145.7,2104.4 145.7,2094.9 147.1,2094.9 147.1,2103.2 148.6,2103.2 148.6,2100.9 150.0,2100.9 150.0,2100.2 151.4,2100.2 151.4,2103.4 152.9,2103.4 152.9,2102.5 154.3,2102.5 154.3,2098.2 155.7,2098.2 155.7,2099.5 157.1,2099.5 157.1,2102.5 158.6,2102.5 158.6,2100.6 160.0,2100.6 160.0,2098.9 161.4,2098.9 161.4,2103.0 162.8,2103.0 162.8,2099.2 164.1,2099.2 164.1,2099.7 165.5,2099.7 165.5,2098.1 166.9,2098.1 166.9,2101.1 168.3,2101.1 168.3,2097.6 169.7,2097.6 169.7,2097.5 171.0,2097.5 171.0,2100.1 172.4,2100.1 172.4,2101.4 173.8,2101.4 173.8,2101.0 175.2,2101.0 175.2,2099.0 176.6,2099.0 176.6,2100.7 177.9,2100.7 177.9,2097.8 179.3,2097.8 179.3,2104.4 180.7,2104.4 180.7,2096.7 182.1,2096.7 182.1,2098.8 183.4,2098.8 183.4,2099.3 184.8,2099.3 184.8,2097.9 186.2,2097.9 186.2,2099.1 187.6,2099.1 187.6,2102.2 189.0,2102.2 189.0,2100.3 190.3,2100.3 190.3,2098.7 191.7,2098.7 191.7,2099.1 193.1,2099.1 193.1,2098.8 194.5,2098.8 194.5,2103.3 195.9,2103.3 195.9,2099.9 197.2,2099.9 197.2,2101.2 198.6,2101.2 198.6,2100.3 200.0,2100.3 200.0,2098.6 201.4,2098.6 201.4,2095.3 202.8,2095.3 202.8,2095.4 204.2,2095.4 204.2,2098.0 205.5,2098.0 205.5,2098.5 206.9,2098.5 206.9,2096.3 208.3,2096.3 208.3,2100.0 209.7,2100.0 209.7,2099.5 211.1,2099.5 211.1,2100.5 212.5,2100.5 212.5,2097.2 213.9,2097.2 213.9,2096.0 215.3,2096.0 215.3,2097.8 216.6,2097.8 216.6,2101.3 218.0,2101.3 218.0,2097.3 219.4,2097.3 219.4,2100.8 220.8,2100.8 220.8,2096.6 222.2,2096.6 222.2,2093.6 223.6,2093.6 223.6,2095.2 225.0,2095.2 225.0,2096.5 226.4,2096.5 226.4,2097.9 227.7,2097.9 227.7,2098.4 229.1,2098.4 229.1,2098.8 230.5,2098.8 230.5,2101.1 231.9,2101.1 231.9,2098.5 233.3,2098.5 233.3,2096.7 234.7,2096.7 234.7,2095.0 236.1,2095.0 236.1,2096.4 237.5,2096.4 237.5,2097.0 238.8,2097.0 238.8,2095.3 240.2,2095.3 240.2,2097.3 241.6,2097.3 241.6,2098.7 243.0,2098.7 243.0,2098.8 245.0,2098.8 245.0,2076.6 246.4,2076.6 246.4,2078.6 247.7,2078.6 247.7,2083.6 249.1,2083.6 249.1,2075.5 250.5,2075.5 250.5,2081.5 251.8,2081.5 251.8,2076.6 253.2,2076.6 253.2,2074.7 254.5,2074.7 254.5,2078.6 255.9,2078.6 255.9,2074.8 257.3,2074.8 257.3,2075.0 258.6,2075.0 258.6,2074.0 260.0,2074.0 260.0,2074.7 261.4,2074.7 261.4,2070.9 262.9,2070.9 262.9,2075.1 264.3,2075.1 264.3,2075.4 265.7,2075.4 265.7,2078.1 267.1,2078.1 267.1,2075.6 268.6,2075.6 268.6,2077.4 270.0,2077.4 270.0,2076.3 271.4,2076.3 271.4,2074.3 272.9,2074.3 272.9,2077.8 274.3,2077.8 274.3,2077.0 275.7,2077.0 275.7,2073.8 277.1,2073.8 277.1,2078.4 278.6,2078.4 278.6,2076.8 280.0,2076.8 280.0,2077.5 281.4,2077.5 281.4,2074.3 282.9,2074.3 282.9,2076.7 284.3,2076.7 284.3,2075.8 285.7,2075.8 285.7,2076.3 287.1,2076.3 287.1,2076.4 288.6,2076.4 288.6,2072.6 290.0,2072.6 290.0,2073.8 291.4,2073.8 291.4,2072.4 292.8,2072.4 292.8,2071.9 294.1,2071.9 294.1,2073.6 295.5,2073.6 295.5,2071.8 296.9,2071.8 296.9,2073.3 298.3,2073.3 298.3,2072.0 299.7,2072.0 299.7,2071.7 301.0,2071.7 301.0,2073.7 302.4,2073.7 302.4,2076.3 303.8,2076.3 303.8,2072.5 305.2,2072.5 305.2,2074.5 306.6,2074.5 306.6,2073.2 307.9,2073.2 307.9,2078.3 309.3,2078.3 309.3,2077.2 310.7,2077.2 310.7,2077.3 312.1,2077.3 312.1,2078.5 313.4,2078.5 313.4,2077.8 314.8,2077.8 314.8,2076.8 316.2,2076.8 316.2,2077.0 317.6,2077.0 317.6,2075.1 319.0,2075.1 319.0,2077.4 320.3,2077.4 320.3,2074.4 321.7,2074.4 321.7,2074.2 323.1,2074.2 323.1,2074.0 324.5,2074.0 324.5,2082.0 325.9,2082.0 325.9,2078.1 327.2,2078.1 327.2,2071.8 328.6,2071.8 328.6,2077.7 330.0,2077.7 330.0,2074.9 331.4,2074.9 331.4,2078.8 332.8,2078.8 332.8,2075.4 334.2,2075.4 334.2,2075.5 335.6,2075.5 335.6,2077.1 336.9,2077.1 336.9,2078.1 338.3,2078.1 338.3,2075.2 339.7,2075.2 339.7,2078.3 341.1,2078.3 341.1,2077.3 342.5,2077.3 342.5,2084.4 343.9,2084.4 343.9,2078.6 345.3,2078.6 345.3,2080.4 346.7,2080.4 346.7,2076.1 348.1,2076.1 348.1,2077.3 349.4,2077.3 349.4,2074.8 350.8,2074.8 350.8,2076.7 352.2,2076.7 352.2,2078.7 353.6,2078.7 353.6,2074.7 355.0,2074.7 355.0,2076.4 356.4,2076.4 356.4,2075.4 357.8,2075.4 357.8,2078.7 359.2,2078.7 359.2,2075.1 360.6,2075.1 360.6,2077.9 361.9,2077.9 361.9,2078.3 363.3,2078.3 363.3,2075.7 364.7,2075.7 364.7,2076.0 366.1,2076.0 366.1,2079.9 367.5,2079.9 367.5,2074.6 368.9,2074.6 368.9,2080.7 370.3,2080.7 370.3,2077.6 371.7,2077.6 371.7,2077.5 373.1,2077.5 373.1,2077.1 374.4,2077.1 374.4,2075.4 375.8,2075.4 375.8,2083.7 377.2,2083.7 377.2,2080.2 378.6,2080.2 378.6,2079.2 380.0,2079.2 380.0,2077.3 381.4,2077.3 381.4,2078.3 382.8,2078.3 382.8,2078.6 384.2,2078.6 384.2,2079.6 385.6,2079.6 385.6,2075.9 387.0,2075.9 387.0,2075.1 388.4,2075.1 388.4,2075.2 389.8,2075.2 389.8,2078.9 391.2,2078.9 391.2,2080.8 392.7,2080.8 392.7,2079.2 394.1,2079.2 394.1,2079.9 395.5,2079.9 395.5,2072.4 396.9,2072.4 396.9,2079.1 398.3,2079.1 398.3,2078.1 399.7,2078.1 399.7,2073.3 401.1,2073.3 401.1,2078.2 402.5,2078.2 402.5,2080.0 403.9,2080.0 403.9,2079.7 405.3,2079.7 405.3,2077.1 406.7,2077.1 406.7,2076.9 408.1,2076.9 408.1,2076.5 409.5,2076.5 409.5,2074.2 410.9,2074.2 410.9,2078.8 412.3,2078.8 412.3,2076.0 413.8,2076.0 413.8,2074.6 415.2,2074.6 415.2,2074.1 416.6,2074.1 416.6,2078.8 418.0,2078.8 418.0,2073.6 419.4,2073.6 419.4,2077.5 420.8,2077.5 420.8,2075.9 422.2,2075.9 422.2,2072.2 423.6,2072.2 423.6,2075.5 425.0,2075.5 425.0,2074.6 426.4,2074.6 426.4,2076.1 427.8,2076.1 427.8,2073.0 429.2,2073.0 429.2,2071.4 430.6,2071.4 430.6,2073.8 431.9,2073.8 431.9,2072.2 433.3,2072.2 433.3,2077.6 434.7,2077.6 434.7,2072.5 436.1,2072.5 436.1,2072.1 437.5,2072.1 437.5,2072.3 438.9,2072.3 438.9,2070.9 440.3,2070.9 440.3,2071.7 441.7,2071.7 441.7,2073.9 443.1,2073.9 443.1,2069.9 444.4,2069.9 444.4,2069.3 445.8,2069.3 445.8,2071.5 447.2,2071.5 447.2,2069.2 448.6,2069.2 448.6,2074.1 450.0,2074.1 450.0,2074.9 451.4,2074.9 451.4,2070.4 452.8,2070.4 452.8,2072.4 454.2,2072.4 454.2,2071.8 455.6,2071.8 455.6,2068.5 456.9,2068.5 456.9,2072.3 458.3,2072.3 458.3,2069.1 459.7,2069.1 459.7,2067.8 461.1,2067.8 461.1,2070.9 462.5,2070.9 462.5,2073.1 463.9,2073.1 463.9,2067.0 465.3,2067.0 465.3,2066.6 466.7,2066.6 466.7,2064.4 468.1,2064.4 468.1,2071.6 469.4,2071.6 469.4,2069.3 470.8,2069.3 470.8,2071.1 472.2,2071.1 472.2,2068.6 473.6,2068.6 473.6,2072.3 475.0,2072.3 475.0,2071.9 476.4,2071.9 476.4,2073.5 477.8,2073.5 477.8,2071.8 479.2,2071.8 479.2,2070.3 480.6,2070.3 480.6,2069.9 481.9,2069.9 481.9,2071.2 483.3,2071.2 483.3,2070.2 484.7,2070.2 484.7,2069.2 486.1,2069.2 486.1,2069.7 487.5,2069.7 487.5,2072.8 488.9,2072.8 488.9,2071.5 490.3,2071.5 490.3,2074.4 491.7,2074.4 491.7,2071.9 493.1,2071.9 493.1,2073.6 494.4,2073.6 494.4,2073.4 495.8,2073.4 495.8,2070.3 497.2,2070.3 497.2,2073.1 498.6,2073.1 498.6,2071.5 500.0,2071.5 500.0,2071.0 501.4,2071.0 501.4,2071.3 502.8,2071.3 502.8,2074.7 504.2,2074.7 504.2,2074.4 505.6,2074.4 505.6,2072.0 506.9,2072.0 506.9,2073.9 508.3,2073.9 508.3,2069.9 509.7,2069.9 509.7,2071.0 511.1,2071.0 511.1,2072.6 512.5,2072.6 512.5,2071.5 513.9,2071.5 513.9,2068.9 515.3,2068.9 515.3,2068.5 516.7,2068.5 516.7,2069.6 518.1,2069.6 518.1,2074.4 519.4,2074.4 519.4,2072.9 520.8,2072.9 520.8,2072.0 522.2,2072.0 522.2,2071.5 523.6,2071.5 523.6,2074.2 525.0,2074.2 525.0,2073.6 526.4,2073.6 526.4,2073.5 527.9,2073.5 527.9,2077.4 529.3,2077.4 529.3,2074.2 530.7,2074.2 530.7,2074.5 532.1,2074.5 532.1,2076.4 533.6,2076.4 533.6,2073.5 535.0,2073.5 535.0,2072.1 536.4,2072.1 536.4,2077.0 537.9,2077.0 537.9,2071.7 539.3,2071.7 539.3,2074.1 540.7,2074.1 540.7,2076.6 542.1,2076.6 542.1,2073.8 543.6,2073.8 543.6,2075.6 545.0,2075.6 545.0,2074.0 546.4,2074.0 546.4,2077.4 547.9,2077.4 547.9,2076.1 549.3,2076.1 549.3,2078.8 550.7,2078.8 550.7,2077.0 552.1,2077.0 552.1,2080.1 553.6,2080.1 553.6,2076.1 555.0,2076.1 555.0,2075.8 556.4,2075.8 556.4,2079.6 557.7,2079.6 557.7,2079.8 559.1,2079.8 559.1,2080.1 560.5,2080.1 560.5,2079.5 561.8,2079.5 561.8,2081.3 563.2,2081.3 563.2,2082.9 564.5,2082.9 564.5,2083.4 565.9,2083.4 565.9,2083.0 567.3,2083.0 567.3,2082.2 568.6,2082.2 568.6,2084.3 570.0,2084.3 570.0,2085.5 571.4,2085.5 571.4,2082.9 572.9,2082.9 572.9,2079.8 574.3,2079.8 574.3,2072.2 575.7,2072.2 575.7,2062.4 577.1,2062.4 577.1,2064.7 578.6,2064.7 578.6,2063.7 580.0,2063.7 580.0,2056.0 581.2,2056.0 581.2,2049.6 582.5,2049.6 582.5,2050.9 583.8,2050.9 583.8,2046.6 585.0,2046.6 585.0,2043.5 586.4,2043.5 586.4,2048.4 587.8,2048.4 587.8,2056.2 589.2,2056.2 589.2,2057.0 590.6,2057.0 590.6,2057.8 592.0,2057.8 592.0,2073.5 593.4,2073.5 593.4,2072.2 594.8,2072.2 594.8,2067.7 596.2,2067.7 596.2,2065.2 597.5,2065.2 597.5,2071.5 598.9,2071.5 598.9,2067.8 600.3,2067.8 600.3,2061.2 601.7,2061.2 601.7,2068.0 603.1,2068.0 603.1,2066.7 604.5,2066.7 604.5,2066.5 605.8,2066.5 605.8,2073.1 607.2,2073.1 607.2,2077.3 608.6,2077.3 608.6,2066.2 610.0,2066.2 610.0,2068.9 611.4,2068.9 611.4,2070.1 612.7,2070.1 612.7,2071.1 614.1,2071.1 614.1,2069.1 615.5,2069.1 615.5,2059.0 616.8,2059.0 616.8,2068.8 618.2,2068.8 618.2,2067.9 619.5,2067.9 619.5,2059.2 620.9,2059.2 620.9,2067.0 622.3,2067.0 622.3,2059.1 623.6,2059.1 623.6,2060.0 625.0,2060.0 625.0,2067.5 626.4,2067.5 626.4,2052.7 627.7,2052.7 627.7,2064.8 629.1,2064.8 629.1,2070.8 630.5,2070.8 630.5,2064.3 631.8,2064.3 631.8,2069.9 633.2,2069.9 633.2,2072.9 634.5,2072.9 634.5,2067.2 635.9,2067.2 635.9,2079.9 637.3,2079.9 637.3,2078.5 638.6,2078.5 638.6,2096.5 640.0,2096.5 640.0,2091.1 641.4,2091.1 641.4,2079.6 642.9,2079.6 642.9,2080.2 644.3,2080.2 644.3,2086.5 645.7,2086.5 645.7,2086.1 647.1,2086.1 647.1,2082.2 648.6,2082.2 648.6,2089.6 650.0,2089.6 650.0,2098.2 651.4,2098.2 651.4,2092.2 652.8,2092.2 652.8,2075.1 654.2,2075.1 654.2,2075.6 655.6,2075.6 655.6,2084.5 657.0,2084.5 657.0,2067.3 658.3,2067.3 658.3,2081.6 659.7,2081.6 659.7,2091.7 661.0,2091.7 661.0,2100.5 663.0,2100.5 663.0,2118.0 664.5,2118.0 664.5,2106.1 666.0,2106.1 666.0,2099.6 667.3,2099.6 667.3,2084.5 668.7,2084.5 668.7,2073.7 670.0,2073.7 670.0,2064.7 671.2,2064.7 671.2,2062.5 672.5,2062.5 672.5,2051.2 673.8,2051.2 673.8,2054.0 675.0,2054.0 675.0,2048.2 676.4,2048.2 676.4,2058.3 677.9,2058.3 677.9,2060.6 679.3,2060.6 679.3,2059.1 680.7,2059.1 680.7,2054.1 682.1,2054.1 682.1,2059.6 683.6,2059.6 683.6,2064.6 685.0,2064.6 685.0,2066.7 686.4,2066.7 686.4,2059.5 687.9,2059.5 687.9,2053.3 689.3,2053.3 689.3,2063.6 690.7,2063.6 690.7,2053.5 692.1,2053.5 692.1,2049.0 693.6,2049.0 693.6,2051.8 695.0,2051.8 695.0,2050.3 696.4,2050.3 696.4,2043.7 697.7,2043.7 697.7,2050.8 699.1,2050.8 699.1,2043.7 700.5,2043.7 700.5,2042.7 701.8,2042.7 701.8,2048.1 703.2,2048.1 703.2,2051.6 704.5,2051.6 704.5,2045.1 705.9,2045.1 705.9,2049.6 707.3,2049.6 707.3,2059.4 708.6,2059.4 708.6,2052.4 710.0,2052.4 710.0,2058.1 711.4,2058.1 711.4,2058.5 712.9,2058.5 712.9,2066.5 714.3,2066.5 714.3,2065.8 715.7,2065.8 715.7,2058.3 717.1,2058.3 717.1,2070.4 718.6,2070.4 718.6,2069.8 720.0,2069.8 720.0,2069.5 721.4,2069.5 721.4,2069.7 722.9,2069.7 722.9,2074.1 724.3,2074.1 724.3,2074.0 725.7,2074.0 725.7,2080.9 727.1,2080.9 727.1,2070.6 728.6,2070.6 728.6,2075.4 730.0,2075.4 730.0,2077.6 731.2,2077.6 731.2,2081.5 732.5,2081.5 732.5,2084.7 733.8,2084.7 733.8,2107.2 735.0,2107.2 735.0,2103.0 737.0,2103.0 737.0,2111.2 738.2,2111.2 738.2,2104.9 739.5,2104.9 739.5,2098.0 740.8,2098.0 740.8,2100.5 742.0,2100.5 742.0,2094.3 743.2,2094.3 743.2,2094.5 744.5,2094.5 744.5,2089.9 745.8,2089.9 745.8,2085.5 747.0,2085.5 747.0,2081.0 748.5,2081.0 748.5,2074.9 750.0,2074.9 750.0,2079.9 751.5,2079.9 751.5,2072.8 753.0,2072.8 753.0,2073.4 754.5,2073.4 754.5,2076.4 756.0,2076.4 756.0,2081.3" fill="none" stroke="#4fc05a" stroke-width="2.6" stroke-linejoin="round" stroke-linecap="round"/>
<rect x="110.9" y="2134.2" width="9" height="9" fill="#3b7f49"/>
<rect x="143.5" y="2184.5" width="9" height="9" fill="#3b7f49"/>
<rect x="176.5" y="2179.0" width="9" height="9" fill="#3b7f49"/>
<rect x="209.5" y="2179.0" width="9" height="9" fill="#3b7f49"/>
<rect x="242.5" y="2151.5" width="9" height="9" fill="#3b7f49"/>
<rect x="275.5" y="2129.5" width="9" height="9" fill="#3b7f49"/>
<rect x="307.5" y="2149.0" width="9" height="9" fill="#3b7f49"/>
<rect x="340.5" y="2158.0" width="9" height="9" fill="#3b7f49"/>
<rect x="374.5" y="2149.0" width="9" height="9" fill="#3b7f49"/>
<rect x="407.5" y="2151.5" width="9" height="9" fill="#3b7f49"/>
<rect x="440.5" y="2184.5" width="9" height="9" fill="#3b7f49"/>
<rect x="474.0" y="2048.0" width="9" height="9" fill="#3b7f49"/>
<rect x="506.5" y="2049.0" width="9" height="9" fill="#3b7f49"/>
<rect x="539.5" y="2078.0" width="9" height="9" fill="#3b7f49"/>
<rect x="572.0" y="1965.5" width="9" height="9" fill="#3b7f49"/>
<rect x="605.5" y="2194.0" width="9" height="9" fill="#3b7f49"/>
<rect x="639.0" y="2215.5" width="9" height="9" fill="#3b7f49"/>
<rect x="671.5" y="2189.0" width="9" height="9" fill="#3b7f49"/>
<rect x="704.5" y="2230.5" width="9" height="9" fill="#3b7f49"/>
<rect x="738.0" y="2210.5" width="9" height="9" fill="#3b7f49"/>
<line x1="93.4" y1="1801" x2="93.4" y2="1911" stroke="#000" stroke-width="4" stroke-linecap="butt"/>
<line x1="85.9" y1="1802" x2="93.4" y2="1802" stroke="#000" stroke-width="2.8" stroke-linecap="butt"/>
<line x1="85.9" y1="1826" x2="93.4" y2="1826" stroke="#000" stroke-width="2.8" stroke-linecap="butt"/>
<line x1="85.9" y1="1850" x2="93.4" y2="1850" stroke="#000" stroke-width="2.8" stroke-linecap="butt"/>
<line x1="85.9" y1="1874" x2="93.4" y2="1874" stroke="#000" stroke-width="2.8" stroke-linecap="butt"/>
<line x1="85.9" y1="1898.5" x2="93.4" y2="1898.5" stroke="#000" stroke-width="2.8" stroke-linecap="butt"/>
<line x1="88.4" y1="1814.0" x2="93.4" y2="1814.0" stroke="#000" stroke-width="2.2" stroke-linecap="butt"/>
<line x1="88.4" y1="1838.0" x2="93.4" y2="1838.0" stroke="#000" stroke-width="2.2" stroke-linecap="butt"/>
<line x1="88.4" y1="1862.0" x2="93.4" y2="1862.0" stroke="#000" stroke-width="2.2" stroke-linecap="butt"/>
<line x1="88.4" y1="1886.25" x2="93.4" y2="1886.25" stroke="#000" stroke-width="2.2" stroke-linecap="butt"/>
<text x="85.4" y="1806.4" font-size="12.4" fill="#000" font-weight="bold" text-anchor="end" textLength="27.6" lengthAdjust="spacingAndGlyphs" stroke="#000" stroke-width="0.27">1400</text>
<text x="85.4" y="1830.4" font-size="12.4" fill="#000" font-weight="bold" text-anchor="end" textLength="27.6" lengthAdjust="spacingAndGlyphs" stroke="#000" stroke-width="0.27">1200</text>
<text x="85.4" y="1854.4" font-size="12.4" fill="#000" font-weight="bold" text-anchor="end" textLength="27.6" lengthAdjust="spacingAndGlyphs" stroke="#000" stroke-width="0.27">1000</text>
<text x="85.4" y="1878.4" font-size="12.4" fill="#000" font-weight="bold" text-anchor="end" textLength="20.7" lengthAdjust="spacingAndGlyphs" stroke="#000" stroke-width="0.27">800</text>
<text x="85.4" y="1902.9" font-size="12.4" fill="#000" font-weight="bold" text-anchor="end" textLength="20.7" lengthAdjust="spacingAndGlyphs" stroke="#000" stroke-width="0.27">600</text>
<line x1="94" y1="1913" x2="94" y2="2021" stroke="#000" stroke-width="4" stroke-linecap="butt"/>
<line x1="86.5" y1="1932.8" x2="94" y2="1932.8" stroke="#000" stroke-width="2.8" stroke-linecap="butt"/>
<line x1="86.5" y1="1951" x2="94" y2="1951" stroke="#000" stroke-width="2.8" stroke-linecap="butt"/>
<line x1="86.5" y1="1969.7" x2="94" y2="1969.7" stroke="#000" stroke-width="2.8" stroke-linecap="butt"/>
<line x1="86.5" y1="1988" x2="94" y2="1988" stroke="#000" stroke-width="2.8" stroke-linecap="butt"/>
<line x1="86.5" y1="2007.4" x2="94" y2="2007.4" stroke="#000" stroke-width="2.8" stroke-linecap="butt"/>
<line x1="89" y1="1941.9" x2="94" y2="1941.9" stroke="#000" stroke-width="2.2" stroke-linecap="butt"/>
<line x1="89" y1="1960.35" x2="94" y2="1960.35" stroke="#000" stroke-width="2.2" stroke-linecap="butt"/>
<line x1="89" y1="1978.85" x2="94" y2="1978.85" stroke="#000" stroke-width="2.2" stroke-linecap="butt"/>
<line x1="89" y1="1997.7" x2="94" y2="1997.7" stroke="#000" stroke-width="2.2" stroke-linecap="butt"/>
<line x1="89" y1="1923.5" x2="94" y2="1923.5" stroke="#000" stroke-width="2.2" stroke-linecap="butt"/>
<line x1="89" y1="2016.5" x2="94" y2="2016.5" stroke="#000" stroke-width="2.2" stroke-linecap="butt"/>
<text x="86" y="1937.2" font-size="12.4" fill="#000" font-weight="bold" text-anchor="end" textLength="20.7" lengthAdjust="spacingAndGlyphs" stroke="#000" stroke-width="0.27">180</text>
<text x="86" y="1955.4" font-size="12.4" fill="#000" font-weight="bold" text-anchor="end" textLength="13.8" lengthAdjust="spacingAndGlyphs" stroke="#000" stroke-width="0.27">90</text>
<text x="86" y="1974.1000000000001" font-size="12.4" fill="#000" font-weight="bold" text-anchor="end" textLength="6.9" lengthAdjust="spacingAndGlyphs" stroke="#000" stroke-width="0.27">0</text>
<text x="86" y="1992.4" font-size="12.4" fill="#000" font-weight="bold" text-anchor="end" textLength="17.9" lengthAdjust="spacingAndGlyphs" stroke="#000" stroke-width="0.27">-90</text>
<text x="86" y="2011.8000000000002" font-size="12.4" fill="#000" font-weight="bold" text-anchor="end" textLength="24.8" lengthAdjust="spacingAndGlyphs" stroke="#000" stroke-width="0.27">-180</text>
<line x1="94.9" y1="2029" x2="94.9" y2="2129" stroke="#000" stroke-width="4" stroke-linecap="butt"/>
<line x1="87.4" y1="2046" x2="94.9" y2="2046" stroke="#000" stroke-width="2.8" stroke-linecap="butt"/>
<line x1="87.4" y1="2079" x2="94.9" y2="2079" stroke="#000" stroke-width="2.8" stroke-linecap="butt"/>
<line x1="87.4" y1="2111.5" x2="94.9" y2="2111.5" stroke="#000" stroke-width="2.8" stroke-linecap="butt"/>
<line x1="89.9" y1="2062.5" x2="94.9" y2="2062.5" stroke="#000" stroke-width="2.2" stroke-linecap="butt"/>
<line x1="89.9" y1="2095.25" x2="94.9" y2="2095.25" stroke="#000" stroke-width="2.2" stroke-linecap="butt"/>
<line x1="89.9" y1="2030" x2="94.9" y2="2030" stroke="#000" stroke-width="2.2" stroke-linecap="butt"/>
<text x="86.9" y="2050.4" font-size="12.4" fill="#000" font-weight="bold" text-anchor="end" textLength="20.7" lengthAdjust="spacingAndGlyphs" stroke="#000" stroke-width="0.27">150</text>
<text x="86.9" y="2083.4" font-size="12.4" fill="#000" font-weight="bold" text-anchor="end" textLength="20.7" lengthAdjust="spacingAndGlyphs" stroke="#000" stroke-width="0.27">100</text>
<text x="86.9" y="2115.9" font-size="12.4" fill="#000" font-weight="bold" text-anchor="end" textLength="13.8" lengthAdjust="spacingAndGlyphs" stroke="#000" stroke-width="0.27">50</text>
<line x1="96.1" y1="2133" x2="96.1" y2="2253" stroke="#000" stroke-width="4" stroke-linecap="butt"/>
<line x1="88.6" y1="2138.7" x2="96.1" y2="2138.7" stroke="#000" stroke-width="2.8" stroke-linecap="butt"/>
<line x1="88.6" y1="2168.6" x2="96.1" y2="2168.6" stroke="#000" stroke-width="2.8" stroke-linecap="butt"/>
<line x1="88.6" y1="2195.9" x2="96.1" y2="2195.9" stroke="#000" stroke-width="2.8" stroke-linecap="butt"/>
<line x1="88.6" y1="2222.9" x2="96.1" y2="2222.9" stroke="#000" stroke-width="2.8" stroke-linecap="butt"/>
<line x1="88.6" y1="2250" x2="96.1" y2="2250" stroke="#000" stroke-width="2.8" stroke-linecap="butt"/>
<line x1="91.1" y1="2153.6499999999996" x2="96.1" y2="2153.6499999999996" stroke="#000" stroke-width="2.2" stroke-linecap="butt"/>
<line x1="91.1" y1="2182.25" x2="96.1" y2="2182.25" stroke="#000" stroke-width="2.2" stroke-linecap="butt"/>
<line x1="91.1" y1="2209.4" x2="96.1" y2="2209.4" stroke="#000" stroke-width="2.2" stroke-linecap="butt"/>
<line x1="91.1" y1="2236.45" x2="96.1" y2="2236.45" stroke="#000" stroke-width="2.2" stroke-linecap="butt"/>
<text x="88.1" y="2143.1" font-size="12.4" fill="#000" font-weight="bold" text-anchor="end" textLength="27.6" lengthAdjust="spacingAndGlyphs" stroke="#000" stroke-width="0.27">1000</text>
<text x="88.1" y="2173.0" font-size="12.4" fill="#000" font-weight="bold" text-anchor="end" textLength="20.7" lengthAdjust="spacingAndGlyphs" stroke="#000" stroke-width="0.27">800</text>
<text x="88.1" y="2200.3" font-size="12.4" fill="#000" font-weight="bold" text-anchor="end" textLength="20.7" lengthAdjust="spacingAndGlyphs" stroke="#000" stroke-width="0.27">600</text>
<text x="88.1" y="2227.3" font-size="12.4" fill="#000" font-weight="bold" text-anchor="end" textLength="20.7" lengthAdjust="spacingAndGlyphs" stroke="#000" stroke-width="0.27">400</text>
<text x="88.1" y="2254.4" font-size="12.4" fill="#000" font-weight="bold" text-anchor="end" textLength="20.7" lengthAdjust="spacingAndGlyphs" stroke="#000" stroke-width="0.27">200</text>
<line x1="91.4" y1="1910.4" x2="756.6" y2="1910.4" stroke="#000" stroke-width="3.3" stroke-linecap="butt"/>
<line x1="95" y1="1910.4" x2="95" y2="1917.5500000000002" stroke="#000" stroke-width="2.8" stroke-linecap="butt"/>
<line x1="260" y1="1910.4" x2="260" y2="1917.5500000000002" stroke="#000" stroke-width="2.8" stroke-linecap="butt"/>
<line x1="425" y1="1910.4" x2="425" y2="1917.5500000000002" stroke="#000" stroke-width="2.8" stroke-linecap="butt"/>
<line x1="590" y1="1910.4" x2="590" y2="1917.5500000000002" stroke="#000" stroke-width="2.8" stroke-linecap="butt"/>
<line x1="756" y1="1910.4" x2="756" y2="1917.5500000000002" stroke="#000" stroke-width="2.8" stroke-linecap="butt"/>
<line x1="177.5" y1="1910.4" x2="177.5" y2="1915.5500000000002" stroke="#000" stroke-width="2.2" stroke-linecap="butt"/>
<line x1="342.5" y1="1910.4" x2="342.5" y2="1915.5500000000002" stroke="#000" stroke-width="2.2" stroke-linecap="butt"/>
<line x1="507.5" y1="1910.4" x2="507.5" y2="1915.5500000000002" stroke="#000" stroke-width="2.2" stroke-linecap="butt"/>
<line x1="673.0" y1="1910.4" x2="673.0" y2="1915.5500000000002" stroke="#000" stroke-width="2.2" stroke-linecap="butt"/>
<text x="95" y="1926.9" font-size="11" fill="#000" font-weight="bold" text-anchor="middle" textLength="18.3" lengthAdjust="spacingAndGlyphs" stroke="#000" stroke-width="0.24">190</text>
<text x="260" y="1926.9" font-size="11" fill="#000" font-weight="bold" text-anchor="middle" textLength="18.3" lengthAdjust="spacingAndGlyphs" stroke="#000" stroke-width="0.24">195</text>
<text x="425" y="1926.9" font-size="11" fill="#000" font-weight="bold" text-anchor="middle" textLength="18.3" lengthAdjust="spacingAndGlyphs" stroke="#000" stroke-width="0.24">200</text>
<text x="590" y="1926.9" font-size="11" fill="#000" font-weight="bold" text-anchor="middle" textLength="18.3" lengthAdjust="spacingAndGlyphs" stroke="#000" stroke-width="0.24">205</text>
<text x="756" y="1926.9" font-size="11" fill="#000" font-weight="bold" text-anchor="middle" textLength="18.3" lengthAdjust="spacingAndGlyphs" stroke="#000" stroke-width="0.24">210</text>
<line x1="91.4" y1="2022.5" x2="756.6" y2="2022.5" stroke="#000" stroke-width="3.3" stroke-linecap="butt"/>
<line x1="95" y1="2022.5" x2="95" y2="2029.65" stroke="#000" stroke-width="2.8" stroke-linecap="butt"/>
<line x1="260" y1="2022.5" x2="260" y2="2029.65" stroke="#000" stroke-width="2.8" stroke-linecap="butt"/>
<line x1="425" y1="2022.5" x2="425" y2="2029.65" stroke="#000" stroke-width="2.8" stroke-linecap="butt"/>
<line x1="590" y1="2022.5" x2="590" y2="2029.65" stroke="#000" stroke-width="2.8" stroke-linecap="butt"/>
<line x1="756" y1="2022.5" x2="756" y2="2029.65" stroke="#000" stroke-width="2.8" stroke-linecap="butt"/>
<line x1="177.5" y1="2022.5" x2="177.5" y2="2027.65" stroke="#000" stroke-width="2.2" stroke-linecap="butt"/>
<line x1="342.5" y1="2022.5" x2="342.5" y2="2027.65" stroke="#000" stroke-width="2.2" stroke-linecap="butt"/>
<line x1="507.5" y1="2022.5" x2="507.5" y2="2027.65" stroke="#000" stroke-width="2.2" stroke-linecap="butt"/>
<line x1="673.0" y1="2022.5" x2="673.0" y2="2027.65" stroke="#000" stroke-width="2.2" stroke-linecap="butt"/>
<text x="95" y="2039.0" font-size="11" fill="#000" font-weight="bold" text-anchor="middle" textLength="18.3" lengthAdjust="spacingAndGlyphs" stroke="#000" stroke-width="0.24">190</text>
<text x="260" y="2039.0" font-size="11" fill="#000" font-weight="bold" text-anchor="middle" textLength="18.3" lengthAdjust="spacingAndGlyphs" stroke="#000" stroke-width="0.24">195</text>
<text x="425" y="2039.0" font-size="11" fill="#000" font-weight="bold" text-anchor="middle" textLength="18.3" lengthAdjust="spacingAndGlyphs" stroke="#000" stroke-width="0.24">200</text>
<text x="590" y="2039.0" font-size="11" fill="#000" font-weight="bold" text-anchor="middle" textLength="18.3" lengthAdjust="spacingAndGlyphs" stroke="#000" stroke-width="0.24">205</text>
<text x="756" y="2039.0" font-size="11" fill="#000" font-weight="bold" text-anchor="middle" textLength="18.3" lengthAdjust="spacingAndGlyphs" stroke="#000" stroke-width="0.24">210</text>
<line x1="96.1" y1="2133" x2="96.1" y2="2252" stroke="#000" stroke-width="4" stroke-linecap="butt"/>
<path d="M95.0,1876.0h0M96.2,1871.5h0M97.4,1875.5h0M98.6,1873.0h0M99.8,1869.0h0M101.0,1870.9h0M102.2,1874.5h0M103.4,1870.9h0M104.6,1871.4h0M105.8,1874.9h0M107.0,1875.3h0M108.2,1875.8h0M109.4,1871.2h0M110.6,1872.9h0M111.9,1874.5h0M113.1,1874.0h0M114.3,1876.1h0M115.5,1870.6h0M116.7,1871.2h0M117.9,1875.4h0M119.1,1870.9h0M120.3,1876.9h0M121.5,1871.5h0M122.7,1871.2h0M123.9,1873.5h0M125.1,1870.2h0M126.3,1875.5h0M127.5,1873.4h0M128.7,1867.8h0M129.9,1868.1h0M131.1,1873.9h0M132.3,1867.9h0M133.5,1869.8h0M134.7,1869.0h0M135.9,1868.8h0M137.1,1869.4h0M138.3,1869.0h0M139.5,1874.9h0M140.7,1871.5h0M141.9,1875.6h0M143.1,1869.6h0M144.4,1873.9h0M145.6,1872.3h0M146.8,1870.1h0M148.0,1874.2h0M149.2,1875.4h0M150.4,1872.6h0M151.6,1871.9h0M152.8,1876.2h0M154.0,1869.6h0M155.2,1869.4h0M156.4,1870.4h0M157.6,1876.6h0M158.8,1873.7h0M160.0,1874.8h0M161.2,1870.9h0M162.4,1872.4h0M163.6,1876.0h0M164.8,1871.8h0M166.0,1870.2h0M167.2,1869.2h0M168.4,1873.2h0M169.6,1872.5h0M170.8,1870.2h0M172.0,1871.5h0M173.2,1875.1h0M174.4,1873.2h0M175.6,1870.7h0M176.8,1868.2h0M178.0,1869.1h0M179.2,1873.0h0M180.4,1867.9h0M181.6,1869.1h0M182.8,1871.1h0M184.0,1872.0h0M185.2,1871.2h0M186.4,1870.7h0M187.6,1869.6h0M188.8,1867.9h0M190.0,1872.3h0M191.2,1871.4h0M192.4,1871.1h0M193.6,1868.2h0M194.8,1875.0h0M196.0,1870.6h0M197.2,1875.0h0M198.4,1871.4h0M199.6,1874.0h0M200.8,1872.3h0M202.0,1870.5h0M203.2,1871.2h0M204.4,1872.5h0M205.6,1869.6h0M206.8,1869.3h0M208.0,1875.2h0M209.2,1873.0h0M210.4,1872.1h0M211.6,1871.1h0M212.7,1875.9h0M213.9,1876.0h0M215.1,1874.9h0M216.3,1875.5h0M217.5,1874.1h0M218.7,1874.9h0M219.9,1872.3h0M221.0,1877.4h0M222.2,1875.2h0M223.4,1870.3h0M224.6,1872.8h0M225.8,1871.6h0M227.0,1875.7h0M228.1,1879.2h0M229.3,1873.6h0M230.5,1876.8h0M231.7,1876.7h0M232.9,1874.5h0M234.1,1879.6h0M235.3,1878.9h0M236.4,1876.1h0M237.6,1880.6h0M238.8,1874.7h0M240.0,1880.2h0M241.2,1877.9h0M242.4,1878.4h0M243.6,1880.0h0M244.8,1879.6h0M246.0,1881.1h0M247.2,1880.1h0M248.4,1876.0h0M249.6,1875.7h0M250.8,1882.2h0M252.0,1877.0h0M253.2,1878.1h0M254.4,1877.2h0M255.6,1877.4h0M256.8,1878.5h0M258.0,1877.4h0M259.2,1881.9h0M260.4,1876.6h0M261.6,1881.7h0M262.8,1878.3h0M264.0,1877.8h0M265.2,1882.1h0M266.4,1876.7h0M267.6,1878.4h0M268.8,1883.3h0M270.0,1877.6h0M271.2,1879.4h0M272.4,1885.1h0M273.6,1884.5h0M274.8,1884.7h0M276.0,1883.1h0M277.2,1883.0h0M278.4,1885.6h0M279.6,1882.2h0M280.8,1883.4h0M282.0,1878.8h0M283.2,1881.0h0M284.4,1886.1h0M285.6,1885.2h0M286.8,1880.4h0M288.0,1884.1h0M289.2,1883.3h0M290.4,1882.4h0M291.6,1881.1h0M292.8,1883.5h0M294.0,1885.4h0M295.2,1884.0h0M296.4,1885.4h0M297.6,1879.4h0M298.8,1882.7h0M300.0,1884.8h0M301.2,1885.1h0M302.4,1882.3h0M303.6,1884.8h0M304.8,1880.0h0M306.0,1882.2h0M307.2,1882.8h0M308.4,1881.8h0M309.6,1884.4h0M310.8,1884.3h0M312.0,1885.2h0M313.2,1882.1h0M314.4,1882.4h0M315.6,1880.9h0M316.8,1883.9h0M318.0,1885.2h0M319.2,1885.5h0M320.4,1881.2h0M321.6,1885.1h0M322.8,1880.6h0M324.0,1885.4h0M325.2,1887.0h0M326.4,1886.5h0M327.6,1880.5h0M328.8,1880.5h0M330.0,1880.4h0M331.2,1879.6h0M332.4,1885.2h0M333.6,1883.5h0M334.8,1880.4h0M336.0,1883.5h0M337.2,1886.7h0M338.4,1881.8h0M339.6,1885.5h0M340.8,1882.1h0M342.0,1886.1h0M343.2,1881.6h0M344.4,1884.2h0M345.6,1883.3h0M346.8,1884.3h0M348.0,1885.7h0M349.2,1885.6h0M350.4,1885.1h0M351.6,1881.8h0M352.8,1883.4h0M354.0,1884.4h0M355.2,1885.0h0M356.4,1882.1h0M357.6,1880.4h0M358.8,1886.5h0M360.0,1882.9h0M361.2,1886.4h0M362.4,1881.5h0M363.6,1885.3h0M364.8,1883.4h0M366.0,1886.8h0M367.2,1889.5h0M368.4,1887.1h0M369.6,1884.0h0M370.8,1888.0h0M372.0,1884.8h0M373.2,1887.2h0M374.4,1888.5h0M375.6,1886.9h0M376.9,1887.9h0M378.1,1887.2h0M379.3,1885.1h0M380.5,1887.1h0M381.7,1884.6h0M382.9,1887.9h0M384.1,1888.8h0M385.3,1886.2h0M386.5,1888.1h0M387.7,1886.3h0M388.9,1881.9h0M390.1,1884.2h0M391.3,1883.6h0M392.5,1886.6h0M393.7,1887.0h0M394.9,1884.0h0M396.1,1887.2h0M397.3,1883.3h0M398.5,1884.3h0M399.7,1882.7h0M400.9,1882.0h0M402.1,1882.6h0M403.3,1886.1h0M404.5,1882.8h0M405.7,1880.3h0M406.9,1883.7h0M408.1,1882.4h0M409.4,1887.5h0M410.6,1884.0h0M411.8,1887.4h0M413.0,1884.2h0M414.2,1885.2h0M415.4,1882.4h0M416.6,1883.6h0M417.8,1888.7h0M419.0,1885.6h0M420.2,1885.6h0M421.4,1885.5h0M422.6,1887.9h0M423.8,1889.9h0M425.0,1888.0h0M426.2,1888.1h0M427.4,1886.2h0M428.6,1886.5h0M429.8,1888.4h0M431.0,1885.7h0M432.1,1888.9h0M433.3,1891.1h0M434.5,1891.2h0M435.7,1891.5h0M436.9,1889.1h0M438.1,1891.7h0M439.3,1892.3h0M440.5,1890.0h0M441.7,1892.4h0M442.9,1890.5h0M444.0,1894.6h0M445.2,1892.6h0M446.4,1888.3h0M447.6,1891.1h0M448.8,1890.6h0M450.0,1887.0h0M451.2,1890.1h0M452.4,1892.6h0M453.6,1887.1h0M454.8,1891.5h0M456.0,1891.9h0M457.1,1889.0h0M458.3,1889.4h0M459.5,1893.2h0M460.7,1889.2h0M461.9,1894.7h0M463.1,1894.8h0M464.3,1893.6h0M465.5,1893.2h0M466.7,1891.1h0M467.9,1888.8h0M469.0,1893.6h0M470.2,1893.0h0M471.4,1892.8h0M472.6,1888.7h0M473.8,1889.6h0M475.0,1891.3h0M476.2,1894.7h0M477.4,1891.3h0M478.6,1891.9h0M479.8,1890.0h0M481.0,1894.8h0M482.1,1890.4h0M483.3,1894.1h0M484.5,1890.3h0M485.7,1892.7h0M486.9,1893.7h0M488.1,1893.5h0M489.3,1888.9h0M490.5,1890.8h0M491.7,1890.9h0M492.9,1888.2h0M494.0,1890.6h0M495.2,1888.5h0M496.4,1887.9h0M497.6,1889.1h0M498.8,1893.5h0M500.0,1891.1h0M501.2,1887.0h0M502.4,1890.8h0M503.6,1892.9h0M504.8,1889.5h0M506.0,1887.5h0M507.1,1889.8h0M508.3,1889.0h0M509.5,1893.6h0M510.7,1887.1h0M511.9,1892.9h0M513.1,1887.0h0M514.3,1888.1h0M515.5,1889.3h0M516.7,1891.6h0M517.9,1888.1h0M519.0,1894.0h0M520.2,1889.3h0M521.4,1888.9h0M522.6,1890.5h0M523.8,1894.9h0M525.0,1894.7h0M526.2,1895.8h0M527.4,1893.3h0M528.6,1892.9h0M529.8,1890.4h0M531.0,1887.9h0M532.2,1889.7h0M533.4,1892.9h0M534.6,1889.9h0M535.8,1888.0h0M537.0,1892.5h0M538.2,1889.6h0M539.4,1894.4h0M540.6,1888.2h0M541.8,1886.5h0M543.0,1890.0h0M544.2,1887.9h0M545.4,1889.0h0M546.6,1889.6h0M547.8,1886.2h0M549.0,1889.0h0M550.2,1890.4h0M551.4,1885.6h0M552.6,1885.0h0M553.8,1887.3h0M555.0,1890.2h0M556.2,1890.9h0M557.4,1887.6h0M558.6,1884.9h0M559.8,1891.1h0M561.0,1885.2h0M562.2,1886.6h0M563.4,1887.1h0M564.6,1888.6h0M565.8,1887.9h0M567.0,1888.9h0M568.2,1886.1h0M569.4,1882.4h0M570.6,1886.6h0M571.8,1886.2h0M573.0,1882.4h0M574.2,1885.9h0M575.4,1885.3h0M576.6,1880.6h0M577.8,1884.0h0M579.0,1881.7h0M580.2,1884.2h0M581.4,1883.5h0M582.6,1882.0h0M583.8,1878.1h0M585.0,1877.9h0M586.2,1877.5h0M587.5,1876.1h0M588.8,1877.9h0M590.0,1878.8h0M591.2,1873.5h0M592.5,1877.1h0M593.8,1874.9h0M595.0,1875.7h0M596.2,1867.3h0M597.5,1870.5h0M598.8,1867.8h0M600.0,1867.8h0M601.2,1866.5h0M602.5,1869.3h0M603.8,1870.6h0M605.0,1867.5h0M606.2,1869.0h0M607.5,1868.4h0M608.8,1867.4h0M610.0,1871.0h0M611.2,1866.5h0M612.4,1866.2h0M613.6,1866.0h0M614.8,1866.3h0M616.0,1864.0h0M617.1,1868.7h0M618.3,1867.5h0M619.5,1862.7h0M620.7,1863.6h0M621.9,1864.6h0M623.1,1860.6h0M624.3,1865.4h0M625.5,1864.8h0M626.7,1857.3h0M627.9,1859.8h0M629.0,1861.2h0M630.2,1857.7h0M631.4,1855.2h0M632.6,1858.9h0M633.8,1854.7h0M635.0,1858.8h0M636.2,1852.4h0M637.4,1856.6h0M638.6,1858.7h0M639.8,1859.0h0M641.0,1856.3h0M642.2,1853.1h0M643.4,1854.2h0M644.6,1852.9h0M645.8,1856.7h0M647.0,1850.7h0M648.2,1850.6h0M649.4,1852.1h0M650.6,1852.8h0M651.8,1852.7h0M653.0,1850.1h0M654.2,1851.7h0M655.4,1853.0h0M656.6,1851.6h0M657.8,1851.5h0M659.0,1849.1h0M660.2,1851.3h0M661.4,1848.3h0M662.6,1849.9h0M663.8,1850.7h0M665.0,1845.1h0M666.2,1850.7h0M667.4,1845.3h0M668.6,1846.7h0M669.8,1847.3h0M671.0,1843.7h0M672.2,1844.5h0M673.4,1846.2h0M674.6,1848.6h0M675.8,1850.1h0M677.0,1847.9h0M678.2,1843.3h0M679.4,1844.4h0M680.6,1839.5h0M681.8,1841.9h0M683.0,1841.0h0M684.2,1842.5h0M685.4,1842.4h0M686.6,1838.6h0M687.8,1836.6h0M689.0,1837.4h0M690.2,1839.3h0M691.4,1838.2h0M692.6,1838.3h0M693.8,1837.8h0M695.0,1834.3h0M696.2,1837.4h0M697.5,1836.7h0M698.8,1831.0h0M700.0,1829.6h0M701.2,1833.6h0M702.5,1829.5h0M703.8,1832.7h0M705.0,1826.8h0M706.2,1832.1h0M707.5,1827.0h0M708.8,1830.1h0M710.0,1827.6h0M711.2,1826.5h0M712.5,1829.0h0M713.8,1835.1h0M715.0,1832.9h0M716.2,1835.5h0M717.5,1840.5h0M718.8,1835.3h0M720.0,1838.8h0M721.2,1843.3h0M722.4,1843.0h0M723.5,1840.7h0M724.7,1842.3h0M725.9,1842.2h0M727.1,1846.3h0M728.2,1842.7h0M729.4,1844.7h0M730.6,1848.6h0M731.8,1843.6h0M732.9,1846.9h0M734.1,1848.2h0M735.3,1851.2h0M736.5,1848.8h0M737.6,1851.9h0M738.8,1850.2h0M740.0,1852.6h0M741.2,1853.2h0M742.5,1853.5h0M743.7,1848.9h0M744.9,1851.9h0M746.2,1850.5h0M747.4,1847.1h0M748.6,1849.4h0M749.8,1850.4h0M751.1,1846.7h0M752.3,1847.0h0M753.5,1845.5h0M754.8,1844.3h0M756.0,1848.4h0" fill="none" stroke="#000" stroke-width="5" stroke-linecap="square"/>
<polyline points="95.0,1922.7 96.6,1922.7 96.6,1923.1 98.2,1923.1 98.2,1925.6 99.9,1925.6 99.9,1928.1 101.5,1928.1 101.5,1925.7 103.1,1925.7 103.1,1924.8 104.7,1924.8 104.7,1925.9 106.3,1925.9 106.3,1924.4 107.9,1924.4 107.9,1924.9 109.6,1924.9 109.6,1925.1 111.2,1925.1 111.2,1924.8 112.8,1924.8 112.8,1925.4 114.4,1925.4 114.4,1924.1 116.0,1924.1 116.0,1925.4 117.6,1925.4 117.6,1926.6 119.3,1926.6 119.3,1924.1 120.9,1924.1 120.9,1926.5 122.5,1926.5 122.5,1926.7 124.1,1926.7 124.1,1924.8 125.7,1924.8 125.7,1924.4 127.4,1924.4 127.4,1926.9 129.0,1926.9 129.0,1927.0 130.6,1927.0 130.6,1925.3 132.2,1925.3 132.2,1927.0 133.8,1927.0 133.8,1925.6 135.4,1925.6 135.4,1925.7 137.1,1925.7 137.1,1925.1 138.7,1925.1 138.7,1924.2 140.3,1924.2 140.3,1923.4 141.9,1923.4 141.9,1925.1 143.5,1925.1 143.5,1924.8 145.1,1924.8 145.1,1925.0 146.8,1925.0 146.8,1925.4 148.4,1925.4 148.4,1925.0 150.0,1925.0 150.0,1924.8 151.6,1924.8 151.6,1926.4 153.2,1926.4 153.2,1924.1 154.8,1924.1 154.8,1924.7 156.5,1924.7 156.5,1926.5 158.1,1926.5 158.1,1925.8 159.7,1925.8 159.7,1925.0 161.3,1925.0 161.3,1925.2 162.9,1925.2 162.9,1927.1 164.5,1927.1 164.5,1924.4 166.1,1924.4 166.1,1924.9 167.7,1924.9 167.7,1923.2 169.4,1923.2 169.4,1926.0 171.0,1926.0 171.0,1924.7 172.6,1924.7 172.6,1925.1 174.2,1925.1 174.2,1923.5 175.8,1923.5 175.8,1925.2 177.4,1925.2 177.4,1923.2 179.0,1923.2 179.0,1924.9 180.6,1924.9 180.6,1924.3 182.3,1924.3 182.3,1921.8 183.9,1921.8 183.9,1926.2 185.5,1926.2 185.5,1923.7 187.1,1923.7 187.1,1923.7 188.7,1923.7 188.7,1924.8 190.3,1924.8 190.3,1926.0 191.9,1926.0 191.9,1925.4 193.5,1925.4 193.5,1923.6 195.2,1923.6 195.2,1924.9 196.8,1924.9 196.8,1924.3 198.4,1924.3 198.4,1925.4 200.0,1925.4 200.0,1924.1 201.7,1924.1 201.7,1922.7 203.3,1922.7 203.3,1922.2 205.0,1922.2 205.0,1922.0 206.7,1922.0 206.7,1922.8 208.3,1922.8 208.3,1923.7 210.0,1923.7 210.0,1922.6 211.7,1922.6 211.7,1921.5 213.3,1921.5 213.3,1923.9 215.0,1923.9 215.0,1923.8 216.7,1923.8 216.7,1924.6 218.3,1924.6 218.3,1923.2 220.0,1923.2 220.0,1925.9 221.7,1925.9 221.7,1924.6 223.3,1924.6 223.3,1924.7 225.0,1924.7 225.0,1924.9 226.7,1924.9 226.7,1926.7 228.3,1926.7 228.3,1925.4 230.0,1925.4 230.0,1927.0 231.6,1927.0 231.6,1926.7 233.2,1926.7 233.2,1929.2 234.8,1929.2 234.8,1925.1 236.4,1925.1 236.4,1925.5 238.0,1925.5 238.0,1925.5 239.5,1925.5 239.5,1926.8 241.1,1926.8 241.1,1927.9 242.7,1927.9 242.7,1927.6 244.3,1927.6 244.3,1927.3 245.9,1927.3 245.9,1926.9 247.5,1926.9 247.5,1927.9 249.1,1927.9 249.1,1927.0 250.7,1927.0 250.7,1928.5 252.3,1928.5 252.3,1926.7 253.9,1926.7 253.9,1927.2 255.5,1927.2 255.5,1927.0 257.0,1927.0 257.0,1928.3 258.6,1928.3 258.6,1927.0 260.2,1927.0 260.2,1926.6 261.8,1926.6 261.8,1928.3 263.4,1928.3 263.4,1927.1 265.0,1927.1 265.0,1927.7 266.6,1927.7 266.6,1926.7 268.2,1926.7 268.2,1929.0 269.8,1929.0 269.8,1927.3 271.4,1927.3 271.4,1927.6 273.0,1927.6 273.0,1929.3 274.5,1929.3 274.5,1928.9 276.1,1928.9 276.1,1928.6 277.7,1928.6 277.7,1928.8 279.3,1928.8 279.3,1927.5 280.9,1927.5 280.9,1928.6 282.5,1928.6 282.5,1927.9 284.1,1927.9 284.1,1928.3 285.7,1928.3 285.7,1930.4 287.3,1930.4 287.3,1930.7 288.9,1930.7 288.9,1929.4 290.5,1929.4 290.5,1927.1 292.0,1927.1 292.0,1928.1 293.6,1928.1 293.6,1929.7 295.2,1929.7 295.2,1929.6 296.8,1929.6 296.8,1930.0 298.4,1930.0 298.4,1930.8 300.0,1930.8 300.0,1928.0 301.6,1928.0 301.6,1929.3 303.2,1929.3 303.2,1929.7 304.7,1929.7 304.7,1929.6 306.3,1929.6 306.3,1928.5 307.9,1928.5 307.9,1930.4 309.5,1930.4 309.5,1931.9 311.1,1931.9 311.1,1932.6 312.6,1932.6 312.6,1929.9 314.2,1929.9 314.2,1931.9 315.8,1931.9 315.8,1930.9 317.4,1930.9 317.4,1930.3 318.9,1930.3 318.9,1930.1 320.5,1930.1 320.5,1931.0 322.1,1931.0 322.1,1929.5 323.7,1929.5 323.7,1929.4 325.3,1929.4 325.3,1929.3 326.8,1929.3 326.8,1927.1 328.4,1927.1 328.4,1929.6 330.0,1929.6 330.0,1930.3 331.6,1930.3 331.6,1931.1 333.2,1931.1 333.2,1929.6 334.7,1929.6 334.7,1929.8 336.3,1929.8 336.3,1928.9 337.9,1928.9 337.9,1931.0 339.5,1931.0 339.5,1932.8 341.1,1932.8 341.1,1929.7 342.6,1929.7 342.6,1931.0 344.2,1931.0 344.2,1931.0 345.8,1931.0 345.8,1929.6 347.4,1929.6 347.4,1928.7 348.9,1928.7 348.9,1929.6 350.5,1929.6 350.5,1929.0 352.1,1929.0 352.1,1929.5 353.7,1929.5 353.7,1930.3 355.3,1930.3 355.3,1931.0 356.8,1931.0 356.8,1931.8 358.4,1931.8 358.4,1931.9 360.0,1931.9 360.0,1931.4 361.6,1931.4 361.6,1930.0 363.2,1930.0 363.2,1930.1 364.8,1930.1 364.8,1929.1 366.3,1929.1 366.3,1929.5 367.9,1929.5 367.9,1930.1 369.5,1930.1 369.5,1929.4 371.1,1929.4 371.1,1930.4 372.7,1930.4 372.7,1930.4 374.3,1930.4 374.3,1929.5 375.9,1929.5 375.9,1931.5 377.4,1931.5 377.4,1929.3 379.0,1929.3 379.0,1930.0 380.6,1930.0 380.6,1927.4 382.2,1927.4 382.2,1928.7 383.8,1928.7 383.8,1929.5 385.4,1929.5 385.4,1931.0 387.0,1931.0 387.0,1931.3 388.5,1931.3 388.5,1931.5 390.1,1931.5 390.1,1930.1 391.7,1930.1 391.7,1930.1 393.3,1930.1 393.3,1929.9 394.9,1929.9 394.9,1929.5 396.5,1929.5 396.5,1931.6 398.0,1931.6 398.0,1928.9 399.6,1928.9 399.6,1929.6 401.2,1929.6 401.2,1931.6 402.8,1931.6 402.8,1931.0 404.4,1931.0 404.4,1932.1 406.0,1932.1 406.0,1930.4 407.6,1930.4 407.6,1931.9 409.1,1931.9 409.1,1932.0 410.7,1932.0 410.7,1931.7 412.3,1931.7 412.3,1931.1 413.9,1931.1 413.9,1930.7 415.5,1930.7 415.5,1933.4 417.1,1933.4 417.1,1931.4 418.7,1931.4 418.7,1930.4 420.2,1930.4 420.2,1931.7 421.8,1931.7 421.8,1932.2 423.4,1932.2 423.4,1932.7 425.0,1932.7 425.0,1931.5 426.6,1931.5 426.6,1932.2 428.2,1932.2 428.2,1931.8 429.8,1931.8 429.8,1932.6 431.5,1932.6 431.5,1931.3 433.1,1931.3 433.1,1931.3 434.7,1931.3 434.7,1932.2 436.3,1932.2 436.3,1932.5 437.9,1932.5 437.9,1932.9 439.5,1932.9 439.5,1933.1 441.1,1933.1 441.1,1932.5 442.7,1932.5 442.7,1933.1 444.4,1933.1 444.4,1930.7 446.0,1930.7 446.0,1930.8 447.6,1930.8 447.6,1931.1 449.2,1931.1 449.2,1933.3 450.8,1933.3 450.8,1931.4 452.4,1931.4 452.4,1934.7 454.0,1934.7 454.0,1932.0 455.6,1932.0 455.6,1930.7 457.3,1930.7 457.3,1932.0 458.9,1932.0 458.9,1931.0 460.5,1931.0 460.5,1933.3 462.1,1933.3 462.1,1931.1 463.7,1931.1 463.7,1930.9 465.3,1930.9 465.3,1932.5 466.9,1932.5 466.9,1932.9 468.5,1932.9 468.5,1931.4 470.2,1931.4 470.2,1933.8 471.8,1933.8 471.8,1933.3 473.4,1933.3 473.4,1933.6 475.0,1933.6 475.0,1933.2 476.6,1933.2 476.6,1931.6 478.2,1931.6 478.2,1932.0 479.8,1932.0 479.8,1931.3 481.5,1931.3 481.5,1932.4 483.1,1932.4 483.1,1933.7 484.7,1933.7 484.7,1932.2 486.3,1932.2 486.3,1932.6 487.9,1932.6 487.9,1934.5 489.5,1934.5 489.5,1932.3 491.1,1932.3 491.1,1933.1 492.7,1933.1 492.7,1933.3 494.4,1933.3 494.4,1934.8 496.0,1934.8 496.0,1934.1 497.6,1934.1 497.6,1933.0 499.2,1933.0 499.2,1934.1 500.8,1934.1 500.8,1932.8 502.4,1932.8 502.4,1934.5 504.0,1934.5 504.0,1933.2 505.6,1933.2 505.6,1932.7 507.3,1932.7 507.3,1934.2 508.9,1934.2 508.9,1932.2 510.5,1932.2 510.5,1932.1 512.1,1932.1 512.1,1934.8 513.7,1934.8 513.7,1934.6 515.3,1934.6 515.3,1933.9 516.9,1933.9 516.9,1935.5 518.5,1935.5 518.5,1934.5 520.2,1934.5 520.2,1935.6 521.8,1935.6 521.8,1935.3 523.4,1935.3 523.4,1935.8 525.0,1935.8 525.0,1935.5 526.6,1935.5 526.6,1934.4 528.2,1934.4 528.2,1934.9 529.7,1934.9 529.7,1933.2 531.3,1933.2 531.3,1936.8 532.9,1936.8 532.9,1934.1 534.5,1934.1 534.5,1935.8 536.1,1935.8 536.1,1933.3 537.6,1933.3 537.6,1933.8 539.2,1933.8 539.2,1931.7 540.8,1931.7 540.8,1933.8 542.4,1933.8 542.4,1932.7 543.9,1932.7 543.9,1931.6 545.5,1931.6 545.5,1931.8 547.1,1931.8 547.1,1932.0 548.7,1932.0 548.7,1931.3 550.3,1931.3 550.3,1930.2 551.8,1930.2 551.8,1931.8 553.4,1931.8 553.4,1930.5 555.0,1930.5 555.0,1931.2 556.5,1931.2 556.5,1930.1 558.1,1930.1 558.1,1930.3 559.6,1930.3 559.6,1930.0 561.2,1930.0 561.2,1929.7 562.7,1929.7 562.7,1929.4 564.3,1929.4 564.3,1930.3 565.8,1930.3 565.8,1930.4 567.4,1930.4 567.4,1930.6 568.9,1930.6 568.9,1928.3 570.5,1928.3 570.5,1929.8 572.0,1929.8 572.0,1928.5 573.7,1928.5 573.7,1931.4 575.3,1931.4 575.3,1936.3 577.0,1936.3 577.0,1941.4 578.7,1941.4 578.7,1948.0 580.3,1948.0 580.3,1955.9 582.0,1955.9 582.0,1966.2 583.7,1966.2 583.7,1969.4 585.3,1969.4 585.3,1972.4 587.0,1972.4 587.0,1974.4 588.7,1974.4 588.7,1978.9 590.3,1978.9 590.3,1981.2 592.0,1981.2 592.0,1981.4 593.7,1981.4 593.7,1983.2 595.3,1983.2 595.3,1985.8 597.0,1985.8 597.0,1981.1 598.7,1981.1 598.7,1976.9 600.3,1976.9 600.3,1967.7 602.0,1967.7 602.0,1958.1 603.6,1958.1 603.6,1951.6 605.2,1951.6 605.2,1948.1 606.8,1948.1 606.8,1938.0 608.4,1938.0 608.4,1937.8 610.0,1937.8 610.0,1927.7 611.5,1927.7 611.5,1927.7 613.0,1927.7 613.0,1921.0 614.5,1921.0 614.5,1913.5 616.0,1913.5 616.0,1916.8 617.5,1916.8 617.5,1922.3 619.0,1922.3 619.0,1926.8 620.5,1926.8 620.5,1932.7 622.0,1932.7 622.0,1933.3 623.6,1933.3 623.6,1933.1 625.2,1933.1 625.2,1931.1 626.8,1931.1 626.8,1933.2 628.4,1933.2 628.4,1932.0 630.0,1932.0 630.0,1924.8 631.7,1924.8 631.7,1933.4 633.3,1933.4 633.3,1947.3 635.0,1947.3 635.0,1952.6 636.7,1952.6 636.7,1951.5 638.3,1951.5 638.3,1955.4 640.0,1955.4 640.0,1956.3 641.7,1956.3 641.7,1955.5 643.3,1955.5 643.3,1953.7 645.0,1953.7 645.0,1960.1 646.7,1960.1 646.7,1955.5 648.3,1955.5 648.3,1959.1 650.0,1959.1 650.0,1956.5 651.7,1956.5 651.7,1954.2 653.3,1954.2 653.3,1952.5 655.0,1952.5 655.0,1954.3 656.7,1954.3 656.7,1952.3 658.3,1952.3 658.3,1952.8 660.0,1952.8 660.0,1952.8 661.7,1952.8 661.7,1955.6 663.3,1955.6 663.3,1972.2 665.0,1972.2 665.0,1980.3 666.7,1980.3 666.7,1984.1 668.3,1984.1 668.3,1986.7 670.0,1986.7 670.0,1995.6 671.7,1995.6 671.7,1992.7 673.3,1992.7 673.3,1999.2 675.0,1999.2 675.0,2002.7 676.7,2002.7 676.7,2007.5 678.3,2007.5 678.3,1999.9 680.0,1999.9 680.0,2004.2 681.7,2004.2 681.7,2006.3 683.3,2006.3 683.3,2008.5 685.0,2008.5 685.0,2008.8 686.8,2008.8 686.8,2004.1 688.5,2004.1 688.5,1998.9 690.2,1998.9 690.2,1998.3 692.0,1998.3 692.0,1988.3 693.6,1988.3 693.6,1996.8 695.2,1996.8 695.2,2004.4 696.8,2004.4 696.8,2008.9 698.4,2008.9 698.4,2013.5 700.0,2013.5 700.0,2021.4 701.7,2021.4 701.7,2016.4 703.3,2016.4 703.3,2012.7 705.0,2012.7 705.0,2001.1 706.7,2001.1 706.7,2009.5 708.3,2009.5 708.3,2003.9 710.0,2003.9 710.0,1992.5 711.8,1992.5 711.8,1992.5 713.5,1992.5 713.5,1987.5 715.2,1987.5 715.2,1981.4 717.0,1981.4 717.0,1972.3 718.6,1972.3 718.6,1970.5 720.2,1970.5 720.2,1971.0 721.8,1971.0 721.8,1975.2 723.4,1975.2 723.4,1972.1 725.0,1972.1 725.0,1967.8 726.7,1967.8 726.7,1975.8 728.3,1975.8 728.3,1972.5 730.0,1972.5 730.0,1975.6 731.7,1975.6 731.7,1971.4 733.3,1971.4 733.3,1965.8 735.0,1965.8 735.0,1954.8 736.7,1954.8 736.7,1948.8 738.3,1948.8 738.3,1933.8 740.0,1933.8 740.0,1936.5 741.6,1936.5 741.6,1935.9 743.2,1935.9 743.2,1934.6 744.8,1934.6 744.8,1941.4 746.4,1941.4 746.4,1936.1 748.0,1936.1 748.0,1937.6 749.6,1937.6 749.6,1939.3 751.2,1939.3 751.2,1942.3 752.8,1942.3 752.8,1936.1 754.4,1936.1 754.4,1937.8 756.0,1937.8 756.0,1941.3" fill="none" stroke="#e6332a" stroke-width="2.9" stroke-linejoin="miter" stroke-linecap="miter"/>
<polygon points="599.5,2261.8 609.7,2271.4 604.3,2271.4 604.3,2285 594.7,2285 594.7,2271.4 589.3,2271.4" fill="#2a74b8"/>
<line x1="94" y1="2252.9" x2="744.6" y2="2252.9" stroke="#000" stroke-width="6" stroke-linecap="butt"/>
<line x1="95" y1="2252.9" x2="95" y2="2261.9" stroke="#000" stroke-width="2.8" stroke-linecap="butt"/>
<line x1="260" y1="2252.9" x2="260" y2="2261.9" stroke="#000" stroke-width="2.8" stroke-linecap="butt"/>
<line x1="425" y1="2252.9" x2="425" y2="2261.9" stroke="#000" stroke-width="2.8" stroke-linecap="butt"/>
<line x1="590" y1="2252.9" x2="590" y2="2261.9" stroke="#000" stroke-width="2.8" stroke-linecap="butt"/>
<line x1="756" y1="2252.9" x2="756" y2="2261.9" stroke="#000" stroke-width="2.8" stroke-linecap="butt"/>
<line x1="177.5" y1="2252.9" x2="177.5" y2="2259.9" stroke="#000" stroke-width="2.2" stroke-linecap="butt"/>
<line x1="342.5" y1="2252.9" x2="342.5" y2="2259.9" stroke="#000" stroke-width="2.2" stroke-linecap="butt"/>
<line x1="507.5" y1="2252.9" x2="507.5" y2="2259.9" stroke="#000" stroke-width="2.2" stroke-linecap="butt"/>
<line x1="673.0" y1="2252.9" x2="673.0" y2="2259.9" stroke="#000" stroke-width="2.2" stroke-linecap="butt"/>
<text x="97" y="2276.7000000000003" font-size="11.3" fill="#000" font-weight="bold" text-anchor="middle" textLength="18.8" lengthAdjust="spacingAndGlyphs" stroke="#000" stroke-width="0.25">190</text>
<text x="262.5" y="2276.7000000000003" font-size="11.3" fill="#000" font-weight="bold" text-anchor="middle" textLength="18.8" lengthAdjust="spacingAndGlyphs" stroke="#000" stroke-width="0.25">195</text>
<text x="425" y="2276.7000000000003" font-size="11.3" fill="#000" font-weight="bold" text-anchor="middle" textLength="18.8" lengthAdjust="spacingAndGlyphs" stroke="#000" stroke-width="0.25">200</text>
<text x="592.7" y="2276.7000000000003" font-size="11.3" fill="#000" font-weight="bold" text-anchor="middle" textLength="18.8" lengthAdjust="spacingAndGlyphs" stroke="#000" stroke-width="0.25">205</text>
<text x="756.5" y="2276.7000000000003" font-size="11.3" fill="#000" font-weight="bold" text-anchor="middle" textLength="18.8" lengthAdjust="spacingAndGlyphs" stroke="#000" stroke-width="0.25">210</text>
<line x1="756.6" y1="1800.5" x2="756.6" y2="2255.7" stroke="#367d48" stroke-width="3.3" stroke-linecap="butt"/>
<line x1="746.6" y1="1829.8" x2="756.6" y2="1829.8" stroke="#367d48" stroke-width="2.6" stroke-linecap="butt"/>
<line x1="746.6" y1="1970.4" x2="756.6" y2="1970.4" stroke="#367d48" stroke-width="2.6" stroke-linecap="butt"/>
<line x1="746.6" y1="2110.7" x2="756.6" y2="2110.7" stroke="#367d48" stroke-width="2.6" stroke-linecap="butt"/>
<line x1="746.6" y1="2251.6" x2="756.6" y2="2251.6" stroke="#367d48" stroke-width="2.6" stroke-linecap="butt"/>
<line x1="750.6" y1="1900" x2="756.6" y2="1900" stroke="#367d48" stroke-width="2.2" stroke-linecap="butt"/>
<line x1="750.6" y1="2040.5" x2="756.6" y2="2040.5" stroke="#367d48" stroke-width="2.2" stroke-linecap="butt"/>
<line x1="750.6" y1="2181" x2="756.6" y2="2181" stroke="#367d48" stroke-width="2.2" stroke-linecap="butt"/>
<text x="762.1" y="1839.781" font-size="19.5" fill="#367d48" font-weight="bold" textLength="27" lengthAdjust="spacingAndGlyphs" stroke="#367d48" stroke-width="0.43">1.5</text>
<text x="762.1" y="1980.381" font-size="19.5" fill="#367d48" font-weight="bold" textLength="27" lengthAdjust="spacingAndGlyphs" stroke="#367d48" stroke-width="0.43">1.0</text>
<text x="762.1" y="2120.681" font-size="19.5" fill="#367d48" font-weight="bold" textLength="27" lengthAdjust="spacingAndGlyphs" stroke="#367d48" stroke-width="0.43">0.5</text>
<text x="762.1" y="2261.581" font-size="19.5" fill="#367d48" font-weight="bold" textLength="27" lengthAdjust="spacingAndGlyphs" stroke="#367d48" stroke-width="0.43">0.0</text>
<text x="34.4" y="1915.8" font-size="15.3" fill="#000" font-weight="bold" textLength="109" lengthAdjust="spacingAndGlyphs" transform="rotate(-90 34.4 1915.8)" stroke="#000" stroke-width="0.34">Movement (nm)</text>
<text x="32.4" y="2027.8" font-size="15.3" fill="#000" font-weight="bold" textLength="110" lengthAdjust="spacingAndGlyphs" transform="rotate(-90 32.4 2027.8)" stroke="#000" stroke-width="0.34">Azimuth angle (°)</text>
<text x="31.4" y="2131" font-size="15.3" fill="#000" font-weight="bold" textLength="100.2" lengthAdjust="spacingAndGlyphs" transform="rotate(-90 31.4 2131)" stroke="#000" stroke-width="0.34">Polar angle (°)</text>
<text x="26.5" y="2211.6" font-size="15.3" fill="#000" font-weight="bold" textLength="47.2" lengthAdjust="spacingAndGlyphs" transform="rotate(-90 26.5 2211.6)" stroke="#000" stroke-width="0.34">z (nm)</text>
<text x="426" y="2293.5" font-size="19" fill="#000" font-weight="bold" text-anchor="middle" textLength="72.5" lengthAdjust="spacingAndGlyphs" stroke="#000" stroke-width="0.42">Time (s)</text>
<text x="824.5" y="2255" font-size="21" fill="#367d48" font-weight="bold" textLength="428" lengthAdjust="spacingAndGlyphs" transform="rotate(-90 824.5 2255)" stroke="#367d48" stroke-width="0.46">Normalized fluorescence intensity  (n. a.u.)</text>
<text x="6" y="1794" font-size="52" fill="#000" font-weight="normal">d</text>
<text x="286.5" y="1781" font-size="29.5" fill="#3aa655" font-weight="bold" textLength="128.5" lengthAdjust="spacing" stroke="#3aa655" stroke-width="0.65">Dynamin</text>
<text x="304.5" y="1816" font-size="29.5" fill="#3aa655" font-weight="bold" textLength="57" lengthAdjust="spacing" stroke="#3aa655" stroke-width="0.65">ASM</text>
<text x="494.5" y="1781" font-size="28" fill="#000" font-weight="bold" textLength="80.5" lengthAdjust="spacing" stroke="#000" stroke-width="0.62">Static</text>
<text x="580" y="1781" font-size="28" fill="#e6332a" font-weight="bold" textLength="85.5" lengthAdjust="spacing" stroke="#e6332a" stroke-width="0.62">Super</text>
<text x="488.5" y="1816" font-size="28" fill="#000" font-weight="bold" textLength="93.5" lengthAdjust="spacing" stroke="#000" stroke-width="0.62">Period</text>
<text x="590" y="1816" font-size="28" fill="#e6332a" font-weight="bold" textLength="67.5" lengthAdjust="spacing" stroke="#e6332a" stroke-width="0.62">twist</text>
<text x="530.5" y="2298.5" font-size="28.8" fill="#2a74b8" font-weight="bold" textLength="171" lengthAdjust="spacing" stroke="#2a74b8" stroke-width="0.63">Detachment</text>
<text x="576" y="2332.5" font-size="28" fill="#2a74b8" font-weight="bold" textLength="77.5" lengthAdjust="spacing" stroke="#2a74b8" stroke-width="0.62">point</text>
</svg>
</body></html>
